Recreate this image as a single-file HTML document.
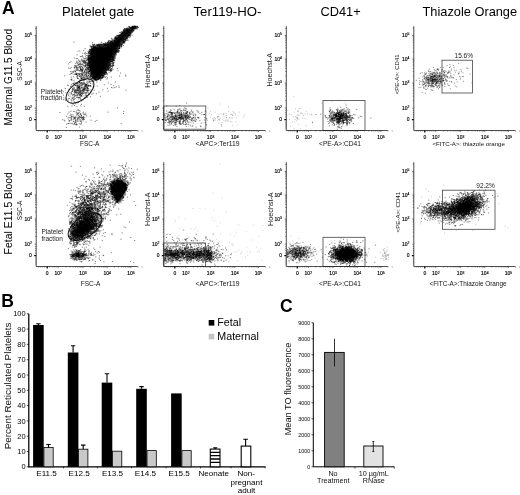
<!DOCTYPE html>
<html><head><meta charset="utf-8"><title>Figure</title>
<style>html,body{margin:0;padding:0;background:#fff}svg{display:block}text{font-family:"Liberation Sans", Arial, sans-serif}</style>
</head><body>
<svg width="520" height="495" viewBox="0 0 520 495">
<rect width="520" height="495" fill="#fff"/>
<defs><filter id="b1" x="-20%" y="-20%" width="140%" height="140%"><feGaussianBlur stdDeviation="0.9"/></filter><pattern id="hz" width="4" height="2.1" patternUnits="userSpaceOnUse"><rect width="4" height="1" fill="#111"/></pattern></defs>
<text x="2" y="14.3" font-size="17.5" text-anchor="start" font-weight="bold">A</text>
<text x="1.2" y="307" font-size="17.5" text-anchor="start" font-weight="bold">B</text>
<text x="280" y="312" font-size="17.5" text-anchor="start" font-weight="bold">C</text>
<text x="62" y="16.2" font-size="13" text-anchor="start">Platelet gate</text>
<text x="193.5" y="16" font-size="13.2" text-anchor="start">Ter119-HO-</text>
<text x="320.5" y="16" font-size="12.8" text-anchor="start">CD41+</text>
<text x="422.5" y="16" font-size="12.8" text-anchor="start">Thiazole Orange</text>
<text x="12.3" y="77.3" font-size="10" text-anchor="middle" transform="rotate(-90 12.3 77.3)">Maternal G11.5 Blood</text>
<text x="12.5" y="213.3" font-size="10.45" text-anchor="middle" transform="rotate(-90 12.5 213.3)">Fetal E11.5 Blood</text>
<path d="M94 78.6C92.7 76.9 91.3 71.9 90.6 68.5C89.9 65.1 89.7 61.3 89.9 58.1C90.1 54.9 91 51.4 92 49.5C93 47.5 93.4 47 95.8 46.3C98.2 45.7 103.7 46.1 106.4 45.4C109 44.7 109.7 43.5 111.6 42.2C113.5 40.9 115.8 39.3 117.9 37.6C119.9 35.9 121.9 33.6 123.9 32.1C125.8 30.6 127.3 29.5 129.6 28.5C131.9 27.4 136.3 26.3 137.5 25.9C138.7 25.5 137.6 25.7 136.8 26.3C136 26.9 134.5 27.8 132.8 29.5C131.1 31.2 128.7 34.1 126.6 36.6C124.6 39 122.2 41.7 120.4 44.2C118.6 46.7 117.2 49.3 115.8 51.8C114.3 54.3 113.1 56.9 111.8 59.4C110.5 61.9 109.4 64.4 108 66.8C106.6 69.3 105.1 72.2 103.5 74.1C102 76.1 100.3 77.8 98.7 78.5C97.1 79.2 95.4 80.2 94 78.6Z" fill="#000" filter="url(#b1)"/>
<path d="M128.7 35.8h.1M104.6 68.8h.1M113.3 54h.1M94.5 44.6h.1M107.4 45.5h.1M107.8 66.6h.1M92.9 78h.1M110.7 59.5h.1M113.2 56.9h.1M126.8 29.9h.1M107 44.5h.1M103.3 44.4h.1M99.8 44.3h.1M124.5 32.8h.1M132.3 27.5h.1M135.4 27h.1M94.9 78.3h.1M115.2 56.4h.1M130.3 36.5h.1M95.7 80h.1M94.5 47.3h.1M91 54.7h.1M129.2 32.6h.1M91.9 72.3h.1M92.5 73h.1M134.1 27h.1M127.2 30.7h.1M104.3 73.7h.1M128.4 35.4h.1M133.9 27.3h.1M132.5 28.4h.1M98.7 43.9h.1M92.9 77.2h.1M90 49.2h.1M122.4 43.4h.1M91.2 47.4h.1M115.6 38.7h.1M93.4 78.3h.1M113.2 63.1h.1M91.2 56h.1M101.8 44.3h.1M109.2 68.9h.1M133.1 27.4h.1M109.8 64h.1M128 37.4h.1M116.4 49.9h.1M89.4 66h.1M137.7 26.7h.1M133.4 28.1h.1M108.1 66.8h.1M114.7 39.9h.1M131.6 32.5h.1M89.9 70h.1M119 38.2h.1M108.4 40.7h.1M88.7 56h.1M113.2 59.8h.1M117.8 38.3h.1M98.6 79.1h.1M132.4 31.4h.1M129.5 33.1h.1M125.6 36.2h.1M123.3 42.5h.1M86.8 55.5h.1M123.8 33.6h.1M97.4 45h.1M119.2 35h.1M90.5 64.6h.1M100.4 80.1h.1M95.5 48.3h.1M123.2 40.2h.1M106.4 43.6h.1M107.9 67h.1M124.2 39.3h.1M89.4 58.7h.1M110.5 63.2h.1M102.6 76.9h.1M104.5 71h.1M133.2 27.7h.1M91.3 57h.1M90.5 50.2h.1M103.7 75.3h.1M137.2 29.1h.1M91.6 51.5h.1M105.6 67.6h.1M126.2 36.9h.1M132.4 27.6h.1M117.5 39.5h.1M121.2 35.7h.1M97.7 44.6h.1M91.7 73.4h.1M109.2 68h.1M126.7 29.6h.1M137 27.8h.1M109.6 43.4h.1M118.5 51.8h.1M91.2 75.3h.1M115.9 38.3h.1M92.4 74.7h.1M89.7 61.1h.1M98.6 77.9h.1M126.6 40.1h.1M122.5 33.1h.1M136.3 27.8h.1M107.9 66.8h.1M111.3 40.5h.1M132 32h.1M122.4 42.7h.1M114.5 41.1h.1M134.7 26.6h.1M114.3 52h.1M103.7 71.3h.1M90.3 55.7h.1M102.5 74.3h.1M92.5 78.5h.1M117.9 51.7h.1M113.9 60h.1M89.2 58.6h.1M119.9 32.5h.1M113 59.6h.1M94.1 76.7h.1M128.7 36.6h.1M114.5 56.7h.1M134.1 28.5h.1M119.1 47.3h.1M95.3 46.2h.1M93.2 50.7h.1M114.9 38.8h.1M91.5 52.1h.1M113 41.1h.1M100.6 74.8h.1M132.9 28.8h.1M111.9 42h.1M103 45.4h.1M99.6 75.7h.1M123.5 30.8h.1M96.3 77.5h.1M134.4 26.9h.1M105 69.6h.1M117.5 49.7h.1M133.5 31.3h.1M122.3 34.2h.1M107.6 67.5h.1M120.6 34.3h.1M104.8 73.7h.1M92.8 67.9h.1M123.1 33.4h.1M135.6 27.4h.1M99.9 76.4h.1M100.1 46.8h.1M111.3 57.4h.1M123.7 41.5h.1M119.3 45.1h.1M128.2 35.6h.1M98.9 79.2h.1M111.8 42.6h.1M118.3 35.7h.1M91.3 46.7h.1M91.4 72h.1M94.5 47.7h.1M104.6 72.4h.1M110.1 62.3h.1M89.7 61.8h.1M130.3 33.1h.1M128.8 29.6h.1M131.2 31.2h.1M125.7 40.6h.1M107.4 44.4h.1M99.9 77.7h.1M127.5 30.9h.1M127.9 34.2h.1M126.8 36h.1M89 50.4h.1M90.9 69.9h.1M120.6 35.2h.1M115.3 52.1h.1M111.9 59.6h.1M119.1 48.3h.1M89.6 61.4h.1M106.5 73.2h.1M113.4 57.3h.1M108.7 68.7h.1M105.9 73.1h.1M92.9 71.8h.1M92.4 74h.1M93.7 75.3h.1M99.7 46.3h.1M98.8 48.1h.1M90.7 51.3h.1M133.8 28.6h.1M92.5 72.9h.1M131 31.2h.1M90.9 54h.1M123.8 42.1h.1M94.2 75.3h.1M108.1 44.8h.1M102.7 75.6h.1M112.6 59.5h.1M124.3 38.8h.1M128.9 33.4h.1M91.8 50h.1M132.1 28h.1M92.5 72.8h.1M114.3 58.4h.1M100.7 78.9h.1M109 64.8h.1M90 71.8h.1M112.6 43.1h.1M110 45.4h.1M90.4 61.9h.1M127.2 35.6h.1M112.3 56.3h.1M108.1 44.9h.1M108.4 65.9h.1M111.2 55h.1M89 59.7h.1M114.2 52.4h.1M106.6 68.1h.1M92.2 49.5h.1M134.6 30h.1M125.8 35.5h.1M128.7 33.2h.1M89.6 64h.1M125.1 39.7h.1M128.8 35.5h.1M110.7 60.2h.1M111.8 57h.1M110.9 44.2h.1M119.2 46.5h.1M106.9 66h.1M107.5 69.6h.1M91.6 54.5h.1M93.7 74.5h.1M125.8 38.3h.1M94 47h.1M133.2 27.3h.1M103.2 76.9h.1M116.1 37.9h.1M99.5 44.3h.1M124.9 29.2h.1M124.8 39h.1M88.1 63.7h.1M116.7 38.3h.1M89.7 58.6h.1M124 39.1h.1M111.2 61.4h.1M116.6 38.1h.1M116.6 39.7h.1M93.9 46.4h.1M98.1 45.6h.1M112.2 44.8h.1M125.5 30.9h.1M89.2 66.9h.1M116.1 50.1h.1M132.7 29.1h.1M107.6 46.3h.1M89.6 67.3h.1M115.6 52h.1M88.4 59.3h.1M91.5 58.9h.1M89 58.8h.1M90.4 66.7h.1M106.1 72.4h.1M103 46.3h.1M107.7 44h.1M113.1 62.6h.1M127.2 34.1h.1M92.4 50.5h.1M123.1 32.3h.1M106.6 67.4h.1M115.4 38.1h.1M121.6 46.5h.1M90.7 63.8h.1M117.1 46.7h.1M115.7 54.8h.1M113 61.7h.1M123.5 41.2h.1M114.3 38.2h.1M91.7 69.3h.1M134.2 26.3h.1M115 50.7h.1M92.7 50.5h.1M101.9 44.5h.1M119.1 51.6h.1M106.2 70.1h.1M90.1 60.1h.1M90.5 50.9h.1M114.6 57.8h.1M126.8 37.4h.1M117.6 45.9h.1M95 79.3h.1M104 76.6h.1M109.6 62.3h.1M113.9 54.3h.1M117.9 36h.1M127 37.2h.1M92.4 51.4h.1M116.1 51.7h.1M115.8 51.2h.1M119.1 46.8h.1M123.9 31.8h.1M115 37h.1M121.8 33.3h.1M93.3 73.3h.1M111 63.4h.1M117.2 38.2h.1M118.4 46.6h.1M117.8 39h.1M112 61.3h.1M103.6 72.5h.1M119.2 38.5h.1M88.3 57.4h.1M115.4 50.9h.1M95.1 78.6h.1M91 56.6h.1M118.3 45.2h.1M109.3 59.9h.1M103.3 73h.1M89.7 60h.1M92.6 64.6h.1M96.7 80h.1M91.5 60.7h.1M91.8 52.9h.1M132.4 28.3h.1M124.7 30.9h.1M115.7 49.7h.1M89.8 49.4h.1M104.2 71.8h.1M94.6 47.3h.1M116 53.4h.1M89.2 68.3h.1M128.6 29.4h.1M91.1 74.2h.1M108.3 44.2h.1M107.9 43.3h.1M118.3 45.7h.1M126.4 30.6h.1M89.8 71.1h.1M94.4 79.6h.1M107.6 68.7h.1M107.4 74h.1M99.3 45.2h.1M118.4 37.5h.1M95.5 46.3h.1M91.7 60.2h.1M90.8 74.1h.1M90.3 59.2h.1M91.8 52.4h.1M110.2 65.9h.1M129.3 28.4h.1M91.9 51.1h.1M123.6 41.4h.1M102.1 47.3h.1M135.8 27h.1M104.5 45.8h.1M133.9 26.7h.1M128.2 36.2h.1M137.2 26.6h.1M118.7 35.6h.1M114.2 56h.1M107.8 67.6h.1M92.9 52.4h.1M90.5 57.9h.1M89.7 62.5h.1M97.7 78.7h.1M102.2 76h.1M96.6 44.8h.1M98.6 79.5h.1M92.6 46.3h.1M133 26.9h.1M132.2 28.3h.1M106 72.6h.1M91.2 73.4h.1M107.7 42.6h.1M130.6 31.4h.1M89.3 69.6h.1M96.7 45.2h.1M126.2 28.7h.1M107.9 68.2h.1M117.3 51.6h.1M111.7 61.7h.1M115.5 51.4h.1M121.4 45.3h.1M109.4 64.2h.1M124 42.6h.1M116.8 48.7h.1M105.9 43.9h.1M90.9 53h.1M116.9 51.7h.1M88.8 52.8h.1M103.9 72.9h.1M129.9 30.5h.1M111.1 43.2h.1M102.6 74.9h.1M88.5 54.9h.1M132.7 26.3h.1M89 65.6h.1M98.5 77.4h.1M132.4 29h.1M113.4 57.8h.1M103.6 43.5h.1M112.2 56.4h.1M121.4 44.5h.1M126.8 37.7h.1M100.8 76.3h.1M122.7 32.5h.1M120.5 35.4h.1M119.9 42h.1M111.2 61.5h.1M111.6 41.5h.1M123.5 40.1h.1M94.7 49.2h.1M115.5 53h.1M90.1 69.9h.1M119.9 47.7h.1M93.6 76.4h.1M100.7 77.7h.1M127.2 29.2h.1M120.3 35.5h.1M119.6 46.3h.1M135.3 26.6h.1M119.3 48.6h.1M90.8 66.3h.1M134.8 27.8h.1M135.1 27h.1M103.4 75.6h.1M93.5 73.1h.1M125.9 31.3h.1M127.4 35.8h.1M136.4 26.9h.1M90.7 67.4h.1M130.2 30.7h.1M92.9 44.4h.1M91.4 48h.1M108.2 68.7h.1M92.7 48.8h.1M124.8 28.8h.1M117.2 50.9h.1M119.6 44.5h.1M135.2 26.9h.1M112.9 58.3h.1M126.6 29h.1M129 35.2h.1M113.8 60.7h.1M122.4 40.7h.1M127 38.3h.1M120.5 35.8h.1M133.8 26.6h.1M119 37.2h.1M117.1 49.5h.1M116 37.1h.1M127.1 28h.1M116.1 50.2h.1M132.4 28h.1M112.8 43.1h.1M110.8 61.1h.1M116.6 39h.1M109.7 63.2h.1M113.2 54.7h.1M124.4 32h.1M119 45.4h.1M91.2 73.7h.1M117.4 35.5h.1M106.4 64.6h.1M132.3 29.7h.1M135.6 27.4h.1M125.1 39.9h.1M122.9 41.2h.1M132.1 30.2h.1M121.9 34.8h.1M91 50.4h.1M106.1 44.5h.1M105.5 44.6h.1M123.2 32.6h.1M94.3 78.3h.1M114.8 41h.1M124.3 31.6h.1M115.4 38.5h.1M132.8 29.7h.1M102.1 77.7h.1M108 70.1h.1M117 39.3h.1M101.9 46.9h.1M108.9 69.5h.1M129.4 26.5h.1M122 41.4h.1M90.7 67.4h.1M108.3 65.6h.1M108.5 44.3h.1M132 29.4h.1M92.1 48.7h.1M123 35.4h.1M110 59.9h.1M111.9 61.7h.1M128.2 30.1h.1M115.6 53h.1M125.9 30h.1M115.1 37.7h.1M92.3 49h.1M109.2 43.9h.1M121.5 46h.1M116.4 54.1h.1M92.1 70.5h.1M117.9 48.3h.1M112.4 60h.1M124.4 31.4h.1M88.3 70.8h.1M123.5 42.5h.1M98.6 45.8h.1M126.3 37.4h.1M117.2 39.6h.1M127.1 36.8h.1M99.9 45.5h.1M135.3 26.3h.1M125.3 33.7h.1M93.1 49.2h.1M100 78.4h.1M105.9 46.7h.1M107.9 44.7h.1M99.9 45.8h.1M90.1 69.1h.1M121.9 33.7h.1M114.7 53h.1M121 45.8h.1M92 49.3h.1M90.3 58.3h.1M110.2 44.2h.1M115.7 52.2h.1M129.7 27.4h.1M102.1 72.9h.1M125.8 39.2h.1M129.5 35.5h.1M115.2 53h.1M117.1 50.5h.1M113.1 42.6h.1M100.3 44.5h.1M121.8 31.7h.1M131.1 28.2h.1M91.5 57.5h.1M124.6 32.3h.1M127.9 37.4h.1M88.1 59h.1M88.5 58h.1M89.3 51.7h.1M104.1 45.8h.1M100.1 77.1h.1M92.9 75.7h.1M91.1 51.2h.1M92.3 53.8h.1M127.8 28.3h.1M91.9 78h.1M127 31.6h.1M92.6 54h.1M101.7 44.9h.1M112.9 56.1h.1M93.7 52.4h.1M130.3 35.2h.1M119.6 35.5h.1M121.8 34.2h.1M114.2 60.8h.1M90.4 55.1h.1M103.8 73.1h.1M106.6 69.6h.1M123.3 39.2h.1M92.4 71.4h.1M125.2 39.9h.1M129.7 32.6h.1M114.7 53.8h.1M93 46.3h.1M102.1 77.9h.1M108.4 68.8h.1M89.6 61.6h.1M108.3 43.1h.1M90.8 75.1h.1M110.3 61.4h.1M106.2 74.2h.1M95.4 78h.1M129.2 33.8h.1M123.4 38.9h.1M122.7 40.7h.1M133.3 28.5h.1M101.7 78.6h.1M128.6 32h.1M110.8 41.8h.1M133.8 27.2h.1M93.6 76h.1M117.6 45.9h.1M121 44.2h.1M121.9 35.2h.1M110.3 64.5h.1M116.2 51.3h.1M112.2 43h.1M90.9 67.5h.1M91.3 59.2h.1M89.9 50.4h.1M107.4 45.9h.1M124.5 30.1h.1M104.2 75.9h.1M103.2 46.1h.1M104.7 69.9h.1M123.7 43h.1M110.8 65.2h.1M119.6 36.6h.1M93.7 78.2h.1M114.8 55.9h.1M98.9 45.3h.1M87.9 56.9h.1M112.6 56.2h.1M123.1 42.8h.1M95.1 47.8h.1M101.1 42.3h.1M101.5 75.4h.1M102.5 47.9h.1M120.6 44.5h.1M89.7 59.5h.1M114.1 59.4h.1M90 61.7h.1M134 26.6h.1M91.1 73.6h.1M109.5 62.3h.1M88.8 65.5h.1M102.2 45.1h.1M115.8 51.5h.1M130.4 33.5h.1M108 44.1h.1M126.4 34.5h.1M124.3 29.1h.1M107.9 64.5h.1M105.2 43.4h.1M117.3 51.9h.1M127.4 36.1h.1M116.4 48.6h.1M116.8 38h.1M119.4 48.2h.1M121.4 44.4h.1M118 36.8h.1M91.1 74.7h.1M99.4 77.8h.1M119.9 45.9h.1M94.5 50h.1M118.6 48.4h.1M103.6 45.4h.1M127.6 29.6h.1M110 65.2h.1M124.3 30.3h.1M105.5 47.8h.1M107.2 43.9h.1M91.4 67.5h.1M93.8 46.1h.1M101.8 42.7h.1M90.8 52.7h.1M90.3 69.8h.1M127.2 29.9h.1M94.2 47.1h.1M118.6 49.7h.1M105.3 74.3h.1M103 46.3h.1M132.3 27.8h.1M133.4 27.9h.1M89.4 67.6h.1M88.4 60.5h.1M107.7 69h.1M128.9 29.7h.1M112.1 58.1h.1M91.5 69.1h.1M131.3 31.3h.1M110 66.7h.1M107.3 65.5h.1M93 77.9h.1M134.9 26.3h.1M115.2 37.8h.1M116.2 51.4h.1M88.2 68.2h.1M101.6 44.7h.1M113.2 59.1h.1M126.6 28.3h.1M124 29.7h.1M97.1 77.5h.1M109 41.9h.1M91.9 72.2h.1M118.4 37.3h.1M91.2 56.3h.1M92.7 66.6h.1M134.1 28.6h.1M100.3 76h.1M133.4 30.3h.1M124.4 37.6h.1M108.5 41.2h.1M133.3 27.6h.1M116.2 50h.1M130.9 30.5h.1M112.4 57.6h.1M136.9 28.1h.1M92.8 49.2h.1M132.9 30.1h.1M130.3 28.6h.1M92.5 54.2h.1M128.9 34.7h.1M110.6 59h.1M88.9 58.5h.1M119 48.4h.1M119.7 35.5h.1M102.5 47.4h.1M116.9 39.1h.1M137.7 27.7h.1M122.9 43.4h.1M134.8 28.3h.1M89.5 62.8h.1M111.5 59.6h.1M103.9 73.9h.1M87.9 63.1h.1M99.4 46.4h.1M90.6 52.3h.1M109 64.1h.1M106.3 72.9h.1M91.9 71.8h.1M111.7 43.4h.1M93.3 50.1h.1M129 31.3h.1M104.6 73.4h.1M88.2 68.3h.1M92.4 54h.1M129.2 27.2h.1M135.1 26.2h.1M116.3 50.1h.1M123.8 32.3h.1M90.4 57.4h.1M113.8 41.8h.1M96.5 80.7h.1M115.1 49.1h.1M88.5 61.8h.1M112.6 58.3h.1M108.3 44.1h.1M114.3 54.8h.1M93.1 77.4h.1M108.7 66.4h.1M90 53.7h.1M125.6 29.8h.1M122.9 38h.1M88.4 52.7h.1M88.1 57.4h.1M104.1 44.2h.1M93 70.6h.1M94.5 47.2h.1M90.9 58.4h.1M127.4 30h.1M112.8 39.2h.1M131.3 30.4h.1M104.4 44.5h.1M94 73.8h.1M111.2 43h.1M116.6 50.6h.1M99.7 46.7h.1M120.5 35.8h.1M118.2 52.3h.1M120.1 36.2h.1M106.6 69.3h.1M103.7 73.3h.1M107.1 42.5h.1M119.1 50.2h.1M99.5 46.2h.1M90.6 57.9h.1M123 33h.1M131.2 33.3h.1M101.2 74.8h.1M88.7 56.1h.1M121.2 46.5h.1M128.6 28.9h.1M89.6 58.9h.1M98 79.4h.1M121.6 44.3h.1M91.2 59.4h.1M106.2 72.3h.1M89.5 63.2h.1M91.1 65.2h.1M110.4 42.5h.1M103.1 75.1h.1M93.4 72.9h.1M102.2 72.4h.1M128.8 33h.1M88.6 69.3h.1M132.6 27.4h.1M125.6 29h.1M133.9 27.2h.1M117.7 48.6h.1M123.8 41.4h.1M94.7 78.4h.1M91.2 55.1h.1M111.3 58.6h.1M120 35.5h.1M113.7 54.6h.1M105.7 68.5h.1M95.5 79.5h.1M101.6 46.5h.1M124.8 29.9h.1M101.5 75.3h.1M101.1 75.9h.1M115.7 38.8h.1M101.1 75.1h.1M119.5 36.5h.1M116.2 38.6h.1M116.6 52.1h.1M127.2 28.8h.1M123.2 30.4h.1M118.8 39.1h.1M123.6 32.9h.1M90.1 58h.1M90.7 69.8h.1M116.2 50.6h.1M134.8 28.8h.1M124.3 42h.1M112.6 57.5h.1M97 47.1h.1M96 45h.1M103.6 43.7h.1M107.8 44.6h.1M116.3 52.3h.1M116.4 38.7h.1M108.9 41.5h.1M126.9 36.3h.1M92.6 50.7h.1M89.8 62.3h.1M120.4 43.7h.1M116.9 51.2h.1M106.7 44.4h.1M127.6 36.3h.1M92.9 73.7h.1M122.2 38.7h.1M132.6 29.8h.1M100.4 49.4h.1M113 40.6h.1M130.3 34.6h.1M131.3 31h.1M90.8 55.1h.1M120.8 45.1h.1M90.1 66.6h.1M98.1 77.6h.1M93.2 49.3h.1M100 46.8h.1M91.3 47.9h.1M94.7 78.8h.1M105.3 44.7h.1M129.8 32.6h.1M96 79.6h.1M100.4 76.4h.1M91.2 73.2h.1M130.7 33.6h.1M120.2 43.8h.1M111.7 43.1h.1M109.6 40.6h.1M93.9 77.4h.1M92 72.9h.1M88.6 67.8h.1M92.6 48h.1M110.8 42.8h.1M86.8 67.7h.1M92.1 74.6h.1M104.7 74.5h.1M122.7 32.3h.1M94.2 49.2h.1M118.6 43.7h.1M92.4 77.8h.1M98.6 44.9h.1M99.3 77.4h.1M105.2 69.3h.1M125.9 34.5h.1M89.9 65h.1M110.2 44.3h.1M91.1 75.2h.1M93.7 45.7h.1M89.7 76h.1M89.2 60.2h.1M126.7 35.6h.1M90.9 63.1h.1M93.6 56.6h.1M104.5 71.1h.1M111.5 42.1h.1M110.6 41.4h.1M89.9 65.8h.1M114 56.9h.1M124.1 41.7h.1M129.9 35.4h.1M91.2 64.6h.1M100.1 46.5h.1M131.4 29.1h.1M102 78h.1M113.3 60.6h.1M126.7 38h.1M134.8 28.4h.1M93 77h.1M106.7 69.8h.1M90.3 68.6h.1M90.1 59.6h.1M122.8 42.7h.1M111.9 59.1h.1M114.5 55.7h.1M126 31.2h.1M91 52.8h.1M92.6 73.8h.1M109.3 64.1h.1M97.1 79.5h.1M98.7 46.1h.1M109.6 66.2h.1M118.7 35.9h.1M109.1 45.4h.1M95 76.8h.1M123.9 30.9h.1M91.6 49h.1M117.3 44.3h.1M132.7 28.2h.1M108.2 66.3h.1M105.2 70.7h.1M109.4 44.5h.1M103.4 44.2h.1M102.4 75.6h.1M132.2 26.6h.1M90.7 63.6h.1M91 72h.1M95.2 78.1h.1M132.6 29.5h.1M91.1 71.3h.1M133.9 26.9h.1M132.9 28h.1M124.4 34.2h.1M101 77.1h.1M101.5 75.4h.1M89.4 60h.1M91.2 55.9h.1M120 35.3h.1M113.1 63.6h.1M128.8 35h.1M118.4 48.6h.1M132.5 28.7h.1M95.4 49.8h.1M112.5 60h.1M94.3 76.6h.1M121.9 44.7h.1M92.3 49.4h.1M129.4 29.9h.1M97.6 79h.1M91.4 70.4h.1M122.8 33.4h.1M123.5 38.5h.1M91.5 70.7h.1M98.3 44.5h.1M90.5 76.6h.1M117.1 37.6h.1M131.9 26.7h.1M105.9 44.1h.1M127.1 40.2h.1M88.9 52.6h.1M105.1 71.5h.1M100.6 78.1h.1M130.6 27.9h.1M127 29.5h.1M109.4 65.5h.1M105.3 45.8h.1M111 56.2h.1M104.5 46.4h.1M117.3 45.4h.1M111 42h.1M130.5 32.6h.1M102 73.5h.1M90 71.4h.1M112.8 58.2h.1M115.4 36.7h.1M111.5 39h.1M90.7 68.2h.1M100.2 44.7h.1M129.2 35h.1M90.2 64h.1M123.8 40.1h.1M99.8 77.3h.1M96.7 77.9h.1M105.6 69.4h.1M112 58.4h.1M91.1 51.1h.1M98.9 77.1h.1M93.3 50h.1M108.9 67.4h.1M107.6 67.5h.1M129.1 34.9h.1M136 28.8h.1M93 49.6h.1M135 27h.1M105.8 45h.1M90.6 59.5h.1M88.7 59.8h.1M112.8 57.2h.1M104 74h.1M89.5 57.5h.1M93 77.1h.1M100.7 46.1h.1M88.8 58.5h.1M91.5 50.5h.1M132.8 30.4h.1M121.4 33.6h.1M122.1 32.8h.1M92.5 47.3h.1M125.2 40.7h.1M104.6 44.4h.1M118.1 35.3h.1M126.6 29.7h.1M106.4 72.3h.1M98.8 45.1h.1M117.4 44.8h.1M107.8 42.6h.1M106.3 70.1h.1M119.3 37.6h.1M133.2 27.5h.1M107.3 67.7h.1M124.9 42.9h.1M89.8 65.1h.1M91 58.4h.1M95.6 79.2h.1M93.6 74.5h.1M105.6 43h.1M99.7 77.2h.1M95.6 76.2h.1M91 53.9h.1M94 47.4h.1M90.6 66.5h.1M129.4 30.8h.1M131.8 32.2h.1M107.9 41.7h.1M92.1 61.7h.1M113.9 59.5h.1M112.6 57.1h.1M89.3 57.9h.1M137.1 26.8h.1M129.2 36.2h.1M121.7 33.4h.1M108.1 66.2h.1M118.1 36.3h.1M133.5 27.5h.1M91.5 61.2h.1M132.7 26.5h.1M115.1 52.4h.1M117.6 47.2h.1M100.9 44.3h.1M95 77.4h.1M117.5 46h.1M122.7 33.6h.1M121.3 34.5h.1M115 54.5h.1M89.9 52.6h.1M126.6 37.1h.1M120.1 46.2h.1M134.1 26.2h.1M106.5 67.1h.1M127.3 29.4h.1M127.1 30.7h.1M104.6 43.9h.1M104.9 72.7h.1M109.3 43.1h.1M119.4 42.1h.1M119.8 35.2h.1M101.9 74.7h.1M101.5 77.9h.1M92.6 75h.1M94.5 78.2h.1M130.7 33.8h.1M89.7 67.3h.1M131.1 27.7h.1M89.5 71.6h.1M91.8 51.2h.1M114.7 38.7h.1M107.7 45.1h.1M129.9 32.6h.1M111.8 60.4h.1M103.7 77.4h.1M110.3 40.9h.1M133.7 29.2h.1M91.5 78.5h.1M115.9 38.5h.1M100.1 77.5h.1M88.6 60.2h.1M109.6 67.5h.1M128.1 40.2h.1M106.3 45.3h.1M114.1 54h.1M104.7 43.9h.1M105.8 69.3h.1M90 66.6h.1M93.5 60.2h.1M118.6 51.7h.1M124.3 30.2h.1M89.1 56.7h.1M105.4 42.6h.1M136.1 27.1h.1M118.4 50.5h.1M108.7 64.9h.1M91.2 69.6h.1M132.3 32.2h.1M97.1 79.9h.1M127.2 31.2h.1M115.5 53.2h.1M90.7 64.4h.1M107.3 66.5h.1M133.3 30.7h.1M106.5 69h.1M113.3 54.6h.1M108 66.6h.1M89.1 71.3h.1M118.2 44.8h.1M91.8 48.5h.1M101.8 44.8h.1M109.8 42.6h.1M129.4 30.5h.1M127 35.4h.1M103 74.9h.1M92.8 76.4h.1M92.4 49.8h.1M114.6 40.9h.1M112.9 59.9h.1M134.9 26.9h.1M115.2 51.4h.1M125.5 39h.1M104.9 45.2h.1M89 65.3h.1M127 31h.1M108 68.4h.1M130.7 32h.1M92.3 71.3h.1M123.3 31.8h.1M117.7 37.2h.1M132.3 30h.1M132.2 31.3h.1M100.3 76.1h.1M111.6 41.9h.1M120.7 34.4h.1M129.7 34.4h.1M108.1 69.8h.1M119.3 44.4h.1M129.1 30.6h.1M112.5 59.3h.1M129.3 27.7h.1M100.7 80.1h.1M104.8 45.3h.1M91.2 59.2h.1M112.5 61.5h.1M106.8 46.6h.1M108 63.3h.1M132.1 35.2h.1M132.6 26.8h.1M89.1 66.3h.1M115.3 55.1h.1M88.4 69.6h.1M99.1 78h.1M109 68.3h.1M107 45.3h.1M91.4 59h.1M108.1 70.3h.1M128.5 26.6h.1M88.6 60.2h.1M131 27.2h.1M98.6 45.8h.1M119.5 34.9h.1M127.5 38.4h.1M105.3 72.4h.1M113.9 57.9h.1M90 54.3h.1M128.1 28.3h.1M130.5 27.5h.1M95.6 79.5h.1M91 65.9h.1M133.1 26.3h.1M107.2 74h.1M119.7 35.9h.1M101.3 45.5h.1M109.2 42.6h.1M104.1 74.2h.1M91.9 65.9h.1M93.5 47.1h.1M90.7 66.1h.1M119.1 45.1h.1M106.1 45.3h.1M105.5 70.4h.1M106.5 70.4h.1M105.3 77.7h.1M100.6 44.8h.1M93.6 79h.1M118 37.8h.1M98.6 76.8h.1M114.9 52.1h.1M92.1 69.8h.1M119.6 43.1h.1M104.4 72.7h.1M98.7 78.6h.1M118.9 44.7h.1M107.7 65.2h.1M108.8 62.1h.1M114.5 40.1h.1M90.6 63.5h.1M119.4 48.5h.1M88 58h.1M116.8 38.7h.1M95.1 79.8h.1M135.8 28.6h.1M102 77.9h.1M104.3 45.1h.1M94.6 77.5h.1M105.6 72.3h.1M115.1 41.3h.1M110.1 43.8h.1M88.3 59.1h.1M104.9 73h.1M92 50.5h.1M92.7 77.1h.1M105.6 68.5h.1M131 32.6h.1M123 40.6h.1M117.7 47.1h.1M90.7 72.5h.1M90.9 65.1h.1M92.1 71.1h.1M116.7 48.3h.1M125.5 39.7h.1M127.9 33.9h.1M91.9 71h.1M97.4 45.1h.1M107.1 70.3h.1M91.2 59.8h.1M92 71h.1M103.3 75.7h.1M90.1 53.2h.1M120.2 35h.1M138.2 27.5h.1M121.3 47.8h.1M103 76h.1M116.4 48.2h.1M114.2 41.1h.1M91.9 67.6h.1M119.2 44.8h.1M97.6 79.4h.1M93.6 75.5h.1M113.9 54h.1M92.1 52.6h.1M124.3 28.7h.1M135.4 26.6h.1M128.8 34.8h.1M95.6 79.9h.1M122.6 42.7h.1M118.1 36.7h.1M119.4 45.7h.1M127.6 31h.1M121.7 35.4h.1M115.8 40h.1M130.5 28.1h.1M104.8 45.5h.1M98 45.6h.1M89.5 55.7h.1M123.8 31.7h.1M106.2 46.2h.1M108.6 61h.1M109.5 63.8h.1M112.9 42.4h.1M127.6 33.7h.1M106.1 71.6h.1M115.1 40.9h.1M135.6 28.2h.1M124.5 31.1h.1M126.1 38.4h.1M99.7 76.7h.1M89.3 57.1h.1M99.8 78.2h.1M122.9 39.8h.1M114 56.4h.1M129.7 37.3h.1M107.8 66.9h.1M108.5 42h.1M121.5 45.8h.1M100.8 44h.1M132.9 27.5h.1M124.2 42.7h.1M93.1 48h.1M90.7 69.6h.1M113.7 56.2h.1M113.5 58.6h.1M124.1 40h.1M109.9 43.5h.1M125.9 39.1h.1M91.8 66.6h.1M123.8 39h.1M132 28.1h.1M129.5 34.7h.1M123.7 29.7h.1M96 47.5h.1M119.6 48h.1M125.7 29.3h.1M118.9 50.4h.1M115 40.7h.1M89.5 65.9h.1M136.8 26.4h.1M127 33.2h.1M103.5 73h.1M108.2 69.6h.1M91.2 70.5h.1M115 53.3h.1M101.3 44.8h.1M122.3 44.7h.1M116.3 37.2h.1M110.1 44.7h.1M130.1 28h.1M121 42.5h.1M125.5 36.3h.1M123.1 42.1h.1M116.4 36.7h.1M122.8 40.7h.1M114 42.9h.1M128.5 32.1h.1M126 31.2h.1M134.5 28.2h.1M92.1 76.4h.1M131.4 27.5h.1M94.5 47.5h.1M118.1 37.4h.1M91.4 67.4h.1M125.6 38.6h.1M106.2 69.5h.1M111.6 38.3h.1M89 63.2h.1M128.2 34h.1M90.6 59.8h.1M106 69.4h.1M91.3 59.7h.1M114.8 40.1h.1M131.3 28.9h.1M88.1 61.2h.1M108.5 43.3h.1M103 45.3h.1M117.8 45h.1M96.2 77.5h.1M114.4 40.5h.1M113.6 55.5h.1M89.2 57.5h.1M132.1 30h.1M122.1 32h.1M105.1 44.5h.1M112.1 60.2h.1M114.9 48.6h.1M91.4 58.4h.1M105.7 44.6h.1M113.3 59.9h.1M95.5 79.4h.1M130.6 34.8h.1M108 67.1h.1M97.1 78.3h.1M117.7 49.6h.1M127.4 38.9h.1M95 46.1h.1M116.2 39.2h.1M128.3 34.8h.1M104.9 74.7h.1M106.4 44.6h.1M119.5 36.9h.1M90.7 75.9h.1M121.2 43.9h.1M124.6 32.3h.1M115.3 58.1h.1M97.1 45.4h.1M124.6 39.5h.1M124.1 41.2h.1M127.3 30.6h.1M92.1 50.1h.1M121.4 37.6h.1M118.5 50.7h.1M93.8 50.6h.1M89.3 64.8h.1M126.3 30h.1M97.6 46.3h.1M113.2 57.8h.1M112.1 60.3h.1M102.9 77.1h.1M113.1 63.8h.1M126 38.3h.1M90.3 49.9h.1M110.5 61h.1M119.1 48h.1M117 50.2h.1M120.7 43.2h.1M110.5 60.7h.1M106.1 45.2h.1M124.6 41.3h.1M134.9 26.4h.1M111.9 41.7h.1M110.6 42.5h.1M89.4 55.8h.1M131.3 30.1h.1M115.7 39h.1M120.2 32.4h.1M107.4 63.7h.1M121.8 41.2h.1M123.4 42h.1M96 77.1h.1M92.8 45h.1M133.4 29.7h.1M87.8 65.5h.1M116.8 35.4h.1M101.6 77.3h.1M89.9 65.3h.1M117.3 51.8h.1M107.9 66.5h.1M132.8 26.4h.1M112.3 56.8h.1M124.2 32.2h.1M112.8 39.6h.1M133.5 27.5h.1M92.1 49.4h.1M107.4 43.3h.1M108.4 45.3h.1M95.8 79.9h.1M110.4 41.5h.1M95.4 47.3h.1M102.1 75.6h.1M90.5 58h.1M99.7 78h.1M109.1 64.3h.1M125.2 37.2h.1M121.3 32h.1M93.2 49.7h.1M88.7 62.9h.1M89.9 63.8h.1M112.6 40.5h.1M119.1 35.9h.1M104 74.3h.1M137.5 26.3h.1M95.7 79.2h.1M119.4 47h.1M88.1 56.6h.1M91.2 54.2h.1M92 72.3h.1M102.7 76.6h.1M112 41.9h.1M90 50h.1M88.2 64h.1M125.2 37.6h.1M126.9 30.9h.1M92.4 77.6h.1M120 45.9h.1M99.7 45.7h.1M115.8 55.1h.1M130.3 28.7h.1M126.5 31h.1M121.6 40h.1M94.9 80.3h.1M111.7 56.7h.1M90.9 68.9h.1M131.3 28.1h.1M97.2 45.2h.1M90.1 63.5h.1M92.1 49.8h.1M99.2 47h.1M99.8 77.7h.1M116.7 49.2h.1M109.8 65.1h.1M121.3 44.1h.1M108.8 43h.1M117 35.5h.1M123.4 30.9h.1M105.9 45h.1M121.2 33.3h.1M115.3 52.6h.1M88.3 67.5h.1M102.9 44h.1M129.3 30h.1M124 41.7h.1M88.4 71.8h.1M93.3 77.3h.1M96.8 68.4h.1M92.4 49.8h.1M96.6 69.8h.1M91.3 75h.1M97.9 49.7h.1M91.9 55.2h.1M90.4 58.9h.1M93.9 71.9h.1M91.7 76.3h.1M97.6 69.6h.1M88.1 75.2h.1M95.6 57h.1M88.5 60.8h.1M93.7 46.6h.1M91.6 73.2h.1M94.2 64.4h.1M92.3 72.4h.1M92 58.6h.1M95.7 49.2h.1M97.4 59.9h.1M94.2 78.7h.1M92 69.1h.1M100.8 68.9h.1M95.5 76h.1M90.2 65.5h.1M87.7 64.2h.1M94.3 66.7h.1M92.5 42.7h.1M91.8 62.9h.1M95.1 76.8h.1M88.9 64.1h.1M94.9 57.6h.1M99.3 61.1h.1M92.3 56.3h.1M94.4 72.9h.1M93.4 45h.1M94.5 44.2h.1M87.9 51.7h.1M88.5 51.9h.1M84.7 53.4h.1M94.9 66.9h.1M89.9 49.5h.1M86.9 62.9h.1M91.1 49.8h.1M94.8 73.8h.1M95.6 54.6h.1M92.1 71.9h.1M92 51.2h.1M93.3 48.3h.1M95.3 77h.1M96.6 76.2h.1M92.5 72.5h.1M86.1 73.9h.1M100.8 48h.1M86 57.9h.1M89.9 65.6h.1M90.6 61.1h.1M88.8 76.9h.1M96.9 58h.1M87.8 53.8h.1M95.2 59.1h.1M98.4 67.3h.1M96.4 49.4h.1M88.8 55.4h.1M93.2 68.7h.1M95.3 55.6h.1M98.1 57h.1M95.3 64h.1M90.7 70.2h.1M90.1 76.8h.1M95.2 70.8h.1M100.3 52.5h.1M95.1 71.8h.1M97.6 58h.1M90.3 76h.1M93.6 54.3h.1M94.5 48.7h.1M97.6 59.2h.1M92.9 72.5h.1M94 72.2h.1M97.1 73.9h.1M94 77.5h.1M97.4 62.8h.1M89.5 58.2h.1M95.6 77.5h.1M99.2 53h.1M97.4 59.6h.1M92.2 56.2h.1M87.7 66h.1M95.8 69.2h.1M94.8 54.5h.1M85.8 64.4h.1M93.1 54.5h.1M86.1 71.1h.1M91.9 49.7h.1M98.9 78.6h.1M90.1 53.4h.1M92.5 52.7h.1M96.3 64.9h.1M89.7 74.4h.1M88.6 72.5h.1M98.1 61.9h.1M91.3 70.2h.1M97.5 52.7h.1M97.6 66.3h.1M96.6 49.9h.1M92.7 73.6h.1M91.1 65.2h.1M99.6 47h.1M97.1 74.9h.1M94.8 55.2h.1M95.1 58.3h.1M100.3 52.2h.1M91.9 58h.1M97.9 52.4h.1M94.3 78h.1M93.3 51.8h.1M96.5 66.2h.1M89 65.3h.1M99.8 55.2h.1M101.7 60.2h.1M89.8 68.4h.1M97.8 69.3h.1M85.9 63.1h.1M94.1 75.7h.1M91.2 55.9h.1M100 52.5h.1M94.8 76.2h.1M95.2 66.5h.1M93.5 47.6h.1M89.2 65.2h.1M96 52.3h.1M98.5 50.5h.1M88.3 75.6h.1M90.8 53.8h.1M92.4 73.3h.1M97.1 46.9h.1M92.4 67.1h.1M95.1 54.6h.1M89.9 46h.1M100.5 73.8h.1M92.7 46.2h.1M94.4 77.1h.1M86.6 69.3h.1M93.9 66.6h.1M94.1 76.2h.1M86.3 53.5h.1M87.3 55.6h.1M91.9 76.8h.1M92.5 66h.1M98.6 53.9h.1M95.2 74.8h.1M94.8 72.8h.1M87.6 68.8h.1M93.5 48h.1M93.1 62.1h.1M98.1 58.4h.1M90 62.5h.1M90.8 67.2h.1M91 60.8h.1M89.3 70.5h.1M95 60.3h.1M87.8 60h.1M91 52.4h.1M86.3 60.7h.1M90.4 54.2h.1M90.2 58.5h.1M93.1 56h.1M94.3 59.7h.1M87.1 67.6h.1M103.1 57.7h.1M91.9 56.4h.1M92.3 71.9h.1M89.9 71.8h.1M97 71.8h.1M93.1 76h.1M88.3 60.3h.1M92.4 69.6h.1M91.2 74.2h.1M87.3 64.8h.1M85.1 61.4h.1M95.9 67.9h.1M90.2 70.9h.1M97 75.1h.1M88 72.3h.1M98.7 49.1h.1M95 63h.1M98.1 49.6h.1M92.4 44.3h.1M91.9 49.9h.1M91.7 61.7h.1M96.2 78.4h.1M89.6 51.5h.1M98.3 55.5h.1M97.6 50.8h.1M93.7 75.8h.1M89.9 62.4h.1M92.1 68.5h.1M93.9 71.3h.1M94.8 46.3h.1M95.8 54.4h.1M99.1 53.8h.1M93.6 64.5h.1M95.8 67.3h.1M95.2 59.1h.1M89.3 79.8h.1M96.4 67.9h.1M92.7 75.7h.1M97.6 69.5h.1M93 79.3h.1M95.5 63.3h.1M100 55h.1M90.2 77.8h.1M99.4 62.2h.1M99.2 50.1h.1M88.7 71.6h.1M96 70.3h.1M94.3 51.6h.1M90.8 46.5h.1M95.3 74.8h.1M87.4 65.6h.1M88.9 67.4h.1M94.9 71.3h.1M91.3 68.1h.1M98.6 67.1h.1M86.3 65.6h.1M95.2 66.1h.1M89.2 51.4h.1M99.5 52.8h.1M95.3 52.3h.1M89.7 52.7h.1M96.9 46.9h.1M99.4 54.7h.1M89.5 70.1h.1M94.2 72.8h.1M93.4 66.3h.1M88.8 65.4h.1M86.8 64.9h.1M90 52h.1M95.2 63.4h.1M94 44.7h.1M90.6 58h.1M96.4 63.4h.1M87.9 66h.1M94.4 59.3h.1M94.9 63.1h.1M89.9 73.3h.1M96.3 49.6h.1M80.4 67.5h.1M80.7 70.7h.1M79.2 67.5h.1M80.1 71h.1M86.7 60.2h.1M83.5 62.4h.1M86.1 75.4h.1M84.7 65.8h.1M91.3 46.8h.1M92 72.8h.1M92.7 48.6h.1M79.3 86.9h.1M81.9 75.6h.1M82.5 75.3h.1M89.3 64h.1M83 57.2h.1M91.2 69.2h.1M92.9 72.1h.1M92.9 64.1h.1M80.9 69.6h.1M73.2 72.4h.1M79.9 73.7h.1M88.1 59.8h.1M83.1 68.8h.1M84.4 62.5h.1M91.3 75.9h.1M75.5 82.9h.1M85.2 86h.1M88.3 73.3h.1M73.4 76.8h.1M80.8 84.6h.1M80.9 68.5h.1M78 69.9h.1M71.2 73.5h.1M75.5 65.9h.1M87.9 65.3h.1M84.2 61.6h.1M85.6 69.7h.1M80 61.5h.1M79.9 75.8h.1M83.6 65.6h.1M71.1 79.7h.1M71.2 77.1h.1M90.2 58.7h.1M81.7 79.3h.1M80.1 63.8h.1M79.5 81.4h.1M86.3 75h.1M94.5 72.1h.1M77.1 73.7h.1M89.2 65.3h.1M94.9 76h.1M83.3 72.8h.1M92.7 70.5h.1M68.5 68h.1M82.4 74.3h.1M77.1 54.8h.1M86.6 76.3h.1M88.5 75.4h.1M88.7 77.9h.1M92.4 66.4h.1M74.9 96.7h.1M80.5 65.9h.1M81 69.8h.1M86.1 62.4h.1M82.1 83h.1M82.7 64.2h.1M81.4 78.4h.1M91.7 62.4h.1M84.9 72.7h.1M93.4 81.7h.1M78.5 64.7h.1M83.4 60.5h.1M75.4 71.1h.1M81 56.5h.1M89.9 61.7h.1M76.2 74.5h.1M83.6 50.6h.1M80.3 75.8h.1M89.7 67.3h.1M84.7 60.5h.1M81.3 71h.1M87.3 76.8h.1M88.3 65h.1M87.1 68.7h.1M87 78.4h.1M76.1 74.4h.1M85.3 69.4h.1M82.7 61.4h.1M92.5 62.9h.1M90.3 65.6h.1M76.1 73.7h.1M89.8 77.2h.1M76.5 70.1h.1M86.5 84.2h.1M86 67.2h.1M80.2 64.6h.1M78.8 64.1h.1M76.7 86.2h.1M89.8 51h.1M79.1 70.9h.1M85.8 74.6h.1M75.9 67.6h.1M77.1 90.6h.1M80.5 80.2h.1M71.2 73.1h.1M88.3 62.1h.1M75.4 71.8h.1M71 61.8h.1M80.3 68.9h.1M82 71.1h.1M90.4 67h.1M79.3 74.5h.1M87.4 87h.1M89 81.6h.1M89.4 73.6h.1M82.7 80.1h.1M77.6 78.4h.1M88.1 69.2h.1M90.7 67.2h.1M83.3 76.1h.1M84.9 62.1h.1M72.8 74h.1M90.8 61.3h.1M88.5 62.2h.1M76.5 67.6h.1M88.7 56.9h.1M87.9 71.1h.1M81.7 74.4h.1M92.1 59.5h.1M85.4 79.5h.1M77.2 62.1h.1M80.6 74.2h.1M86 72.6h.1M90.3 67.4h.1M93.3 67.7h.1M78 51.1h.1M85.5 63.5h.1M90.1 64.3h.1M86 86.8h.1M90.4 82h.1M82.6 55.9h.1M79.4 76.3h.1M77.3 69.9h.1M89.6 68h.1M75.1 71.6h.1M88.2 79.1h.1M90.8 66.5h.1M87.4 68.3h.1M71.1 67.4h.1M82.9 59.9h.1M87.5 72.9h.1M76.1 66.6h.1M84.5 63.4h.1M85.7 62.2h.1M88 74.2h.1M82.9 78.2h.1M84.4 73.3h.1M83.8 61.5h.1M81.7 76.6h.1M82.6 71.2h.1M86.2 76.5h.1M79.5 79.9h.1M92.3 63.8h.1M74.7 65.6h.1M92.3 66.8h.1M85.4 61.8h.1M84.4 89.8h.1M81.6 78.4h.1M93.8 55.8h.1M91 76.4h.1M82.3 64h.1M81 80.3h.1M82.6 70.4h.1M85.5 68.8h.1M74.3 68.2h.1M81.8 73h.1M82.3 69.7h.1M80 66.5h.1M83.1 68.3h.1M73.6 71.6h.1M95 62.5h.1M86.3 70.7h.1M94.8 72.3h.1M80.3 64h.1M75.1 74.3h.1M89.1 59h.1M75.5 63.6h.1M87.6 62.8h.1M78.3 73.5h.1M83.3 65.2h.1M85.1 70.8h.1M83 73.4h.1M86.1 75.1h.1M78.7 60.9h.1M90.1 69.5h.1M76.6 66.5h.1M82 77.3h.1M74.6 74.2h.1M74 84.1h.1M90.7 73.9h.1M82 64.7h.1M81.6 64.3h.1M78.7 74.7h.1M77.4 83.6h.1M90.9 75.6h.1M78.8 62.7h.1M76 70.1h.1M86.3 73.3h.1M74.7 67.3h.1M83.9 62.7h.1M85.3 65.2h.1M78 78.4h.1M79.2 70.5h.1M85 48.6h.1M80.4 68.9h.1M89.9 53.8h.1M85 89.9h.1M88.7 73.4h.1M84 58.2h.1M77.3 75.7h.1M89.9 64.2h.1M71.9 71.6h.1M81.2 69.3h.1M85.3 58.8h.1M75.6 73.8h.1M82 56.2h.1M81.8 82.5h.1M74.2 67.4h.1M81.5 59.1h.1M85.3 52.6h.1M79.5 84.4h.1M71.8 80.3h.1M93.4 60.7h.1M77.2 84h.1M81.7 70.9h.1M82.3 67.3h.1M80.1 67.9h.1M78.9 65.7h.1M86 84.7h.1M84.4 71.6h.1M88.4 53.3h.1M83.2 90.3h.1M77.1 76.4h.1M90.3 61.4h.1M84.8 66.8h.1M81.2 60.2h.1M87.8 71.7h.1M74.1 70.6h.1M86.6 73.2h.1M80.4 62.9h.1M88.2 63.5h.1M88.9 79.9h.1M87.1 70h.1M73.7 88.8h.1M85.8 62.6h.1M79.3 76.2h.1M76.9 68.2h.1M79.6 61.1h.1M79.9 82h.1M86.2 71.9h.1M76.2 58.7h.1M84.1 66.9h.1M83.5 79.8h.1M87.7 59.2h.1M73.9 80.3h.1M87.4 77.8h.1M77.5 65.2h.1M83.3 83.1h.1M87.5 88.3h.1M70.3 71.4h.1M84.5 71.8h.1M79.9 86.8h.1M80.5 83.5h.1M81.9 60.2h.1M82.4 67.4h.1M76.3 65.4h.1M85.4 66.4h.1M90.8 57.5h.1M77.2 76.7h.1M78.1 68.9h.1M80.6 69.9h.1M79.4 82.4h.1M85.5 64.9h.1M83.1 69.1h.1M83.1 72.4h.1M77.4 63.6h.1M68.5 63.9h.1M84.7 77.8h.1M91.5 72.3h.1M71.7 79.1h.1M81.9 61.9h.1M84.6 72.2h.1M92.9 58.8h.1M87.4 69.9h.1M92.7 65.9h.1M79.2 81.9h.1M83.6 77.2h.1M84.3 75.1h.1M75.7 85.5h.1M86 84.9h.1M84.9 77.4h.1M90.9 65.4h.1M85.5 56.2h.1M89.3 71.4h.1M78.6 64.7h.1M87.5 64.7h.1M69.7 62.5h.1M82.6 53.2h.1M83.2 84.5h.1M84.2 58.8h.1M86.4 64.1h.1M72.7 72h.1M84.1 79.2h.1M80.6 78.2h.1M86.7 67.8h.1M88.4 60.7h.1M92.7 68.1h.1M90 53.6h.1M71.2 79.6h.1M81.8 69.8h.1M92.7 65.5h.1M89.3 62.7h.1M79.4 74.2h.1M82.5 84.4h.1M87.8 58.6h.1M88.5 65.8h.1M79.7 51.1h.1M76.4 74.3h.1M86.7 72.4h.1M75.6 89.7h.1M85.8 69.4h.1M83.8 62.9h.1M82.3 77.9h.1M85.1 54.2h.1M77.7 75.4h.1M82.3 71.9h.1M76.8 62.6h.1M74.3 57.9h.1M88 81.8h.1M77.4 86.4h.1M91 67.8h.1M82.6 74.8h.1M79.2 85.8h.1M89 65.4h.1M88.2 68.8h.1M80.3 56.6h.1M90.6 70.7h.1M78.3 67.3h.1M85.8 66.4h.1M88.5 55.7h.1M84.4 60.4h.1M85 76.7h.1M85.2 65.3h.1M88.3 62.9h.1M76.7 74.2h.1M76.7 73.2h.1M87.5 63.6h.1M76.6 61.3h.1M76.8 74.3h.1M85.9 74.3h.1M82.5 61.1h.1M77.8 70.4h.1M77.3 67.5h.1M81 80.2h.1M84 61.3h.1M81.7 78.1h.1M81.1 73.4h.1M77.9 78.6h.1M69.9 74.5h.1M88 58.1h.1M77.6 87.8h.1M87.7 59.7h.1M77.2 58.6h.1M90.7 68.9h.1M81 76.7h.1M81.5 75h.1M74.9 66.1h.1M82 83.1h.1M81.9 73.4h.1M86.8 84.9h.1M72.8 94.7h.1M76 69.3h.1M91.8 46.6h.1M79.7 64h.1M88.9 60.8h.1M77.1 68.7h.1M82.4 70.5h.1M85.8 58.2h.1M86.7 59.2h.1M81.4 66.5h.1M79.5 66.6h.1M90.8 45.9h.1M77.3 77.7h.1M84.2 70.4h.1M82 69.2h.1M70.1 68.5h.1M86.1 60.3h.1M91.3 71.9h.1M82 79.9h.1M83.6 80.8h.1M84.6 74.9h.1M81.7 66.4h.1M78.5 59.9h.1M84 83.4h.1M87.7 76.5h.1M87.8 66.9h.1M92.3 50.6h.1M88.2 62.5h.1M112.1 62.1h.1M111 70.3h.1M110.6 69.4h.1M110.3 68.2h.1M111.6 66.2h.1M112.8 69h.1M113.1 65.8h.1M111 65.7h.1M112.6 64.5h.1M110.3 67.3h.1M110.8 65.2h.1M110.3 69.8h.1M112.2 69.9h.1M113.7 65.2h.1M109.1 72.3h.1M112.7 63.6h.1M111 68.4h.1M110.8 70.5h.1M108.7 70.2h.1M113.1 60h.1M111.5 70.5h.1M110.1 70.6h.1M110.7 71.7h.1M114.7 60.6h.1M113.5 65.5h.1M111.2 66.5h.1M112.5 65.9h.1M110.8 71.4h.1M113.1 65.4h.1M109.5 70.4h.1M111.4 68.9h.1M113 62.6h.1M111.8 63.7h.1M112.5 65.8h.1M112.4 67.7h.1M110.8 70.2h.1M110.8 66.1h.1M110.9 69.9h.1M114.1 62.7h.1M115.3 58h.1M110.2 65.2h.1M111.6 68.7h.1M112.6 66.2h.1M113.2 64.2h.1M109.7 67.6h.1M125.5 75.1h.1M111.3 77.1h.1M106.9 79.1h.1M106.1 76.5h.1M125.8 76.2h.1M111.7 61.4h.1M116.3 86.8h.1M120.5 73h.1M119.5 76h.1M105.5 71.4h.1M118.7 86h.1M117.9 70.8h.1M115.4 82h.1M119.1 87.4h.1M108.1 91.2h.1M111.5 87.5h.1M108.3 83h.1M117.3 68.4h.1M107.4 88.3h.1M114.8 87.5h.1M104.3 84.7h.1M111.1 84.4h.1M82.1 92.6h.1M80.4 98.4h.1M81.5 78.5h.1M89.3 85.9h.1M68.7 90.2h.1M87.9 88.8h.1M82.9 91.3h.1M87.1 88.2h.1M84.2 92.6h.1M88.3 86.7h.1M85.1 83.7h.1M86.8 87.7h.1M74.4 102h.1M85.1 86.5h.1M80.5 90.9h.1M69.8 92.7h.1M87.7 91.3h.1M70.1 96.2h.1M84 84.1h.1M89.9 81h.1M74.7 90.7h.1M85.4 85.6h.1M86.4 93h.1M86.4 90.4h.1M75.2 102.5h.1M88 92.9h.1M78.7 87.4h.1M86.2 88.9h.1M84.1 95.9h.1M93.2 93.1h.1M78.3 84.9h.1M80.9 82.9h.1M90.2 85.7h.1M80.5 88.9h.1M84 82.7h.1M82.7 91.1h.1M81.5 85.7h.1M71 86.1h.1M85.1 87h.1M88.4 85.2h.1M81.4 93.5h.1M87.8 90.1h.1M83.5 89.4h.1M72.6 95.7h.1M80.8 87h.1M84.4 78.9h.1M76 91.9h.1M71.5 103.1h.1M83.3 92.1h.1M81.5 100.9h.1M92 81h.1M75.4 85.2h.1M82.4 93.7h.1M79 97.5h.1M78.8 85.8h.1M72.5 88.4h.1M74.9 95.9h.1M81.7 93.6h.1M72.2 91.2h.1M87.8 83.2h.1M70.9 94.1h.1M76.8 87.3h.1M72.5 90h.1M71.9 98.2h.1M89.9 81.4h.1M65.2 99.1h.1M82.8 75h.1M75.8 103.7h.1M78.4 87.3h.1M94.3 79.2h.1M63.8 97.7h.1M72.6 98.9h.1M84.7 79.4h.1M81.6 90.3h.1M76.3 93h.1M82.4 94.1h.1M71.3 92h.1M79.4 88.1h.1M89.1 82.7h.1M83.3 99.7h.1M77.3 85.3h.1M88.6 85.9h.1M91.2 78.9h.1M77.3 94.8h.1M83.9 91.5h.1M77.1 94.1h.1M76.9 94.9h.1M78.5 93.8h.1M74.7 92h.1M68.7 98.7h.1M63.4 95.2h.1M74.7 93.3h.1M79.1 87.7h.1M87.3 84h.1M78.8 95.9h.1M80.2 92.9h.1M85.7 89.1h.1M87.8 90.8h.1M73.4 83.5h.1M81 92.5h.1M92 81.5h.1M77.9 92.2h.1M73.8 88.9h.1M71.4 100.7h.1M86 92.5h.1M81.2 95.6h.1M92.1 81.1h.1M79.8 94.6h.1M87.8 89.9h.1M90.9 92.3h.1M93.8 86.8h.1M72.3 97.8h.1M90.4 83.4h.1M80.8 91.3h.1M80.2 92.1h.1M77 90.7h.1M79.7 95.3h.1M76.3 90.3h.1M63.4 99.7h.1M84.4 89.5h.1M79.2 88.6h.1M73.6 94.7h.1M74.5 84.3h.1M96.8 82.1h.1M82.6 88.9h.1M77.5 92.3h.1M92.2 83.9h.1M75.8 95.5h.1M77.5 89.3h.1M81.9 100.2h.1M77.6 90.5h.1M87.4 90.5h.1M88.6 94h.1M74 92.4h.1M79.7 91.8h.1M78.7 87.7h.1M80.4 96.3h.1M79.1 89.9h.1M72.8 90.8h.1M79 98.8h.1M82.9 93.7h.1M71.4 93h.1M85.9 92.7h.1M79.5 92.4h.1M81.4 104.4h.1M80.8 99.5h.1M75.8 91.4h.1M78.5 90.7h.1M78.7 87.4h.1M79.2 92.3h.1M74.9 95.3h.1M91.1 86.2h.1M86.1 86.7h.1M77.1 85.4h.1M84.1 83.5h.1M85.9 93.9h.1M81.6 95.9h.1M80.3 89.9h.1M96.6 77.3h.1M86 85.4h.1M86.8 85.8h.1M73.4 87.2h.1M86.3 90.9h.1M92.7 77.6h.1M83.3 89.2h.1M80.4 77.2h.1M88.7 85.5h.1M87.7 92.1h.1M84.3 75.7h.1M85.6 94.8h.1M84.5 90h.1M74.4 91.5h.1M92.6 72.7h.1M85.1 93.2h.1M81.6 91.2h.1M90.4 86h.1M76.4 92.3h.1M78.1 88.2h.1M77.5 97.6h.1M77.9 87.6h.1M80.1 95.7h.1M79.3 82.7h.1M77 88.4h.1M72.7 89h.1M81.7 96.6h.1M74.9 85.6h.1M74 89.6h.1M87.8 88.5h.1M85 88.3h.1M86.8 97.4h.1M77.5 102.8h.1M85 90.4h.1M74 99.4h.1M76.6 83.9h.1M78.2 87.7h.1M75.6 92.7h.1M74.5 94.3h.1M72.3 89.7h.1M90.6 77.8h.1M76.3 89.4h.1M81.6 95.4h.1M87.3 87.6h.1M81.9 87.7h.1M86.1 84.8h.1M73.3 97.8h.1M71.6 93.9h.1M100.3 73.8h.1M75.5 85.4h.1M80.1 94.5h.1M83.7 93.3h.1M87.3 87.2h.1M74 98.2h.1M82.9 90.7h.1M85.3 97.8h.1M84.9 88.3h.1M77.8 85.6h.1M74.1 90h.1M76.6 97.4h.1M67.8 106.3h.1M88.3 88.7h.1M73.2 100.8h.1M78.1 93.4h.1M86.7 77.8h.1M75.7 90.5h.1M79.3 81.9h.1M77.8 90.6h.1M81 82.9h.1M80.6 91h.1M76.6 92.8h.1M83.5 77.8h.1M80.4 94.6h.1M73.8 99.9h.1M74.5 87.8h.1M83.9 88.7h.1M75.1 98.6h.1M84.3 86.1h.1M87.1 90h.1M93.8 81.2h.1M79 97.5h.1M84.7 88.3h.1M69.3 98.4h.1M78.9 94.6h.1M82.8 92.9h.1M83.3 89.7h.1M78.6 89.6h.1M77.5 88.7h.1M75.4 92.6h.1M75.9 91.1h.1M82.6 90h.1M84.1 88.7h.1M83.9 87.4h.1M86.3 86h.1M88 85.6h.1M73 104.8h.1M80 97.4h.1M77.6 89.7h.1M77.2 95.4h.1M85.8 84.7h.1M84.5 86.9h.1M78.8 90.5h.1M79.2 88.2h.1M84.4 80.2h.1M71.5 84.3h.1M78.7 93h.1M88.8 90.4h.1M80.7 85.5h.1M90.2 85.6h.1M81.4 87.7h.1M85.5 88.1h.1M74.6 90.8h.1M73.7 94.6h.1M79.8 90.5h.1M57.5 95.7h.1M83.2 89.6h.1M85.8 85.6h.1M74.1 82.1h.1M80.4 94h.1M86.8 85.4h.1M80.4 91.7h.1M87.1 87.3h.1M92.6 78.8h.1M81.8 83.7h.1M84.8 84.8h.1M82 87h.1M87.5 97h.1M86.6 95.6h.1M79.3 88.8h.1M85.7 84.2h.1M71 99.7h.1M79.9 94h.1M82.4 85.3h.1M72.3 91.5h.1M84.5 97.8h.1M78.6 97.7h.1M78.8 83.4h.1M80.8 80.7h.1M86.9 81h.1M83.8 89.1h.1M77.1 96.1h.1M80.8 88.4h.1M71.8 106h.1M84.1 87.1h.1M79.1 73.4h.1M83.7 90.8h.1M64.7 75.8h.1M88 85.4h.1M79.4 86.3h.1M65.4 88.5h.1M82.8 87.8h.1M68.4 95.7h.1M99 92.1h.1M84 82.3h.1M80.7 105.8h.1M89.4 94.1h.1M90.5 75.7h.1M58.4 99h.1M85.9 96.3h.1M96.1 75.5h.1M68 100.1h.1M79 87.9h.1M63.3 91.7h.1M79.4 86.5h.1M55.4 100.1h.1M60.1 91.4h.1M75.4 90.3h.1M90.5 96.8h.1M92 94.2h.1M85.2 84.7h.1M92.8 80.5h.1M90.2 85.8h.1M94.2 90.2h.1M73.9 96.9h.1M78.1 86.6h.1M109.3 62.9h.1M107.4 77.9h.1M100.4 96.3h.1M85.7 79.3h.1M81.9 69.7h.1M81.3 95.4h.1M99.4 73.5h.1M78.7 91.5h.1M86.1 95.4h.1M102 72.7h.1M56.6 95.8h.1M76.5 74.7h.1M65.4 100.3h.1M70.6 86.4h.1M82 90.3h.1M72.9 83.6h.1M81.7 84.9h.1M68.2 85.6h.1M79.1 86.8h.1M68.7 94.2h.1M80.5 94.1h.1M74.5 105.5h.1M86.9 82.3h.1M65.8 92.7h.1M96.4 93.8h.1M79.3 93.1h.1M81.4 93.6h.1M81.1 116.9h.1M85.7 113.2h.1M83.3 116.5h.1M81.5 115.5h.1M82 129.8h.1M73.2 121.3h.1M74.6 117.5h.1M77.3 118.1h.1M78.4 117.8h.1M78 119.1h.1M79.5 116.6h.1M78 118.3h.1M75.6 122.7h.1M69.1 121.8h.1M82.4 119.6h.1M81 123.9h.1M73.1 119.3h.1M80.5 114.2h.1M80 111h.1M78.3 115.4h.1M68 118.1h.1M71.4 120h.1M74.6 122.9h.1M86.6 115.9h.1M73.2 114.9h.1M76 121.6h.1M71.9 123.3h.1M75.2 116.3h.1M79.7 119.8h.1M66.7 124.1h.1M62.6 119.7h.1M81.4 118.1h.1M78 109.6h.1M74.6 123.9h.1M83.1 121h.1M83.1 118.9h.1M66.6 116.4h.1M77 113.1h.1M83.8 117.9h.1M74.3 117.9h.1M76.2 123h.1M83 113.2h.1M76.4 124.4h.1M71.4 118.5h.1M74.2 123.3h.1M70.7 114.2h.1M80.8 119.8h.1M68.6 123.5h.1M83.3 118.8h.1M69 112.1h.1M78.1 116.9h.1M69.9 120.6h.1M76.2 112.4h.1M83.4 112.2h.1M83.9 119.3h.1M84.9 114.3h.1M77.4 121.2h.1M78.4 113.4h.1M79.1 110.6h.1M81.2 115.1h.1M75.7 124.6h.1M83.8 114.7h.1M79.6 118.3h.1M84 119.4h.1M80.4 114.3h.1M81.5 122.9h.1M73.9 119.1h.1M75.6 120.2h.1M70.9 111.3h.1M76.3 111h.1M76.9 106.7h.1M82.4 117.5h.1M71.1 117.4h.1M95.3 121.4h.1M77.2 124.6h.1M84.7 117.3h.1M83.5 117.2h.1M64.2 120.2h.1M76.4 124.8h.1M85.8 114.9h.1M64.8 121h.1M82 117.3h.1M72.9 116.9h.1M75.3 121.8h.1M79.1 115h.1M67.8 113.8h.1M78.9 121.1h.1M74.4 118.2h.1M73.8 117.2h.1M81.6 117.8h.1M96.8 120.4h.1M79.7 116.8h.1M80.8 121.6h.1M77.6 120.1h.1M73.9 124.6h.1M79.2 123.7h.1M86 122h.1M78.9 117.5h.1M82.7 118.8h.1M76.6 115.9h.1M68.9 117.4h.1M81 120.7h.1M80.8 124.1h.1M79.3 112.6h.1M71.8 114.9h.1M71.7 116.7h.1M76.6 114.2h.1M78.4 113h.1M71.3 116.2h.1M72.1 123.8h.1M80.9 121.4h.1M83.4 118.5h.1M74.8 118.5h.1M74 111.4h.1M73.9 121.3h.1M91.2 120.2h.1M80.5 113.8h.1M77.5 119.2h.1M83.2 117.6h.1M90.2 116.2h.1M84.1 114.2h.1M70.1 115.5h.1M77.3 114.4h.1M75.6 120.3h.1M76 119.9h.1M71.2 119.7h.1M75.7 117.6h.1M71.9 116.7h.1M79.6 127h.1M78 110.5h.1M70.1 123.4h.1M68.6 119.9h.1M75.2 118.7h.1M81.3 116.2h.1M80.5 117.5h.1M77.4 113.4h.1M59.9 112.5h.1M75.1 117.9h.1M73.8 111.4h.1M121.2 123.7h.1M66.3 127.5h.1M68.9 89.2h.1M102.8 89.8h.1M102.6 45.2h.1M102.7 50.4h.1M117.4 107.8h.1M126.1 90.2h.1M90 89.9h.1M84.4 106.3h.1M123.7 111.6h.1M78.4 102.5h.1M125.6 41h.1M113 87.9h.1M123.5 113.5h.1M107.8 112.1h.1M68 123.5h.1M113.6 85.7h.1M97.2 86h.1M73.8 42.2h.1M67.7 85.1h.1M79.7 89.6h.1M69.4 120.8h.1M70.2 117.9h.1M123.3 45.5h.1" stroke="#000" stroke-width="0.85" stroke-opacity="0.6" stroke-linecap="square" fill="none"/>
<ellipse cx="80" cy="91" rx="16.3" ry="8.6" transform="rotate(-38 80 91)" fill="none" stroke="#111" stroke-width="1"/>
<path d="M36.2 26.2V130.5H137.7" stroke="#222" stroke-width=".8" fill="none"/>
<text x="47.2" y="139.2" font-size="5" text-anchor="middle" stroke="#000" stroke-width=".15">0</text>
<text x="31.9" y="121.2" font-size="5" text-anchor="end" stroke="#000" stroke-width=".15">0</text>
<text x="58.2" y="139.2" font-size="5" text-anchor="middle" stroke="#000" stroke-width=".15">10<tspan dy="-1.7" font-size="3.4">2</tspan></text>
<text x="31.9" y="109.7" font-size="5" text-anchor="end" stroke="#000" stroke-width=".15">10<tspan dy="-1.7" font-size="3.4">2</tspan></text>
<text x="83" y="139.2" font-size="5" text-anchor="middle" stroke="#000" stroke-width=".15">10<tspan dy="-1.7" font-size="3.4">3</tspan></text>
<text x="31.9" y="84.5" font-size="5" text-anchor="end" stroke="#000" stroke-width=".15">10<tspan dy="-1.7" font-size="3.4">3</tspan></text>
<text x="107.2" y="139.2" font-size="5" text-anchor="middle" stroke="#000" stroke-width=".15">10<tspan dy="-1.7" font-size="3.4">4</tspan></text>
<text x="31.9" y="60.5" font-size="5" text-anchor="end" stroke="#000" stroke-width=".15">10<tspan dy="-1.7" font-size="3.4">4</tspan></text>
<text x="130.9" y="139.2" font-size="5" text-anchor="middle" stroke="#000" stroke-width=".15">10<tspan dy="-1.7" font-size="3.4">5</tspan></text>
<text x="31.9" y="37" font-size="5" text-anchor="end" stroke="#000" stroke-width=".15">10<tspan dy="-1.7" font-size="3.4">5</tspan></text>
<path d="M58.2 130.5v1.6M36.2 108.2h-1.6M65.7 130.5v1M36.2 100.6h-1M70 130.5v1M36.2 96.2h-1M73.1 130.5v1M36.2 93h-1M75.5 130.5v1M36.2 90.6h-1M77.5 130.5v1M36.2 88.6h-1M79.2 130.5v1M36.2 86.9h-1M80.6 130.5v1M36.2 85.4h-1M81.9 130.5v1M36.2 84.2h-1M83 130.5v1.6M36.2 83h-1.6M90.3 130.5v1M36.2 75.8h-1M94.5 130.5v1M36.2 71.5h-1M97.6 130.5v1M36.2 68.6h-1M99.9 130.5v1M36.2 66.2h-1M101.8 130.5v1M36.2 64.3h-1M103.5 130.5v1M36.2 62.7h-1M104.9 130.5v1M36.2 61.3h-1M106.1 130.5v1M36.2 60.1h-1M107.2 130.5v1.6M36.2 59h-1.6M114.3 130.5v1M36.2 51.9h-1M118.5 130.5v1M36.2 47.8h-1M121.5 130.5v1M36.2 44.9h-1M123.8 130.5v1M36.2 42.6h-1M125.6 130.5v1M36.2 40.7h-1M127.2 130.5v1M36.2 39.1h-1M128.6 130.5v1M36.2 37.8h-1M129.8 130.5v1M36.2 36.6h-1M130.9 130.5v1.6M36.2 35.5h-1.6M38.7 130.5v1M36.2 128h-1M40.7 130.5v1M36.2 126h-1M42.7 130.5v1M36.2 124h-1M44.7 130.5v1M36.2 122h-1M49.7 130.5v1M36.2 117h-1M52.2 130.5v1M36.2 114.5h-1M54.2 130.5v1M36.2 112.5h-1M56.2 130.5v1M36.2 110.5h-1M138 130.5v1M36.2 28.4h-1M142.1 130.5v1" stroke="#333" stroke-width=".6" fill="none"/>
<path d="M47.2 130.5v2M36.2 119.7h-2" stroke="#000" stroke-width="1.3" fill="none"/>
<text x="89.7" y="146.3" font-size="6.5" text-anchor="middle" fill="#111">FSC-A</text>
<text x="22.4" y="71" font-size="6.4" text-anchor="middle" transform="rotate(-90 22.4 71)" fill="#111">SSC-A</text>
<text x="40.8" y="93.5" font-size="6.5" text-anchor="start" fill="#222">Platelet</text>
<text x="40.8" y="100.3" font-size="6.5" text-anchor="start" fill="#222">fraction</text>
<path d="M180.5 117.5h.1M178.6 118.9h.1M175.4 116.3h.1M176 116.9h.1M175.7 116.8h.1M193.4 117.5h.1M177.7 119.4h.1M172.4 119.1h.1M175.1 117h.1M183.8 118.2h.1M176 115.5h.1M176.4 120.2h.1M175.5 115.3h.1M179.3 123.4h.1M181.3 117.1h.1M181.8 118.2h.1M168.2 115.9h.1M185 117.3h.1M187.8 114.9h.1M189.5 112.8h.1M179.1 117.4h.1M188.1 117.8h.1M177.5 119.3h.1M176.7 121.9h.1M170.7 109.7h.1M172.5 116.7h.1M186 110.2h.1M192.7 112.4h.1M173.6 121.1h.1M181.1 119.3h.1M180.3 114.8h.1M170.8 114.8h.1M171 110.6h.1M164.9 119h.1M174.9 115.9h.1M176.5 124.2h.1M176.1 113.2h.1M176.3 121h.1M182.1 114.6h.1M169.4 121.1h.1M185.8 113.5h.1M178.3 115.5h.1M181.3 114.1h.1M170.6 116.6h.1M183.5 118.7h.1M171.7 123.2h.1M184.8 120.3h.1M184.7 107.2h.1M177.7 115.7h.1M177.7 109.7h.1M186.6 115.8h.1M181.1 119.6h.1M169.4 112.2h.1M179.3 112.7h.1M182.7 117.8h.1M179.6 116.1h.1M179.5 123.2h.1M176.4 118.4h.1M176.7 119.2h.1M169.4 123.8h.1M164.9 115.3h.1M187.9 117.2h.1M172 113.5h.1M179.7 118.2h.1M179.2 122.4h.1M170.3 117.1h.1M204.4 114.5h.1M168.6 114.3h.1M169.1 111.9h.1M186.2 117.7h.1M187.9 122.4h.1M180 109h.1M185.6 122.5h.1M166.8 111.1h.1M183.9 118.5h.1M173 112.5h.1M168.8 120.2h.1M174.6 120.2h.1M173.6 117.9h.1M165.3 120.4h.1M197.8 117.4h.1M173.7 119.4h.1M171.1 124.2h.1M185.4 121.4h.1M177.1 114.7h.1M189.7 114.2h.1M175.4 116.3h.1M180.9 116.4h.1M178.6 117.5h.1M179.2 115h.1M175.9 119.7h.1M176.8 117.4h.1M192.7 118.6h.1M171.7 117.3h.1M172.9 119.6h.1M174.7 112.7h.1M182.8 123.3h.1M181.3 118.6h.1M186.1 119h.1M165.8 119.6h.1M180.1 121.4h.1M176.2 120.1h.1M175.2 118.2h.1M179.2 116.6h.1M180.2 118.1h.1M179 116.1h.1M165 116.1h.1M176.9 126.4h.1M191.6 110.2h.1M174.3 117.5h.1M183 121.9h.1M175.7 120.9h.1M170.5 122h.1M169.5 112.5h.1M174.2 113.6h.1M189.3 119.6h.1M185 116.2h.1M171.4 123.8h.1M186.6 118.2h.1M176.6 118h.1M171.6 119h.1M181.6 116.3h.1M169.6 117.8h.1M189.3 117.2h.1M182.6 118.3h.1M177.5 111.6h.1M176 119.1h.1M173.8 118.2h.1M176.8 116.5h.1M177.4 113.3h.1M169.8 125.1h.1M177.1 111.4h.1M186.6 123.8h.1M171.4 114.2h.1M180 118.9h.1M167.5 116.3h.1M181.2 115.9h.1M183.4 120.9h.1M199.8 120.4h.1M185.8 116.2h.1M181.6 113.9h.1M190.3 125.2h.1M168.9 122.7h.1M187.3 117.9h.1M172.9 116.2h.1M172.3 118.4h.1M187.5 117.6h.1M179.9 121.9h.1M189.6 113.7h.1M164.9 117.4h.1M180.2 114.4h.1M173.1 122.3h.1M175.4 124.2h.1M186.1 119.4h.1M179.7 122.7h.1M169.1 116.2h.1M165.9 113.8h.1M170.1 121.3h.1M190.2 119.3h.1M176.9 116.6h.1M174.9 122.9h.1M182.2 118.2h.1M177.9 110.6h.1M179.9 118.7h.1M184.4 117.1h.1M180.8 124.5h.1M185.6 117.3h.1M167.3 116.6h.1M178.4 119h.1M174.7 118.3h.1M178.8 112h.1M177.5 117.8h.1M172.3 116.1h.1M174.8 122.7h.1M186.3 126.5h.1M173 113.1h.1M166.9 113.7h.1M183.2 114.1h.1M186.5 114.9h.1M175.5 114.7h.1M179 117.6h.1M170.5 121.5h.1M176.1 112.4h.1M187.7 111.5h.1M185 110.4h.1M179.3 121.6h.1M175.5 122.4h.1M180.7 111.2h.1M182 117.8h.1M187.3 121.5h.1M195.7 121.2h.1M181.3 118.1h.1M186.4 119.9h.1M168.1 118.6h.1M188.6 115.2h.1M185.6 124.6h.1M190 117.4h.1M183.9 113.1h.1M182 115.6h.1M191 111.5h.1M172.2 117.4h.1M183.7 121.5h.1M187.5 112.6h.1M171.1 121.6h.1M167.9 125.3h.1M181.8 118.8h.1M179.1 113h.1M183.4 114.1h.1M183.7 116.1h.1M171.3 112.5h.1M181 112.6h.1M188 116.4h.1M174.9 116.7h.1M175.6 119.7h.1M168.2 112.8h.1M185.3 124.5h.1M195.2 121.4h.1M166.1 120.7h.1M184.8 114.9h.1M186 124h.1M173.2 116.1h.1M174.8 124.3h.1M168.9 121.4h.1M171.2 114h.1M179.6 115.6h.1M183.8 124.5h.1M179.2 121.2h.1M185.6 116.8h.1M179.9 118.1h.1M167.9 118.1h.1M190.9 114.4h.1M188.5 116.6h.1M171.9 114.9h.1M193.7 115.7h.1M182.3 119.1h.1M179.3 113.7h.1M195 120.1h.1M184.4 120.7h.1M176 122.1h.1M169.9 119.8h.1M191.4 120.1h.1M182.5 116.7h.1M167 119.5h.1M172.4 113.9h.1M185.6 116.4h.1M193.9 120.2h.1M180.4 119.1h.1M174.9 113.3h.1M176.8 115.2h.1M173.5 117.3h.1M192.4 120.9h.1M182.8 115.9h.1M185.1 113.6h.1M183.5 110.1h.1M181.4 116.2h.1M186.8 112.8h.1M168 119.4h.1M175.1 122.9h.1M185.8 108.9h.1M171.9 112.4h.1M174.4 118.5h.1M188.9 122.1h.1M191.8 118.5h.1M173 118.6h.1M171.1 119.3h.1M183.4 119.6h.1M180.7 123.6h.1M172.4 119.7h.1M183.6 112.6h.1M183.2 115.6h.1M179 118.2h.1M204.1 114.3h.1M190.3 116.4h.1M185.5 115.4h.1M187.3 114.7h.1M204.4 120h.1M188 115.9h.1M172 113.2h.1M181.2 114.6h.1M179 117.5h.1M173.4 125.4h.1M180.6 118.3h.1M180.6 123h.1M177.9 119.2h.1M174.1 109.2h.1M185.7 118.8h.1M164.3 114.1h.1M185.6 112.2h.1M178.5 113.2h.1M180.8 124.2h.1M193.2 115h.1M170.8 119.9h.1M184 110.8h.1M173 116.9h.1M174.8 115.4h.1M174.5 120.2h.1M180.3 115.2h.1M184.4 116.1h.1M175.9 122.9h.1M180.3 110.3h.1M182.2 115.9h.1M172.5 119.1h.1M171.8 112.6h.1M195.7 114.9h.1M170.9 112.3h.1M189.3 117.9h.1M179 115h.1M191.4 120.4h.1M172.8 121.3h.1M183 117.5h.1M181.3 115.9h.1M176.4 118.3h.1M181.1 117.6h.1M171.6 112.7h.1M177.7 121.4h.1M174.9 118.2h.1M185.1 120.4h.1M177.6 112.1h.1M166.1 120.7h.1M175.1 125.4h.1M177.5 119.7h.1M170.4 111.8h.1M190.1 117.5h.1M182 117.1h.1M185.8 118.2h.1M171.7 116.4h.1M174.9 119.2h.1M187.3 115.6h.1M165.8 118.2h.1M181.6 114.7h.1M179.2 117.7h.1M174 121.2h.1M179.2 115.5h.1M168.9 119.9h.1M180.4 113.9h.1M167.7 115.9h.1M167.1 116.4h.1M190.8 122.1h.1M172.2 114.4h.1M187 111.7h.1M171.6 116.7h.1M177.9 120h.1M186.6 113.5h.1M181.5 112.6h.1M193.6 120.7h.1M177.3 112.5h.1M183.7 119.6h.1M169.5 115.3h.1M179.9 117.3h.1M192 126.2h.1M182.9 123.3h.1M179.9 120.5h.1M175.1 118.6h.1M167 117.5h.1M185.3 116.9h.1M171.9 122.5h.1M181.6 110.7h.1M169.6 118.5h.1M195.1 117.8h.1M168 114.4h.1M179.6 123.9h.1M201.7 112.4h.1M180.3 117.4h.1M170.7 117.6h.1M183.9 108.9h.1M187.2 111.8h.1M186.1 113.6h.1M180.3 120.9h.1M195.2 118.2h.1M179.1 108.9h.1M174.3 118.1h.1M184.4 115.3h.1M182.8 121.8h.1M167.9 122.5h.1M192.8 125.9h.1M176.3 120h.1M190.9 113.3h.1M192 117.6h.1M189.6 112.6h.1M183.3 120.8h.1M170.5 112.7h.1M186.8 116.5h.1M195 114.1h.1M185.7 115.5h.1M192.7 119.1h.1M171.5 115.1h.1M187.5 118.1h.1M186.8 113.4h.1M165.2 122.7h.1M172 121.2h.1M188.4 117h.1M205.2 122.5h.1M185 114.4h.1M195.5 115.9h.1M182 111h.1M197.8 111.9h.1M176.1 106.3h.1M201.1 123.2h.1M167.9 119.2h.1M213.1 119h.1M193 114h.1M180 117.6h.1M217.8 116.8h.1M203.7 114.8h.1M204.6 117.6h.1M185.7 117.6h.1M198.5 112.1h.1M197.1 110.6h.1M170.6 112.9h.1M198.1 117.9h.1M188.6 124.4h.1M206.6 124.9h.1M206.8 118.9h.1M183 122.2h.1M183.5 117.9h.1M193.2 123h.1M198.9 118h.1M185.8 119.3h.1M189.5 115.8h.1M198.3 117.3h.1M196 127.1h.1M205.1 111.1h.1M193.8 117.3h.1M180 114.2h.1M169.2 122.2h.1M200.8 126.7h.1M186.7 115.7h.1M186.6 103h.1M187.3 120.5h.1M171.6 120.5h.1M186 108.6h.1M185.9 116.9h.1M179.8 105.3h.1M213.4 120.8h.1M196.3 119.6h.1M188.2 118.5h.1M192.8 111.8h.1M199.8 113.6h.1M181.5 114h.1M188 119.8h.1M186.4 112.2h.1M221.3 124.9h.1M191.7 119.2h.1M166.6 106h.1M200.6 126h.1" stroke="#000" stroke-width="0.85" stroke-opacity="0.6" stroke-linecap="square" fill="none"/>
<path d="M226 113.4h.1M219.3 119.5h.1M225.4 121h.1M207.4 120.5h.1M226.2 117.6h.1M201.5 114.7h.1M214.9 119h.1M237.1 125.1h.1M236.2 117.8h.1M221.3 114h.1M215.4 118.7h.1M233.2 111.3h.1M224 118.2h.1M226.4 115.7h.1M230.3 121.6h.1M214.4 117.6h.1M231.9 122h.1M204.6 127.9h.1M238.1 116.1h.1M209.7 113.2h.1M218.5 119.3h.1M218.2 116.7h.1M231.2 117.8h.1M231.4 114.3h.1M227.8 119.7h.1M229.5 117.4h.1M228.8 107h.1M223.7 116h.1M206.5 118.7h.1M202.8 122.6h.1M202.8 114.4h.1M223.9 113.3h.1M222.2 122.5h.1M223.1 114.2h.1M226.5 117.6h.1M222.2 119.3h.1M215 120.6h.1M210.3 117.1h.1M206.6 111.9h.1M235.8 121.8h.1M232.9 115.1h.1M211.6 114.7h.1M221.8 126.5h.1M228.5 121.2h.1M239.3 112.1h.1M218.7 114.8h.1M226 115.9h.1M235.2 113.6h.1M208 108.1h.1M217.4 120.8h.1M223.9 120.7h.1M217.5 118.2h.1M244.2 115.2h.1M232.5 118.1h.1M226.2 120.1h.1M215.3 112.2h.1M232.4 115.5h.1M230.2 114.5h.1M219.5 120.3h.1M220.2 118.3h.1M210.5 111h.1M223.6 114.2h.1M232.4 125.3h.1M233.7 112.6h.1M229.7 117.8h.1M232 114.1h.1M218.7 122.9h.1M219.9 116.8h.1M235.6 115h.1M228.5 111.6h.1M227.4 120.9h.1M194.9 124.1h.1M219.8 104h.1M188.7 126.7h.1M174.6 110.8h.1M197.9 117.7h.1M243.4 117h.1M178.5 109.7h.1M169.4 122.8h.1M187.8 124.6h.1" stroke="#000" stroke-width="0.85" stroke-opacity="0.25" stroke-linecap="square" fill="none"/>
<rect x="163.8" y="106" width="42" height="23.2" fill="none" stroke="#444" stroke-width="0.8"/>
<path d="M163.8 26.2V130.5H265.3" stroke="#222" stroke-width=".8" fill="none"/>
<text x="174.8" y="139.2" font-size="5" text-anchor="middle" stroke="#000" stroke-width=".15">0</text>
<text x="159.5" y="121.2" font-size="5" text-anchor="end" stroke="#000" stroke-width=".15">0</text>
<text x="185.8" y="139.2" font-size="5" text-anchor="middle" stroke="#000" stroke-width=".15">10<tspan dy="-1.7" font-size="3.4">2</tspan></text>
<text x="159.5" y="109.7" font-size="5" text-anchor="end" stroke="#000" stroke-width=".15">10<tspan dy="-1.7" font-size="3.4">2</tspan></text>
<text x="210.6" y="139.2" font-size="5" text-anchor="middle" stroke="#000" stroke-width=".15">10<tspan dy="-1.7" font-size="3.4">3</tspan></text>
<text x="159.5" y="84.5" font-size="5" text-anchor="end" stroke="#000" stroke-width=".15">10<tspan dy="-1.7" font-size="3.4">3</tspan></text>
<text x="234.8" y="139.2" font-size="5" text-anchor="middle" stroke="#000" stroke-width=".15">10<tspan dy="-1.7" font-size="3.4">4</tspan></text>
<text x="159.5" y="60.5" font-size="5" text-anchor="end" stroke="#000" stroke-width=".15">10<tspan dy="-1.7" font-size="3.4">4</tspan></text>
<text x="258.5" y="139.2" font-size="5" text-anchor="middle" stroke="#000" stroke-width=".15">10<tspan dy="-1.7" font-size="3.4">5</tspan></text>
<text x="159.5" y="37" font-size="5" text-anchor="end" stroke="#000" stroke-width=".15">10<tspan dy="-1.7" font-size="3.4">5</tspan></text>
<path d="M185.8 130.5v1.6M163.8 108.2h-1.6M193.3 130.5v1M163.8 100.6h-1M197.6 130.5v1M163.8 96.2h-1M200.7 130.5v1M163.8 93h-1M203.1 130.5v1M163.8 90.6h-1M205.1 130.5v1M163.8 88.6h-1M206.8 130.5v1M163.8 86.9h-1M208.2 130.5v1M163.8 85.4h-1M209.5 130.5v1M163.8 84.2h-1M210.6 130.5v1.6M163.8 83h-1.6M217.9 130.5v1M163.8 75.8h-1M222.1 130.5v1M163.8 71.5h-1M225.2 130.5v1M163.8 68.6h-1M227.5 130.5v1M163.8 66.2h-1M229.4 130.5v1M163.8 64.3h-1M231.1 130.5v1M163.8 62.7h-1M232.5 130.5v1M163.8 61.3h-1M233.7 130.5v1M163.8 60.1h-1M234.8 130.5v1.6M163.8 59h-1.6M241.9 130.5v1M163.8 51.9h-1M246.1 130.5v1M163.8 47.8h-1M249.1 130.5v1M163.8 44.9h-1M251.4 130.5v1M163.8 42.6h-1M253.2 130.5v1M163.8 40.7h-1M254.8 130.5v1M163.8 39.1h-1M256.2 130.5v1M163.8 37.8h-1M257.4 130.5v1M163.8 36.6h-1M258.5 130.5v1.6M163.8 35.5h-1.6M166.3 130.5v1M163.8 128h-1M168.3 130.5v1M163.8 126h-1M170.3 130.5v1M163.8 124h-1M172.3 130.5v1M163.8 122h-1M177.3 130.5v1M163.8 117h-1M179.8 130.5v1M163.8 114.5h-1M181.8 130.5v1M163.8 112.5h-1M183.8 130.5v1M163.8 110.5h-1M265.6 130.5v1M163.8 28.4h-1M269.7 130.5v1" stroke="#333" stroke-width=".6" fill="none"/>
<path d="M174.8 130.5v2M163.8 119.7h-2" stroke="#000" stroke-width="1.3" fill="none"/>
<text x="217.5" y="146.3" font-size="6.8" text-anchor="middle" fill="#111">&lt;APC&gt;:Ter119</text>
<text x="149.5" y="71" font-size="7.2" text-anchor="middle" transform="rotate(-90 149.5 71)" fill="#111">Hoechst-A</text>
<path d="M347 125.3h.1M338.3 112.7h.1M334.7 118.1h.1M341.9 110.6h.1M325.4 116.2h.1M338.1 119.6h.1M341.2 121.6h.1M337.8 112.5h.1M346.8 120.5h.1M343.8 120.3h.1M340.7 116.9h.1M337.9 126.7h.1M345.9 117.4h.1M336.4 114h.1M337.8 119h.1M344.1 110.3h.1M343.3 123.3h.1M351 121.1h.1M338.9 115.8h.1M329.9 119.7h.1M343.6 119.4h.1M346.8 124.7h.1M339.2 115h.1M348.4 112.4h.1M349.6 109.6h.1M336.5 116.2h.1M337.5 111.4h.1M333.3 116.7h.1M343 118.9h.1M343.9 115.7h.1M343.3 113.8h.1M333.4 121.9h.1M335.9 116.6h.1M332.3 118.2h.1M331.4 121h.1M332.8 112.4h.1M331.5 113.8h.1M339 126.9h.1M342.3 116.8h.1M343.4 113.4h.1M339.9 116.4h.1M336.4 115.2h.1M340 112.7h.1M343.1 115.8h.1M338.4 117.3h.1M340.3 117.3h.1M338.4 119.4h.1M337.2 110.7h.1M340.2 111.7h.1M334 120.4h.1M345.6 115.7h.1M331.6 122h.1M342.5 118.5h.1M332.7 112h.1M348.1 119.4h.1M344.7 113.5h.1M335.7 118.3h.1M337.6 122h.1M334 125.4h.1M339.7 117.1h.1M342.2 120h.1M353.7 118.5h.1M332.7 120.4h.1M346.6 107.6h.1M336.9 115.9h.1M341.5 118.5h.1M344.7 119.1h.1M342.9 114.5h.1M342.3 120.5h.1M338.9 121.6h.1M340 117.6h.1M340.8 116.5h.1M346.4 116h.1M332.1 117.9h.1M337.4 121.8h.1M333.3 123.1h.1M334.8 115.6h.1M335.7 113.8h.1M345.9 114.3h.1M351.5 121.1h.1M347.2 118.2h.1M333.7 118.5h.1M340.4 119.2h.1M333.9 118.8h.1M342.4 116.9h.1M346.8 113.4h.1M343.1 115h.1M344.7 117.8h.1M339.2 118.8h.1M329.5 115.9h.1M329.4 115.8h.1M339.5 122.6h.1M343.1 115.6h.1M346.8 118.2h.1M338.1 116.1h.1M340.4 114.1h.1M341.4 111.6h.1M345.7 115.3h.1M339.6 114.2h.1M334.1 120.6h.1M345.8 113h.1M342.2 115.8h.1M342 119.8h.1M333.2 116.9h.1M340 119.2h.1M330.8 120.5h.1M329.3 111.1h.1M338.7 115.8h.1M337.7 113.7h.1M343 122.5h.1M347.7 116.9h.1M339.8 119.2h.1M349.5 123.8h.1M336.9 116h.1M344.1 117.6h.1M333.2 118.9h.1M340.7 116.3h.1M338.3 122.1h.1M338.9 120.4h.1M343.1 121.1h.1M329.9 117.5h.1M340.6 116.1h.1M335.7 116h.1M340.6 116h.1M342.1 111.2h.1M338 118.7h.1M338 120.4h.1M333.8 117.3h.1M342.9 115.5h.1M336.4 117.5h.1M342.4 118.2h.1M332.4 118.6h.1M347.3 124.1h.1M334.5 114.1h.1M346.2 118.7h.1M337.6 119.9h.1M342.9 117.6h.1M339.2 116.5h.1M343.6 113.5h.1M340 115.1h.1M346.8 120h.1M343.6 122.8h.1M343.6 114.9h.1M348.9 119.1h.1M336.3 119.3h.1M346.9 121.1h.1M340.4 118.3h.1M332.1 119h.1M342.5 120.7h.1M338.9 113h.1M349 117.5h.1M337.4 110.7h.1M340.3 109.9h.1M341.2 114.3h.1M329.8 111.6h.1M342.7 119.2h.1M334.7 121.1h.1M347.5 116.2h.1M348.9 116.8h.1M340 116.5h.1M331.5 116.4h.1M341 117.8h.1M340.9 118.7h.1M343.8 115.6h.1M338.4 114.4h.1M333.7 115.4h.1M339.2 120.3h.1M335.1 115.8h.1M349.4 122.8h.1M336.2 116.4h.1M336.5 122.4h.1M339.7 112.9h.1M333.4 114.7h.1M337.6 119.1h.1M339.3 119.2h.1M337.4 116.7h.1M338.7 124.9h.1M346.6 117.6h.1M342.3 118.4h.1M332.9 115.2h.1M337.7 123.5h.1M344 120.5h.1M336.5 118.9h.1M340.4 111.2h.1M339.8 118.7h.1M342.8 115.6h.1M339 118.8h.1M339.2 120.7h.1M335.4 114.5h.1M341.9 118.1h.1M335.1 120.6h.1M349.2 117.9h.1M339.9 116.1h.1M338.8 113.4h.1M344.2 114.8h.1M339.5 112.6h.1M340.5 121h.1M339.7 117.7h.1M336.1 112.8h.1M335.1 117.3h.1M336.3 112.5h.1M346 105.1h.1M336.7 121.8h.1M337.8 121.7h.1M337.6 111.8h.1M343.7 114.7h.1M350.6 118.1h.1M335.1 115.9h.1M342.9 114.1h.1M340.6 115.4h.1M338.4 116.4h.1M342.7 115.3h.1M333.2 118.1h.1M344.4 116.5h.1M341.2 114.5h.1M334.7 117.4h.1M348.5 111.1h.1M344.5 122.7h.1M346.2 110.9h.1M332.3 117h.1M338.6 118.6h.1M337.2 118.8h.1M343.3 118.3h.1M347.2 122h.1M329.9 113.1h.1M340.1 117.1h.1M339.3 117.9h.1M345.3 115.5h.1M339.8 115.1h.1M333.2 122.1h.1M339 114.7h.1M334.5 115.5h.1M335.9 116.3h.1M340.2 116.5h.1M337.4 117.9h.1M341.5 116.5h.1M331.9 118.7h.1M352.3 117.8h.1M346.7 119.1h.1M343.8 122.4h.1M333.1 114.2h.1M328.5 123.4h.1M335.4 115.6h.1M338.8 119.8h.1M351.9 117.9h.1M346.9 116.2h.1M337.2 110h.1M346.4 123.2h.1M346.5 114.5h.1M340.1 114.4h.1M346.5 121.2h.1M341.8 117.6h.1M336.5 124.3h.1M333.8 123.5h.1M339.3 119.9h.1M345.3 118.2h.1M332.8 120.1h.1M331.4 112.4h.1M342.9 117.9h.1M325.6 117.8h.1M349.7 115.5h.1M337.7 118.2h.1M343.9 111.9h.1M349.9 120.6h.1M332.3 122h.1M334.4 112.5h.1M351.9 117.8h.1M338.5 123h.1M339.3 118.8h.1M341.2 113.5h.1M345.6 113.6h.1M347 120.4h.1M340.6 124h.1M338.2 113.3h.1M339.8 117.4h.1M341.6 114.4h.1M347 116.2h.1M340.7 118.4h.1M349.7 117.1h.1M335.4 114.8h.1M342.8 125h.1M349.3 116.7h.1M346.8 116.6h.1M341.8 121.4h.1M335.3 117.3h.1M336.2 116.5h.1M339.2 120.8h.1M341.7 113.5h.1M338.7 120h.1M332.3 121.1h.1M336.1 119.7h.1M342.8 116.6h.1M344.4 117.2h.1M332.6 111h.1M338.1 116.8h.1M331.1 118.3h.1M337 120.5h.1M358.8 117.8h.1M340.3 115.8h.1M338.2 114.2h.1M336.9 117.1h.1M333.6 117.8h.1M330.1 121.7h.1M339.8 117.3h.1M338.5 115.4h.1M347.9 116.9h.1M331.3 115.5h.1M342.3 116.4h.1M347.1 109.2h.1M329.6 111.4h.1M343.5 112.9h.1M331.4 119h.1M342.8 117h.1M347.8 117.8h.1M340 121.5h.1M341.5 113.5h.1M336.3 121.5h.1M341.5 118.7h.1M346 114.7h.1M339 122.7h.1M339.3 112h.1M342.1 113.1h.1M344.4 116.5h.1M331.3 118.7h.1M340.3 116.6h.1M336.4 109.5h.1M342.6 116.2h.1M345.5 117h.1M341.7 126.6h.1M346.9 122.3h.1M334.7 117.7h.1M337.8 113.3h.1M334.7 118.5h.1M340.3 113h.1M340.5 118h.1M338.9 118.6h.1M333.6 115.8h.1M339.6 118.2h.1M337.7 116.1h.1M343.2 115.2h.1M338.6 122.9h.1M346.2 119.4h.1M341.2 116.1h.1M330.1 114.5h.1M339.1 117.9h.1M332.4 119.3h.1M345.2 120.4h.1M347.6 122.6h.1M339.9 118.9h.1M342.4 113.2h.1M332.3 124.7h.1M328 121.5h.1M337.1 120.3h.1M338.6 122.1h.1M332 111.8h.1M340.5 115.9h.1M341.7 115.4h.1M343.4 121.6h.1M348.3 112.9h.1M344.3 116.1h.1M338.1 122.8h.1M340.6 119.6h.1M343.2 115.8h.1M334.4 124.1h.1M347.1 112.4h.1M344.8 118.9h.1M338.8 116.4h.1M336.6 119.1h.1M360.3 116.2h.1M344.5 114.2h.1M345 118h.1M349.6 112.4h.1M345.2 119.2h.1M341.1 116.1h.1M343.8 120.6h.1M335.2 115.6h.1M343.8 114.8h.1M331.8 118.7h.1M342.3 121.8h.1M343 109.7h.1M331.7 117.7h.1M350.2 119.5h.1M333.9 112.1h.1M345.6 114h.1M337.2 119.6h.1M341.7 114.2h.1M336.5 114.9h.1M353.3 123.5h.1M345.5 113.8h.1M349.7 114.1h.1M344.2 108.8h.1M343.8 113.2h.1M340.9 112.8h.1M338.8 123.5h.1M343.3 121.7h.1M340.9 112.6h.1M339.3 124.4h.1M332.8 120h.1M338.5 116.6h.1M343.3 120.2h.1M337.6 118.6h.1M342 114.4h.1M339.3 110.8h.1M334.6 113.9h.1M335.3 117.2h.1M336.2 115.9h.1M338.6 114.5h.1M338.7 120.8h.1M346.1 113.4h.1M334.3 120.5h.1M329.2 115.5h.1M343.8 117.6h.1M337.7 113.1h.1M339.5 117.2h.1M353.7 114.4h.1M347.9 110.9h.1M343.3 117.2h.1M345.2 117h.1M340.8 120.3h.1M345.2 118.3h.1M336.9 113.5h.1M336.3 115h.1M337.7 108.2h.1M348.6 113.1h.1M348.4 122h.1M336.9 122.8h.1M346.3 120h.1M339.3 118.3h.1M345.9 119.4h.1M338.5 119h.1M345.3 110.9h.1M339.6 114h.1M338.6 121.5h.1M340 121.5h.1M341 118.1h.1M337.1 116.1h.1M332.9 115.8h.1M349.2 115.2h.1M338.1 113.8h.1M330.5 110.2h.1M328.1 117.8h.1M325.2 115.6h.1M336.9 116.4h.1M347.4 123.5h.1M331.5 119.4h.1M338.5 114.7h.1M330.4 119.3h.1M346.1 111.7h.1M342.1 121.1h.1M341.9 118.2h.1M347.4 116.5h.1M349 119.3h.1M345.7 122.5h.1M337.1 115.5h.1M333.1 113.6h.1M334.6 124.9h.1M330.8 117.3h.1M349.9 122.7h.1M339.2 114.7h.1M340.9 118.6h.1M341.3 114.9h.1M351 119.5h.1M337.2 116.2h.1M346.5 114.8h.1M341.8 122.9h.1M339.4 118.5h.1M329.9 109.8h.1M345.1 116.4h.1M336.2 113.9h.1M337.8 112.8h.1M341.4 115.1h.1M340.7 115.5h.1M346.2 117.3h.1M336.6 114.3h.1M341.1 110.4h.1M341.7 115.2h.1M340.4 120.4h.1M343.9 112.2h.1M338.9 119.5h.1M346.7 118.9h.1M336.4 115.6h.1M332.5 118.3h.1M340 114.5h.1M346.5 115.7h.1M337.5 113.5h.1M336.9 118.9h.1M338.4 122.2h.1M341.1 114.7h.1M339.3 121.6h.1M341.9 109.4h.1M331 114h.1M348.2 113.5h.1M343.3 123.5h.1M335.6 115h.1M347.6 120.1h.1M342.6 109.7h.1M348.1 117.6h.1M333.9 119.3h.1M349.1 117.1h.1M340.5 107.2h.1M329.2 117.9h.1M344.3 120.2h.1M338.6 122.1h.1M334.8 118.7h.1M339.1 111h.1M329.8 116.4h.1M343.3 120.5h.1M339.1 114.2h.1M338.8 119.3h.1M347.8 115.4h.1M340.4 117.5h.1M336.7 120h.1M335.1 114.6h.1M339.9 127.8h.1M345.9 117.8h.1M337.1 118.5h.1M334.7 114.5h.1M345.2 117.4h.1M340.5 116.2h.1M340.1 111.8h.1M326.7 117.4h.1M344.9 111.4h.1M341.1 118.5h.1M315.8 114.6h.1M320.6 114.2h.1M338.9 122.4h.1M341.3 117.9h.1M348.1 109h.1M329.6 120.4h.1M347.9 121.2h.1M338.9 112.5h.1M336.9 114.8h.1M340.6 117.1h.1M351.9 115.5h.1M347.6 117.4h.1M350.9 120.2h.1M335.1 114.2h.1M339.2 127.6h.1M330.4 113.1h.1M336.5 114h.1M338 127h.1M337.3 129.2h.1M349.1 117h.1M346.3 115.8h.1M349.6 111.2h.1M343.3 122.7h.1M352.7 117.7h.1M343.1 112.4h.1M351.7 118.9h.1M347 123.9h.1M349.4 120.4h.1M341.3 128.3h.1M329.6 122.8h.1M327.6 119.1h.1M361.6 116.6h.1M345.9 119.7h.1M346.4 123.1h.1M340.3 121.3h.1M337.4 122.3h.1M370.7 118h.1M330.8 120.8h.1M341.4 123.1h.1M341.5 115.9h.1M330.7 110.1h.1M329.3 125.8h.1M335 119.8h.1M338.6 114.5h.1M337.1 118h.1M350.1 115.5h.1M330.2 107.9h.1M346 115.8h.1M356.7 109.4h.1M350.9 117.9h.1M330.6 116.2h.1M312.5 122.7h.1M350.5 116.2h.1M347 118.7h.1M336.1 115.2h.1M354.8 114.8h.1M338 109.5h.1" stroke="#000" stroke-width="0.85" stroke-opacity="0.6" stroke-linecap="square" fill="none"/>
<path d="M304.9 113.9h.1M300 108.4h.1M295.5 108.8h.1M300.3 113.6h.1M296.5 115.9h.1M294.7 122h.1M300.5 128.6h.1M306.3 125.6h.1M297.4 119h.1M290.5 126.4h.1M295.3 116.4h.1M309.8 114.4h.1M294.1 128.6h.1M306.1 111.7h.1M297.6 114.9h.1M303.4 115.7h.1M298.4 124.3h.1M289.5 114h.1M296.5 120.9h.1M311.7 115h.1M298.2 110.9h.1M302.4 118.2h.1M297 117.9h.1M298.2 111.2h.1M300.9 112.7h.1M301.8 113.1h.1M312.3 121.8h.1M298.9 119.3h.1M297.9 118.2h.1M295 119.5h.1M291.1 114.6h.1M289.3 119.4h.1M303 114h.1M287.8 110.4h.1M307.4 113.5h.1M304.2 118.1h.1M297.2 117.5h.1M292.1 122.3h.1M299.2 108.6h.1M299.1 115.9h.1M305.8 119h.1M294.6 112.2h.1M296.7 118.3h.1M298.7 115h.1M297.4 111.4h.1M293.8 96.3h.1M331.4 119.6h.1M331.9 101.3h.1M338.8 100.3h.1M321.9 103.1h.1M311.2 114h.1M345.1 102.9h.1M293.5 116.9h.1" stroke="#000" stroke-width="0.85" stroke-opacity="0.25" stroke-linecap="square" fill="none"/>
<rect x="323" y="100.5" width="42" height="30" fill="none" stroke="#444" stroke-width="0.8"/>
<path d="M286.3 26.2V130.5H387.8" stroke="#222" stroke-width=".8" fill="none"/>
<text x="297.3" y="139.2" font-size="5" text-anchor="middle" stroke="#000" stroke-width=".15">0</text>
<text x="282" y="121.2" font-size="5" text-anchor="end" stroke="#000" stroke-width=".15">0</text>
<text x="308.3" y="139.2" font-size="5" text-anchor="middle" stroke="#000" stroke-width=".15">10<tspan dy="-1.7" font-size="3.4">2</tspan></text>
<text x="282" y="109.7" font-size="5" text-anchor="end" stroke="#000" stroke-width=".15">10<tspan dy="-1.7" font-size="3.4">2</tspan></text>
<text x="333.1" y="139.2" font-size="5" text-anchor="middle" stroke="#000" stroke-width=".15">10<tspan dy="-1.7" font-size="3.4">3</tspan></text>
<text x="282" y="84.5" font-size="5" text-anchor="end" stroke="#000" stroke-width=".15">10<tspan dy="-1.7" font-size="3.4">3</tspan></text>
<text x="357.3" y="139.2" font-size="5" text-anchor="middle" stroke="#000" stroke-width=".15">10<tspan dy="-1.7" font-size="3.4">4</tspan></text>
<text x="282" y="60.5" font-size="5" text-anchor="end" stroke="#000" stroke-width=".15">10<tspan dy="-1.7" font-size="3.4">4</tspan></text>
<text x="381" y="139.2" font-size="5" text-anchor="middle" stroke="#000" stroke-width=".15">10<tspan dy="-1.7" font-size="3.4">5</tspan></text>
<text x="282" y="37" font-size="5" text-anchor="end" stroke="#000" stroke-width=".15">10<tspan dy="-1.7" font-size="3.4">5</tspan></text>
<path d="M308.3 130.5v1.6M286.3 108.2h-1.6M315.8 130.5v1M286.3 100.6h-1M320.1 130.5v1M286.3 96.2h-1M323.2 130.5v1M286.3 93h-1M325.6 130.5v1M286.3 90.6h-1M327.6 130.5v1M286.3 88.6h-1M329.3 130.5v1M286.3 86.9h-1M330.7 130.5v1M286.3 85.4h-1M332 130.5v1M286.3 84.2h-1M333.1 130.5v1.6M286.3 83h-1.6M340.4 130.5v1M286.3 75.8h-1M344.6 130.5v1M286.3 71.5h-1M347.7 130.5v1M286.3 68.6h-1M350 130.5v1M286.3 66.2h-1M351.9 130.5v1M286.3 64.3h-1M353.6 130.5v1M286.3 62.7h-1M355 130.5v1M286.3 61.3h-1M356.2 130.5v1M286.3 60.1h-1M357.3 130.5v1.6M286.3 59h-1.6M364.4 130.5v1M286.3 51.9h-1M368.6 130.5v1M286.3 47.8h-1M371.6 130.5v1M286.3 44.9h-1M373.9 130.5v1M286.3 42.6h-1M375.7 130.5v1M286.3 40.7h-1M377.3 130.5v1M286.3 39.1h-1M378.7 130.5v1M286.3 37.8h-1M379.9 130.5v1M286.3 36.6h-1M381 130.5v1.6M286.3 35.5h-1.6M288.8 130.5v1M286.3 128h-1M290.8 130.5v1M286.3 126h-1M292.8 130.5v1M286.3 124h-1M294.8 130.5v1M286.3 122h-1M299.8 130.5v1M286.3 117h-1M302.3 130.5v1M286.3 114.5h-1M304.3 130.5v1M286.3 112.5h-1M306.3 130.5v1M286.3 110.5h-1M388.1 130.5v1M286.3 28.4h-1M392.2 130.5v1" stroke="#333" stroke-width=".6" fill="none"/>
<path d="M297.3 130.5v2M286.3 119.7h-2" stroke="#000" stroke-width="1.3" fill="none"/>
<text x="340" y="146.3" font-size="6.6" text-anchor="middle" fill="#111">&lt;PE-A&gt;:CD41</text>
<text x="272.2" y="69.8" font-size="7.2" text-anchor="middle" transform="rotate(-90 272.2 69.8)" fill="#111">Hoechst-A</text>
<path d="M432.2 75.8h.1M436.8 83.1h.1M430.5 78.3h.1M433.2 77.7h.1M433.9 74h.1M424.7 82h.1M445.8 79.8h.1M426.7 78.8h.1M435.5 78.1h.1M439.7 72.9h.1M430.4 85.7h.1M433.5 76.7h.1M444 76.4h.1M433.7 86.1h.1M440.3 76.9h.1M434.5 72.7h.1M434.7 75.2h.1M438.2 76.8h.1M434.1 86.4h.1M432.9 80.3h.1M439.8 77h.1M436.3 82.1h.1M438.2 83.6h.1M426 77.7h.1M435.3 84.8h.1M442.2 80.9h.1M440 79.7h.1M434.2 69.4h.1M431 80.6h.1M431.5 85.4h.1M436.5 77.5h.1M444.7 86.4h.1M434.4 79.4h.1M441.2 73.5h.1M432.7 81.9h.1M441.7 78.7h.1M428.6 83.8h.1M435 78h.1M428.6 85.7h.1M437.7 76.1h.1M437.7 78.9h.1M427.2 75.5h.1M428.8 77h.1M431.5 80.6h.1M424.4 78.5h.1M428 78.6h.1M428.6 79.5h.1M439.1 79.2h.1M443.2 80.4h.1M432 82.8h.1M433.2 83.6h.1M435.6 79.7h.1M430.4 77.7h.1M431 73.3h.1M438.9 76.7h.1M434.8 75.7h.1M432 72.1h.1M431.9 86.4h.1M441.6 70h.1M430.6 81.4h.1M435.3 81.2h.1M427.5 79.6h.1M432.6 90.2h.1M434.7 79.1h.1M431 76.7h.1M438.8 85.5h.1M433.8 75.9h.1M424.4 75.3h.1M419 78.2h.1M439.7 75.3h.1M430.5 80.1h.1M443.5 78.6h.1M432.9 73.1h.1M429.7 81.6h.1M439.4 87.3h.1M431.8 76.7h.1M434 78.7h.1M428.9 83.2h.1M439 83.1h.1M440.2 75.1h.1M430 76.1h.1M444.2 72.9h.1M431.5 84.3h.1M436.4 82.4h.1M422.2 72.7h.1M420.4 73.2h.1M446 71.5h.1M441.6 71.4h.1M441.5 79.3h.1M423.8 82.3h.1M437.1 86.7h.1M437.3 81.8h.1M434.7 79.6h.1M436.9 83.5h.1M427.7 76.9h.1M431.9 73.9h.1M427.1 80.8h.1M432.7 83.4h.1M435 72.3h.1M430 83.8h.1M433.1 83h.1M431 77.8h.1M434.3 79.9h.1M439.5 76.9h.1M435.6 79.2h.1M437.2 81.9h.1M424.5 77.9h.1M432.7 83.8h.1M439.8 81.6h.1M429.5 83.9h.1M429.7 71.9h.1M426.5 73.1h.1M442.8 80.2h.1M430.8 77.5h.1M429 77.4h.1M437.2 75.4h.1M439.7 72.4h.1M436.8 77.4h.1M439.5 75h.1M434.8 76.3h.1M433.7 81.3h.1M430.3 75.1h.1M431.9 84.3h.1M428.5 71.1h.1M438.4 88.7h.1M432.2 73.9h.1M435.1 81.4h.1M438.5 82h.1M433.7 79.3h.1M426.2 84h.1M429.1 79.8h.1M425.7 73.7h.1M422.6 83.1h.1M435.6 83.6h.1M426.2 78.6h.1M424.7 74.1h.1M426.9 78.2h.1M439.7 79.4h.1M432.4 80.8h.1M441.1 82.3h.1M433.9 81.5h.1M431.8 81.8h.1M435.8 70.5h.1M439.6 87.3h.1M434.8 79.2h.1M428.4 84h.1M430.9 78.4h.1M426.6 80.1h.1M432.5 79.8h.1M435.9 85.4h.1M444.4 83.3h.1M443.2 79.8h.1M439.9 86.2h.1M439.6 76.4h.1M435.9 81h.1M450.7 73.8h.1M444.5 82.4h.1M450.3 75.9h.1M437.2 82.6h.1M438 85.6h.1M438.7 69.6h.1M437 87.6h.1M436.2 80.1h.1M427.7 79.3h.1M438.2 70.4h.1M434.6 77.8h.1M437 69h.1M432.7 79.9h.1M422.9 80.9h.1M438.6 85.9h.1M440.9 76.4h.1M427 85.2h.1M429 85.2h.1M433.9 87.9h.1M432.3 78.6h.1M424.2 84.5h.1M443.5 70.9h.1M439.3 73.5h.1M430 79h.1M422.8 81.5h.1M435.2 73.9h.1M445.9 75h.1M439.7 81h.1M440.7 75.9h.1M428.1 79.9h.1M434.7 75.4h.1M425.9 86.8h.1M447.7 83.8h.1M437.7 79.3h.1M420.9 81.6h.1M424 88.4h.1M437.4 80.6h.1M434.3 76.4h.1M430.9 74.3h.1M437.3 76.1h.1M448.2 85.4h.1M435.7 76.4h.1M425.3 93.2h.1M433 79.5h.1M425.7 80.1h.1M430.2 85.6h.1M435.8 77.9h.1M433.3 81h.1M426.5 76.5h.1M432.7 74.3h.1M428.3 77.4h.1M437.4 79.5h.1M431.9 76.9h.1M434.7 70.9h.1M432.7 81.6h.1M438.4 77.7h.1M432.9 78.3h.1M433.4 76.8h.1M428.5 71h.1M436.2 85.5h.1M422.6 79.7h.1M450.8 77.9h.1M430.9 85.8h.1M435.5 83.7h.1M431.2 80.7h.1M430.9 80h.1M436.7 80h.1M431.6 83.6h.1M431.8 82.2h.1M425.1 79.3h.1M428.6 82.3h.1M427 82.4h.1M445.6 79.7h.1M425.9 81.9h.1M428.5 86.2h.1M435.3 79.9h.1M443.5 81h.1M423.5 81.7h.1M423.9 79h.1M433.9 75.3h.1M435.9 78.2h.1M425.6 83.3h.1M423.9 86.8h.1M427.9 80.2h.1M438.1 76.2h.1M433.2 77.3h.1M439.6 83.5h.1M433.3 79.9h.1M433.3 77.4h.1M438.3 81.5h.1M432 74.2h.1M435.4 79.5h.1M428.2 80.3h.1M430.1 79.6h.1M435.8 74.1h.1M433.2 83.6h.1M430.7 87.1h.1M436.8 73.1h.1M437.4 79.1h.1M434.4 81.9h.1M431.1 89.4h.1M439 76.5h.1M448.5 72.2h.1M428.8 80.4h.1M426.1 89.4h.1M429.1 80.6h.1M428.3 81.6h.1M427.6 88.1h.1M424.8 72.3h.1M437.2 69.5h.1M439.9 81.8h.1M443.6 80.5h.1M437.3 72.8h.1M431.4 82h.1M440.6 78.1h.1M430.3 81h.1M431 76.6h.1M426.2 79h.1M440.7 74.2h.1M440.1 78.2h.1M430.8 79h.1M433.4 86.5h.1M434.6 81.8h.1M433.7 72.8h.1M439.4 79.9h.1M435.5 85h.1M436.5 79.9h.1M425.5 85.7h.1M432 79.6h.1M423.4 84.5h.1M444 73.2h.1M443.1 80.7h.1M437.1 72.9h.1M441.8 83.1h.1M444.9 70.6h.1M437.8 69.6h.1M424.5 83.5h.1M432.4 78.9h.1M419.4 82.9h.1M429.2 82.1h.1M426.1 80.9h.1M433 75.8h.1M436.4 79.7h.1M428.4 81.9h.1M432.5 81.7h.1M437.2 86.9h.1M432.2 76.6h.1M432.8 79.8h.1M419.5 84.7h.1M430.7 78.1h.1M437.7 73.5h.1M434.9 76.7h.1M425.6 85.6h.1M431.9 78.6h.1M436 81.5h.1M427.2 77.7h.1M438.3 80.3h.1M428.3 77.7h.1M431 76.4h.1M433.2 79.9h.1M447.5 76.6h.1M433.1 85.7h.1M428.9 73.6h.1M438.6 80.5h.1M432.2 86.4h.1M436.1 84.6h.1M419.6 80.8h.1M435 76.2h.1M433.2 77.4h.1M426.1 82.2h.1M442.3 78.3h.1M432.6 81.1h.1M433.1 82h.1M424.8 76.8h.1M422.8 77h.1M429.2 75.2h.1M423.2 76h.1M436.7 78.3h.1M439.4 79.5h.1M432 90.3h.1M424.3 83.6h.1M431.4 79.9h.1M428.4 86.4h.1M434.2 76.2h.1M435.2 80.5h.1M432 83.8h.1M434.9 82.4h.1M440.5 79.6h.1M444 75.7h.1M429.5 75.1h.1M438.1 77.8h.1M431.8 77.3h.1M427.8 83.5h.1M441.5 77.1h.1M436.7 81.1h.1M433.2 72.7h.1M436.8 82.8h.1M432 76.1h.1M425.9 74.5h.1M443.5 71.5h.1M438.8 75.7h.1M436.3 83.5h.1M440.3 81h.1M440.7 73h.1M432.6 80h.1M437.3 78.2h.1M430.4 73.5h.1M436.9 74.5h.1M430.4 71.5h.1M448 72.7h.1M429.3 69.2h.1M436.2 75.5h.1M435.8 75h.1M431 76.6h.1M438.8 74.8h.1M434.2 84.1h.1M430.9 78.5h.1M434 80.3h.1M429.8 83.4h.1M441.9 81.4h.1M438.2 81.3h.1M439.3 75.8h.1M424.5 76.7h.1M434.7 75.9h.1M428.6 78.5h.1M434.3 79.3h.1M441.5 77.3h.1M436.3 83.4h.1M432.6 79.2h.1M442.2 85.1h.1M440.8 82.2h.1M444.7 75h.1M423 85.2h.1M433.3 67.4h.1M432.4 85.4h.1M428.7 82.1h.1M434.8 80.8h.1M425.1 74.1h.1M422.1 92.4h.1M428 79.5h.1M432 79.1h.1M446.2 81.4h.1M429.1 79.5h.1M425.8 77.5h.1M422.1 84.6h.1M430.7 75.8h.1M432.9 82.6h.1M434.8 79.7h.1M425.8 85.8h.1M428 75.5h.1M420.8 87.3h.1M435 80.3h.1M425.8 89.3h.1M416.3 80.3h.1M442.5 85.3h.1M437.5 81.5h.1M436.6 82.1h.1M435.3 76h.1M427.8 82.9h.1M440.9 80.6h.1M426.6 77.4h.1M444.5 72.2h.1M434.5 76h.1M423.6 87.6h.1M439.2 78.8h.1M446.7 80.5h.1M432.4 80.8h.1M440.4 78.4h.1M432.6 80.5h.1M429.5 78.5h.1M418.9 87.6h.1M441.5 78.4h.1M431.2 80.8h.1M434.9 73.3h.1M427 82.1h.1M443.7 75.5h.1M446.1 80h.1M460.3 79.2h.1M440.8 81.5h.1M447.8 73.5h.1M455.3 72.3h.1M458.6 63.3h.1M444.6 72.5h.1M453.3 77.6h.1M451.5 69h.1M441.1 84.8h.1M432 86.8h.1M432.2 76.5h.1M456.3 79.6h.1M449.5 67.5h.1M436.8 71.8h.1M443.8 74.5h.1M446.4 76.2h.1M446.6 75h.1M448.9 70.8h.1M471.9 82.8h.1M443.2 78.4h.1M451.6 76.9h.1M443.7 80.5h.1M444.5 77.5h.1M441.8 75.6h.1M447.4 72.8h.1M443.4 67.3h.1M454.6 83.2h.1M451 70.1h.1M440.3 67.7h.1M466.6 68h.1M437.8 68.5h.1M455.2 86h.1M470 74.1h.1M444.9 84.4h.1M463.4 81.4h.1M463.4 76.4h.1M453.6 78.1h.1M432.5 74.5h.1M462.8 72.8h.1M450.2 72h.1M445.1 76.6h.1M460.9 69.6h.1M444.7 83.7h.1M460.4 78h.1M444.9 75.8h.1M453.2 65.4h.1M440.9 81h.1M447.3 81h.1M441.6 76.6h.1M442.3 69.7h.1M452.1 77.6h.1M449.5 81.6h.1M449.8 64.6h.1M462.2 76.6h.1M447.2 65.6h.1M433.2 78.9h.1M449.1 85.6h.1M450.8 75.9h.1M459.7 76.5h.1M459 72.1h.1M458.6 73.9h.1M450.2 88.8h.1M457.1 81.8h.1M436.6 76.1h.1M461.3 71.3h.1M454 74.9h.1M456.7 86.8h.1M446.8 77.3h.1M451.6 81.6h.1M443.6 74.6h.1M453.9 67.6h.1M439.3 84.9h.1M458.7 73.5h.1M454.2 70.3h.1M467.7 68.4h.1M449 71.9h.1M448.6 72.3h.1M450.2 66.7h.1M451.5 82.1h.1M449.4 77.8h.1M441 82.6h.1M439.7 75.4h.1M445.2 78.3h.1M447.5 76.9h.1M440.4 83.9h.1M440.3 81.8h.1M447.8 77.9h.1M456.1 70.7h.1" stroke="#000" stroke-width="0.85" stroke-opacity="0.5" stroke-linecap="square" fill="none"/>
<rect x="442" y="60.2" width="30.5" height="32.8" fill="none" stroke="#444" stroke-width="0.8"/>
<path d="M413.8 26.2V130.5H515.3" stroke="#222" stroke-width=".8" fill="none"/>
<text x="424.8" y="139.2" font-size="5" text-anchor="middle" stroke="#000" stroke-width=".15">0</text>
<text x="409.5" y="121.2" font-size="5" text-anchor="end" stroke="#000" stroke-width=".15">0</text>
<text x="435.8" y="139.2" font-size="5" text-anchor="middle" stroke="#000" stroke-width=".15">10<tspan dy="-1.7" font-size="3.4">2</tspan></text>
<text x="409.5" y="109.7" font-size="5" text-anchor="end" stroke="#000" stroke-width=".15">10<tspan dy="-1.7" font-size="3.4">2</tspan></text>
<text x="460.6" y="139.2" font-size="5" text-anchor="middle" stroke="#000" stroke-width=".15">10<tspan dy="-1.7" font-size="3.4">3</tspan></text>
<text x="409.5" y="84.5" font-size="5" text-anchor="end" stroke="#000" stroke-width=".15">10<tspan dy="-1.7" font-size="3.4">3</tspan></text>
<text x="484.8" y="139.2" font-size="5" text-anchor="middle" stroke="#000" stroke-width=".15">10<tspan dy="-1.7" font-size="3.4">4</tspan></text>
<text x="409.5" y="60.5" font-size="5" text-anchor="end" stroke="#000" stroke-width=".15">10<tspan dy="-1.7" font-size="3.4">4</tspan></text>
<text x="508.5" y="139.2" font-size="5" text-anchor="middle" stroke="#000" stroke-width=".15">10<tspan dy="-1.7" font-size="3.4">5</tspan></text>
<text x="409.5" y="37" font-size="5" text-anchor="end" stroke="#000" stroke-width=".15">10<tspan dy="-1.7" font-size="3.4">5</tspan></text>
<path d="M435.8 130.5v1.6M413.8 108.2h-1.6M443.3 130.5v1M413.8 100.6h-1M447.6 130.5v1M413.8 96.2h-1M450.7 130.5v1M413.8 93h-1M453.1 130.5v1M413.8 90.6h-1M455.1 130.5v1M413.8 88.6h-1M456.8 130.5v1M413.8 86.9h-1M458.2 130.5v1M413.8 85.4h-1M459.5 130.5v1M413.8 84.2h-1M460.6 130.5v1.6M413.8 83h-1.6M467.9 130.5v1M413.8 75.8h-1M472.1 130.5v1M413.8 71.5h-1M475.2 130.5v1M413.8 68.6h-1M477.5 130.5v1M413.8 66.2h-1M479.4 130.5v1M413.8 64.3h-1M481.1 130.5v1M413.8 62.7h-1M482.5 130.5v1M413.8 61.3h-1M483.7 130.5v1M413.8 60.1h-1M484.8 130.5v1.6M413.8 59h-1.6M491.9 130.5v1M413.8 51.9h-1M496.1 130.5v1M413.8 47.8h-1M499.1 130.5v1M413.8 44.9h-1M501.4 130.5v1M413.8 42.6h-1M503.2 130.5v1M413.8 40.7h-1M504.8 130.5v1M413.8 39.1h-1M506.2 130.5v1M413.8 37.8h-1M507.4 130.5v1M413.8 36.6h-1M508.5 130.5v1.6M413.8 35.5h-1.6M416.3 130.5v1M413.8 128h-1M418.3 130.5v1M413.8 126h-1M420.3 130.5v1M413.8 124h-1M422.3 130.5v1M413.8 122h-1M427.3 130.5v1M413.8 117h-1M429.8 130.5v1M413.8 114.5h-1M431.8 130.5v1M413.8 112.5h-1M433.8 130.5v1M413.8 110.5h-1M515.6 130.5v1M413.8 28.4h-1M519.7 130.5v1" stroke="#333" stroke-width=".6" fill="none"/>
<path d="M424.8 130.5v2M413.8 119.7h-2" stroke="#000" stroke-width="1.3" fill="none"/>
<text x="468.7" y="146.3" font-size="6.15" text-anchor="middle" fill="#111">&lt;FITC-A&gt;: thiazole orange</text>
<text x="399.3" y="74.3" font-size="6.05" text-anchor="middle" transform="rotate(-90 399.3 74.3)" fill="#111">&lt;PE-A&gt;: CD41</text>
<text x="463.8" y="57.6" font-size="6.5" text-anchor="middle" fill="#222">15.6%</text>
<path d="M111.8 184.1C112.3 183.1 113 182.6 114.2 182.2C115.4 181.8 117.4 181.5 118.9 181.7C120.5 181.9 122.6 182.4 123.6 183.3C124.6 184.1 124.9 185.3 125 186.8C125.1 188.4 124.5 190.7 124 192.6C123.5 194.6 122.6 197 121.9 198.6C121.3 200.2 120.6 201.7 120.1 202.4C119.5 203 119.3 203 118.7 202.4C118.1 201.7 117.4 200.2 116.5 198.5C115.7 196.9 114.4 194.4 113.5 192.6C112.7 190.7 111.9 189.1 111.6 187.7C111.3 186.3 111.4 185 111.8 184.1Z" fill="#000" filter="url(#b1)"/>
<g filter="url(#b1)">
<ellipse cx="81" cy="230.5" rx="10" ry="4.6" transform="rotate(-35 81 230.5)" fill="#000" fill-opacity=".7"/>
</g>
<path d="M115.5 182.5h.1M117.8 178.3h.1M115.5 184.7h.1M114.7 187.9h.1M116.7 180.7h.1M111.7 187.3h.1M110.1 184.1h.1M117.5 201.1h.1M116.9 198.6h.1M119.9 192.5h.1M115.4 195.3h.1M115.4 192.5h.1M123.7 182h.1M122.8 198.5h.1M125.5 187.1h.1M117.6 181.3h.1M124.5 190.8h.1M120.5 197.1h.1M113.2 183.3h.1M116.8 199.7h.1M115 195.1h.1M122.9 194.5h.1M117.3 202.3h.1M122.4 183.4h.1M116.4 197.3h.1M122.2 194.7h.1M117.6 199.7h.1M121.4 181.9h.1M111 186.6h.1M114.9 192.4h.1M124.4 191.8h.1M111.4 193h.1M117 196.1h.1M124.6 185.1h.1M113.8 193.6h.1M126 188.1h.1M113.2 193.3h.1M116.9 180.7h.1M113.7 188h.1M112.6 187.8h.1M123.8 183.5h.1M125.3 190.7h.1M125.7 183.7h.1M125.3 183.6h.1M116 201.3h.1M117.4 200.1h.1M114.5 196.8h.1M122.8 193.1h.1M122.9 184.9h.1M125.6 184.9h.1M120.7 181.6h.1M126.5 188.8h.1M120.2 198.3h.1M115.1 195.2h.1M112.4 183h.1M115.8 181.2h.1M124.5 189.6h.1M114.8 197.5h.1M113.1 199h.1M112.6 194.4h.1M126 189.1h.1M124.3 190.5h.1M121.8 181.1h.1M117.6 201.1h.1M117.4 198.2h.1M113.9 182.3h.1M117.2 202.1h.1M113.9 191.7h.1M112.9 191.2h.1M112.4 182.6h.1M123.5 190.7h.1M115.2 193.5h.1M113 182.9h.1M111.7 189.9h.1M123.4 193.8h.1M112.6 185.5h.1M113.8 194.9h.1M124.6 191.6h.1M112.1 186.8h.1M116.8 181.4h.1M121.9 181.6h.1M122.1 198.8h.1M116.4 196.4h.1M124.6 186.9h.1M111.7 187.4h.1M124.7 183.5h.1M110.9 184.5h.1M115.6 197.6h.1M124.6 191.1h.1M125.3 189.3h.1M113.3 192h.1M114.2 196.3h.1M113.4 193.7h.1M123.5 192.2h.1M124.6 186h.1M110.4 186.3h.1M116.4 199.3h.1M122.7 183.3h.1M114.8 194h.1M112.5 189.8h.1M115.5 198h.1M114.9 198.3h.1M114.7 199.8h.1M120.8 181.3h.1M112.4 189.5h.1M112.2 188.3h.1M117.8 181.1h.1M115 194.5h.1M125 188.7h.1M124.2 188.2h.1M118.6 181.3h.1M122.1 194.1h.1M123 182.8h.1M117.9 200.2h.1M112.4 186.4h.1M124.2 186.3h.1M123.1 185h.1M119.9 197.8h.1M116.8 181.5h.1M118.8 181h.1M121.2 180.5h.1M113.9 192.3h.1M112.6 196.1h.1M111.8 193.8h.1M124.8 186.6h.1M121 180h.1M113.7 180h.1M115.4 198.4h.1M114.4 191.3h.1M117.5 201.9h.1M120.7 179.5h.1M118 180.2h.1M119.2 183.5h.1M116.6 199.3h.1M117 202.6h.1M117.8 181.3h.1M124.1 184.3h.1M116.3 197.5h.1M116.5 195.9h.1M122.7 190h.1M113.9 197.7h.1M123.4 192.1h.1M114.3 183.7h.1M116.8 182.1h.1M118.3 199.8h.1M116.9 183.2h.1M120.8 183.4h.1M110.1 189.2h.1M111.6 184.3h.1M114.9 196.5h.1M120.7 182.4h.1M122.8 192.7h.1M114.6 181.2h.1M123.6 186.6h.1M116.1 199.8h.1M112.5 187.1h.1M124.5 187.7h.1M116.9 196.7h.1M123.1 184.5h.1M124.3 183.1h.1M111.7 185.9h.1M124.3 189h.1M110.9 191.9h.1M123.9 192.1h.1M111 189h.1M113.1 191.9h.1M124.8 186.4h.1M114.4 183.6h.1M116.8 201.5h.1M123.9 189.3h.1M127 188.2h.1M118.2 198h.1M123.4 192.3h.1M124.5 185h.1M112 191.9h.1M115.1 193.8h.1M114.4 193.3h.1M123.7 188h.1M111.4 184.8h.1M119.6 196.6h.1M125.4 188.1h.1M119.2 180.5h.1M112.8 194.1h.1M115.7 199.7h.1M111 187.3h.1M116.9 180.6h.1M114 182.1h.1M112.5 189.9h.1M124 183.5h.1M121.4 187.7h.1M117.6 180.5h.1M123.5 196.8h.1M122 181.2h.1M114.1 181.7h.1M110.4 186.9h.1M118.4 181.3h.1M121 189.7h.1M121.9 185h.1M113.4 193h.1M115.5 194.5h.1M111.5 187.8h.1M113.6 196h.1M115.6 192.9h.1M114.2 191.9h.1M119.3 182.9h.1M121.8 195.4h.1M124.7 187.7h.1M115.7 195.5h.1M112.9 195.4h.1M114 197.4h.1M117 180.6h.1M124.2 183h.1M110.6 186.8h.1M123 180.5h.1M114.4 193.2h.1M121.6 184.9h.1M112.6 188.3h.1M123 183.5h.1M126.3 186.9h.1M117 197.1h.1M117.1 200.6h.1M122.4 182.7h.1M115.2 196.6h.1M111.3 193.3h.1M123.6 185.6h.1M116.5 193.7h.1M123.7 195h.1M116.1 196.1h.1M109.8 188.4h.1M115.4 179.2h.1M116.5 200h.1M114.7 180.8h.1M126.1 184.5h.1M117.6 199.2h.1M121 180.6h.1M116.7 201.7h.1M116.6 194.1h.1M117.6 200h.1M113.9 192.9h.1M123.3 197.2h.1M110.3 185.4h.1M124.8 189.3h.1M120.3 183.8h.1M125.3 190h.1M111.3 186.2h.1M125.3 189.5h.1M120.8 183.4h.1M122.7 184.3h.1M125.4 186.3h.1M124.5 190.3h.1M117.6 199.2h.1M118.9 199.3h.1M113.9 183.2h.1M123.9 190.2h.1M115.1 195.1h.1M115.3 195.4h.1M112.1 192.6h.1M120.8 197.5h.1M125 183.7h.1M115.2 197.6h.1M120.3 182.1h.1M112.1 182.8h.1M118.1 181.7h.1M113 181.1h.1M124 192.9h.1M123.8 192.2h.1M110.4 185.6h.1M112 191.8h.1M112.9 193.4h.1M116.2 198h.1M120.9 181.9h.1M119.3 182.1h.1M113.7 192.5h.1M116.9 195.7h.1M114.1 181.6h.1M124.3 184.7h.1M114.7 196.1h.1M111.2 190.4h.1M124.3 190.2h.1M111.4 191.9h.1M112.6 182.9h.1M115.9 195.6h.1M114.3 181.6h.1M126.7 185.9h.1M113 187.2h.1M127 187.6h.1M114.1 182.3h.1M117.7 179.4h.1M110.8 186.6h.1M110.9 189.4h.1M114.2 191.6h.1M124.8 183.3h.1M117.2 182.4h.1M111.4 189.8h.1M124 190.6h.1M118.6 184h.1M124.6 192.8h.1M113.6 188.9h.1M112.7 188.2h.1M121.6 181.8h.1M119 182.1h.1M115.4 194.8h.1M122.8 185.3h.1M121.4 181h.1M125.8 185.1h.1M122.8 182.4h.1M126.5 187.6h.1M114.7 196.1h.1M121.3 185.6h.1M113.2 182.3h.1M114.2 179.7h.1M122.2 184.8h.1M113.9 195.9h.1M120.2 182.7h.1M112.2 183.9h.1M123.9 183h.1M118.7 181.4h.1M125.1 184.6h.1M111.4 189.8h.1M112.2 181.6h.1M113.3 183h.1M110.6 184.1h.1M116.8 201.5h.1M123.6 184.4h.1M122.2 195.3h.1M116.5 191.4h.1M117.3 181.4h.1M121.6 183.4h.1M125.7 186.2h.1M112.2 194.6h.1M113.6 189h.1M115.4 196.9h.1M123.6 183.7h.1M125.8 187.5h.1M116.6 196.5h.1M124.9 188.8h.1M110.4 184.3h.1M127.4 183.2h.1M114.4 195.5h.1M120.6 182.3h.1M109.3 189h.1M124.7 186h.1M110.8 188.2h.1M116.5 199.4h.1M112 191.1h.1M118.3 203.2h.1M116.6 182h.1M124.8 191.9h.1M109.1 184.9h.1M117.8 179.6h.1M125.9 185.1h.1M124.9 187.3h.1M121.5 182.4h.1M123.6 184.7h.1M113.4 183.8h.1M115.6 196.9h.1M112.6 189.8h.1M122.5 183.3h.1M114.1 181.9h.1M125 191.1h.1M117 182.5h.1M123.5 193.5h.1M124.2 183.7h.1M114.9 198h.1M112.1 190.4h.1M116.6 198.3h.1M113.6 192.8h.1M108.9 184.8h.1M119.9 181.9h.1M120.7 181.9h.1M116.7 198.5h.1M115.9 192h.1M120.6 182.2h.1M115.6 183h.1M111.5 191.5h.1M124 189h.1M118.4 200.6h.1M120.2 200.1h.1M120.8 183.3h.1M114.8 182.8h.1M124.9 192.8h.1M113.9 181.8h.1M111.3 185.9h.1M125.4 183.5h.1M112.2 189.1h.1M113.5 191.5h.1M123.8 191.3h.1M116.1 196.4h.1M127.7 186h.1M120 180.9h.1M117.7 197.3h.1M114 184h.1M123.1 200.5h.1M111.8 189.7h.1M112.9 182.7h.1M110.8 181.7h.1M125.6 189.5h.1M113.6 192.7h.1M125.6 189.7h.1M124.9 188.8h.1M126.4 188.7h.1M125.5 185.2h.1M111.5 181.6h.1M118.4 200.1h.1M126.2 186.5h.1M111.8 188.1h.1M119.7 181.5h.1M124.6 186.7h.1M121 182h.1M114.2 197.4h.1M123.5 184.5h.1M122.6 192.7h.1M124.5 190.1h.1M112 191h.1M123 186.6h.1M120.3 181.7h.1M125 187.3h.1M122.3 180.4h.1M117.6 200.7h.1M112.7 198.9h.1M115.6 199.1h.1M115.7 196.7h.1M121 181.8h.1M112.6 182.3h.1M121.8 195.7h.1M119.8 182.4h.1M119.3 198.1h.1M116.9 201.1h.1M125.9 188.2h.1M115.7 198.8h.1M124.8 184.4h.1M116.2 179.9h.1M112.6 191.1h.1M116.2 180.6h.1M121.9 181.5h.1M114.7 195.6h.1M114 182.1h.1M119.5 181.5h.1M124.1 190.2h.1M120 179.2h.1M114 183.2h.1M112.8 196.4h.1M121.1 181.2h.1M114 188h.1M113.2 182.1h.1M126 184.3h.1M117 182.6h.1M121.5 196.3h.1M112 188.3h.1M110.7 189.7h.1M123.2 182.5h.1M116.2 201.4h.1M122.8 193.4h.1M116 194.8h.1M110.9 191.9h.1M119.4 183.2h.1M122.9 185.7h.1M117.1 202.3h.1M122.9 190.5h.1M114.9 194.7h.1M123.3 191.1h.1M109.6 187.5h.1M110.3 188.1h.1M113.3 182.5h.1M113.9 190.8h.1M113.6 182h.1M116.7 197.9h.1M124.7 185.2h.1M116.2 197.8h.1M123 182h.1M120.4 184h.1M125.6 189.4h.1M110.8 184.8h.1M119.4 181.3h.1M121.8 192.2h.1M116.1 195.7h.1M115.7 199.3h.1M114.6 192.8h.1M125.1 185.5h.1M125.1 189.4h.1M112.7 191.3h.1M122.4 190.7h.1M112.5 193.8h.1M111.8 188.2h.1M112.5 183.5h.1M123.7 191.9h.1M125.6 186.8h.1M111.5 194.7h.1M122.2 196.7h.1M122.8 181.6h.1M117.6 199.7h.1M112.5 194.2h.1M117.9 180.9h.1M116.3 196.6h.1M117.2 199h.1M117.2 198.9h.1M114.8 186.5h.1M117.4 181.1h.1M112.1 186.3h.1M124.6 184.6h.1M113.8 182.2h.1M123.6 187.8h.1M119.7 181.1h.1M117.7 202.3h.1M120.4 181.5h.1M113 187.1h.1M123.2 182.4h.1M113.7 189.8h.1M125.1 189.5h.1M125.5 185.9h.1M113.8 197.2h.1M118.7 181.3h.1M114.9 191.6h.1M123.3 190.6h.1M116.4 192h.1M114.6 182.1h.1M112.7 190.3h.1M123.2 185.7h.1M114.4 182.9h.1M113.2 181.4h.1M117.7 183.6h.1M123.7 184.4h.1M123.3 182.6h.1M116 193.8h.1M122.6 193.1h.1M124.8 183.8h.1M123.3 183.8h.1M124.1 188.2h.1M123.5 187.7h.1M116 198.2h.1M126.3 189.8h.1M112.1 188.8h.1M119.3 181h.1M126.6 189.8h.1M125 195.1h.1M117 182.8h.1M125.8 188.8h.1M121.6 181.7h.1M115.8 201.1h.1M115.2 194.9h.1M114.6 196.1h.1M111.2 189.7h.1M123.8 191.2h.1M112.2 186.1h.1M121.9 196.3h.1M118.2 201.2h.1M113.4 182.1h.1M113.8 191.6h.1M114.8 196.8h.1M118 181.3h.1M123.6 197.2h.1M115.8 195.2h.1M111.9 188.3h.1M126.2 184.7h.1M111.7 191.3h.1M121.2 194.7h.1M122.3 197.3h.1M111.2 185.2h.1M117.1 199.9h.1M115 194.7h.1M111.6 181.4h.1M124.8 191.8h.1M115 197.3h.1M120.2 181.3h.1M113.9 195.7h.1M110.9 188.8h.1M114.8 196.7h.1M116.1 198.6h.1M125 185.2h.1M117.9 184.1h.1M113 187.4h.1M112.2 189.2h.1M116.1 202.1h.1M109.8 189.4h.1M113.6 183.7h.1M114.2 194.4h.1M112.5 199.5h.1M119.6 181.3h.1M122.5 182.2h.1M111.7 188.1h.1M123.3 192h.1M115 196.7h.1M111.2 184.6h.1M123.3 183.6h.1M114.7 180.9h.1M114.2 182.8h.1M124.7 194.1h.1M113.2 193.3h.1M114.9 194.5h.1M111.9 184.4h.1M123.4 184.1h.1M120.3 179.4h.1M120 183.6h.1M117.8 180.1h.1M112.9 182.2h.1M126.3 188.9h.1M123.3 185.1h.1M114.4 195h.1M125.1 186.3h.1M119.7 181.6h.1M124.8 185.2h.1M124.5 183.5h.1M125.2 190.2h.1M122.3 190.8h.1M123.9 182.3h.1M118.9 183.7h.1M112.5 188.5h.1M115.6 189.3h.1M114.6 199h.1M121.4 186h.1M125.4 185.4h.1M112.7 188.9h.1M123 196.1h.1M116.3 196.8h.1M113.2 194.5h.1M116.5 198.9h.1M122.1 194.9h.1M123.6 190.4h.1M115 182.3h.1M111.6 192.3h.1M117.9 198.7h.1M113.8 181.5h.1M113.2 193.3h.1M123 186.6h.1M112.2 192h.1M119.5 181.8h.1M110.9 181.7h.1M111.1 192.9h.1M112.8 189.8h.1M123.5 197.2h.1M112.8 188.3h.1M115.7 183.2h.1M119.6 180.7h.1M111.5 185.9h.1M111.7 186.7h.1M116.7 199.1h.1M125.3 188.5h.1M115.6 198.7h.1M110.9 183.7h.1M118.5 178.4h.1M121.2 180.8h.1M118.5 182.1h.1M121 193.8h.1M124.3 186.5h.1M118.7 185.8h.1M123.6 185.2h.1M116.4 180.4h.1M120.3 184.6h.1M115.2 183.2h.1M119.6 188h.1M116.9 187.2h.1M121.9 175.7h.1M115.4 185.2h.1M118.1 197.1h.1M119.5 187h.1M116.7 188.9h.1M116.6 184.9h.1M115.2 184.9h.1M117.3 189h.1M121.4 181.9h.1M118.4 188.6h.1M120.9 179.9h.1M122.7 192.3h.1M119.2 180.1h.1M119 193.6h.1M120.5 196.1h.1M122.1 180.3h.1M119.3 193.8h.1M119.4 187.2h.1M119 186.3h.1M117.6 187.6h.1M121 188.1h.1M123 197.9h.1M125.6 178.9h.1M118 194h.1M121.5 190.5h.1M120.9 186.9h.1M119.2 188.1h.1M120 195.4h.1M120 194.7h.1M117.4 199.5h.1M125.3 186.7h.1M119.4 178h.1M124.1 187h.1M126.2 189.6h.1M126.5 188.1h.1M118.4 196.8h.1M115.7 202.8h.1M112.8 190.7h.1M120.4 178.8h.1M113.9 184.6h.1M113.3 188.7h.1M120.7 194.9h.1M120.5 192h.1M112.5 187.9h.1M118.2 191.1h.1M119.1 194.1h.1M112.8 192.2h.1M117.2 170.9h.1M123.4 185.5h.1M120 186.1h.1M115.4 193.8h.1M112.9 189.7h.1M116.6 194.2h.1M119.9 180.9h.1M118.5 188h.1M116 192.8h.1M118 188.9h.1M122.1 187.6h.1M115.3 190.4h.1M116.3 199h.1M122.5 177.2h.1M117 198.8h.1M121.4 191.6h.1M125 185.3h.1M116.8 193.1h.1M119.4 189.7h.1M107.3 194.7h.1M118.3 184.4h.1M120 195.5h.1M115.8 183.3h.1M123 192.1h.1M111.5 192.3h.1M123.4 189.7h.1M116.2 192.8h.1M115.8 185.2h.1M115.9 195.4h.1M118.3 186.2h.1M115.9 184.6h.1M114 187.8h.1M116.9 188.8h.1M122.8 185h.1M119.3 194.3h.1M123.5 189.5h.1M115.9 192.6h.1M119 180.3h.1M118.9 181.4h.1M119.4 187.9h.1M121.3 183.8h.1M124.9 189.7h.1M120.5 193.1h.1M118.1 196.1h.1M115.1 193.5h.1M114.9 184.4h.1M120.4 193h.1M119.8 186.4h.1M118.5 192.7h.1M123 183.7h.1M116.1 197.1h.1M117.8 191.8h.1M120.3 187.9h.1M122.3 181.7h.1M121.8 191.7h.1M119.6 186.4h.1M119.3 191h.1M111 183.7h.1M123.5 186.9h.1M112.6 192.1h.1M117 198.1h.1M128.7 183.5h.1M117.7 188h.1M112.8 190.7h.1M124.4 189.5h.1M117.2 186.5h.1M115.8 202.1h.1M119 184.3h.1M120.8 192h.1M121.8 187h.1M118.3 188.8h.1M124.9 176.6h.1M114.6 194.1h.1M121.2 188.6h.1M117.5 183.3h.1M119.3 199.7h.1M116.6 187.4h.1M117.8 185.5h.1M124.6 185.3h.1M113.6 195h.1M114.6 188.9h.1M120.9 187.9h.1M119.1 181.4h.1M118.1 183.8h.1M117.8 191.4h.1M126 190.6h.1M117.2 176.9h.1M118.6 184.1h.1M119 190.8h.1M112.6 204.7h.1M119.3 184.9h.1M122.6 176.6h.1M114.7 193.4h.1M123 187.3h.1M116.1 180.9h.1M117.5 192.6h.1M120 188.2h.1M114 180.6h.1M119.7 188.8h.1M127.2 191.5h.1M118.4 178.5h.1M121.4 195.9h.1M120.7 182h.1M112.2 196.8h.1M119.6 191.6h.1M115.7 187.8h.1M118.6 191.4h.1M114.1 185h.1M121.2 189.5h.1M108.6 197.7h.1M118.6 185.9h.1M122.2 195h.1M121.3 184.4h.1M117.4 189.1h.1M116.8 195h.1M118.4 182h.1M120.7 176.7h.1M119.8 182.6h.1M116.5 186.5h.1M116.1 194.3h.1M120 194h.1M117.5 183.6h.1M116 188.1h.1M116.5 190.2h.1M119 179.9h.1M118.8 192h.1M115.5 197.1h.1M116.7 196.6h.1M116.6 185.5h.1M123.3 187.7h.1M119.9 183.9h.1M118 186.3h.1M119.9 188.1h.1M117.7 193.4h.1M113.1 188.9h.1M119 183.8h.1M119.4 194.9h.1M123.3 186.5h.1M116.6 187.5h.1M113.6 187.9h.1M117.9 179.3h.1M123.1 191h.1M114.5 192.8h.1M113.8 200.4h.1M122.2 191.2h.1M118 187.6h.1M118.1 188.4h.1M119.3 193.3h.1M118.1 194.2h.1M118.5 184.2h.1M119.3 190.7h.1M115.5 192.8h.1M120.5 177.5h.1M119.4 197.9h.1M115.2 187.5h.1M117 194.4h.1M114.7 188.5h.1M121.4 188.4h.1M120.8 189.4h.1M121.5 191.7h.1M121.3 195.2h.1M122.4 188.5h.1M122.2 183.3h.1M116.6 184.8h.1M122.8 184.2h.1M114.7 193.4h.1M127.6 185.2h.1M118 198.6h.1M120.5 190.6h.1M114.4 188.2h.1M123 188h.1M113.5 186.8h.1M115.9 193.7h.1M116.2 193.5h.1M117.4 183.2h.1M125.5 194.1h.1M116.2 181.4h.1M122.4 189.1h.1M116.7 194.8h.1M123.1 191.6h.1M109.3 193.1h.1M114.6 203.2h.1M121.8 195.7h.1M113.9 200.9h.1M122 194.2h.1M117.5 185.3h.1M121.3 185.7h.1M116.1 194.9h.1M115.3 192.9h.1M118.9 184.4h.1M123.3 186.1h.1M118.7 188.5h.1M115.9 191.5h.1M113 189.1h.1M115.8 200.7h.1M119.5 195.1h.1M115.6 185.2h.1M119.2 186h.1M117 189.9h.1M114 185.7h.1M120.2 189.4h.1M113.8 193.6h.1M115.7 190.8h.1M121.8 196.2h.1M115.4 185h.1M121.5 185h.1M124.1 182.2h.1M123.8 179.8h.1M120.6 187.4h.1M117.6 190h.1M113.9 187.7h.1M119 189.9h.1M117.9 183h.1M115.4 187.6h.1M122 187.4h.1M115.8 183.8h.1M118.6 198h.1M116.9 189.3h.1M111.4 196.2h.1M125.2 184.1h.1M114.5 183.8h.1M118.1 189.7h.1M119.6 189.2h.1M115.3 192.7h.1M125.5 183.1h.1M111 191.4h.1M122.1 193.1h.1M119.4 177h.1M100.9 189.2h.1M113 189.6h.1M115.6 188.7h.1M126.6 184.1h.1M116.4 183.2h.1M116 175.2h.1M123.5 188.6h.1M125.5 180.2h.1M120.1 197.8h.1M120.5 185.5h.1M122.2 189.5h.1M107.7 182.6h.1M127.6 172.8h.1M119.9 198.8h.1M120.2 186h.1M121.5 175h.1M127.7 181h.1M115.1 175.9h.1M120.3 185.1h.1M120.5 175.7h.1M113.6 183h.1M111.5 182.5h.1M124.7 179.5h.1M113.8 206.1h.1M116.9 182.1h.1M111.1 184.3h.1M114.4 183.4h.1M125.9 185.8h.1M110 187.5h.1M110.1 179.4h.1M125.8 178.1h.1M122.4 191.8h.1M137.2 169.2h.1M117.1 185.1h.1M116.4 181h.1M110.1 183.6h.1M132.6 174h.1M121.5 180.6h.1M121.9 174.3h.1M120.1 178.8h.1M119.6 190.9h.1M121.5 183.2h.1M130.5 182.9h.1M101.9 189h.1M125.8 187.4h.1M125.6 165h.1M124.4 175.2h.1M116.9 187.5h.1M118.2 188.4h.1M124.5 188.9h.1M120.9 187.7h.1M115.2 172.3h.1M120.6 183.6h.1M125 173.7h.1M126.5 178.2h.1M124.7 176.5h.1M123.7 176.8h.1M128.6 184.5h.1M114.7 179.3h.1M112.6 192.5h.1M116.1 177.3h.1M133.8 177.2h.1M129.6 173.3h.1M115.2 197.5h.1M121.8 188.4h.1M124.9 175.4h.1M126.5 163.1h.1M116.4 194h.1M124.6 172.4h.1M118.7 180.7h.1M108.2 183.5h.1M116.6 182.2h.1M116.6 184.9h.1M121.8 181.8h.1M111.6 187.6h.1M112.8 170.1h.1M122.7 191.1h.1M106.7 179.3h.1M124.9 173.5h.1M127.3 184.8h.1M111.1 185.8h.1M106.7 190.8h.1M128.7 168h.1M122.7 176.5h.1M121 173.4h.1M122.3 192.2h.1M122.8 179.2h.1M125 170.1h.1M126.2 187.6h.1M124.3 173.1h.1M111.7 194.1h.1M130.2 177.2h.1M121.3 194.6h.1M122.6 165.2h.1M110.2 203h.1M112 198h.1M126.3 175.1h.1M120 187h.1M124.6 170.9h.1M127.2 185.3h.1M129.1 189.7h.1M115.1 187.9h.1M115.3 172.3h.1M123.8 184.9h.1M125.2 175.7h.1M122.4 188.7h.1M114.2 187.9h.1M122.9 185.5h.1M110.8 191.6h.1M110.6 191.7h.1M110.1 165.2h.1M118.4 182.3h.1M125.5 166.6h.1M122.7 184.5h.1M123.5 179.9h.1M121.1 192.9h.1M120.6 176.7h.1M119.5 182.1h.1M124.8 184.2h.1M107.6 183.2h.1M130.1 178.6h.1M123.8 168.8h.1M119 165.6h.1M111.3 191.9h.1M130 174.3h.1M128.8 182.4h.1M134 177.9h.1M120.6 193.3h.1M119.3 176.9h.1M119.9 196.8h.1M124 177.6h.1M105.3 184.8h.1M131.4 175.7h.1M125.7 182.1h.1M121.3 183.2h.1M125.7 166.1h.1M112.5 187.7h.1M110.1 183.1h.1M133.4 174.5h.1M125.1 187.8h.1M122.1 189.2h.1M105.1 187.8h.1M122 178.7h.1M119.6 190.6h.1M117.1 177.4h.1M125.1 181.3h.1M121.5 180.6h.1M128.1 170.9h.1M118.2 178.7h.1M117.2 199.9h.1M126.1 176.2h.1M110.6 177h.1M115.2 183.7h.1M116 180.3h.1M118.3 182.8h.1M122.6 185.6h.1M127.4 197.2h.1M131.4 168.5h.1M122.9 179.1h.1M123.4 192.1h.1M118.7 181.6h.1M116.8 188.9h.1M119.1 174.3h.1M124.8 187.8h.1M120 196.9h.1M112.7 192.3h.1M129.1 183.9h.1M117.5 183.9h.1M127.5 185.7h.1M112.2 193.1h.1M113.1 186.7h.1M104.1 192.1h.1M120 169.7h.1M124.6 180.9h.1M133.4 172.2h.1M118.2 171h.1M120.2 178.2h.1M116 199.9h.1M126.2 187.4h.1M114.5 179h.1M124.2 185.2h.1M119.7 175.3h.1M126.3 188.4h.1M120.8 183h.1M126.8 169h.1M126.8 181h.1M117.7 189.4h.1M112.8 187.5h.1M127.7 176.6h.1M114.4 182h.1M119.6 192.9h.1M122.8 167.5h.1M125.1 178h.1M127.5 182.7h.1M116.9 179.1h.1M112.9 174.7h.1M119.6 186.4h.1M120.9 195.1h.1M121.9 188.2h.1M111.8 190.9h.1M122.5 178.3h.1M125.6 189.1h.1M117.8 178.5h.1M121.9 191.6h.1M118.4 180.9h.1M112.9 198.7h.1M126.5 184.7h.1M131.6 172.2h.1M123.6 186.6h.1M119.8 186.7h.1M114 175.4h.1M121.5 185.1h.1M109.4 189.7h.1M124.5 180.1h.1M107.8 175.9h.1M125.1 184.7h.1M120.2 173.8h.1M120.5 182.2h.1M73.9 244.9h.1M70 233.8h.1M87.3 229.2h.1M76.9 243.7h.1M99.1 218.5h.1M74.6 242.2h.1M71 233.9h.1M78.1 230.6h.1M94.3 226.6h.1M89.2 223.9h.1M88.1 226.4h.1M85.9 227.8h.1M90.7 217.7h.1M72.9 245.3h.1M85 227h.1M93.7 219.7h.1M73.4 233.3h.1M86 227.5h.1M90.4 218.5h.1M95.7 225.6h.1M81.2 228.5h.1M100.3 221.8h.1M84.8 222.7h.1M88.9 219h.1M72.1 231.4h.1M77.8 234.2h.1M73.4 228h.1M99.7 222.6h.1M71.1 243h.1M88.5 223.1h.1M86.7 231.5h.1M76.9 226.8h.1M82.4 233.2h.1M91.3 220.1h.1M70.9 244h.1M77 229.2h.1M93.2 225.2h.1M87 221.5h.1M71 227.2h.1M85 236.4h.1M70.8 236.4h.1M96.8 225.3h.1M80.3 232.1h.1M88.5 215h.1M90.7 226.2h.1M79.2 238.3h.1M85.7 235h.1M93 232h.1M87.9 228.1h.1M95.1 220.1h.1M92.3 223.1h.1M82.5 222.5h.1M90.8 228.1h.1M79.6 235.9h.1M79.5 233.7h.1M85.9 222.5h.1M87.8 229.7h.1M72.9 232.9h.1M86.2 234.5h.1M75.2 231h.1M77.4 229.9h.1M92.6 220.5h.1M72.8 230.1h.1M75.5 229h.1M87 224.7h.1M76.9 218.6h.1M90.3 236.1h.1M72.9 238.5h.1M83.9 230.3h.1M77.8 227.4h.1M77.4 234.2h.1M78.8 232h.1M81.2 230.9h.1M85.8 218.3h.1M97.9 218h.1M78.8 220.6h.1M94.5 219.9h.1M81.7 224.7h.1M82.9 227.2h.1M95.9 225.2h.1M97.9 226h.1M76.4 233.9h.1M98 212.1h.1M81.7 239h.1M73.5 227.2h.1M77.6 229.5h.1M94.2 219.9h.1M84.4 223.6h.1M94.3 229.2h.1M86 233.5h.1M81.6 228.3h.1M91.3 228.5h.1M79.2 230.8h.1M92.4 221.6h.1M78.7 233.9h.1M73.4 238.1h.1M72 240.2h.1M92.8 220.9h.1M85.1 218.5h.1M76.3 231.9h.1M84.5 211.8h.1M81.2 228.6h.1M80.1 226.2h.1M74.1 240.2h.1M71.3 220.8h.1M89.9 236.3h.1M84 226.2h.1M74.4 225.4h.1M92.4 225h.1M96.2 222.8h.1M78.2 235h.1M92.7 235.4h.1M87.5 227.7h.1M76.2 234.7h.1M80.2 226.8h.1M85.6 229h.1M85 235.2h.1M89.2 219.5h.1M78.5 234.9h.1M82.6 235.4h.1M87.8 229.6h.1M78.6 222.4h.1M86.2 228.5h.1M80.6 228.3h.1M80.5 238.2h.1M88.3 224.5h.1M89.6 236.3h.1M87 218.7h.1M95.4 223.4h.1M78.1 227.1h.1M82.6 240h.1M84.3 237.6h.1M75.7 228.6h.1M69.8 242.8h.1M96.3 219.4h.1M82.1 219.8h.1M98.9 211.6h.1M79.3 232.2h.1M89.6 227.5h.1M84.5 225.7h.1M83.7 230.3h.1M92.1 224.5h.1M84.3 229.8h.1M79.5 224.3h.1M85.1 228.4h.1M73.5 226.6h.1M82 239h.1M100.6 225.5h.1M88.6 226.1h.1M95.6 232.8h.1M86.1 222h.1M79.3 225.9h.1M94.7 217h.1M79.8 226.9h.1M77.6 244h.1M88.6 225.4h.1M92.6 221.9h.1M85.3 229.6h.1M90.9 233.1h.1M91.5 224.1h.1M94.5 218.7h.1M88.9 226.6h.1M100.3 224.5h.1M85.2 226.2h.1M73.5 237.5h.1M90.5 222.7h.1M87.2 229.1h.1M90.1 236h.1M72.7 234.7h.1M95.9 228.3h.1M83.6 232h.1M76.1 234.8h.1M78.7 232.4h.1M84 233.3h.1M86.1 230.6h.1M77.4 235.2h.1M78.1 236.4h.1M84.3 222.9h.1M81.1 226.4h.1M96.2 213.8h.1M79.2 229.6h.1M88.8 223.7h.1M96.2 217.6h.1M83.5 231.9h.1M88.6 219.4h.1M85.2 226h.1M86.4 231.9h.1M100.9 226.6h.1M75.9 234.4h.1M82.2 236.9h.1M73.5 244h.1M79.7 225.2h.1M92 224.2h.1M78.5 225.8h.1M88.9 222.6h.1M78.7 234.5h.1M88.9 217.2h.1M84.1 231.4h.1M79.4 230.7h.1M95.7 218.7h.1M84.9 230.9h.1M85.7 222.2h.1M79.7 221.2h.1M89.1 224.9h.1M82.4 225.1h.1M73.5 234.5h.1M82.6 222.7h.1M84.6 222.2h.1M83.6 222.4h.1M78.1 224.8h.1M95.5 215.4h.1M75.5 229.5h.1M84.5 228.1h.1M94.1 240.2h.1M73.2 232.1h.1M90.3 227.3h.1M85.3 220h.1M82.1 224.3h.1M69.9 236.1h.1M81.3 230.4h.1M85.6 227.6h.1M89 226.2h.1M92.5 221.6h.1M90.2 230.6h.1M93.4 226.7h.1M95 217.3h.1M87.4 217.7h.1M81.9 233.7h.1M86.7 225.1h.1M90.5 235.1h.1M73.5 231.5h.1M80.6 239.7h.1M84.3 222.5h.1M77.3 222.9h.1M86.8 221.2h.1M81.4 232.1h.1M103.2 220.9h.1M79 226.5h.1M102.4 221.1h.1M76 230.7h.1M86.4 223.5h.1M91.4 221.2h.1M77.8 242.5h.1M76.3 234.7h.1M87.5 227.6h.1M88.2 216.2h.1M94.6 221.8h.1M88.5 226.7h.1M96.2 229.4h.1M71.8 231.5h.1M78.1 228.1h.1M92.2 217h.1M77.2 229.1h.1M83.4 232.6h.1M85.5 234.8h.1M71 237.5h.1M83.6 223h.1M93.1 217.9h.1M82 221.4h.1M80.6 221.9h.1M83.5 235.4h.1M90.1 229.1h.1M71.9 230.8h.1M78.5 229.3h.1M71.1 232.9h.1M79.5 232.6h.1M73.8 238.3h.1M92.4 221.1h.1M80.9 229.2h.1M72.4 234.3h.1M73.8 236h.1M87.6 216.3h.1M88.7 225.1h.1M90.1 225h.1M79.1 223.7h.1M91.6 225.5h.1M91 217.7h.1M81.1 214.5h.1M73.3 238.9h.1M84.1 225.5h.1M74.2 233.9h.1M86 232.1h.1M76.1 233.3h.1M92 225.3h.1M86.4 225.2h.1M88.8 223.7h.1M90.5 223.9h.1M96 223h.1M82.5 228.5h.1M78.9 225.9h.1M81.5 230.6h.1M81.6 236.8h.1M87.8 218.1h.1M87.9 224.5h.1M92.1 217.1h.1M92.3 223.8h.1M90.8 220h.1M78.5 213.5h.1M86.8 231.8h.1M78.1 228.2h.1M79.8 224.5h.1M71.2 228h.1M83 222.3h.1M78.7 224h.1M77 232.5h.1M80.2 232.8h.1M78.2 227.1h.1M94.8 224.1h.1M77.7 231.9h.1M74.1 237.6h.1M87.6 229.2h.1M89.7 221.8h.1M99.3 224.7h.1M77.1 237.6h.1M79.7 228.6h.1M84.5 238.2h.1M99.4 227.2h.1M84 218.9h.1M76.7 219.7h.1M86.8 222.4h.1M81.4 232.7h.1M83.9 233.7h.1M84.4 231.7h.1M78.9 231.6h.1M83.6 234.1h.1M87.6 229.8h.1M83.5 225.8h.1M95 221.5h.1M92.6 228.4h.1M80.5 226.8h.1M83 237.5h.1M81.7 233.7h.1M74.9 239.5h.1M78.8 229.5h.1M83.6 228.2h.1M81.2 237.3h.1M80.9 228.6h.1M85.4 234.2h.1M77.2 232.8h.1M75.9 233.6h.1M83.3 231.9h.1M87.3 231h.1M79.5 241.7h.1M80 241h.1M84.6 223.2h.1M83.7 215h.1M80.5 235.6h.1M87.8 234.3h.1M73.3 228.5h.1M86.4 224.6h.1M82.4 227.8h.1M81.3 220.8h.1M89.2 226.3h.1M77.2 226.8h.1M87.1 226.8h.1M82.8 232.5h.1M82.6 220.7h.1M83.7 227.8h.1M85 230.8h.1M91.4 224.9h.1M96.2 229.8h.1M74.9 226.9h.1M79.4 239.2h.1M83.4 226.8h.1M78.5 235.7h.1M83.3 227.7h.1M85.8 220.1h.1M83 218.7h.1M100.9 230.6h.1M82.5 221.3h.1M73.8 233.7h.1M80 239.5h.1M87.7 227.4h.1M98 219.4h.1M74.3 223h.1M73.8 231.6h.1M89.8 216.2h.1M76.7 222.6h.1M89.1 226.8h.1M93.4 226.6h.1M72.9 231.4h.1M78.1 228.5h.1M79.6 233.9h.1M89.2 229.8h.1M84.8 221.4h.1M82.1 236.5h.1M89.6 229.9h.1M82.3 222.8h.1M86.9 229.6h.1M84.6 231.9h.1M76.4 244.1h.1M80.2 227.3h.1M78.8 241.3h.1M92.9 219.9h.1M81.9 232.8h.1M80.7 229.8h.1M82 230.1h.1M90.9 232.1h.1M81.3 226h.1M89.1 229.6h.1M74.7 233.1h.1M91.1 223.1h.1M76.8 228.9h.1M89.1 225.9h.1M78.9 219.9h.1M90.2 222.3h.1M84.9 233.6h.1M73.7 240.5h.1M77.8 225.9h.1M92.2 220h.1M84.7 239h.1M81.9 227.2h.1M92.3 222.4h.1M77.6 231.2h.1M85.9 228.7h.1M82.3 224h.1M78.8 233.4h.1M85.8 229.8h.1M93.7 227.7h.1M88.2 220h.1M82.6 234.6h.1M87.6 230.5h.1M82.5 233.4h.1M70.2 223.2h.1M78.9 239.9h.1M94.4 232.5h.1M82.9 232.1h.1M74.4 239.9h.1M89.8 242.2h.1M80.4 226.5h.1M71.5 234.6h.1M78.2 239h.1M93.2 223.4h.1M72.3 223.4h.1M83.3 230.1h.1M81.2 232.3h.1M86.4 221h.1M93.1 224.2h.1M90.4 225.2h.1M81.8 218.9h.1M88.5 228.3h.1M79.6 244.3h.1M97.7 229.2h.1M75.2 227.6h.1M72.1 228.6h.1M79.9 231.5h.1M77.4 234.6h.1M82 221.6h.1M86.1 222.3h.1M96.4 227.8h.1M82.6 230.7h.1M81 236.6h.1M80.4 230.6h.1M76.6 239.7h.1M75.5 231h.1M96.6 216.3h.1M74 229.5h.1M73.7 223.9h.1M86.4 224.2h.1M80.8 222.3h.1M87.2 223.2h.1M76.4 234.4h.1M74.9 235.6h.1M93.9 223.7h.1M76.3 231.2h.1M81.7 229.5h.1M87.6 232.7h.1M81.3 230.3h.1M70.7 222.7h.1M83.5 221.9h.1M83.4 235.3h.1M85.6 220.6h.1M76 226.4h.1M80.1 236.9h.1M77.7 232.1h.1M80.8 226.7h.1M84.1 215.7h.1M79.7 239.3h.1M72.7 225.1h.1M84.8 220.1h.1M88.8 229.6h.1M84.6 220.2h.1M86.6 229.4h.1M80.6 230.3h.1M78.1 230.7h.1M76 227.4h.1M87.7 221.6h.1M94.9 222.2h.1M95.1 214.5h.1M76.4 237.3h.1M81.5 231.4h.1M84.2 231.3h.1M82 231h.1M75.6 237.5h.1M100.5 218.9h.1M96.6 224.4h.1M82.4 231.6h.1M80.1 232.9h.1M80 225.4h.1M80.2 231.2h.1M91.3 228.9h.1M92.7 216.4h.1M85 217.8h.1M91.1 219.9h.1M75.5 236.3h.1M92.4 220.4h.1M80.7 223.3h.1M81.8 229.3h.1M97.5 222.9h.1M75 234.1h.1M78.1 238.4h.1M75.5 231.1h.1M97.6 223.9h.1M94.6 230.7h.1M93 216.6h.1M84.6 231.7h.1M94.8 239.5h.1M78.1 235.4h.1M97.1 218.8h.1M89.8 232.1h.1M92.5 221.5h.1M85.3 221.4h.1M87.2 234.1h.1M76.1 223.5h.1M72.3 227.7h.1M79.5 236.3h.1M74 236.1h.1M80.9 237.7h.1M79.4 224.9h.1M85.1 223h.1M69.5 236.2h.1M71.1 229.7h.1M77.2 231.5h.1M69.4 237.3h.1M82.9 234.2h.1M80.3 230.2h.1M80 228.5h.1M87.2 228.9h.1M93.1 228.5h.1M91.8 229h.1M85.6 228.7h.1M86.1 224.4h.1M75.1 231.5h.1M71.6 228.9h.1M87.9 225.9h.1M87 226h.1M81.5 231.2h.1M77.1 237.6h.1M88.6 232.9h.1M73.8 224h.1M73.8 231.4h.1M92.6 220.7h.1M98 219.1h.1M82.3 222.5h.1M80 236.2h.1M87.2 231.4h.1M83.7 231.5h.1M73.8 239.5h.1M86 220.1h.1M88.6 231.9h.1M90.7 219.8h.1M72.9 224.4h.1M82.9 229.7h.1M83 231.5h.1M97.5 208.6h.1M73.3 234.7h.1M72.6 220.7h.1M73.4 241.8h.1M88.8 230.9h.1M78.5 230.9h.1M86.3 233h.1M84 227.1h.1M80 224h.1M85.3 231.1h.1M83.1 232.2h.1M83.4 222.9h.1M85 218.9h.1M77.9 226.5h.1M82.6 236.3h.1M78.7 230h.1M93.2 238.8h.1M78 228.4h.1M81.5 233.6h.1M71.9 238.6h.1M97.2 217.6h.1M75.5 239.2h.1M93.5 216.3h.1M88.9 224.4h.1M87.5 218.6h.1M78.6 218.7h.1M86.9 226.6h.1M81.8 222.7h.1M83.7 220.4h.1M91.1 226.8h.1M94.3 220h.1M76.2 236h.1M91.6 233.4h.1M96.1 220.8h.1M95.1 223.1h.1M71.4 229.7h.1M87.7 230.7h.1M87.5 230.9h.1M81.8 223.3h.1M90.6 225.5h.1M100.4 217.2h.1M95 235.2h.1M80.3 226.8h.1M87 224h.1M84.4 228.5h.1M78.3 231.1h.1M77 221.9h.1M87.6 229.6h.1M79.3 237.1h.1M93.6 232h.1M90.2 220.4h.1M87.9 217.8h.1M94.2 225h.1M90.3 217.5h.1M88.6 224.9h.1M92.2 220h.1M84.1 229.3h.1M85 224.8h.1M96.3 223.8h.1M95.8 214.3h.1M87.1 240.5h.1M73.8 240.1h.1M98.3 214.4h.1M89.5 218.5h.1M97 217.9h.1M88.9 221.9h.1M82.6 224.1h.1M82.1 238.1h.1M78.3 238.1h.1M91.5 216.3h.1M92.5 225.6h.1M85.7 227.1h.1M76.5 238.2h.1M77.1 229h.1M84.3 241h.1M80.9 230.8h.1M83.6 225.6h.1M99.4 225.7h.1M78.5 231.4h.1M88.1 235.5h.1M84.8 226.6h.1M72.1 230h.1M83.5 222h.1M74.8 230.8h.1M81.4 233.8h.1M86.2 229h.1M83 229.6h.1M86.9 232.6h.1M80.5 240.7h.1M86.1 220.7h.1M77.4 239h.1M96.5 233.6h.1M77.5 229h.1M72.1 233.1h.1M83.6 231h.1M75.4 235.7h.1M77.4 229.6h.1M81.7 229.4h.1M94 231.1h.1M92.1 228.1h.1M84.7 222.9h.1M76 223.4h.1M81.9 230.8h.1M78.3 227.4h.1M79.7 226.1h.1M81 234.8h.1M78.2 230.6h.1M88.5 222.8h.1M73.1 237.2h.1M87.4 234.7h.1M94.1 223.1h.1M79 236h.1M75.5 234.7h.1M85.8 236.5h.1M76.9 225.8h.1M82 222.8h.1M92.5 219.2h.1M88 237.9h.1M92 232.1h.1M75.4 227.6h.1M77.9 229.7h.1M87.1 229.5h.1M78 232.9h.1M95.3 225.8h.1M78.5 229.1h.1M77.1 223h.1M76.6 237.2h.1M83.3 236.4h.1M73.9 223.9h.1M77.7 221.3h.1M98.4 220.9h.1M99.2 222.2h.1M81.2 228.2h.1M90.6 224.5h.1M77 237.3h.1M98.8 216.7h.1M71.6 230.8h.1M85.1 233.1h.1M91.4 214.1h.1M76.9 241.8h.1M81 227.2h.1M78.1 234.8h.1M76.5 236.1h.1M77.2 236.1h.1M91.9 217.4h.1M93.9 223.4h.1M73.2 238.1h.1M82 229.1h.1M83.1 236.8h.1M91.5 222h.1M79.1 237.5h.1M99.3 224.2h.1M84.1 230.3h.1M76.2 232.6h.1M84.5 232.5h.1M79.7 234.1h.1M103.1 218.7h.1M81.8 224.6h.1M80.6 233.6h.1M88.4 234.9h.1M94.2 219.4h.1M75.7 235h.1M96.3 225.1h.1M82.2 217h.1M84 238h.1M83.9 231.5h.1M91.4 221.8h.1M96.7 226.3h.1M82.7 231.5h.1M90.5 227.9h.1M86.1 234.2h.1M108.7 212.1h.1M80.2 235.5h.1M96.3 228.8h.1M81.6 226.2h.1M91.7 227.7h.1M76.3 246.1h.1M85.2 230.3h.1M92.6 225h.1M95.3 225.9h.1M76.3 231.3h.1M85.9 227h.1M77.2 245.1h.1M99.3 221.9h.1M76.7 229.8h.1M95.7 225h.1M81.1 230.8h.1M84.8 237.2h.1M91.7 213.2h.1M76.3 234.4h.1M96.4 225.6h.1M76.6 225.9h.1M73.8 231h.1M77.6 235.8h.1M92.4 222.7h.1M81.6 228.3h.1M81.1 232.3h.1M90.3 218.9h.1M96.6 230.1h.1M83.9 224.6h.1M90.7 226.4h.1M81.2 235.6h.1M85.3 229.5h.1M85.1 230.1h.1M81.7 237.1h.1M85.9 229h.1M72.3 226.3h.1M75.8 230.1h.1M76.9 242h.1M87.2 232.6h.1M76.5 232.3h.1M74.4 225.5h.1M92.4 218.2h.1M88.6 237.8h.1M86.2 234.1h.1M73.9 242.8h.1M74.2 225.5h.1M87.2 217.9h.1M85.9 223.5h.1M79.6 223.3h.1M81.9 230.5h.1M80.5 224.3h.1M87.7 228.7h.1M79.8 230h.1M101 220.4h.1M93.6 224.4h.1M82.2 230.5h.1M93.6 219.5h.1M72.2 236.4h.1M88.1 213.9h.1M79.1 220h.1M88.4 221.2h.1M80.6 231.6h.1M89.3 235.3h.1M89 227.3h.1M88.8 219.1h.1M85.9 224.1h.1M83.1 221.4h.1M78.1 232.3h.1M96.8 218.8h.1M84.6 227.7h.1M82 231.4h.1M83.3 235.1h.1M75.1 238.7h.1M73.7 228.6h.1M72.9 241.2h.1M81.8 223.8h.1M83.4 231.1h.1M85.1 228.2h.1M77.6 243h.1M79.3 231.1h.1M77.5 232.4h.1M90.4 222.3h.1M73.3 241.1h.1M71.5 239h.1M92.8 220.6h.1M88.4 230.4h.1M76.1 246.6h.1M98.7 227.9h.1M99.5 226.6h.1M90.9 220.4h.1M84.5 229.1h.1M71.1 227.2h.1M85.7 237.6h.1M98.4 220.8h.1M73.9 228.1h.1M85.7 228h.1M92 227.8h.1M89.5 227.7h.1M84 223.3h.1M78 228.7h.1M87.5 231.6h.1M81.1 230.1h.1M93.9 227.1h.1M70.8 222.6h.1M79.5 233.1h.1M83.2 236.6h.1M76.7 244.3h.1M75.1 238.8h.1M89.6 230.3h.1M98 229.9h.1M81.9 226.1h.1M71.6 232.8h.1M93.3 221h.1M79.3 229.3h.1M80.8 222.8h.1M93.1 218.3h.1M81.1 233.1h.1M76.3 230.6h.1M81.3 231.4h.1M79.9 239.5h.1M87 244.3h.1M87.6 231.2h.1M74.4 229.3h.1M93.5 227.8h.1M75 234.7h.1M89.8 226.4h.1M88.6 231h.1M82 234.5h.1M76.9 225.6h.1M77.1 226.4h.1M97.5 220.6h.1M78.4 236.6h.1M98.7 230.8h.1M93 225.8h.1M79.2 229.6h.1M94.9 217.9h.1M81.4 222.5h.1M80.4 223.1h.1M81.6 226.8h.1M90.1 224.7h.1M77.6 228.3h.1M81.5 230.2h.1M91.6 221.4h.1M81.4 228.9h.1M73.3 233.3h.1M88.5 227h.1M82.4 229.7h.1M70.9 221.7h.1M88.3 227h.1M77 234h.1M73.2 232.3h.1M81.3 231.3h.1M79.5 227.4h.1M83.8 229.3h.1M70.7 232.5h.1M99 222h.1M89.5 226.6h.1M80.1 222.5h.1M82.9 225h.1M91.7 225.4h.1M75 235.5h.1M83.9 221.7h.1M71.3 233.2h.1M91.5 224.1h.1M79.4 233.4h.1M81.2 230.3h.1M93.2 217h.1M90.4 222.5h.1M70.3 235h.1M74 228.4h.1M81.5 223.6h.1M78.8 227.2h.1M85.4 218.4h.1M78.7 234.9h.1M69.8 242.9h.1M78 237.9h.1M79.3 227h.1M85.3 222.9h.1M89.8 225.8h.1M91.9 220.1h.1M84 226.5h.1M80.4 229h.1M84.4 218.4h.1M85.7 234.7h.1M75.1 226h.1M74.7 225.4h.1M92.8 227h.1M92.1 216.2h.1M96.7 225.8h.1M70.8 239.6h.1M92.9 224.2h.1M72.7 234h.1M76.2 225.4h.1M84.4 220.9h.1M72.3 237.1h.1M72.6 235.7h.1M73.4 228.5h.1M93.6 214.8h.1M89.3 219.4h.1M75.4 234h.1M85.3 230h.1M86.6 231.9h.1M84.5 225.8h.1M81.1 238.8h.1M96.8 223.6h.1M84 237.1h.1M87.2 220.8h.1M70.8 241h.1M89.2 231.1h.1M79.2 221.1h.1M96.7 224.9h.1M90.1 229.5h.1M90.1 225.1h.1M84 235.1h.1M92.6 219.8h.1M98.7 214.9h.1M92.2 226.8h.1M91.6 227.3h.1M90.3 215.9h.1M89.9 231.3h.1M96.3 226.7h.1M90.7 229.7h.1M75.3 230.1h.1M77.9 240.1h.1M94 224.3h.1M90.5 229.3h.1M77.3 232.7h.1M82 227.2h.1M93 217.8h.1M78.1 237.8h.1M86.5 222h.1M88 221.9h.1M74.3 237.1h.1M74.1 233.7h.1M78.6 219.9h.1M92.7 218.4h.1M82.1 227.5h.1M68.4 248.7h.1M93.3 225.8h.1M80 225.2h.1M76.1 227.3h.1M72.2 233.9h.1M93.4 223.1h.1M83 224.4h.1M87.5 228.4h.1M81.9 221.4h.1M87.5 227.8h.1M93.1 228.9h.1M89.6 208.6h.1M74.2 235h.1M83.1 230.5h.1M80.5 233.4h.1M97 219.8h.1M80.4 230.4h.1M70.5 239.4h.1M83 229.6h.1M77.2 233.6h.1M81.3 239.5h.1M82.1 235.7h.1M74.8 240.2h.1M97.6 215.9h.1M84.9 233.9h.1M72.4 230.2h.1M90.9 229.5h.1M90.2 216h.1M74.5 247.5h.1M82.7 236.5h.1M83.7 225.2h.1M74.8 232h.1M81 218.4h.1M72.7 235.9h.1M80.8 237.6h.1M83.7 232.1h.1M85.8 225.5h.1M89 236.9h.1M78.9 235.1h.1M81.1 232.8h.1M102.1 219.1h.1M86.9 241.8h.1M81.8 232.5h.1M80.5 220.9h.1M88.2 226.6h.1M91.1 234.6h.1M80.7 237.6h.1M82.5 231.4h.1M72.3 227.8h.1M80.2 234.7h.1M80.5 225.6h.1M83.4 225.6h.1M92 219.4h.1M79.7 227.1h.1M73.5 245.7h.1M91.8 231.5h.1M89.7 222.6h.1M69.7 238.9h.1M92.6 232.2h.1M83.7 226.8h.1M77.2 230.4h.1M82 224.7h.1M90.4 233h.1M88.2 226.3h.1M92.4 222.5h.1M81.7 227.5h.1M80.3 225.5h.1M105.4 219h.1M72 232.1h.1M79.2 228.6h.1M75.4 224.4h.1M86.2 220.3h.1M90.6 220.6h.1M88.8 216h.1M71.5 233.4h.1M103.9 213.5h.1M70.1 222.5h.1M93.6 225h.1M79.9 229.5h.1M85 219.6h.1M76 232.2h.1M85.2 230h.1M83.1 228.9h.1M83.8 228.6h.1M89.5 224.5h.1M81.1 234.1h.1M76.5 225.5h.1M70.5 234.2h.1M82.8 231.3h.1M78.9 231.9h.1M87.2 219.7h.1M87.6 224h.1M75 230.4h.1M86.6 226.5h.1M89.1 214.9h.1M76.7 223.8h.1M69.3 230h.1M102.7 214.3h.1M94.3 235.6h.1M91.4 228.8h.1M76.4 233.6h.1M89.8 233.5h.1M87.1 226.4h.1M89.2 231h.1M73.1 228.6h.1M78.1 225.3h.1M84.9 235.9h.1M98.4 223.4h.1M81.4 231.1h.1M80.9 228.9h.1M81 229.3h.1M70.9 239.7h.1M76.5 228.3h.1M73.9 239.8h.1M81.2 224.4h.1M72.7 234.1h.1M82.4 223.8h.1M90.7 222.7h.1M81.4 227.1h.1M85.6 227.5h.1M75.2 236.6h.1M98.8 225h.1M73.6 225.4h.1M86.5 225.1h.1M75.3 231.4h.1M85.8 226.8h.1M71.4 235.4h.1M75.4 242.3h.1M74.3 234.9h.1M75.1 228.9h.1M84.6 242.5h.1M80.3 231h.1M86 225.8h.1M80.9 235.5h.1M88.9 221.2h.1M76.8 231.9h.1M90.7 228.6h.1M90.3 216.7h.1M95.9 217.1h.1M102 226.2h.1M94.2 220.4h.1M85.8 233.3h.1M81.6 221h.1M73.2 231.6h.1M88.3 220.4h.1M82.8 216.8h.1M76.7 230.9h.1M92.4 227.6h.1M93.2 225.7h.1M92.7 229.6h.1M72.1 220.2h.1M82.5 228.3h.1M94.3 228.9h.1M87.3 220.7h.1M88.5 217.3h.1M85 229.5h.1M77.1 233h.1M87 229.8h.1M86.6 226.3h.1M82 236.9h.1M88.5 229.1h.1M76.7 234.8h.1M83.9 226h.1M79.9 235.2h.1M98.4 214.1h.1M95.3 225.9h.1M88.2 232h.1M74.8 240.3h.1M69.2 230.9h.1M89.8 226.7h.1M82.7 231.3h.1M87.9 230.7h.1M83.6 228h.1M85.1 235.7h.1M70.3 234.2h.1M78.8 237.1h.1M89.7 225h.1M84.7 239.2h.1M88.5 227h.1M91.9 213h.1M84.9 225.9h.1M84.7 229.2h.1M81.6 237.4h.1M94.7 224.6h.1M70.3 236.1h.1M70.3 230.2h.1M82.8 229.2h.1M70.5 236.9h.1M94.7 228.7h.1M80.4 236.3h.1M83.3 220.3h.1M73.9 221.5h.1M79.7 228.8h.1M83.8 230h.1M72.5 233.1h.1M82.4 236.4h.1M103.2 219.2h.1M84.7 217.4h.1M89.8 226.2h.1M74.8 235.6h.1M89.6 223h.1M94.7 224.1h.1M90.7 227h.1M72.5 237.6h.1M72 232.2h.1M79.3 228.5h.1M76.9 237.5h.1M88.8 236.4h.1M88.9 228.4h.1M84.3 231.2h.1M84.5 229.5h.1M85 224.9h.1M89.5 224.9h.1M74.1 227.9h.1M79.5 235.8h.1M94 224.1h.1M80.6 231.7h.1M73.7 230.3h.1M84.5 226.3h.1M78.4 228.7h.1M84.7 229.6h.1M81.6 228.2h.1M89.1 226.8h.1M93 227.5h.1M79.7 238.9h.1M95 218.5h.1M74.2 228.6h.1M73.7 242.9h.1M86.4 234.7h.1M76.2 230.7h.1M70.8 243.7h.1M73.6 232.3h.1M73.6 234.2h.1M91.4 223.8h.1M85.1 228.1h.1M82.4 228.5h.1M74.3 239h.1M84.8 234.9h.1M90.7 228.7h.1M82.8 226.2h.1M86.3 215.6h.1M83.8 229.1h.1M80.6 213.7h.1M88.5 229.1h.1M80 234.8h.1M90.4 216.5h.1M87.5 229.3h.1M87.8 221.7h.1M77.7 240.3h.1M71.8 232.2h.1M79 226.8h.1M74.4 231.1h.1M88.6 226.5h.1M83.3 222.6h.1M99.2 231.1h.1M86.6 224.2h.1M78.5 242.6h.1M89.8 222.5h.1M76.7 231.5h.1M74.9 230.4h.1M81.2 225.7h.1M84 230.9h.1M94.7 227.9h.1M106.3 213.3h.1M83.8 223.1h.1M95.4 221.6h.1M78.9 227.1h.1M78.1 216.4h.1M79 232.5h.1M74.5 224.5h.1M92.1 218.8h.1M86.7 226.7h.1M85.4 224.9h.1M75.6 232.6h.1M101.2 225.5h.1M84.1 233.9h.1M81.8 238.9h.1M83.3 230h.1M89 226.1h.1M94 231.9h.1M93.1 218.1h.1M75.1 236.5h.1M79.7 232.1h.1M96.5 221.3h.1M103.1 218.4h.1M78.1 233.2h.1M84.4 232.9h.1M77.5 235.8h.1M72.7 230h.1M85.1 234h.1M75.9 239.8h.1M89.9 222.9h.1M81 227.3h.1M80.7 230.4h.1M92 226h.1M76.5 224.5h.1M69.9 232.1h.1M85.7 232.6h.1M100 215.8h.1M80.1 223.3h.1M80.9 217.1h.1M80 228.4h.1M76.2 223.3h.1M87.3 226.6h.1M77.8 243.4h.1M74.5 227.4h.1M82.4 233.1h.1M91.4 215.9h.1M100 210.8h.1M87.4 224.5h.1M83.7 223.3h.1M93.5 232.3h.1M95 220.1h.1M72.7 231.6h.1M85.3 241h.1M81.9 224.9h.1M84.2 225.8h.1M84.1 223.4h.1M71.5 240.4h.1M92.4 229.3h.1M86.1 219h.1M85.8 224.5h.1M80.5 222.2h.1M74.1 227.2h.1M89.5 222h.1M96.6 213.9h.1M87.7 227.3h.1M76.1 238.4h.1M71.5 237.9h.1M74 236.7h.1M71.9 231.1h.1M90.2 220.1h.1M86.2 228.8h.1M84.1 231.3h.1M89.6 223.5h.1M84.4 230.9h.1M82.3 227.7h.1M72.6 229.1h.1M78.5 233.7h.1M81.8 227h.1M68.5 228.8h.1M98.6 222.7h.1M84.8 229.7h.1M80.3 234.9h.1M89.4 221.4h.1M78.2 240.8h.1M92.7 224.7h.1M86.1 232.3h.1M96.3 215.5h.1M77.4 230.8h.1M83 236.2h.1M75.8 233.6h.1M72.6 236.1h.1M88.9 233.3h.1M77.3 239.5h.1M86 228h.1M82.8 240.1h.1M87.2 217h.1M84.6 224.3h.1M87.2 234.4h.1M87.1 235.1h.1M76.2 230.6h.1M97.4 219.5h.1M82 235h.1M87.6 228.5h.1M81.3 231.5h.1M82.5 234.9h.1M88.8 236.1h.1M88.6 225.5h.1M70.6 231h.1M78.6 231.2h.1M71.1 236.8h.1M84.9 225.2h.1M77.7 236.6h.1M78.7 236.1h.1M90.5 228.8h.1M83.9 230.9h.1M86.8 227.7h.1M78.8 225.7h.1M85.1 225.3h.1M81.1 225.1h.1M74.5 236.6h.1M84.1 227.3h.1M79.8 230.8h.1M82.2 232.4h.1M84.2 226.2h.1M81.2 236.3h.1M76.9 239.1h.1M89.8 218.5h.1M101.3 223.6h.1M79 229.6h.1M90.1 219.6h.1M85 225.5h.1M74 227.7h.1M76.8 235.1h.1M83.7 235.3h.1M75.1 225.5h.1M81.2 232.5h.1M83.3 232h.1M75.3 238h.1M91.5 226.5h.1M74.7 237.1h.1M72.7 233.3h.1M92.7 227.2h.1M89.8 225.9h.1M96.8 223.8h.1M84.7 229.4h.1M76.8 231.6h.1M92 222.2h.1M83.6 231.9h.1M84.6 233.7h.1M70.6 226.4h.1M82.5 221.7h.1M85.6 223.9h.1M90.4 224.7h.1M91.9 230.3h.1M101.3 212.4h.1M78.5 227.8h.1M97.8 216.7h.1M79.6 232.1h.1M72.3 233.4h.1M90.5 218.2h.1M71.1 238.2h.1M74.3 229.1h.1M90.3 225.5h.1M96.7 231.1h.1M86.7 235.6h.1M76.9 227.8h.1M68.7 236.1h.1M81.2 218.6h.1M71.6 225.3h.1M82.7 218.2h.1M93.5 226.6h.1M82.7 228.1h.1M73.2 231.7h.1M92.5 219.1h.1M83.1 224.8h.1M98.3 226.5h.1M80.5 227.8h.1M81.9 230.9h.1M70.7 240.1h.1M71.5 224.1h.1M91.2 224h.1M83.7 220.9h.1M76.7 229.7h.1M81 220.8h.1M94.6 225.1h.1M82.4 247.2h.1M87.9 231.2h.1M90.4 221.8h.1M72.3 226h.1M95.8 224.8h.1M85.2 234.1h.1M88.8 218.2h.1M92.9 227.3h.1M80 220.4h.1M76.8 225.6h.1M77.7 233.2h.1M80.3 222.5h.1M86.5 230.6h.1M98.1 226.4h.1M82.2 229.6h.1M87 228.8h.1M100.9 225.5h.1M86.8 229.1h.1M90.1 231.4h.1M99.9 225.3h.1M80.7 224.3h.1M92 235.2h.1M92.2 229.2h.1M82.3 230.2h.1M75.9 238.6h.1M71.7 238.6h.1M81.8 231.1h.1M89.3 218.7h.1M89.9 221.7h.1M95.3 218.4h.1M93.2 228.1h.1M78.8 234.6h.1M72 239h.1M78.3 231.5h.1M84.1 235.5h.1M70.1 223.8h.1M87.9 220.2h.1M79 237.3h.1M86.5 224.1h.1M91 227.1h.1M72.9 245.2h.1M81.6 234.6h.1M89.1 216.1h.1M89.1 223.3h.1M80.7 223.9h.1M75.1 237.2h.1M79.9 237.1h.1M82.9 227.6h.1M94.6 223.8h.1M86.3 225.4h.1M87.4 237h.1M85.1 228.2h.1M89.9 225.5h.1M77.6 238.9h.1M85 231.6h.1M92.7 222h.1M91.8 223.1h.1M77.9 235.5h.1M84.7 231.2h.1M75.8 231.9h.1M78.1 229.1h.1M83.4 227.3h.1M81.2 233h.1M77.1 230.6h.1M70.4 231.6h.1M79.9 228.3h.1M86.1 230.4h.1M86.5 223.6h.1M75 232.2h.1M82 240.5h.1M94.4 223.6h.1M83.7 223.1h.1M93.4 228.7h.1M77.2 230.9h.1M74.8 230.1h.1M75.2 238.2h.1M87.1 217.9h.1M73.4 235.4h.1M70.2 241.2h.1M78.8 236.3h.1M91.8 219.8h.1M81.7 227h.1M84.5 227.5h.1M87.1 233.2h.1M77.6 222.4h.1M83.7 233.3h.1M72.2 238.3h.1M100.2 224.9h.1M78.6 225.6h.1M95.9 226.7h.1M88.1 227.2h.1M72.1 234.4h.1M84.9 227.4h.1M92.3 224.8h.1M96.4 224.7h.1M92 219.1h.1M77.5 226.2h.1M91.2 227.4h.1M77 231.2h.1M81.3 236.3h.1M88.7 233.3h.1M81.3 228.9h.1M89.3 223.6h.1M86.6 214.8h.1M78.1 232.4h.1M96.9 223.5h.1M95.1 226.7h.1M73.4 235.7h.1M87.5 236.6h.1M87 223.2h.1M76.3 233.6h.1M75.3 231.3h.1M79.2 229.2h.1M88.2 223.8h.1M88.4 221.3h.1M78.3 229.9h.1M90.4 225.5h.1M95.2 221.2h.1M87.6 219.8h.1M78.3 235.3h.1M73.8 230.8h.1M86.5 229.3h.1M89.8 224.7h.1M81.2 219.2h.1M76.9 227.3h.1M77.9 238.1h.1M91.5 219.4h.1M79.9 227.4h.1M96.9 216.8h.1M73.9 236.1h.1M81.8 233.3h.1M76.9 231.6h.1M102.6 225.2h.1M91.5 219.9h.1M77.6 230.1h.1M92.8 223.2h.1M88 234.1h.1M80.2 244.7h.1M69.8 236.4h.1M85.8 226.2h.1M83 232.8h.1M83.8 227.8h.1M88.5 230.2h.1M77.1 227.1h.1M83.1 234h.1M82.4 216.8h.1M83.5 231.8h.1M82.6 233.3h.1M95 235.2h.1M95 224.7h.1M88.4 229.1h.1M74.2 229.8h.1M82.3 231.1h.1M90.7 218.8h.1M84.3 221.4h.1M74.1 234h.1M81.6 223.9h.1M91.8 210.8h.1M90 225.8h.1M76.7 223.5h.1M89.6 228.5h.1M83.8 229.9h.1M78.3 227.5h.1M81.7 220.7h.1M87.5 218h.1M86.3 224.5h.1M78.4 230.1h.1M82.9 243.6h.1M83.6 225.1h.1M85.7 230.4h.1M87.3 232.1h.1M100.6 224.6h.1M79.4 236.3h.1M90.1 222.7h.1M83.3 233.8h.1M77.3 237.2h.1M80.8 222.3h.1M84 223.4h.1M90.1 211.3h.1M83 224.6h.1M75.6 226h.1M79.7 232.9h.1M74.3 230.6h.1M88.6 228.6h.1M89.3 223.9h.1M80.2 228.9h.1M86.8 236.8h.1M97.4 225.8h.1M80.1 223.2h.1M90.9 231.6h.1M76.3 238.2h.1M81.8 237.7h.1M84.9 225.4h.1M86.4 212.2h.1M76.9 224.9h.1M71.4 233h.1M87.3 233.5h.1M92.4 222.6h.1M82.3 230.8h.1M92.5 226.7h.1M80 225.7h.1M76.1 240.4h.1M76.2 235h.1M78.2 226.6h.1M99.9 213.7h.1M87.1 224.7h.1M82.8 232.7h.1M89.3 233h.1M83.9 226.5h.1M78.8 230.6h.1M87.2 236.8h.1M89.9 243.2h.1M94.1 231.9h.1M96.2 220.9h.1M92.8 220h.1M82.3 233.5h.1M88.3 227h.1M74.9 229.9h.1M77.9 240.6h.1M90.7 238.7h.1M85.6 222.1h.1M80.3 226.2h.1M88.3 222.2h.1M86.2 219.2h.1M91.4 227.9h.1M77.7 224.1h.1M73.8 239.4h.1M98.7 220.3h.1M81.2 234.7h.1M84.8 218.9h.1M87.4 226.8h.1M81 232h.1M100.3 222.1h.1M89.5 226.6h.1M81.3 226.7h.1M82.8 235.9h.1M79 240h.1M76.5 241.6h.1M85.5 222.7h.1M80.9 233.6h.1M76.8 227.9h.1M86.6 225.4h.1M82.3 234h.1M84.3 219.5h.1M85.6 243.8h.1M82.2 236.8h.1M88.3 220.7h.1M75.9 230.5h.1M87.8 225.2h.1M86.7 225.5h.1M79.7 224.1h.1M72.4 232.7h.1M77.6 243.5h.1M89.8 223.8h.1M74.9 232.3h.1M77.4 242.3h.1M79.8 233.1h.1M84 232h.1M91 230h.1M87.9 223.5h.1M80.6 235.9h.1M91.3 227h.1M75.3 244.8h.1M81.3 236.1h.1M81.6 229.8h.1M80.6 224.3h.1M91.4 221.3h.1M78.4 228.1h.1M79.1 240.9h.1M83.5 226h.1M77.8 218.8h.1M87.7 228h.1M82.6 234.2h.1M81.8 224.3h.1M80.4 235.1h.1M83.8 220.5h.1M78.3 233.7h.1M77.5 231.8h.1M93.3 223.7h.1M78 235h.1M81.1 226.2h.1M89.8 229h.1M79 228.8h.1M90.6 224.4h.1M82.3 238h.1M88.6 219.5h.1M70.6 238.1h.1M76.6 243.1h.1M87.1 233.7h.1M92.6 218.2h.1M94.2 217.4h.1M77.6 236.1h.1M80.9 226.5h.1M79.2 232.1h.1M90.6 227.5h.1M75.4 224.6h.1M94.4 221.8h.1M87.2 230.3h.1M76.8 229.3h.1M72.9 226.5h.1M77.8 224.9h.1M81.2 218.6h.1M84.1 239h.1M100.1 205.3h.1M81 222.6h.1M74.7 236.7h.1M83.8 228.7h.1M95.1 226.7h.1M90.2 231.9h.1M81.6 232.7h.1M77.4 232.5h.1M75 231.1h.1M81.5 235.8h.1M86.8 230h.1M80.2 234.7h.1M91.3 213h.1M83.8 223.7h.1M77.4 228.7h.1M81.1 227h.1M91.8 216.4h.1M71.2 241.4h.1M87.9 232h.1M89.5 221.2h.1M75.4 233.7h.1M84.2 228.7h.1M81 230.3h.1M103 209.9h.1M79.8 236h.1M75 222.3h.1M78.9 228.9h.1M77.1 224.6h.1M83.8 221.4h.1M79.4 231.4h.1M84 221.9h.1M89.7 225.8h.1M87.5 223.5h.1M74.9 246.6h.1M91.6 215.5h.1M87.6 220.8h.1M91.1 226.8h.1M83.4 229.4h.1M84.2 230.8h.1M77.8 230.9h.1M89.1 230.5h.1M91.4 225.2h.1M82.2 237.6h.1M85.7 218.8h.1M79.9 232.7h.1M87.1 224.7h.1M82.9 231.5h.1M87.2 220.3h.1M100.8 221.4h.1M81 222.3h.1M81.6 235.4h.1M81.1 233.7h.1M82.8 218.1h.1M80.1 233.4h.1M85.3 215.5h.1M87 229.6h.1M85.7 217.3h.1M78.3 231.8h.1M74.5 233.3h.1M72.3 226.5h.1M80.9 219.1h.1M78.1 235.5h.1M87.2 223.1h.1M77.5 232.6h.1M89.6 241.2h.1M83.1 239.7h.1M71.9 238.9h.1M82.7 229.8h.1M82.6 232.6h.1M86.8 221.7h.1M74.4 231.1h.1M74.6 245h.1M78.1 231.3h.1M80.8 223.6h.1M85.3 230.6h.1M82 224.6h.1M93.1 222.5h.1M83.5 235.7h.1M85.1 235.5h.1M81.5 241.3h.1M81.7 237.2h.1M93.4 225.9h.1M87.6 229.3h.1M92.7 222.1h.1M73.6 249.7h.1M79.6 231.1h.1M95.8 230.5h.1M83.8 227.9h.1M91.1 230.9h.1M82 212.5h.1M86 228.1h.1M71.2 233.7h.1M90.7 233.5h.1M81.9 239.2h.1M80.6 230.5h.1M90.3 229.9h.1M85 229.7h.1M83.5 229.5h.1M100 223.4h.1M81.6 222.3h.1M95.2 230.7h.1M87.2 229.2h.1M88.2 208.1h.1M77.6 227.6h.1M92.6 222.2h.1M80.2 231.3h.1M87.4 217.2h.1M76.3 242.5h.1M87 229.1h.1M89.3 225.1h.1M79.6 238.3h.1M83.4 228.6h.1M83.6 235.3h.1M86.2 230.1h.1M88.6 231.7h.1M89.1 223.1h.1M100.9 227.4h.1M82.8 221.1h.1M90.3 227.6h.1M85.7 225.9h.1M85.2 229.4h.1M96.4 220.6h.1M85.2 227.2h.1M77.6 227h.1M88.1 228h.1M74.4 243.8h.1M88.8 220.5h.1M89.5 236.8h.1M101.7 226.3h.1M86.6 222h.1M88.9 230.6h.1M81.9 223.8h.1M73.7 235.5h.1M79.8 225.3h.1M84.4 225.5h.1M86.2 216.2h.1M86.6 226.3h.1M86.2 221.1h.1M86.6 221.8h.1M73.7 224.2h.1M86.2 227.8h.1M87.3 238.4h.1M72.5 234.9h.1M87 220h.1M93.8 219.3h.1M92.6 217.8h.1M72.3 227.7h.1M93.2 217.2h.1M79.2 222.7h.1M87.7 220.4h.1M84.8 212.9h.1M92.2 208.4h.1M102.4 206.3h.1M93.6 219.5h.1M77.6 228.5h.1M73.4 208.4h.1M85.1 215.2h.1M88.6 212.7h.1M98.2 209.6h.1M83.6 226.3h.1M89 202.3h.1M96 207.5h.1M74.3 225.4h.1M81.5 205.4h.1M84.1 215h.1M91.6 207.9h.1M90.6 221.4h.1M97.3 214.6h.1M102 211.3h.1M90.1 237.5h.1M83.6 242.1h.1M84.5 217.9h.1M88.2 224.1h.1M94.3 225.5h.1M78.5 213.3h.1M91.8 217.7h.1M91.5 214.8h.1M82.3 222.9h.1M104.7 211.2h.1M83.7 206.7h.1M75.9 219.5h.1M90.8 203.8h.1M75.4 228.7h.1M97.7 218.2h.1M72.4 212.7h.1M71 224h.1M88.7 216.9h.1M91.5 219.9h.1M78.9 207.3h.1M94.5 225.1h.1M68.5 216.4h.1M97.4 211.8h.1M76.7 219.3h.1M78.8 223.5h.1M98.5 226.2h.1M88.2 209.4h.1M77.6 222.5h.1M83 229.2h.1M102.6 218h.1M93.1 200.3h.1M82.4 207.6h.1M87.6 217.1h.1M71.5 223.9h.1M76.3 224.7h.1M79 220.6h.1M93.4 212.6h.1M79.4 221.5h.1M89.8 217.7h.1M98.7 210.8h.1M104.8 205.4h.1M91.3 201.6h.1M72.3 223.7h.1M82.8 238.4h.1M87.8 217.4h.1M88.9 208.7h.1M84 208.9h.1M80.7 207.1h.1M71.2 214.3h.1M89.9 228.3h.1M87 208.9h.1M87.3 213.4h.1M90.7 211.5h.1M88 229h.1M97.2 231h.1M87.5 208.1h.1M92.1 215.6h.1M72.4 212.5h.1M89.2 199h.1M82.2 209.2h.1M80.4 215.5h.1M100 207.4h.1M86 218.5h.1M86.2 216.9h.1M88.5 211.5h.1M80.4 224.8h.1M87.5 207.2h.1M79.3 218h.1M82.6 212.3h.1M78.6 224.6h.1M87.3 208.7h.1M69 215.6h.1M84.2 221.9h.1M81.5 226.2h.1M83.3 231.9h.1M82.6 199.2h.1M78.8 212.6h.1M96 209.1h.1M76.7 222.6h.1M84.7 229.9h.1M81.6 211.4h.1M75.6 214.6h.1M69.7 223.3h.1M80.3 216.1h.1M82.6 213.6h.1M82.2 197.7h.1M99.5 214.4h.1M82.4 225.2h.1M84.2 200.4h.1M96.5 223.5h.1M91.5 220.8h.1M80 213.7h.1M75 220.1h.1M87.1 209h.1M86.5 230.9h.1M76.5 207.9h.1M91.2 228.9h.1M85 209.8h.1M91.4 221.2h.1M86 212.8h.1M83.6 232.8h.1M94.6 209h.1M98.2 214.7h.1M75.1 227h.1M97.8 229.4h.1M76.1 211.9h.1M89.3 214.9h.1M95.8 206.9h.1M87.1 213.9h.1M91.5 222.2h.1M82.2 224.5h.1M88.5 232.4h.1M84.6 219.7h.1M79.9 206.4h.1M88.4 213.7h.1M81.9 230.6h.1M77.8 214.1h.1M91.2 233.1h.1M87.5 200.4h.1M79.7 208.7h.1M89.7 209.5h.1M79.9 216.5h.1M87.3 208.6h.1M92.6 205.1h.1M83 214.3h.1M98.9 197.6h.1M90.4 211.9h.1M93.9 223.9h.1M82.4 202.8h.1M86.7 216h.1M91.2 209.2h.1M89.5 214.1h.1M76 217.1h.1M87 221.2h.1M93.2 211.3h.1M80.7 230.1h.1M86.2 219.8h.1M97.9 214.3h.1M78.4 227.2h.1M81.5 210.3h.1M90.5 238.6h.1M87.7 225.9h.1M85.1 214.9h.1M82.2 209.8h.1M101.5 213.9h.1M86.7 208.4h.1M80.7 211.3h.1M90.9 232.5h.1M73.9 213.4h.1M85.1 215.2h.1M89.3 222.2h.1M84.9 212.7h.1M86.5 203.5h.1M94.8 204.4h.1M71.3 225.5h.1M85.3 213.2h.1M85.7 233.2h.1M70.5 230.2h.1M95.7 223.3h.1M81.5 222.8h.1M86.7 213h.1M82.7 213.8h.1M90.1 219h.1M82.3 214.9h.1M82.2 230.8h.1M96.1 219.6h.1M92.4 228.6h.1M73.7 212.8h.1M94.1 226.4h.1M75.4 231.6h.1M94 203.4h.1M82.5 227.4h.1M90.4 211.7h.1M80.5 216.4h.1M91.7 215.2h.1M95.5 215.3h.1M86.4 202.3h.1M95.6 192.1h.1M84.4 238.5h.1M91.1 227.8h.1M89.4 215.4h.1M94.9 200.4h.1M87.2 224.2h.1M77.5 229.9h.1M86.9 221.5h.1M90.1 200h.1M85.2 210.7h.1M72.3 210.2h.1M84.7 227.8h.1M95.2 209.9h.1M91.7 212h.1M95.9 194h.1M79.4 225.9h.1M87.9 224.1h.1M84.4 211.2h.1M92.5 199.9h.1M94.3 229.1h.1M80.4 199h.1M86 202.8h.1M91.2 197.8h.1M76.3 197.2h.1M80.2 203.9h.1M98.2 209.6h.1M85.8 228.1h.1M82.2 222.5h.1M95.7 221.1h.1M80.4 207.9h.1M100.9 221.8h.1M90.3 203.8h.1M79.7 218h.1M97.8 211h.1M91.9 213.1h.1M86.2 220h.1M88.2 207.7h.1M77 197.6h.1M92.3 200.2h.1M98.1 207.3h.1M84.1 202.8h.1M89.3 209.7h.1M74.2 210h.1M86.3 181.6h.1M87.3 211.3h.1M86 231.4h.1M87.1 229.5h.1M91.8 228.1h.1M80 212.9h.1M83.7 217.6h.1M94 213.4h.1M84.2 197.3h.1M82.1 218.5h.1M81.7 226.2h.1M84.5 218.8h.1M92.7 218.6h.1M85.8 225.5h.1M81.2 217.7h.1M93.5 214.6h.1M100.3 202.5h.1M87.9 222.3h.1M85.2 225.5h.1M92.1 210.2h.1M94.3 222.1h.1M79.1 221.3h.1M95.5 190.4h.1M68.8 235.9h.1M81.1 222.7h.1M80.1 211.6h.1M83.8 202.7h.1M76.3 195.1h.1M72.3 247.1h.1M94.8 216.2h.1M98.1 213.9h.1M86.6 212.9h.1M77.9 220.1h.1M91.6 208.2h.1M84 214.5h.1M85.8 213.9h.1M94.8 225h.1M83.7 224.6h.1M89.1 215.5h.1M78.2 228.3h.1M86.1 211h.1M80 209.5h.1M84.3 216.4h.1M80.5 211.2h.1M91.5 226.9h.1M94.6 188.5h.1M98 201.7h.1M103.9 199.6h.1M88.1 232.5h.1M77.2 221.6h.1M101.2 214.7h.1M69.4 213.7h.1M103.4 203.9h.1M67.2 205.2h.1M72.9 227.1h.1M82.5 221.9h.1M71.9 233.9h.1M69.6 222.2h.1M87.1 217.8h.1M71 213.7h.1M89.5 220.5h.1M91.5 226.9h.1M90.9 232.8h.1M87.2 217.4h.1M83.7 219.5h.1M82.8 213.9h.1M97.9 212.2h.1M86.6 227.5h.1M85.4 223.8h.1M92.7 222.6h.1M70.7 210h.1M94.7 212.6h.1M84.6 205.4h.1M71.8 198.4h.1M97.1 212.1h.1M76 222.4h.1M87.2 221.6h.1M85.2 200.4h.1M86.1 205.8h.1M92.9 233.8h.1M81.7 233h.1M85.3 225.4h.1M95.1 212.6h.1M78.8 218.4h.1M91.5 211.7h.1M86.6 221.6h.1M88 222.1h.1M72.6 215.3h.1M90.5 210.9h.1M78.7 213.1h.1M103.8 198.8h.1M89.9 213.4h.1M89.6 207.2h.1M86.7 231.8h.1M81.4 217.9h.1M96 209.6h.1M91.7 207.1h.1M93 227.8h.1M78.6 210.9h.1M101.6 220.3h.1M85.5 204.9h.1M81.5 217.8h.1M78.9 216.3h.1M79.9 223.3h.1M103.8 213.9h.1M86.9 217h.1M82.4 200h.1M83.3 218.3h.1M87.2 217.5h.1M94.2 216.2h.1M79.4 224.2h.1M91.7 205.3h.1M102.3 240.6h.1M82.7 220.2h.1M84 222.6h.1M75 215.6h.1M95.4 213.1h.1M83.8 210h.1M96 231.6h.1M94.8 220.4h.1M90.4 222.3h.1M82.7 211.9h.1M79.5 223.7h.1M79.8 221.8h.1M90.9 204.9h.1M75.1 234.2h.1M77.1 225h.1M82.9 225h.1M83.9 219.8h.1M82.6 215.1h.1M89.1 227.8h.1M83.6 244.5h.1M81.3 214.2h.1M106.2 213.3h.1M88.4 217.8h.1M94.6 221.4h.1M96.3 231.8h.1M78.9 200.8h.1M90.9 214.3h.1M93.7 216.7h.1M91 229.8h.1M87.3 229.8h.1M92.4 221.9h.1M69.5 222.1h.1M77.5 214.8h.1M89.4 219.6h.1M78.1 188.9h.1M84.5 206.6h.1M88.2 205.6h.1M86.6 222.1h.1M92.1 220.2h.1M91.4 207.3h.1M78.8 214.4h.1M78.4 212.4h.1M87.1 221.5h.1M92.1 213.2h.1M91.1 211h.1M81.9 228.4h.1M87.3 214.4h.1M70.7 221.7h.1M88.6 208.1h.1M92.3 216.8h.1M77.9 209.9h.1M92.5 208.7h.1M88.2 225.4h.1M108.8 211.2h.1M84.1 218.5h.1M91.6 195.7h.1M73.5 219.1h.1M76.8 213.4h.1M93.6 212.2h.1M85.4 216.5h.1M92.8 205.3h.1M74.8 207.1h.1M69.5 210.6h.1M71.5 211.1h.1M95.2 228.8h.1M92.4 224.6h.1M71.4 221.3h.1M88.9 210.3h.1M86.3 218.2h.1M81.8 203.6h.1M81.2 212.7h.1M103.3 193.8h.1M91.5 217.6h.1M92.4 219.6h.1M89.9 213h.1M88 212.9h.1M95.9 202h.1M86.9 209.7h.1M101.1 216.1h.1M86.6 219.1h.1M88.1 222.2h.1M86.7 211.9h.1M81 212.9h.1M84 219.4h.1M86.5 206.9h.1M75.6 223.2h.1M84.4 237.8h.1M99.8 226.1h.1M89.8 212.7h.1M84.1 218h.1M75.7 224.9h.1M95.5 205.7h.1M89 221.1h.1M82.3 207h.1M88 212.4h.1M78.1 216.1h.1M94.8 225.7h.1M87.7 214.1h.1M92.4 209.8h.1M99.8 219.8h.1M72.3 199.7h.1M82.5 233.7h.1M93.7 202.7h.1M81.3 220.9h.1M85.6 217.4h.1M95.5 220.3h.1M84.6 204.5h.1M82.6 209.7h.1M100.6 218.6h.1M95.8 214.5h.1M90.6 215.6h.1M91.8 219.8h.1M88.3 212.4h.1M82 219.4h.1M82.1 222.6h.1M90.4 212.3h.1M79.6 221.6h.1M73.4 211.8h.1M86.8 210.6h.1M86.4 221.5h.1M80.8 226.1h.1M92.4 215.4h.1M95.1 200.3h.1M90.6 226.5h.1M83.3 225.9h.1M88.9 205.4h.1M91 216.8h.1M91.2 223.3h.1M91.5 192.9h.1M76.5 220.7h.1M93.7 227.1h.1M79 222.1h.1M83.4 231.2h.1M86.4 205h.1M84.3 225.6h.1M88.4 241.6h.1M107.6 200.6h.1M77.4 208.6h.1M72.3 218.1h.1M97.5 201h.1M97 223.9h.1M87.5 218.5h.1M86.6 208.4h.1M91.6 220.9h.1M75.4 221.6h.1M87.5 227.4h.1M95 224.2h.1M100.3 208.4h.1M92.8 215.4h.1M90.7 193.3h.1M87.6 205.1h.1M78.4 214.7h.1M98.5 226.9h.1M95.9 219.6h.1M85.7 215.6h.1M92.9 197.6h.1M92.8 204.8h.1M85.4 203.2h.1M92.4 212h.1M92.2 211.9h.1M81.3 237.5h.1M82.8 225.4h.1M70.6 198.5h.1M87.1 209.1h.1M77.3 206.4h.1M75.3 205.1h.1M105.4 218h.1M90 195.3h.1M80.3 226.1h.1M81.2 221.1h.1M77.1 219.1h.1M98.2 221.8h.1M91.1 213.9h.1M88.9 195.6h.1M95.4 220.9h.1M92.5 218.6h.1M91.6 203.7h.1M82.9 190.2h.1M87.9 228.7h.1M97.4 209.3h.1M91.9 215.8h.1M86.4 208.3h.1M84.6 233.3h.1M85.6 199.4h.1M84 226.2h.1M98.4 193.3h.1M80.8 223.5h.1M80.2 207.9h.1M92.8 194h.1M79 213.4h.1M77 211.2h.1M100.2 203.9h.1M83.5 218.4h.1M82.1 213.7h.1M80.2 218.5h.1M94.6 203.9h.1M86.3 207.6h.1M84.2 204.4h.1M87.6 217.6h.1M89.1 211.1h.1M82.8 203.4h.1M72.5 225.1h.1M98.1 214.7h.1M79.7 224.9h.1M92.2 227.1h.1M93.3 210.8h.1M92.4 198.2h.1M83.4 216.7h.1M96.1 227h.1M76.6 224.5h.1M81.5 218h.1M77.9 217.1h.1M87.1 209.2h.1M81.4 205.9h.1M74.8 245.9h.1M71.9 222.3h.1M95 204.8h.1M87.4 219.5h.1M85.9 220.5h.1M88 197h.1M97 217h.1M99.4 227.2h.1M78.7 230.7h.1M73.8 228.3h.1M92.3 214.4h.1M85.5 212h.1M88.8 211.8h.1M90.1 219.8h.1M72.1 219.4h.1M95.5 208.2h.1M78.5 210.7h.1M78.4 206.3h.1M85.8 207.2h.1M99.2 215.5h.1M74.1 230.8h.1M82.9 233.4h.1M73.1 226.5h.1M97 202.1h.1M87.2 219.6h.1M85.8 241.7h.1M85.7 220.1h.1M88.6 209.1h.1M89.3 214.3h.1M93.5 214.4h.1M86.4 218.7h.1M85.5 220.7h.1M90.9 215.9h.1M92.7 218.2h.1M82.8 203.3h.1M85.5 215h.1M86.5 223.7h.1M87.5 217.4h.1M79.1 211.1h.1M75.9 196h.1M84.1 227.3h.1M95.8 207.1h.1M96.3 227.3h.1M90.5 213.6h.1M76 220.5h.1M85.3 226.9h.1M86.1 212.4h.1M92 185.2h.1M82.4 192h.1M75.4 200.8h.1M83.9 204.9h.1M81.5 217.1h.1M78.8 234.5h.1M83.4 222h.1M88.1 215.2h.1M95.5 234.4h.1M86 213.7h.1M93.2 228.1h.1M78.3 216.8h.1M87.5 195.4h.1M78 223.2h.1M100 217.7h.1M84.8 223.7h.1M89.4 222.9h.1M100.2 218.7h.1M90.7 213.7h.1M94.7 230.2h.1M69.8 202.3h.1M97.7 214.7h.1M84.9 224.7h.1M77.9 222.7h.1M88.3 233.8h.1M88.2 210.4h.1M85.3 201.1h.1M105.4 207h.1M87.1 214h.1M91.7 236.9h.1M90.7 218.1h.1M85.4 202.5h.1M83.7 214.7h.1M75.9 226.3h.1M94.5 199.7h.1M90.1 203.3h.1M71.8 221.3h.1M73.8 212.3h.1M98.5 209.9h.1M76.5 209.9h.1M76.6 212.9h.1M108.2 212.4h.1M81.3 207.8h.1M76.8 215.7h.1M87.4 228.7h.1M79.9 213.1h.1M86.6 210.1h.1M84.2 205.3h.1M84.5 219.3h.1M87.1 213.1h.1M98.2 217.7h.1M90.5 214.8h.1M84.2 198.8h.1M82.3 216.9h.1M90.7 204.1h.1M87 226.2h.1M73.1 208.3h.1M89.9 222.6h.1M76.2 215.9h.1M76.5 216.1h.1M80.6 217.5h.1M77.6 207.6h.1M77.3 209.2h.1M94.2 216.7h.1M79.4 205.5h.1M89.8 211.6h.1M82.1 228.7h.1M88 201.2h.1M97.6 238.9h.1M76.7 206.5h.1M103.3 229.7h.1M77.8 212.7h.1M83.9 213.2h.1M85.6 221.9h.1M87.7 235.1h.1M91.3 216.8h.1M82.7 214.3h.1M84.6 209.6h.1M87 238.3h.1M93.1 231.5h.1M77 224.5h.1M94.9 219.9h.1M97 199.9h.1M85.6 221h.1M83.4 195.7h.1M77.8 205.9h.1M85.2 226.1h.1M84.1 207.8h.1M96.8 197.3h.1M96.7 224.8h.1M100.4 216.5h.1M75.7 215.7h.1M90.6 200.4h.1M88 206.7h.1M80.5 215.8h.1M78.3 222.4h.1M89.4 217h.1M103.2 209.6h.1M88 211.5h.1M82.2 226.4h.1M88.8 210.6h.1M79.1 215.9h.1M88.8 221.8h.1M83.7 209.1h.1M77.7 212.8h.1M97.4 201.2h.1M73 204.4h.1M81.4 214.5h.1M80.1 220.4h.1M79.6 227.4h.1M75.2 206.4h.1M76.3 217.1h.1M84.9 214.1h.1M93.2 210.4h.1M87.6 208.1h.1M84.1 214.5h.1M78.9 213.1h.1M88.5 208.8h.1M90.7 217.5h.1M90.7 224.9h.1M86.4 213.2h.1M104.4 199.3h.1M81.6 210.3h.1M95.4 221.7h.1M79 225.9h.1M79.8 212.8h.1M87.6 205.8h.1M74.3 228.1h.1M81.8 221.3h.1M90.5 214.9h.1M84.5 212.5h.1M82.9 211.9h.1M84.9 217.1h.1M95.1 201.1h.1M85.1 216.9h.1M92.1 211.8h.1M88.4 222h.1M86.6 219.6h.1M95.2 208.2h.1M80.7 228.2h.1M91.7 226.3h.1M92.2 208.6h.1M96.1 208.6h.1M86.7 208.7h.1M73.3 214.4h.1M77.4 225.9h.1M89.3 207.4h.1M91.4 209.6h.1M83.4 220.3h.1M97.3 219.8h.1M75.7 211.1h.1M72.3 209h.1M85.4 212.1h.1M73.8 229.6h.1M82.2 224.8h.1M92 214.7h.1M102.1 235.7h.1M75.6 216.6h.1M84.1 218.3h.1M76 206.5h.1M79.3 214.4h.1M94.8 221.7h.1M80.3 227.5h.1M89 206.8h.1M100.3 204.1h.1M74.3 205.6h.1M85.2 219.4h.1M92.8 197h.1M88.5 214.6h.1M81 205h.1M86.5 203.9h.1M84.4 216.5h.1M87 228.6h.1M85.1 200.8h.1M89.6 219.6h.1M86.5 222.9h.1M91.6 218.1h.1M81 206.9h.1M80.1 222.8h.1M84.1 219.5h.1M91.7 207h.1M102.4 200.9h.1M89.8 209.6h.1M83.2 216.7h.1M81.3 222.1h.1M89.9 211.1h.1M93.1 214.4h.1M94.4 199.6h.1M83.2 209.6h.1M82.7 215.5h.1M81.8 207.6h.1M79.4 211.8h.1M85.6 204.9h.1M84.7 205.4h.1M90.6 220.4h.1M82.3 197.5h.1M86.2 215.8h.1M72.3 222.8h.1M93.9 212.7h.1M89.9 211.8h.1M98.5 211.7h.1M94.8 205.1h.1M80 206.9h.1M90.8 203.8h.1M81.8 211.4h.1M83.8 208.7h.1M82.1 201.8h.1M83.3 214.7h.1M82.8 224.8h.1M84.5 223.2h.1M84.7 214.5h.1M90.4 205.9h.1M86 212.7h.1M81.4 220.5h.1M80.7 221.2h.1M81.3 227.7h.1M89.9 200.7h.1M85.6 231.8h.1M87.7 220h.1M73.4 226.7h.1M85.9 215.2h.1M83.6 227.4h.1M83.9 214.1h.1M88 204.7h.1M84 217.8h.1M92.4 212.4h.1M87.4 215.3h.1M79.8 218.3h.1M82.6 222.1h.1M92.8 224.9h.1M75 221.1h.1M96.6 202.9h.1M79.7 225h.1M90.3 217.9h.1M87.8 211.5h.1M89.4 204.2h.1M71.1 218.6h.1M85.8 204.2h.1M103.1 216.2h.1M83.2 229.6h.1M92.1 193.5h.1M92.1 199.6h.1M82.7 224h.1M80.2 208.4h.1M83.8 222.7h.1M89.8 216.6h.1M76.5 206.2h.1M81.5 220.8h.1M75.2 204.9h.1M91.3 219.8h.1M99.2 208.8h.1M105.3 207.6h.1M82.3 196h.1M81.8 223.5h.1M76.2 231.8h.1M89.5 229.2h.1M90.7 210.3h.1M88.4 210.6h.1M94.1 207.9h.1M82.5 213.7h.1M89.4 227.7h.1M83.6 213.4h.1M94.3 218.3h.1M99.3 186h.1M86.5 218.7h.1M81.8 200.7h.1M75.2 208.2h.1M72.7 213.7h.1M89.1 217.8h.1M90.4 233.5h.1M91.9 193.2h.1M81.6 196.8h.1M82.3 231.5h.1M74.7 216h.1M88.8 208.8h.1M84.8 212h.1M94.8 219h.1M88.7 227.8h.1M94.1 215.2h.1M82.4 213.9h.1M100.2 206.8h.1M79.8 228.7h.1M85 219.9h.1M90.9 212.4h.1M92.8 203.8h.1M75.8 211.1h.1M87.3 225.5h.1M82.1 234.6h.1M86.6 211.8h.1M87.9 211.8h.1M81.2 203.1h.1M91.5 222.8h.1M87.5 208h.1M89.9 223.4h.1M79 216.3h.1M78.8 217.2h.1M89.9 206.7h.1M89.1 229.3h.1M76.6 209.7h.1M85.9 202.6h.1M82.1 213.7h.1M83 216.4h.1M82 214.8h.1M90.2 227.6h.1M86.5 228.9h.1M77.3 236.8h.1M92.4 217.3h.1M88.8 230h.1M90.8 189.8h.1M73.2 230.9h.1M90.9 217.6h.1M96.8 233.9h.1M79 218.8h.1M89.2 223.9h.1M81.9 207.6h.1M94.3 213h.1M98.2 189.5h.1M74.2 217.1h.1M82.8 212.9h.1M89.3 214.8h.1M74.3 224.4h.1M88.7 220.8h.1M87.1 218.9h.1M90.5 197.2h.1M88 218.4h.1M84 211.9h.1M83.6 225.5h.1M80 208.1h.1M100.8 208.6h.1M84.5 212.8h.1M87.4 236.4h.1M105 214.1h.1M92.7 232.5h.1M86.1 214.1h.1M94.4 197.4h.1M83 221.4h.1M79.1 238.6h.1M77.7 217.5h.1M76.1 200.3h.1M88.9 214.7h.1M89.3 207.7h.1M86.4 247.1h.1M97.1 226.4h.1M84.3 189.5h.1M75.6 220.6h.1M89.8 222.3h.1M98.4 209.8h.1M88.9 210.5h.1M86.4 215.3h.1M104.8 217.8h.1M83.2 206.6h.1M86.3 226.4h.1M90.6 210.9h.1M82.8 203.3h.1M92.6 217.1h.1M93.5 227.9h.1M84.7 217h.1M88.1 212.7h.1M85.2 231.2h.1M87.8 231.7h.1M98.2 203.5h.1M83.3 202.3h.1M82.1 204.3h.1M82.3 212.1h.1M76 211h.1M83.9 215.9h.1M78.9 217.9h.1M84.1 201.2h.1M100.5 198.1h.1M87.1 219.5h.1M87.1 229.9h.1M83.6 217.1h.1M84.1 210.7h.1M77 218.4h.1M88.7 213.5h.1M76.9 198.2h.1M80.5 209.6h.1M87.2 224.7h.1M90.8 221.4h.1M82.6 222h.1M78.8 207.7h.1M87.8 222.7h.1M74.7 226.9h.1M85.9 212.4h.1M80.2 208.3h.1M94.7 232.8h.1M96.4 221.3h.1M83.6 202.4h.1M78.4 208.4h.1M80.3 227.9h.1M88.9 221.2h.1M88 237h.1M82.7 221.6h.1M75.3 214.5h.1M83.8 226.6h.1M89.9 211h.1M69.6 221h.1M83.9 214.3h.1M84.3 212.7h.1M76.7 216.6h.1M89 212.3h.1M97.7 208.7h.1M96.5 210.7h.1M76.9 218.1h.1M80 216.9h.1M90.4 218.8h.1M80.3 221.6h.1M86.2 206.6h.1M103.6 218.9h.1M84.2 205.2h.1M74.4 225.3h.1M86.1 213.3h.1M96.4 226.1h.1M83.5 217.8h.1M84.3 212.8h.1M86.3 217.5h.1M79.6 224h.1M91 210.7h.1M108.2 214.9h.1M77.1 221.9h.1M85.4 211.7h.1M85.6 214.2h.1M70.4 207.9h.1M91.6 213.9h.1M91.8 199.2h.1M71.1 209.2h.1M85.2 210.9h.1M91.8 204h.1M80.9 208.1h.1M92.8 221.5h.1M74.6 230.2h.1M76.3 206.5h.1M86.5 230.8h.1M86.2 211.4h.1M84.8 220.7h.1M74.3 208.8h.1M72.3 218.7h.1M77.4 214.2h.1M85.8 212h.1M90.2 201.4h.1M92.2 229.4h.1M102.7 206.8h.1M88.7 210.8h.1M78.2 232.1h.1M98.9 224h.1M85.6 217h.1M92.6 220.3h.1M80.9 216.8h.1M86 212.6h.1M82.1 218.4h.1M80.9 212.5h.1M89.5 214.1h.1M77.5 217.9h.1M82.3 221.6h.1M87.3 220.6h.1M97.8 231.2h.1M79.6 232.2h.1M90 219h.1M86.9 205h.1M87.7 229.3h.1M89 218.8h.1M86.2 224.7h.1M83.6 211.6h.1M80.6 223.4h.1M87.9 205.2h.1M77.4 214.7h.1M91.8 204.4h.1M70 231.6h.1M79.4 211h.1M82.7 192.8h.1M88.9 231.3h.1M77.5 223.5h.1M73.6 226.2h.1M95.5 208.3h.1M80.8 218.5h.1M83 229.4h.1M84.7 214.1h.1M86.6 221h.1M87.6 214.9h.1M91.3 233.4h.1M95.8 212.3h.1M74.3 212.3h.1M89.9 224.4h.1M83.5 216.1h.1M83.1 224.4h.1M102.3 202.1h.1M88.6 229.9h.1M97.1 208.5h.1M101.2 220.5h.1M94.8 216.6h.1M79.1 218.9h.1M76.4 210.8h.1M93.2 215h.1M75.1 234.2h.1M84.9 209.7h.1M82.5 208.2h.1M97.7 215.2h.1M92.3 206.2h.1M88.2 204.6h.1M93.8 214.8h.1M79.6 221.6h.1M96.2 215.4h.1M103.7 215h.1M84.8 215h.1M87.1 208.6h.1M84 244.5h.1M75.8 212.8h.1M83.9 197.8h.1M75.3 206.3h.1M88.7 208h.1M90.8 209.1h.1M93.2 196.3h.1M87.1 211.4h.1M94.4 213.6h.1M95.9 213.4h.1M99.5 208.3h.1M83 219.1h.1M88.7 208.4h.1M104.8 200.1h.1M92.3 208h.1M92.4 227.5h.1M77.4 225.6h.1M89.3 205.7h.1M81.2 212.7h.1M83.2 221.1h.1M85.3 225.8h.1M83.8 210.5h.1M99.1 224.7h.1M75.9 207.6h.1M98.6 202.3h.1M73.9 221.1h.1M87.9 216.4h.1M78.1 217.5h.1M86.8 214.4h.1M89.2 208.3h.1M81.3 209.2h.1M75.1 215.4h.1M84.8 202.3h.1M79.9 230.1h.1M83.2 239.2h.1M105.9 200.2h.1M69.2 219.2h.1M90.5 213.5h.1M79.7 220.2h.1M84.8 217.8h.1M88.5 215.3h.1M88.1 226.6h.1M88.1 218.1h.1M79.8 229.5h.1M95.9 223.8h.1M92.8 203.8h.1M86 214.6h.1M93.9 219.6h.1M79 207.5h.1M82.9 202.1h.1M89.1 238.3h.1M84.2 214.9h.1M72.1 210.4h.1M97.3 203.8h.1M92.4 224.8h.1M80 212.7h.1M71.6 222.1h.1M78.8 231.4h.1M90.4 211.4h.1M83.5 207.8h.1M74.2 223.9h.1M85.3 227.5h.1M88.2 220.6h.1M70.8 218h.1M78.1 210h.1M83 215h.1M80.6 214.3h.1M94.7 197.5h.1M86.4 224.4h.1M96.3 228.9h.1M91.4 208.9h.1M94.2 214h.1M72.6 214.2h.1M77.5 220.6h.1M93.1 219.5h.1M76.1 207.6h.1M93.7 224h.1M88.9 218.9h.1M89.9 207.6h.1M85.6 212.9h.1M77.9 209.3h.1M74.8 218.9h.1M86.1 202.7h.1M85 207.6h.1M95.9 216.3h.1M77.6 213.3h.1M71.9 235.7h.1M72.9 209.3h.1M82.6 226.2h.1M82.4 223.2h.1M88.7 231.1h.1M93.2 237.6h.1M87.2 223h.1M82.4 204.8h.1M88.2 213.6h.1M81.9 230.6h.1M76.9 235.5h.1M72.5 224.5h.1M79 238.9h.1M73.7 218.8h.1M87.7 208.4h.1M82.6 216.2h.1M86.4 226.4h.1M98 230.4h.1M85.7 207.1h.1M76.3 225h.1M94.2 213.9h.1M74.4 214.7h.1M83 222.1h.1M84.5 223.2h.1M79.1 219.2h.1M86.7 211h.1M79.4 212.4h.1M77.5 222.9h.1M91.9 214h.1M83 202.9h.1M90.3 191.3h.1M80 214.2h.1M92.3 209.5h.1M82.5 215h.1M82.8 203.9h.1M89.3 213.1h.1M71.6 206.7h.1M90.6 209h.1M103.5 210.9h.1M81.2 215.6h.1M84.8 224.6h.1M78.3 203.6h.1M84.3 221.1h.1M86.7 216.8h.1M87.7 222.3h.1M86.6 196.9h.1M99.4 222.7h.1M79.1 210.8h.1M95.8 222.5h.1M79.8 206.6h.1M91.6 217.3h.1M103.3 200.2h.1M101.6 222.4h.1M79.4 228.1h.1M72.3 212.8h.1M91.4 219.2h.1M78.8 217h.1M72.1 225.6h.1M83.4 208.1h.1M84 199.9h.1M95.1 208.2h.1M89.2 210.4h.1M90.1 218.9h.1M88.7 226.1h.1M85.2 208.1h.1M94.4 208.9h.1M91.1 227.8h.1M95.3 231.4h.1M89.5 209.5h.1M80.6 222.1h.1M79.1 211.5h.1M84.3 210.3h.1M85.9 214.8h.1M90.5 208.9h.1M81.7 196.3h.1M87.6 201.8h.1M86.7 208.4h.1M79.9 216.9h.1M79.4 217.7h.1M84.9 224.8h.1M81.1 205.7h.1M89.1 217.1h.1M82.7 199.4h.1M90.7 207.5h.1M73.4 221.9h.1M94.8 218.2h.1M84 235.4h.1M92.9 226.2h.1M80.9 209h.1M78.2 205.5h.1M83.3 192.9h.1M78.9 227.2h.1M89.7 228.2h.1M77.4 251h.1M82.8 236.9h.1M75 215.2h.1M97.4 209.6h.1M97.5 201.9h.1M82.8 210.7h.1M85 200h.1M81.9 221.9h.1M93.6 229.6h.1M90.7 207.5h.1M85.9 213.4h.1M102.6 207.7h.1M93.3 229.9h.1M91.6 208.8h.1M94.3 207.3h.1M102.2 201.5h.1M83.9 204.2h.1M95 201.1h.1M78.3 224.4h.1M75.9 218.8h.1M93.8 206h.1M97.1 211h.1M99.8 220.8h.1M90.9 219.2h.1M98 209.5h.1M79.1 227.8h.1M71.9 217.2h.1M73.2 232.6h.1M98.9 191.4h.1M87 199.4h.1M97.2 228.3h.1M93.8 221.6h.1M85.1 212.6h.1M102.9 210.4h.1M88.5 222.5h.1M99.8 216.1h.1M79.1 227.9h.1M87.3 228.5h.1M80.4 223.7h.1M92.6 198.8h.1M93 222.4h.1M93.3 238h.1M79.6 233.4h.1M83.1 228.4h.1M74.7 223.8h.1M86.9 208.2h.1M83.8 231.1h.1M80.7 218.6h.1M75.2 217.3h.1M87.6 215.2h.1M90.1 186.3h.1M89.9 197.3h.1M106 200.1h.1M95.1 201h.1M78.8 210.8h.1M90.1 204.7h.1M92.2 184h.1M98 195.9h.1M111.5 184.7h.1M103.1 185.2h.1M114.7 192.4h.1M91.7 193.8h.1M104.2 184.2h.1M92 209.1h.1M92 208.4h.1M106.2 190.8h.1M99.9 197.6h.1M89.3 207.7h.1M108.4 192.2h.1M106.6 178.4h.1M109.1 197.3h.1M108.4 192.7h.1M104.7 188.1h.1M93.5 213.4h.1M78.7 218.7h.1M88 195.7h.1M86.5 198.8h.1M89.2 215.1h.1M89.9 187.7h.1M94.9 213.2h.1M92.1 193.3h.1M87.6 208h.1M90.6 197.2h.1M114.6 187.9h.1M90.9 215.3h.1M80 217.7h.1M104.7 177.2h.1M103 189.6h.1M96.2 199.4h.1M101.8 215h.1M96.4 191.8h.1M89.5 198.4h.1M102.3 184.2h.1M92.2 200.4h.1M92.5 208.3h.1M96.4 186.3h.1M94.7 215.1h.1M109 202.3h.1M87.2 214.1h.1M93.3 207.3h.1M82.1 196.7h.1M103.7 185.7h.1M106.8 214.3h.1M91.3 187.6h.1M75.8 217.4h.1M101.1 192h.1M91.6 190.7h.1M97.4 194.5h.1M101 197.2h.1M90.6 207.8h.1M87 211.8h.1M80.5 210.9h.1M96.3 198.2h.1M99.6 202.2h.1M89.9 195.5h.1M110.8 171.2h.1M100.2 204.3h.1M85.9 182h.1M81.3 215.9h.1M106.3 204.6h.1M99.1 181.2h.1M73.5 190h.1M114.2 173.9h.1M91.2 205.2h.1M92 190h.1M97.4 208.8h.1M95 206.1h.1M109.5 196.2h.1M107 184.2h.1M84.7 209.4h.1M97.3 212.2h.1M128 182.1h.1M93.3 217.3h.1M85.2 189.7h.1M99.8 232h.1M88.7 193.5h.1M101.8 196.6h.1M121.8 195.8h.1M69.6 224.5h.1M101.6 207.5h.1M95.5 184.2h.1M99.3 182.4h.1M84.7 201.7h.1M93.5 193.4h.1M117.1 182.8h.1M98 192.6h.1M112.7 171.5h.1M83.6 210.2h.1M80 194.3h.1M92.2 192.9h.1M86.1 209.3h.1M97.9 186.1h.1M83.2 207.7h.1M103.2 199.9h.1M87.4 221.8h.1M93 214.1h.1M103.5 202.3h.1M105.1 196.5h.1M78 197.5h.1M74.2 205.1h.1M97 187.1h.1M81.6 202.9h.1M99.4 193.7h.1M104.8 180h.1M100.5 189.4h.1M85.1 219.3h.1M107 184.2h.1M97.3 174.5h.1M87.6 201.2h.1M90.2 200.7h.1M109.6 183.1h.1M111.3 210.6h.1M105.7 201h.1M117.4 200.7h.1M98.3 188.9h.1M131.3 179h.1M112.6 187.7h.1M97.1 196h.1M92.6 190.9h.1M93.8 202h.1M98.5 173.5h.1M88.1 215.1h.1M97.7 213.7h.1M107.9 190.7h.1M96.5 188.7h.1M95.7 190.9h.1M91 198.6h.1M102.3 206.4h.1M93 208.5h.1M106.1 180.2h.1M114.3 189.9h.1M96.3 199.3h.1M107.5 212.2h.1M91 184.7h.1M105.4 189h.1M93.3 189h.1M90.8 201.4h.1M82.2 185.2h.1M94 188.6h.1M93.8 198.1h.1M88.4 196.7h.1M104.8 180.6h.1M100 193.1h.1M103.1 185.6h.1M81.1 198.6h.1M104 188.6h.1M96.5 197.5h.1M95.1 202.1h.1M78.9 191.1h.1M86.8 200.2h.1M97.5 210h.1M89.4 186.2h.1M95.9 199.2h.1M115.7 176.6h.1M107.5 201.1h.1M105.7 204.1h.1M96.6 200.2h.1M84.5 200.8h.1M78.4 193.2h.1M97.2 190.6h.1M74.6 204.7h.1M114.4 183.7h.1M122.2 194.9h.1M90.3 223.9h.1M111.3 189.2h.1M109.1 188.8h.1M108 186.8h.1M105.4 193.7h.1M113.3 181.8h.1M97 216.9h.1M87 196.1h.1M103.6 193h.1M93.4 192.7h.1M85.6 216.6h.1M115.4 203.2h.1M111.3 193.3h.1M95 200.8h.1M100.8 194.6h.1M110.1 193.3h.1M70.4 212.5h.1M99.3 214.1h.1M96.4 217.6h.1M100.3 206h.1M87.1 214.1h.1M80 205.8h.1M108.9 208.6h.1M109 172h.1M78.7 203.2h.1M104.8 186.4h.1M103.1 183.2h.1M101.9 174.6h.1M97.5 208.6h.1M115.5 196.3h.1M80.9 212.2h.1M78.7 193.1h.1M99.7 194.2h.1M100.7 185.5h.1M86.2 216h.1M83.5 224.5h.1M103.5 197.3h.1M102.1 198.2h.1M112.8 202.6h.1M105.1 210.4h.1M75.5 200.7h.1M111.6 191.2h.1M98.7 182.8h.1M94.3 190.9h.1M127 187h.1M93.1 187.9h.1M112.5 183.5h.1M102 207.7h.1M74.8 196.3h.1M92.8 198.3h.1M104.7 181.3h.1M89 227h.1M105 192h.1M93.9 200.6h.1M112.4 197.3h.1M101.8 195.8h.1M78.4 197.3h.1M103.2 192.9h.1M98.7 201.2h.1M107.6 191.3h.1M124.1 188.5h.1M99.4 205.8h.1M117.8 187.4h.1M94.9 197.6h.1M103.9 193h.1M109.6 209.9h.1M80.4 192.2h.1M104.5 204.8h.1M94.4 205h.1M99.4 188.2h.1M85.2 207.1h.1M89.6 210.6h.1M98.9 180.6h.1M103.8 194.5h.1M106.4 197.1h.1M98.4 186.8h.1M109.3 189.9h.1M109.9 203.7h.1M108.3 191.4h.1M83.7 198.7h.1M94 182.4h.1M79.2 192h.1M88.7 215.6h.1M93.5 198.6h.1M103.7 191.7h.1M96.1 196.3h.1M112.8 177.4h.1M114.2 204.4h.1M105.6 199.2h.1M106.5 207.4h.1M75.6 201.2h.1M101 201.7h.1M101 202.4h.1M110.3 174.9h.1M83.6 198.7h.1M91.2 193.3h.1M94.7 211.4h.1M100 198.3h.1M74.1 208h.1M104.2 200.3h.1M93.7 193.3h.1M99.8 197.3h.1M125.9 174.7h.1M91.5 192.7h.1M107.7 200.4h.1M97.2 198.5h.1M96.7 172.6h.1M120.9 177.3h.1M88.6 179.4h.1M88 215.3h.1M103.2 195.8h.1M72.1 203.8h.1M87.2 205.5h.1M84.3 195.2h.1M76.4 196.9h.1M99.2 200.7h.1M94.6 203.1h.1M79 191.8h.1M98.3 191h.1M89.1 204.6h.1M102.7 175.8h.1M110 200h.1M88.2 196.6h.1M104.1 197h.1M93 208.4h.1M84.9 196.9h.1M110.3 191.5h.1M79.9 212.7h.1M104.3 196.8h.1M116 178.3h.1M77.6 224.1h.1M127.6 182.2h.1M83.9 225.6h.1M77.8 225.1h.1M80.9 204.3h.1M92.6 206.3h.1M81.1 221.7h.1M90.8 195h.1M106 191.1h.1M89.9 207.1h.1M97.6 196.4h.1M109.2 199.8h.1M110.8 176.1h.1M98.6 202.5h.1M100.6 186.4h.1M104.9 196.7h.1M92.4 191.3h.1M91.5 199.2h.1M105.9 201.5h.1M99.4 185.4h.1M82.4 210.2h.1M96.1 205.9h.1M100 194.4h.1M98.7 193.7h.1M100.6 195.3h.1M110.3 177.7h.1M112.7 194.2h.1M86.7 214.2h.1M90.4 206.3h.1M93.4 213.1h.1M106.2 185.2h.1M95.7 204.4h.1M72.8 206.7h.1M105.1 194.5h.1M100.1 192.1h.1M108 200.1h.1M104.9 190h.1M88.2 201.6h.1M110.5 194.9h.1M78.9 204.2h.1M83.6 203.8h.1M81.4 224.3h.1M84.6 200.8h.1M106.6 186.2h.1M105.5 204.1h.1M78.9 188.7h.1M114.3 189h.1M100.9 198.8h.1M106.8 193.3h.1M90.9 183h.1M87.9 189.3h.1M93.8 191.3h.1M97 188.5h.1M113.1 192.9h.1M101.1 189.9h.1M114.3 200.3h.1M84 207.9h.1M78.8 219.1h.1M96.6 190.9h.1M95.2 192.8h.1M103.9 197.4h.1M90.1 213.2h.1M94.7 192.5h.1M91.6 216.6h.1M96.3 195.9h.1M104.2 209.8h.1M88 191.4h.1M98.2 193.2h.1M94.5 207.2h.1M96 198.1h.1M101.4 188.2h.1M117.1 189.5h.1M106.3 201.3h.1M103.7 188.4h.1M107.3 198.5h.1M113.1 180.7h.1M116 174.4h.1M96.4 212.9h.1M101.4 188.4h.1M97.4 192.3h.1M118.6 189.7h.1M84.3 197.5h.1M75.7 211.8h.1M112.6 186.8h.1M104.8 202.3h.1M103.1 191.2h.1M97.8 190.2h.1M92.9 187h.1M99.5 192.5h.1M89.4 198.8h.1M79.6 223.9h.1M91.6 184.3h.1M86.3 186.6h.1M80.2 190.4h.1M88.5 202h.1M113.7 189.8h.1M97 216h.1M75.9 196.4h.1M104.9 193.5h.1M109.7 181.1h.1M90.7 220.9h.1M87.3 209.4h.1M92.9 218.1h.1M100.7 194.7h.1M108.6 200.8h.1M114.4 188.3h.1M92.5 194.4h.1M98.8 207h.1M88.1 201.4h.1M97 172.8h.1M89.2 202.8h.1M80.5 197.1h.1M96.8 204h.1M104.5 209.2h.1M102.6 196.9h.1M92.4 207.7h.1M109.5 174.4h.1M113.8 175.9h.1M80.6 204.1h.1M108.7 210.6h.1M82.8 204.3h.1M94.8 202.7h.1M72.6 196.4h.1M90.5 197.3h.1M100.1 196.8h.1M97.6 195.8h.1M79.7 208.1h.1M76.2 218.9h.1M78.2 218h.1M103.6 179.2h.1M87.1 190.6h.1M100.2 201.5h.1M117.1 191.1h.1M77.7 197.6h.1M104.7 199.3h.1M81.2 194.5h.1M97.6 195.4h.1M82.1 223.7h.1M83 190.5h.1M95.5 198.9h.1M96.4 195.8h.1M74 203h.1M97.7 205.7h.1M101.2 183.9h.1M91.7 194.4h.1M100 183h.1M106.1 195.5h.1M102.1 200h.1M99.6 211h.1M95.8 195.9h.1M81.3 200.7h.1M111.9 202.8h.1M96.6 191h.1M113.4 192.5h.1M110.2 196.3h.1M92.7 180.5h.1M92.7 189.2h.1M101.6 185.2h.1M116.4 191.9h.1M88.8 195.2h.1M86.2 214.7h.1M82.1 211.7h.1M108.4 190.5h.1M101.4 193.9h.1M98.2 188.1h.1M84.8 222.5h.1M90.6 203.9h.1M86.9 222.4h.1M78.3 201.8h.1M80.5 191.3h.1M96.1 213.9h.1M107.7 175.9h.1M82.5 210.1h.1M87.1 200.9h.1M86.8 203.6h.1M95.2 195.1h.1M98.4 183.9h.1M80.5 196.7h.1M78.4 214.2h.1M87.4 196.8h.1M110 206.6h.1M84.2 208.1h.1M114.7 199.2h.1M82 203.6h.1M93.2 209.3h.1M87.7 197.8h.1M112.5 174.5h.1M103.6 189.4h.1M99 193.4h.1M98.9 225.1h.1M76.1 198.4h.1M84.5 199.5h.1M118 188.8h.1M109.8 185.3h.1M98.4 197.6h.1M92.3 209.6h.1M75.3 212.5h.1M86.9 196.9h.1M94.4 183.8h.1M101.9 192.5h.1M103.4 198.3h.1M89.2 205.6h.1M108.2 201.6h.1M91.9 196.4h.1M107.4 192.1h.1M94.3 189.8h.1M94.1 177.6h.1M102.9 199h.1M88.1 198.7h.1M112.8 192h.1M80.9 202.7h.1M95 181.1h.1M86 195.4h.1M90.2 199h.1M95.3 190.6h.1M88.5 200.4h.1M87.5 210.7h.1M85.4 205.9h.1M85.8 211h.1M95.4 196.5h.1M95.7 190.2h.1M89.6 191.6h.1M100.7 200.7h.1M112.6 197.2h.1M77.7 200.8h.1M80.6 199h.1M101.5 183.7h.1M95.9 201.6h.1M108.6 188.9h.1M90.8 199.1h.1M79.5 210h.1M86.3 186.4h.1M94.6 197.3h.1M98.2 193.8h.1M89 208.6h.1M86.8 196.8h.1M115.9 176.1h.1M90.8 204.1h.1M80 203.4h.1M109.7 210h.1M95 188h.1M106 190.5h.1M90.8 191.2h.1M96.1 213h.1M97.9 197.8h.1M80.4 212.2h.1M73.6 226.9h.1M85.8 220.5h.1M110 179.4h.1M106.7 192.2h.1M114 178.1h.1M107.9 201.6h.1M96.8 221.9h.1M98.2 193.5h.1M75.3 190.6h.1M86.9 208.1h.1M79.2 201.4h.1M87.6 204.7h.1M75.3 215.4h.1M106.6 201.6h.1M77.9 191.3h.1M112.3 189.6h.1M120.9 191.5h.1M88.1 189.3h.1M111.8 193.9h.1M112.8 193.9h.1M95.4 192.2h.1M83.5 185.9h.1M111.2 187.7h.1M100.8 188.7h.1M102.5 210.4h.1M89.1 200.6h.1M99.9 202.8h.1M108.4 192.1h.1M104.8 193.2h.1M82.6 194.3h.1M90.3 194.1h.1M98.4 197.1h.1M91 200.9h.1M94.4 197.9h.1M89.3 211.8h.1M87.3 205.2h.1M103.2 200.4h.1M99.2 196.4h.1M94.7 203.2h.1M117.3 175.3h.1M85.9 188.8h.1M108.5 197.7h.1M103.9 201.5h.1M94.3 206.5h.1M99.2 186.2h.1M114.3 196h.1M96.7 198.4h.1M102.5 194.7h.1M123.9 168.4h.1M83.5 202.1h.1M90.3 195.2h.1M104.4 195.4h.1M92.3 193h.1M86.9 204.7h.1M87.7 198.2h.1M86.5 190.8h.1M93.4 200.5h.1M97.4 198.2h.1M114.1 184.6h.1M82.4 175.1h.1M97.6 208.3h.1M103.7 191.7h.1M98 185.5h.1M94.8 220.4h.1M89.5 203.2h.1M88.1 212.4h.1M100.5 195.8h.1M93 174.1h.1M100.2 208.1h.1M103.6 179.1h.1M95.7 210.3h.1M91.9 199.6h.1M90.7 192.3h.1M84.7 179h.1M111.9 180.1h.1M78.3 200.3h.1M102.5 193.1h.1M91 189.3h.1M113.1 192.6h.1M78.5 205.5h.1M80.9 204.6h.1M114.4 192.4h.1M104.5 183.9h.1M96.8 201.3h.1M99 177.2h.1M92.2 192.4h.1M83.2 205.8h.1M90.6 193.7h.1M87.7 193h.1M88.2 211.2h.1M86.5 198.4h.1M84 198h.1M98.6 189h.1M103.3 184.7h.1M112.8 193.6h.1M109.8 190.3h.1M76.1 196.4h.1M109.8 202.1h.1M111 198.2h.1M99.1 192.1h.1M80.3 198.9h.1M94.7 192.3h.1M89.8 208.5h.1M105.8 189.7h.1M86.7 219.3h.1M93.3 181.6h.1M87.9 197.1h.1M83 211.1h.1M88.4 198.1h.1M92.1 196.1h.1M99 182.5h.1M115.3 204.1h.1M108.7 185.8h.1M108.2 196h.1M86.8 196.2h.1M88.7 198.2h.1M97.4 195.8h.1M101.2 212.1h.1M85.3 221.5h.1M84.6 229.9h.1M112.7 201.7h.1M105.4 207.1h.1M116.6 179.2h.1M86.6 197.3h.1M114.6 197.9h.1M93.8 191.5h.1M104.3 197.2h.1M93.5 192.9h.1M102.5 180.9h.1M102 193.7h.1M85.9 195.6h.1M93.2 196.5h.1M98.2 205.8h.1M95.9 195.7h.1M103.9 202.7h.1M88.8 198.3h.1M91.5 205.1h.1M90.4 190.8h.1M83.6 222.2h.1M89.4 180.1h.1M101.7 196.5h.1M86.9 186.5h.1M100.3 193.4h.1M105.4 187.4h.1M99.3 191.3h.1M109.7 193.8h.1M107.1 214.4h.1M99.9 183.3h.1M105.6 194.2h.1M94.8 199.1h.1M102.8 204.5h.1M72.2 198.2h.1M101.2 181.6h.1M101.5 181.3h.1M88.2 206.5h.1M76.4 207.6h.1M104.6 182.6h.1M90.9 183.6h.1M112.9 175.9h.1M108.9 185.4h.1M114.1 174.7h.1M111.7 199h.1M101.9 218.2h.1M94.8 204.1h.1M99.8 177.4h.1M87.8 220h.1M113.5 207.3h.1M90.3 200h.1M112.1 189.2h.1M95.6 210.2h.1M88.8 205.5h.1M113.2 198.2h.1M104.3 184.3h.1M96.4 191.8h.1M87.8 201.2h.1M99.5 187.3h.1M97.6 211h.1M104.5 194.6h.1M95.8 195.6h.1M108.6 196.8h.1M85.7 206.5h.1M94 210.8h.1M100.2 196.3h.1M90.6 195.3h.1M79.4 197.4h.1M99.6 214.5h.1M100.5 198.4h.1M79.1 204.1h.1M94.8 197.5h.1M86.8 192.2h.1M81.3 224h.1M97.5 199.8h.1M107.3 184.7h.1M82.9 191.3h.1M104.8 214.3h.1M99.3 196.4h.1M77 187.6h.1M73.3 208.9h.1M95.9 197.3h.1M91.6 202.7h.1M82.7 195.8h.1M117.3 193.8h.1M100.1 200.9h.1M87.7 204.5h.1M84.6 199.1h.1M103.7 171.7h.1M102.2 187.6h.1M74.9 211.7h.1M96 184.3h.1M91.8 204.1h.1M93.6 208.3h.1M105.6 184.8h.1M101.4 188.8h.1M86.2 205h.1M104.5 209.4h.1M110.5 202.1h.1M85.4 187.3h.1M97.6 190.7h.1M101.8 221.5h.1M108.2 184.3h.1M91.2 207h.1M84.2 257.4h.1M76.6 255.7h.1M78.7 256.7h.1M80.9 257.7h.1M78.3 252.7h.1M78.1 256.8h.1M85 255.1h.1M77.6 254.6h.1M84.5 255.2h.1M75.5 254h.1M76.9 255.3h.1M81.8 255.8h.1M80.7 253.7h.1M82.9 257.9h.1M78.5 255.5h.1M78.2 252.5h.1M76.1 256.4h.1M71 256.5h.1M76.4 251.7h.1M83.2 255.9h.1M78 254.3h.1M79.3 255.9h.1M84.2 254.8h.1M74 256.2h.1M80 255.7h.1M75.7 249.6h.1M83.7 255.4h.1M71.5 256.6h.1M76.7 257h.1M76 258.3h.1M76.8 256.1h.1M75.8 258.5h.1M87.1 257.3h.1M77.3 254.1h.1M77.7 253.5h.1M71.6 258.4h.1M72.2 257h.1M74.8 250.9h.1M72.7 252.6h.1M80.7 258.1h.1M75.6 255.6h.1M76.2 251h.1M77.7 256.3h.1M74.1 257.7h.1M72.5 256.8h.1M75.2 255.1h.1M79.3 254.7h.1M77.9 253.9h.1M74.4 254h.1M85.8 255.9h.1M80.1 261.4h.1M81.5 261.6h.1M85.5 254.8h.1M74.1 251.6h.1M82.8 255h.1M79.5 254.5h.1M79.7 254.6h.1M71.3 251.1h.1M74.6 255h.1M78.4 253.6h.1M78.2 255.3h.1M85.6 251.4h.1M76.6 255.3h.1M79.5 252.2h.1M76.9 253.2h.1M72.3 253.6h.1M76.8 253.9h.1M78.8 253.9h.1M86.5 253.8h.1M84.2 253.7h.1M75.9 253.5h.1M74.2 253.8h.1M78.3 254.4h.1M75.8 259.9h.1M89.8 257.5h.1M82.3 253.7h.1M78.2 251.8h.1M75.9 258h.1M73.4 255.2h.1M78 256.1h.1M76.6 250.5h.1M76.3 253.7h.1M85.5 255.7h.1M70.3 258.7h.1M82.6 255h.1M76.9 255.4h.1M82 255.1h.1M75 255.1h.1M80.3 255.6h.1M82.3 253.8h.1M90.3 253.5h.1M74.7 254.3h.1M77.8 256.8h.1M78 258.1h.1M75.7 255.5h.1M78 254.5h.1M78.6 258.3h.1M76.9 256.6h.1M79.7 254.9h.1M71.7 254.2h.1M78 256.4h.1M83.1 254.8h.1M72.5 258.1h.1M77.8 253h.1M79.4 256h.1M78.2 255.3h.1M76.3 252.7h.1M78.5 254.4h.1M81.6 252.6h.1M73.8 254.4h.1M77.7 254.6h.1M81.8 261.8h.1M75.7 252.7h.1M72.9 256.8h.1M82 254.1h.1M81.7 256.1h.1M82.9 254.4h.1M78.4 253.2h.1M75.5 258.7h.1M85.5 258h.1M84.2 250.9h.1M82.2 254.9h.1M76.2 254.3h.1M79 251.3h.1M74.4 255.6h.1M73.6 256.5h.1M78.9 255.3h.1M80 256.4h.1M81.1 259.6h.1M79 254.1h.1M87.9 258.3h.1M74 260.6h.1M84.6 248.1h.1M76.6 254.7h.1M82.8 258.6h.1M74.2 256.1h.1M88.7 253.7h.1M85.2 258.8h.1M71.1 257.4h.1M84.6 251.3h.1M79.4 257.3h.1M82.7 254.8h.1M78.5 255.7h.1M77.9 252.3h.1M72.2 256.6h.1M76.4 255.7h.1M78.5 252.9h.1M70.8 254.4h.1M74 258.8h.1M78.6 259h.1M80.6 251.6h.1M76.5 256.5h.1M85.1 254.5h.1M76.2 254h.1M81.5 255.9h.1M84.7 259h.1M75 256.6h.1M84 252.9h.1M78 255.4h.1M74.7 256.4h.1M86.1 258h.1M86.2 255.1h.1M77.2 255.6h.1M83.6 255.8h.1M83.2 256.9h.1M78.6 250.6h.1M88.8 258.7h.1M78.1 256.1h.1M75.6 255.3h.1M78.8 252.6h.1M78.2 255.9h.1M76.7 260.2h.1M77.4 253.8h.1M72.5 251.3h.1M81.5 256.4h.1M72.4 255.3h.1M83.8 255.2h.1M82 251.5h.1M76.9 256.3h.1M76.9 256.9h.1M75.7 244.6h.1M78.8 255.7h.1M86.9 257.2h.1M80.3 253.1h.1M76.8 250h.1M86.9 255.5h.1M76.9 260.6h.1M77.1 256.2h.1M88.7 260.9h.1M81.9 256.1h.1M84.3 254.7h.1M81.7 253.4h.1M81.3 258.8h.1M81.9 252h.1M82.3 253.8h.1M89 254.2h.1M73.4 256h.1M77.5 251.6h.1M71.9 252.4h.1M79.5 259.5h.1M73.2 255.5h.1M78.9 255.3h.1M83.9 254.4h.1M76.4 256h.1M75.3 253.4h.1M82.4 258h.1M75.3 257.4h.1M78.4 255.3h.1M78.1 257.6h.1M72.8 254.9h.1M83.2 254.2h.1M73.7 257.7h.1M83 255.1h.1M80.5 253.3h.1M73.8 259.2h.1M77.1 254.8h.1M82.8 256.4h.1M77.4 259h.1M89 252.1h.1M74.1 254.5h.1M84.3 257.7h.1M71.1 254.6h.1M77.6 254.2h.1M83.4 254.9h.1M69.8 254.5h.1M80 254.5h.1M73.6 256.3h.1M72.5 255.5h.1M75.3 259.6h.1M76.2 256.1h.1M76.4 259.4h.1M75.9 255.6h.1M74.7 259.6h.1M85 258.3h.1M88.5 255.7h.1M80.8 259.3h.1M77.4 253.4h.1M74.1 254.2h.1M80 256.3h.1M80 252.9h.1M74.5 258.9h.1M77.8 254.9h.1M82.2 256.6h.1M80.1 257.9h.1M78.4 256.8h.1M79.3 253.5h.1M75.3 252h.1M78.4 251.2h.1M79 253.1h.1M75.2 253.5h.1M78.1 253.4h.1M82.9 256.4h.1M83.5 252h.1M71.9 255.8h.1M83.3 259.7h.1M80.7 253h.1M80.7 255h.1M72.1 255.2h.1M79 258h.1M81.4 257.4h.1M80.7 254.2h.1M75.3 257.6h.1M76 255.5h.1M80.1 257.3h.1M79.5 259.8h.1M84.7 249.9h.1M75.9 252h.1M84.5 252.2h.1M73.3 255.6h.1M79.2 255.6h.1M85.4 259.6h.1M73.9 258.8h.1M80.2 256h.1M87.7 255h.1M72.7 256.9h.1M83.6 254.1h.1M76.4 257h.1M78.4 254h.1M79 255h.1M84.4 254.9h.1M77.3 253.8h.1M83.3 253.7h.1M82.2 255.4h.1M78.6 255h.1M83.6 252.2h.1M80.1 259.4h.1M78.2 259.5h.1M92.8 259.3h.1M73.2 255h.1M73.8 252.9h.1M76.6 252.8h.1M79.4 251h.1M77.6 254.4h.1M89.3 251h.1M76.2 255.5h.1M73.5 255.9h.1M78.7 253.9h.1M76.6 253.9h.1M76.3 255.1h.1M83 256.6h.1M80.1 254.4h.1M83.9 259.4h.1M73.6 253h.1M81.5 253.7h.1M78.7 254h.1M75.7 254.7h.1M71.2 255.8h.1M78.2 256.6h.1M73.1 254.4h.1M82 259.1h.1M80.7 250.7h.1M80.8 255.9h.1M91.7 255.3h.1M84.6 251.9h.1M81.4 255.5h.1M79.6 258h.1M79.6 256.2h.1M76.2 255h.1M82.9 254.4h.1M72.3 254.2h.1M81.5 256.7h.1M79.5 257.8h.1M82.9 256.5h.1M76.8 253.5h.1M76 256.6h.1M82.2 257.7h.1M79.3 250.7h.1M70.4 255.9h.1M83 253.8h.1M73.4 255.4h.1M83.2 255.6h.1M84.6 256.4h.1M91.1 255.2h.1M88.1 249.2h.1M88.5 258.1h.1M85.8 254h.1M94.8 249.4h.1M99.1 258h.1M85.3 254h.1M93.6 248.1h.1M88.8 245.3h.1M93.6 253.8h.1M99.4 252.2h.1M93.5 255.3h.1M91 254.9h.1M84.7 251.7h.1M99.4 255.8h.1M103 255.1h.1M78.8 250.8h.1M95.7 257h.1M90.6 255h.1M83.1 253.7h.1M103.5 255.6h.1M95.4 251.6h.1M86.4 254h.1M88.6 251.2h.1M81.6 259.5h.1M92.3 255.2h.1M80.3 256.8h.1M89.6 260.5h.1M99.6 259.3h.1M95.4 261.5h.1M98.3 251.5h.1M92.7 260h.1M97 253h.1M91 253.7h.1M83.2 255.1h.1M95 254.7h.1M91.3 254.4h.1M86.4 255.5h.1M84.3 259.6h.1M100 247h.1M80.6 249.5h.1M86.1 250.1h.1M104.8 236.4h.1M82.7 240.1h.1M94.3 186.5h.1M99.8 210.2h.1M72.7 259.2h.1M122.1 232.9h.1M105.2 232.5h.1M122.3 166h.1M97.4 185.7h.1M135.6 205.4h.1M100.5 260.5h.1M101.4 168.9h.1M74 216.2h.1M105.6 203.7h.1M97.7 204.3h.1M99.3 206.6h.1M86.8 195.7h.1M81.7 223.7h.1M93.7 227.1h.1M85.9 176.3h.1M97.9 172.2h.1M80.2 186.4h.1M129.5 222.1h.1M81.1 239.3h.1M108.8 214.2h.1M114.5 181.1h.1M81.1 204.6h.1M80.3 166.3h.1M131 180.4h.1M103.6 233.3h.1M73.3 228.5h.1M81.3 237.9h.1M130.7 237.5h.1M84.7 193.7h.1M102.7 186.6h.1M130.5 194.8h.1M81.2 185.5h.1M74.9 240.6h.1M114 176.3h.1M103.7 199.7h.1M121.1 166h.1M71.1 190.1h.1M94.5 167.9h.1M123.9 226.9h.1M111.9 234.8h.1M134.6 240.5h.1M133.7 262.6h.1M130.6 261.6h.1M112.4 261.6h.1M75.8 210.4h.1M84.2 194.7h.1M126.3 181.8h.1M105.6 216.3h.1M120.7 214.2h.1M103.8 261.9h.1M99.2 234.1h.1M104.4 194.8h.1M91.5 252.4h.1M116.7 214.9h.1M76 172.2h.1M120.9 239.3h.1M111.3 252.7h.1M115 205.6h.1M134.1 201.5h.1M118.6 209h.1M71.3 166.2h.1M111.9 233.6h.1M95.1 263.6h.1M125.7 227.7h.1M110.3 220.2h.1" stroke="#000" stroke-width="0.85" stroke-opacity="0.6" stroke-linecap="square" fill="none"/>
<ellipse cx="85" cy="226.7" rx="19.3" ry="10" transform="rotate(-35 85 226.7)" fill="none" stroke="#111" stroke-width="1"/>
<path d="M36.2 162.2V266.5H137.7" stroke="#222" stroke-width=".8" fill="none"/>
<text x="47.2" y="275.2" font-size="5" text-anchor="middle" stroke="#000" stroke-width=".15">0</text>
<text x="31.9" y="257.2" font-size="5" text-anchor="end" stroke="#000" stroke-width=".15">0</text>
<text x="58.2" y="275.2" font-size="5" text-anchor="middle" stroke="#000" stroke-width=".15">10<tspan dy="-1.7" font-size="3.4">2</tspan></text>
<text x="31.9" y="245.7" font-size="5" text-anchor="end" stroke="#000" stroke-width=".15">10<tspan dy="-1.7" font-size="3.4">2</tspan></text>
<text x="83" y="275.2" font-size="5" text-anchor="middle" stroke="#000" stroke-width=".15">10<tspan dy="-1.7" font-size="3.4">3</tspan></text>
<text x="31.9" y="220.5" font-size="5" text-anchor="end" stroke="#000" stroke-width=".15">10<tspan dy="-1.7" font-size="3.4">3</tspan></text>
<text x="107.2" y="275.2" font-size="5" text-anchor="middle" stroke="#000" stroke-width=".15">10<tspan dy="-1.7" font-size="3.4">4</tspan></text>
<text x="31.9" y="196.5" font-size="5" text-anchor="end" stroke="#000" stroke-width=".15">10<tspan dy="-1.7" font-size="3.4">4</tspan></text>
<text x="130.9" y="275.2" font-size="5" text-anchor="middle" stroke="#000" stroke-width=".15">10<tspan dy="-1.7" font-size="3.4">5</tspan></text>
<text x="31.9" y="173" font-size="5" text-anchor="end" stroke="#000" stroke-width=".15">10<tspan dy="-1.7" font-size="3.4">5</tspan></text>
<path d="M58.2 266.5v1.6M36.2 244.2h-1.6M65.7 266.5v1M36.2 236.6h-1M70 266.5v1M36.2 232.2h-1M73.1 266.5v1M36.2 229h-1M75.5 266.5v1M36.2 226.6h-1M77.5 266.5v1M36.2 224.6h-1M79.2 266.5v1M36.2 222.9h-1M80.6 266.5v1M36.2 221.4h-1M81.9 266.5v1M36.2 220.2h-1M83 266.5v1.6M36.2 219h-1.6M90.3 266.5v1M36.2 211.8h-1M94.5 266.5v1M36.2 207.5h-1M97.6 266.5v1M36.2 204.6h-1M99.9 266.5v1M36.2 202.2h-1M101.8 266.5v1M36.2 200.3h-1M103.5 266.5v1M36.2 198.7h-1M104.9 266.5v1M36.2 197.3h-1M106.1 266.5v1M36.2 196.1h-1M107.2 266.5v1.6M36.2 195h-1.6M114.3 266.5v1M36.2 187.9h-1M118.5 266.5v1M36.2 183.8h-1M121.5 266.5v1M36.2 180.9h-1M123.8 266.5v1M36.2 178.6h-1M125.6 266.5v1M36.2 176.7h-1M127.2 266.5v1M36.2 175.1h-1M128.6 266.5v1M36.2 173.8h-1M129.8 266.5v1M36.2 172.6h-1M130.9 266.5v1.6M36.2 171.5h-1.6M38.7 266.5v1M36.2 264h-1M40.7 266.5v1M36.2 262h-1M42.7 266.5v1M36.2 260h-1M44.7 266.5v1M36.2 258h-1M49.7 266.5v1M36.2 253h-1M52.2 266.5v1M36.2 250.5h-1M54.2 266.5v1M36.2 248.5h-1M56.2 266.5v1M36.2 246.5h-1M138 266.5v1M36.2 164.4h-1M142.1 266.5v1" stroke="#333" stroke-width=".6" fill="none"/>
<path d="M47.2 266.5v2M36.2 255.7h-2" stroke="#000" stroke-width="1.3" fill="none"/>
<text x="90.5" y="286.1" font-size="6.5" text-anchor="middle" fill="#111">FSC-A</text>
<text x="22.4" y="210.4" font-size="6.4" text-anchor="middle" transform="rotate(-90 22.4 210.4)" fill="#111">SSC-A</text>
<text x="41.5" y="233.7" font-size="6.5" text-anchor="start" fill="#222">Platelet</text>
<text x="41.5" y="240.5" font-size="6.5" text-anchor="start" fill="#222">fraction</text>
<path d="M196.2 251.2h.1M179 248.5h.1M170.5 253.5h.1M204.2 252h.1M177.4 256.5h.1M190.1 253.7h.1M204.4 251.2h.1M177.5 251.1h.1M206.3 250.8h.1M189.4 249.3h.1M177 254.6h.1M179.9 260.5h.1M175 251.7h.1M165.4 251.7h.1M199.7 253.8h.1M183.2 254h.1M182.6 254.5h.1M187.7 259.4h.1M179.6 254.4h.1M196.6 254.7h.1M190.3 254.7h.1M208.5 250.8h.1M177.5 251.2h.1M179 246.9h.1M182.8 252.4h.1M179.2 252h.1M167.4 254.4h.1M200.2 258.3h.1M180.2 247.3h.1M202.9 257.3h.1M175.2 260.7h.1M167.1 254.5h.1M189.5 255.1h.1M187.4 260.6h.1M189.5 257.3h.1M197.4 256.3h.1M193.7 251.8h.1M185.6 252.9h.1M209.8 257.5h.1M186.6 258.2h.1M170.4 255.3h.1M206.4 259.6h.1M197 260.4h.1M184.4 248.4h.1M191.9 253.9h.1M174.8 253.1h.1M165.8 256.2h.1M171 263.8h.1M192.9 252h.1M180.5 252.2h.1M165 257.5h.1M168.7 251.6h.1M179.8 253.6h.1M165.5 258.8h.1M187 260h.1M196.4 260.7h.1M172.5 258.9h.1M207.6 254.1h.1M187.8 254.8h.1M190.3 259.4h.1M202 253.5h.1M199.1 257.5h.1M182.4 253h.1M183.9 258.5h.1M196 257.6h.1M171.1 250.5h.1M207.3 253.4h.1M184.9 253.3h.1M180.1 257.9h.1M187.6 253.9h.1M192.4 247.3h.1M206.1 254.7h.1M177.1 255.7h.1M207.8 250.6h.1M190.9 259.5h.1M206.9 259h.1M193.9 250h.1M202.8 255.2h.1M165.7 246.3h.1M184.5 251.7h.1M171.8 250.3h.1M171.9 254.2h.1M190.9 255.4h.1M164.4 255.6h.1M194.2 253h.1M171.5 256.5h.1M195.8 252.9h.1M184.5 260.1h.1M206.8 254.4h.1M197.7 254.3h.1M189.1 257.1h.1M173.2 253.7h.1M207.1 258.4h.1M183.5 257.9h.1M211.4 255.9h.1M177.2 250.8h.1M182.2 254.5h.1M196.8 254h.1M172.5 255.9h.1M165.2 255.7h.1M189.3 254.1h.1M173.5 254.6h.1M203.7 254.5h.1M193.4 251.9h.1M174.6 254.1h.1M188.6 252.5h.1M207.5 254.8h.1M190.2 250.3h.1M188.7 261.3h.1M164.8 258.7h.1M195.1 256h.1M188.1 253h.1M195.5 256.7h.1M177.6 253.7h.1M209.7 258.5h.1M208.4 255.2h.1M177.5 254.7h.1M184.2 247.8h.1M190.7 252h.1M195.6 255.8h.1M171.3 250.6h.1M203.7 254.1h.1M210.3 257.9h.1M177.1 259.9h.1M171.3 253h.1M186.8 244.1h.1M196.2 254.9h.1M211.2 256.9h.1M185.4 249.3h.1M209.9 259.2h.1M170.6 254.4h.1M173 260.4h.1M209.1 254.6h.1M209.8 255.4h.1M189.2 257.4h.1M198.7 255.8h.1M199.8 252.4h.1M192.7 257h.1M182.4 253.2h.1M182 260.5h.1M173.5 256.8h.1M184.5 254.8h.1M183.4 254.2h.1M170.5 261.2h.1M211.9 255.2h.1M182.9 256.5h.1M169.1 251.2h.1M196.6 257.5h.1M197.7 255.2h.1M206.3 252.2h.1M181.8 251.4h.1M208.7 258.5h.1M207.4 254.9h.1M205.5 257h.1M186 257.4h.1M209.4 260.2h.1M205.2 259.6h.1M201 253.3h.1M172.1 254h.1M187.8 247.7h.1M178.5 254.9h.1M208.9 255.8h.1M164.5 249.2h.1M199.2 254.8h.1M182.6 254.9h.1M206.5 254.5h.1M199 255.3h.1M168.6 254.8h.1M167.4 262.1h.1M188.3 254.5h.1M180.9 252.9h.1M204.4 253.8h.1M202 260h.1M180.4 249.9h.1M202.7 261.4h.1M202.6 252.8h.1M201 256.6h.1M170 257.4h.1M200.6 251.8h.1M198 253.6h.1M194.1 257.5h.1M182.6 254.3h.1M204.9 249.2h.1M192.1 256.4h.1M178.8 250.6h.1M199.6 256.5h.1M168.9 254.6h.1M188.5 249.4h.1M179.6 257.8h.1M190.7 255.3h.1M204.6 258.7h.1M172.7 255.1h.1M208.4 252.3h.1M203.6 247.9h.1M165.9 254.5h.1M168.9 250.7h.1M169.2 252.9h.1M201.4 246.8h.1M197.8 248h.1M207.4 254.8h.1M198.4 255.6h.1M206.4 261.8h.1M186.5 259.2h.1M186.1 250.9h.1M190.6 257.8h.1M175.5 253.8h.1M173 248.3h.1M188.5 256.6h.1M211.8 251.8h.1M181 250.7h.1M201.2 251h.1M192 254.4h.1M209.6 253.3h.1M192.8 253.3h.1M170.6 254.6h.1M205.8 256.9h.1M177.9 252.3h.1M196.4 252.7h.1M168.6 255h.1M182.7 255.9h.1M196 256.9h.1M185.5 259.7h.1M182.5 245.8h.1M188.2 258.6h.1M181.4 256h.1M210 258.5h.1M197.9 251.4h.1M207.4 255.3h.1M204.1 259.8h.1M210.3 260.1h.1M208.9 259h.1M200.3 255.7h.1M170.1 251.5h.1M204 254.3h.1M198.2 247.6h.1M205.5 253.4h.1M208.7 250.2h.1M164.6 253.5h.1M193.8 253.5h.1M169.7 256.5h.1M168.4 257h.1M188.6 256.1h.1M165.6 256.2h.1M173.5 255.7h.1M189.7 260.4h.1M200.3 254h.1M173.1 253h.1M193.4 251.3h.1M193.6 255.1h.1M165 257.5h.1M182.2 261h.1M167.8 253.8h.1M172.7 257.7h.1M171.6 254h.1M168.4 257.7h.1M175.5 250.5h.1M177.8 256.3h.1M196.7 257h.1M185.7 248.3h.1M192.1 253.9h.1M200.7 251.2h.1M170 255.2h.1M174 256.1h.1M170.9 255.1h.1M166.5 257.1h.1M187.9 255.7h.1M209.6 256.9h.1M201.6 253.9h.1M208 257.2h.1M167.6 250.4h.1M201.3 257.3h.1M167 252.5h.1M202.2 253.8h.1M170.4 255.5h.1M176.5 255.8h.1M196 258.4h.1M175.6 253.2h.1M178.1 255.9h.1M165.9 250.8h.1M205.9 249.9h.1M169.5 260.4h.1M193.8 254.2h.1M193.2 257.3h.1M196.2 255h.1M170 250h.1M196.9 257.9h.1M194.8 257.6h.1M187 257.9h.1M179.6 260.4h.1M211.4 254.1h.1M177.1 255.2h.1M180 252.5h.1M168.9 253.4h.1M172.6 252.2h.1M180.4 251.9h.1M177.1 252.9h.1M181.6 255.2h.1M169.8 252h.1M194.7 252.6h.1M198.3 252h.1M165.4 249.7h.1M188.2 251.9h.1M205.8 254h.1M167 256.1h.1M173.9 258.3h.1M190.5 257.6h.1M170.4 254.1h.1M176.4 253.3h.1M180.8 253.8h.1M196.2 254.4h.1M195.9 250.6h.1M173.8 256.7h.1M201.3 254.7h.1M189.3 253.9h.1M182.5 251.4h.1M206.9 259.2h.1M171.3 260.3h.1M171.1 251h.1M198 260.9h.1M171.5 253.7h.1M172.1 257.3h.1M184.8 248.8h.1M169.1 255.1h.1M193.4 258.3h.1M193.7 254.5h.1M169.1 258.5h.1M168.2 255.5h.1M175.7 258.5h.1M168.4 261.9h.1M211.6 251.6h.1M196.8 255.3h.1M195.8 251.4h.1M205.6 247.9h.1M198.5 251.2h.1M194 256.2h.1M171.5 257.8h.1M196.6 257h.1M200.4 255.6h.1M171.9 254.2h.1M168.1 251.9h.1M171.7 254.7h.1M196.5 253.7h.1M185.5 247h.1M190.2 258.4h.1M200.8 252.9h.1M208.4 249.6h.1M197.5 256.6h.1M186.4 256h.1M191 261.1h.1M174.9 252.8h.1M191.6 251.5h.1M199.7 258.4h.1M203.5 253.3h.1M193.5 258.7h.1M209.9 256.5h.1M192 249h.1M206.3 250.6h.1M169.5 250.2h.1M197.3 259.3h.1M189.1 257.3h.1M174.8 256.7h.1M174.5 250.1h.1M201 255.8h.1M186.8 241.9h.1M171.1 254.9h.1M209.8 254.4h.1M178.8 258.6h.1M183.4 256.4h.1M176 251h.1M187.2 254.4h.1M177.9 250.4h.1M207.4 253.1h.1M208.7 252.2h.1M202 265h.1M186.6 252h.1M190.5 252.7h.1M196.7 254.9h.1M198.5 261.5h.1M185.6 250.9h.1M190.1 259.1h.1M191.6 257.9h.1M193.9 251.5h.1M172.6 253.2h.1M206.9 261.5h.1M182.2 247.3h.1M192.9 249.4h.1M198.9 247h.1M184.8 251.4h.1M176.7 254.6h.1M190.9 250.6h.1M167.8 255.9h.1M178.4 255.3h.1M187.4 256.9h.1M206.3 253.8h.1M183.7 254h.1M201.7 252.2h.1M178.4 258.7h.1M192.8 255h.1M204.5 258.5h.1M206.5 251.5h.1M206.5 254.9h.1M204.9 254.4h.1M174.4 250.7h.1M191 252.8h.1M170.7 248.4h.1M207 251.3h.1M187 262.3h.1M172.1 254.9h.1M204.9 249.6h.1M185.9 257.1h.1M202.1 258.7h.1M172.3 261.7h.1M194.7 256.8h.1M188 258h.1M193.8 255.3h.1M188.9 251.6h.1M185.9 255.5h.1M177.1 253.7h.1M175.3 250h.1M203.5 261.1h.1M198.7 253.8h.1M175.1 251.2h.1M184.6 253.2h.1M193.7 258.2h.1M174.2 253.9h.1M197.5 252.1h.1M197.5 259.4h.1M197.3 251.8h.1M176.6 257.5h.1M196.8 254.9h.1M171.1 252.6h.1M169.1 258.5h.1M191.4 257.3h.1M175.9 257.6h.1M179.7 254.8h.1M165.5 254.1h.1M176.3 242.9h.1M198.1 253.5h.1M189.5 253.6h.1M209.2 258.1h.1M187.2 263.4h.1M205.6 254.9h.1M180 263.7h.1M177.5 254.4h.1M165.2 258.8h.1M187.1 259.1h.1M196 248.3h.1M171.6 261.1h.1M169 250.7h.1M169.9 254.2h.1M199.2 251.5h.1M201 252.2h.1M192.5 250.4h.1M177.9 253.3h.1M172.2 260.1h.1M185.1 250.4h.1M193.8 258.5h.1M203.1 256.4h.1M178.4 257.5h.1M194.9 256.5h.1M198.9 257.9h.1M193.5 257.5h.1M192.1 250.9h.1M210.7 249.3h.1M165.3 258.4h.1M191.6 256.6h.1M166.4 260.7h.1M169.2 255h.1M183.5 254h.1M173.7 251.4h.1M203.6 247.7h.1M208.2 255.8h.1M209.3 260.2h.1M175.8 254.2h.1M185 257.7h.1M210.9 257.7h.1M204.6 248.9h.1M174.4 255.8h.1M167.1 250.7h.1M198.2 255.4h.1M190.6 256.9h.1M203.5 253.7h.1M186.3 254.5h.1M182 258.7h.1M171.1 262.2h.1M204.7 251.1h.1M201.4 253.3h.1M208.5 252h.1M197.8 250.8h.1M186.8 256.5h.1M210 252.5h.1M175.5 258.9h.1M211.5 259h.1M164.9 254.3h.1M178.9 250.9h.1M191.7 255h.1M175.9 254.6h.1M183.5 252.3h.1M210.3 259.3h.1M175.7 254.1h.1M170.3 250.8h.1M198.5 256.9h.1M197 249.3h.1M173.9 258.7h.1M181.7 253.9h.1M177.3 259.9h.1M205.1 255h.1M201.2 249.2h.1M167 252.3h.1M173.7 255.7h.1M210.9 252.8h.1M174.9 253.9h.1M207 256.5h.1M182.1 249.2h.1M177.3 252.8h.1M209.3 250.6h.1M172.9 254.7h.1M200.3 257h.1M189.3 254.1h.1M189.3 250.9h.1M170.5 252.6h.1M176.1 252.7h.1M170.7 255.9h.1M187.5 256.4h.1M199.9 255.7h.1M193.9 257h.1M202.7 251.2h.1M180.2 250.5h.1M209 249.1h.1M176.1 257.4h.1M177.9 255.2h.1M197.6 251h.1M196.2 256.9h.1M178.3 252.9h.1M171.7 252.5h.1M208.1 251.1h.1M207.5 255.1h.1M200.8 255.7h.1M197.9 255.3h.1M202.6 253.6h.1M208.8 253.7h.1M208.6 254.1h.1M187.2 253.2h.1M187.4 245h.1M204.9 252.7h.1M210 252.7h.1M165.3 255.4h.1M165.4 253h.1M210.5 253.5h.1M184.3 252.9h.1M208.3 251.2h.1M201.2 248.5h.1M209 252.1h.1M172.8 254.7h.1M196 255.2h.1M170.2 258.5h.1M203.1 259.9h.1M174 254.5h.1M167.7 255.1h.1M200.1 252.8h.1M197.9 254.6h.1M201.4 251h.1M177.2 252.8h.1M192.5 254.7h.1M174.2 256.8h.1M175.6 252.2h.1M188.6 252.7h.1M189.9 257.7h.1M181.7 253.6h.1M182.9 255.5h.1M207.9 257.8h.1M171.9 254.9h.1M193.6 253.2h.1M212 259.1h.1M190.8 253.2h.1M172.8 255.6h.1M173.7 251.3h.1M179.1 260.6h.1M187.1 252.8h.1M186.9 260.3h.1M196.2 253.3h.1M164.8 253.6h.1M189.6 249.7h.1M211.7 254.8h.1M184 257.6h.1M195.4 252.1h.1M185 254.3h.1M211.2 257.6h.1M200.5 254.2h.1M180.4 252.3h.1M174.8 254.9h.1M170.9 254.1h.1M184.5 253.2h.1M204.2 257.2h.1M167.1 247.8h.1M180.8 260.1h.1M198.7 255.3h.1M182.4 250.5h.1M193.6 256.1h.1M199.7 254.8h.1M187 258.5h.1M191.6 257.6h.1M167.7 254.1h.1M172.5 256.7h.1M170.8 259.8h.1M165.9 259.9h.1M211.3 256.3h.1M186.7 254.9h.1M188.2 252.1h.1M192.2 256.1h.1M203.2 257.1h.1M207.9 255.3h.1M184.8 247.7h.1M169.4 253.3h.1M185.8 252.6h.1M199.5 255h.1M209.1 253.9h.1M169.6 254.3h.1M183.1 253.9h.1M196.5 257.4h.1M177.9 251.6h.1M197.2 255.3h.1M198.2 251.8h.1M198.9 257h.1M178.3 255.8h.1M192.1 255.3h.1M190.1 256.7h.1M177.7 258.8h.1M194.1 249.9h.1M170.1 254.8h.1M193.6 252.2h.1M211.9 259.5h.1M172 256.4h.1M188.7 253.7h.1M172.5 257.9h.1M193.4 254.3h.1M202.9 255.2h.1M177.3 253.8h.1M176.5 258.6h.1M205.3 254.9h.1M191.1 259.3h.1M181.3 252h.1M192.7 255.1h.1M183.4 251.6h.1M193 257.8h.1M184.8 254.3h.1M208.9 251.2h.1M170 257.5h.1M177.9 257.8h.1M177 254.7h.1M197.2 252.4h.1M179.5 255.8h.1M178.5 260.3h.1M200.3 251.6h.1M184.6 248.9h.1M186.3 254.6h.1M164.6 250.1h.1M194.5 249h.1M211.1 255.7h.1M188.9 256.2h.1M210.5 257.6h.1M206.5 256h.1M208 257h.1M175.6 255.1h.1M187.7 260h.1M210.8 253.6h.1M184.2 252.5h.1M181 257.1h.1M184.4 254.5h.1M169.3 255.3h.1M185.9 252.9h.1M178.4 252h.1M197.5 248.7h.1M176.2 248.8h.1M207.5 256.4h.1M181.4 253.2h.1M204.2 252.2h.1M182 252.9h.1M187.8 256.9h.1M168.1 259.7h.1M189.8 254.6h.1M170 251.5h.1M209 252.8h.1M176.3 253.9h.1M192.6 257.1h.1M202.2 255.2h.1M184.6 257.3h.1M197.9 250.2h.1M210.4 255.9h.1M172.8 260.8h.1M187.5 256.2h.1M188.2 253.7h.1M178.8 255.9h.1M198.6 258.2h.1M188.4 255.9h.1M192 258.4h.1M181.3 249.4h.1M197.9 255.8h.1M185.7 255.7h.1M174.7 256.2h.1M187 254.7h.1M187.5 254.4h.1M197.8 256.1h.1M203.2 250.6h.1M181.7 252.9h.1M176.3 253.9h.1M210.1 256h.1M202.3 254.6h.1M196.3 252.4h.1M199.9 257.9h.1M170.5 255.7h.1M173.8 255.2h.1M191.6 256.4h.1M168.7 255.4h.1M209.4 259.1h.1M182.4 254.3h.1M166 251.4h.1M190.3 256.2h.1M179.2 256.6h.1M185.7 257.6h.1M189.1 256.9h.1M196.4 254.5h.1M211.2 260.1h.1M170.3 252.8h.1M186.1 252.5h.1M168.1 257.2h.1M189.3 252.5h.1M166.3 258.9h.1M166.5 251.8h.1M199.5 255.5h.1M198.3 255.5h.1M183.9 253.2h.1M170 248.7h.1M175.1 255.8h.1M206.5 255.8h.1M190.2 254.8h.1M185.1 253.2h.1M206 250.4h.1M192.1 252.6h.1M210.4 248.7h.1M164.7 260.7h.1M201.6 253.7h.1M188.6 259h.1M195.1 254.4h.1M168.5 260h.1M166 252.8h.1M183 252.4h.1M197.4 252.1h.1M171 255.1h.1M177.6 251.8h.1M208.1 250h.1M165 259.9h.1M204.1 259.4h.1M180.6 252.6h.1M208.7 257.9h.1M170.6 246.9h.1M183.4 255.6h.1M179.7 261.6h.1M209.9 261.6h.1M184.7 257.5h.1M170.1 258.7h.1M174.1 255.7h.1M202.5 260.1h.1M190.6 253.6h.1M173 246.9h.1M189.6 258.7h.1M200.9 255.4h.1M196.4 255h.1M175 257.1h.1M210.8 257.2h.1M172.9 250.4h.1M178 255.4h.1M201.1 252.6h.1M177.5 254h.1M195.4 258.8h.1M172.6 254.7h.1M166.2 252.9h.1M190.7 255.3h.1M164.9 254.5h.1M173.9 255.1h.1M208.7 257.9h.1M194.5 255h.1M189.6 253.5h.1M196.7 254.2h.1M191.4 251.4h.1M196.9 259.8h.1M182.4 257.1h.1M205.4 248.6h.1M171.1 254.5h.1M195.2 259.2h.1M165.2 249.4h.1M182.2 253.6h.1M166.9 261h.1M180.7 256.3h.1M184 257.6h.1M176.8 251.6h.1M200 260.3h.1M195.6 256.9h.1M191.8 259.7h.1M164.3 251.7h.1M172.8 253.1h.1M181.9 251.8h.1M173.9 256.2h.1M198.6 251.7h.1M174 255.2h.1M191.5 260.1h.1M180.1 257.8h.1M195.8 252.8h.1M205.2 256.7h.1M187.1 251.7h.1M183.8 257.7h.1M187.6 251h.1M180.6 257.4h.1M203 258.4h.1M171.4 250.5h.1M178.5 258.3h.1M176.3 259.6h.1M199.2 260.4h.1M173 259.9h.1M201.3 257.4h.1M205.9 257.5h.1M180 253h.1M210.4 261.6h.1M175.5 255.5h.1M194 258.6h.1M179 257.4h.1M173.9 255.3h.1M196.3 251.4h.1M195.6 257.4h.1M202.9 255.8h.1M207.5 252h.1M173.1 260.6h.1M167.2 256.5h.1M166.1 253.7h.1M173.6 253.5h.1M177.2 259.8h.1M193.6 253.9h.1M175.3 254h.1M194.2 248.7h.1M194.5 254.5h.1M173.5 253.2h.1M191.7 258.5h.1M188.2 259.9h.1M199.6 259h.1M166.9 250.1h.1M179.2 256.4h.1M206.6 260.3h.1M167.9 254.5h.1M175 254.7h.1M195.8 255.1h.1M164.3 250.3h.1M166 254h.1M178.6 254.7h.1M199.3 256.1h.1M199.4 255.6h.1M204.3 255.4h.1M174.2 254h.1M193.7 262h.1M164.9 259.7h.1M167.4 258h.1M167.2 256.2h.1M175.1 260.4h.1M204.7 252.6h.1M177.3 258.1h.1M173.3 258h.1M173.4 255h.1M167.2 249.4h.1M207.9 250.1h.1M169 259.8h.1M182.3 251.5h.1M200.4 257.8h.1M186.1 254.8h.1M192.9 253.9h.1M194.9 256.5h.1M164.4 259.9h.1M190.2 258h.1M168.2 259.8h.1M186.3 251.8h.1M179.6 253.3h.1M207.6 259.5h.1M204 255.4h.1M197.3 254.3h.1M211.7 250.3h.1M209.7 253.8h.1M197.1 253.5h.1M209 257.1h.1M208.3 254.9h.1M192.5 249.3h.1M185.6 248.6h.1M168.9 259h.1M204 250.5h.1M201.2 250.1h.1M193.4 250.7h.1M211.6 253.2h.1M181.1 256.3h.1M204.7 255h.1M197.2 252.9h.1M188.9 253.6h.1M201.5 252.3h.1M167.7 254.2h.1M210.7 252.8h.1M205.5 255.5h.1M176 251.5h.1M199.9 253.7h.1M175.1 255.9h.1M200.3 251.9h.1M170.6 253.4h.1M190 256.8h.1M170.4 254.2h.1M203.6 254h.1M165.7 254.3h.1M209 255.4h.1M196.3 246h.1M178.9 256h.1M199.4 254.2h.1M177 261.2h.1M185.8 249.7h.1M183.3 259.2h.1M182.4 254.4h.1M201.5 253.7h.1M191.4 255.3h.1M184.4 254.8h.1M204.3 250.5h.1M207.3 256.1h.1M171.4 256.7h.1M203.1 251.2h.1M192.7 257.3h.1M178.1 255.3h.1M207 256.9h.1M209.8 256.6h.1M193.7 255.2h.1M180.4 260.9h.1M172.3 254.8h.1M191.1 249.8h.1M205.1 257.6h.1M187 249.2h.1M170.2 255h.1M175.6 253.8h.1M206.7 247.1h.1M179.7 249h.1M166.3 262.1h.1M190.1 252.1h.1M187.9 246.8h.1M182.6 251.1h.1M168.7 253.1h.1M176.2 257.6h.1M184.2 249h.1M196.4 254.4h.1M199.5 254.3h.1M181.5 258.1h.1M174.8 253.7h.1M191.3 247.3h.1M199.1 254h.1M198.7 251.9h.1M192.3 253.5h.1M181.8 256h.1M171 246.4h.1M178.2 254.3h.1M180.2 255.1h.1M177.4 250.5h.1M200.1 247.7h.1M188.1 258.9h.1M199.3 257.5h.1M167.9 249.1h.1M206.8 252h.1M165.9 251.6h.1M194.7 253.5h.1M210 250.3h.1M179.1 256.6h.1M177.7 255h.1M176.9 257.7h.1M205 254.4h.1M193.9 260.1h.1M208.3 250.9h.1M174.8 257.1h.1M196.2 256.8h.1M195.4 254.4h.1M207.6 256.1h.1M201.8 253.6h.1M203.2 249.9h.1M175.4 253.9h.1M201.2 257.7h.1M167.1 246.9h.1M189.9 260.3h.1M201.7 257h.1M168.2 250.5h.1M203.8 257h.1M176.2 252h.1M193.5 255.4h.1M170 255h.1M187.5 254.9h.1M207.4 256.1h.1M189.3 254.3h.1M205.4 253.5h.1M201.9 259h.1M167.2 253.3h.1M192.3 254.5h.1M188 256.6h.1M169.6 251.9h.1M191.4 253.3h.1M202.4 255h.1M189.4 254.8h.1M184.2 254.2h.1M197.6 253.1h.1M205.4 255.6h.1M187.3 256.8h.1M204.1 249.8h.1M192 251.9h.1M171.6 254.4h.1M170.8 255.3h.1M206.4 257.3h.1M182.8 256.2h.1M171.4 253h.1M165.3 251.2h.1M195.7 255.9h.1M195.8 252.2h.1M179.6 251.2h.1M181.4 257.5h.1M193.4 252.4h.1M205.3 253.2h.1M167 255.3h.1M173.7 246.7h.1M165.9 263.5h.1M198.6 259.5h.1M207.6 261.3h.1M184.2 254.3h.1M166.6 255h.1M196.7 258h.1M165.1 255h.1M204.6 255.7h.1M192.8 253.1h.1M187 251.6h.1M210.3 259h.1M189 256.6h.1M199.5 255.1h.1M190.1 252.7h.1M211.3 262.4h.1M198.9 253.4h.1M186.1 247.8h.1M168.2 256.3h.1M174.9 246.7h.1M208.8 259.1h.1M203.1 252.6h.1M202.8 254.6h.1M203.1 254.8h.1M193.1 253.7h.1M198.3 250h.1M199.1 256.4h.1M173.9 255.6h.1M199.7 251.8h.1M172.3 257.2h.1M208.8 256.9h.1M167.3 251.4h.1M166.6 254.7h.1M187.2 249h.1M183.9 245.4h.1M177.5 257.6h.1M177.2 254.6h.1M206.7 258.9h.1M181.6 255.4h.1M201.5 255.8h.1M173.2 256.1h.1M205.1 256.7h.1M179.7 256.9h.1M207.5 250.9h.1M177.6 256.2h.1M208.4 247.4h.1M165.1 255.7h.1M190.5 262.2h.1M186.3 261.9h.1M189.3 260h.1M207.5 252.5h.1M192.8 257h.1M199.3 251.7h.1M174.2 258.2h.1M208.1 254.1h.1M191.2 252.7h.1M202.2 256.1h.1M211.2 258.5h.1M199.9 249.6h.1M174 253.9h.1M171.3 255.6h.1M175.5 255.7h.1M187.2 252h.1M210.1 254.5h.1M189.2 252.4h.1M170.6 257.9h.1M177 256h.1M201.7 260.3h.1M172.9 252.4h.1M168.4 252.2h.1M204.3 255.6h.1M176.2 258.9h.1M209.1 255.7h.1M202.9 253.8h.1M206 248.9h.1M187 253.5h.1M177.2 255.7h.1M184.8 258.7h.1M193.8 249.9h.1M173.9 256.7h.1M176.6 256h.1M172.7 262.3h.1M175 258.9h.1M200 249.5h.1M175.4 252.9h.1M172.5 254.1h.1M177.2 252.5h.1M200 253h.1M175.8 250h.1M200.7 253.2h.1M171.4 251.8h.1M180.9 253.8h.1M172.7 253h.1M198.6 255.4h.1M166.3 255h.1M209 254.8h.1M186.6 254.1h.1M171.9 250.1h.1M195.4 254h.1M171.7 259.1h.1M172.6 254.7h.1M179.5 254.9h.1M189.7 256.4h.1M183.7 254.9h.1M169.3 252.7h.1M168.7 253.7h.1M172 251.4h.1M178.1 251.2h.1M183.9 254.7h.1M183.3 253h.1M192 251h.1M171.7 255.3h.1M173.9 256.8h.1M174.2 254.2h.1M174.9 252.8h.1M165.3 261.1h.1M197.7 255.2h.1M170.5 252.9h.1M193.3 258h.1M208 260h.1M169.4 250.3h.1M181.5 250.9h.1M203 253.7h.1M180.5 257h.1M207.6 250.7h.1M171.1 259.2h.1M170.5 255.6h.1M173.1 260.7h.1M211.5 255.2h.1M190.1 256.5h.1M176.9 257.7h.1M199 253.3h.1M199.5 250.8h.1M205.7 253.7h.1M180.2 249.3h.1M208.1 250.2h.1M177.4 254.4h.1M187.9 256.1h.1M208.8 257.8h.1M177.7 259.5h.1M170 252.3h.1M176.8 249.9h.1M180.9 259.7h.1M208.1 255.2h.1M196.1 255.1h.1M197.9 249.8h.1M206.3 250.9h.1M174.9 257.2h.1M174.6 252.3h.1M167.7 259h.1M196.5 251.2h.1M210.8 259.4h.1M188.7 250.2h.1M195.5 249.4h.1M170.9 253.7h.1M207.7 252.4h.1M178.3 252.1h.1M186.4 256.6h.1M191.3 257.4h.1M168.8 250.5h.1M184.3 257.7h.1M176.8 259.6h.1M205.4 259.1h.1M200.7 254.3h.1M193.1 253.2h.1M170.9 254.7h.1M200.3 255.9h.1M206.3 251.8h.1M185 249.5h.1M166.4 255.4h.1M195.9 255.8h.1M186.9 255h.1M165.6 250.3h.1M180.1 248.9h.1M199.5 253.4h.1M187.5 256.1h.1M208.3 258h.1M199.4 252.9h.1M197 249.5h.1M201.6 250.8h.1M194.3 252.8h.1M188.3 256.9h.1M187.3 248.6h.1M179 252.6h.1M193.6 252.1h.1M210.4 254.4h.1M166 253.6h.1M205.4 251.3h.1M175.5 257.7h.1M183 258.9h.1M208.5 257.9h.1M185.5 256.5h.1M165.1 257.5h.1M185.5 256.4h.1M186.8 255.2h.1M179.4 249h.1M190.3 255.4h.1M189.6 256.5h.1M183.9 252.9h.1M175.9 257.9h.1M194 254.9h.1M201.2 250.9h.1M193 258.4h.1M200.2 251.8h.1M170.4 256.2h.1M170.9 251h.1M183.7 250.4h.1M180.1 256.5h.1M178.2 252.5h.1M177.1 253.3h.1M175.2 253.5h.1M211.7 255.7h.1M201.1 260.3h.1M180.9 253.7h.1M174 253.7h.1M165.3 260.6h.1M200.4 255.5h.1M182.6 252h.1M181.5 252.9h.1M196.6 260.5h.1M211 251.1h.1M225.6 255.8h.1M203 249.6h.1M216.1 255.6h.1M208.4 252.4h.1M210.5 261.8h.1M211.8 257.7h.1M217.1 254.1h.1M208.9 254h.1M213.6 259.2h.1M205.3 251.8h.1M206.4 261.4h.1M214.8 261.1h.1M216.9 258.2h.1M211 253.9h.1M224.1 258.2h.1M204.2 254.5h.1M200.1 248.4h.1M219 251.8h.1M213.8 260.1h.1M205.3 254.9h.1M222.6 253.5h.1M209.3 260.9h.1M230.2 257.7h.1M197.4 258.5h.1M205.1 257h.1M216.3 250.4h.1M220.9 255.2h.1M223.2 249.4h.1M206.8 259.8h.1M210.9 252.1h.1M214.6 264.1h.1M217.8 250.2h.1M207.3 250.9h.1M209.9 259.3h.1M197.9 247.8h.1M219.4 254.6h.1M203.4 256h.1M215.2 265.8h.1M212.9 256.5h.1M213.5 256.8h.1M208.4 254.8h.1M216.2 254.4h.1M215.9 252.2h.1M203.1 256.9h.1M210.2 253.6h.1M212.4 254h.1M203.2 248.1h.1M213.3 257.6h.1M219.7 255.3h.1M220.7 254h.1M208.5 255.6h.1M186.5 260.6h.1M216.8 244.6h.1M216.9 258.7h.1M210.2 253.4h.1M211.7 253.5h.1M206.4 257.2h.1M203.9 258.2h.1M216.7 249.7h.1M221.1 260.1h.1M212.3 252.3h.1M203 260.9h.1M198.2 254.5h.1M216 250.2h.1M221.1 256h.1M208.5 261.2h.1M206.4 252.3h.1M206 256.7h.1M219.1 246h.1M225.6 248h.1M204.1 249.3h.1M207.4 253.6h.1M208.4 248.7h.1M216.5 256.2h.1M204.9 253.4h.1M218.2 243.2h.1M215.1 257.2h.1M212.7 259.4h.1M218.5 257.8h.1M203.7 257.9h.1M204.8 252.9h.1M222.6 253.2h.1M210.2 255.1h.1M205.5 255.5h.1M208.6 258.1h.1M202.9 262.5h.1M217.7 259.7h.1M204.8 253.7h.1M217.8 244.7h.1M217.3 247.9h.1M210.2 255.8h.1M226.4 249.9h.1M211.6 262.4h.1M214.4 252.9h.1M218.1 253.5h.1M205.4 256.2h.1M201.4 252.1h.1M213.9 253.9h.1M204.7 260h.1M201.4 259.5h.1M203.1 262.2h.1M217.9 260.9h.1M226.1 260.2h.1M211.3 247.8h.1M210.5 254.3h.1M213.9 251.7h.1M217.3 254.3h.1M211.4 256.2h.1M206.9 257.2h.1M217.2 257.2h.1M207.3 259.4h.1M205.1 257.9h.1M204.9 260.4h.1M206 249.6h.1M209.1 250.8h.1M210.2 255.6h.1M215.4 257.5h.1M207 248.5h.1M210.5 246.8h.1M207.6 258.4h.1M211.2 253.6h.1M220.2 257.4h.1M207.6 258.3h.1M197.9 256.6h.1M218.1 251.5h.1M214.5 258.3h.1M214.7 253.3h.1M192.6 258.1h.1M202.2 248.9h.1M213.6 256.7h.1M209.5 254.6h.1M208.6 253.4h.1M219.2 257.4h.1M202.1 256.2h.1M206.7 255.2h.1M212.7 256.2h.1M203.9 251.3h.1M204.9 256.1h.1M209 250.5h.1M205.3 250.2h.1M208.7 255.1h.1M219.2 255.9h.1M200.6 251.5h.1M205.6 250.5h.1M205.5 250.1h.1M208.1 252.7h.1M214.2 252h.1M223.6 261.3h.1M221.4 249.6h.1M231.4 253.8h.1M198.2 258.9h.1M205.1 255.7h.1M230.6 254.7h.1M212.4 260.6h.1M213.2 259.5h.1M209.7 259.6h.1M207.7 253h.1M222.5 257.7h.1M212.1 257.5h.1M206.5 252.2h.1M211.9 258.4h.1M211.1 255.9h.1M216 252.7h.1M215.6 255.5h.1M213.9 256h.1M210.1 255.2h.1M213.7 254.3h.1M210.6 247.5h.1M204.6 250.9h.1M190 251h.1M208 245.9h.1M210.2 253h.1M209.1 247.8h.1M166.4 237.4h.1M209.9 240.1h.1M184.3 245.4h.1M169.8 247.9h.1M166.3 250.2h.1M170.2 251.3h.1M170 234.6h.1M203.8 248.4h.1M169.6 248.9h.1M197.4 240.3h.1M185.7 240.2h.1M183.6 230.1h.1M202 248.3h.1M186.5 239.2h.1M184.7 249.6h.1M188.5 247.1h.1M185.7 252h.1M182.1 243.2h.1M205.8 238.4h.1M177.7 246.2h.1M186.3 245.8h.1M191.8 240.7h.1M205.1 249.7h.1M187.1 244.3h.1M194.2 237.7h.1M209.1 252.2h.1M166.7 241.2h.1M208.3 245.5h.1M196.6 248.7h.1M198 253.9h.1M209.4 253.5h.1M186 250.9h.1M168.6 245.8h.1M174.4 242.4h.1M166.8 248.8h.1M167.1 244.2h.1M210.8 247h.1M182.4 250.3h.1M178.5 253h.1M211.3 252.2h.1M190.5 249.5h.1M175.2 250.9h.1M204.3 246.8h.1M185.1 239.3h.1M208.6 252.5h.1M190.6 244.5h.1M198.7 245.3h.1M212.5 252.3h.1M192.8 253.5h.1M183 250.9h.1M166.3 247.6h.1M188.5 251.8h.1M206.8 253.9h.1M182.3 250.6h.1M213.6 243.2h.1M176.3 249h.1M179.9 251.3h.1M168.7 247.2h.1M186 250.7h.1M187 238.5h.1M180.4 246.9h.1M167.4 246.4h.1M183.8 243.7h.1M190 244.1h.1M173.6 240.4h.1M183.3 243.4h.1M182.3 254h.1M203.9 240.5h.1M206.1 237h.1M202.1 251.5h.1M175.5 253h.1M188.5 247.8h.1M210.7 248.8h.1M193.9 252.1h.1M206.6 251.4h.1M188 250.5h.1M185.3 250.8h.1M205.9 237.2h.1M204.1 251.1h.1M185 239.2h.1M175 247.3h.1M199 252.5h.1M210.7 240.9h.1M176.4 246.9h.1M190.5 248.2h.1M205.8 252.5h.1M195 243.9h.1M166.8 250.1h.1M177 238.1h.1M185.9 240h.1M167.4 251.7h.1M186.1 248.2h.1M190.4 252.2h.1M200.4 251.3h.1M167.2 252.5h.1M175.9 245.8h.1M178.4 245.2h.1M177.2 246h.1M189.3 254h.1M176.3 253.5h.1M191.4 240.5h.1M166.7 253.5h.1M191.3 249.8h.1M209.3 246.7h.1M198.8 252.1h.1M198.7 244h.1M206.5 252.8h.1M200 243.1h.1M199.9 253.4h.1M179.5 240.2h.1M178.7 238.8h.1M191.5 247.1h.1M171.1 253.4h.1M186.8 246.8h.1M186.4 245.9h.1M167 234.3h.1M204.3 247.9h.1M186.2 251.4h.1M194.5 249.2h.1M181.2 253.3h.1M176.3 244.3h.1M171.3 249.2h.1M193.6 253.9h.1M203.9 251.4h.1M208.9 243.4h.1M191.1 246.5h.1M166.1 248.5h.1M177.6 241.3h.1M193.3 240.9h.1M205.6 249.1h.1M182 248.1h.1M176.5 249.6h.1M164.9 249.6h.1M194.2 252h.1M208.2 244h.1M214.2 248.2h.1M171.6 251.7h.1M197.9 253.3h.1M177.3 250.6h.1M205.5 249.8h.1M182.6 252.4h.1M210.5 249.9h.1M172.4 247.1h.1M205.9 248.5h.1M195.3 238.4h.1M166 248.4h.1M194 253.2h.1M167.7 244.9h.1M212.4 241.3h.1M204.5 243.7h.1M201.1 244.7h.1M197.4 243.6h.1M213.2 234.1h.1M207.8 246h.1M196.2 234.2h.1M178.6 249.6h.1M202 253.8h.1M172.8 251.1h.1M200.8 254h.1M204.3 252.5h.1M190.4 245.1h.1M211.1 251.7h.1M201.2 243.7h.1M170.2 250.8h.1M196 240.1h.1M173.3 252.3h.1M190.9 250h.1M190.4 244.7h.1M190.6 247.2h.1M183.3 250.3h.1M212.7 246.5h.1M186.4 248h.1M187.9 248h.1M172.3 237.2h.1M213.1 253.4h.1M206.6 247.2h.1M172.1 253.2h.1M180.9 244.2h.1M197.7 249.6h.1M207.3 239.6h.1M209 248.2h.1M194.4 246.2h.1M212.1 247.9h.1M182.7 245h.1M172.5 239.3h.1M178.1 253.9h.1M167.6 251.1h.1M214.5 253.3h.1M202.9 242.5h.1M175.7 244.2h.1M187.6 252h.1M182.3 251h.1M187.5 250.8h.1M214.6 245.9h.1" stroke="#000" stroke-width="0.85" stroke-opacity="0.6" stroke-linecap="square" fill="none"/>
<path d="M192.7 261.1h.1M188 261.9h.1M240.6 253.8h.1M172 254.1h.1M263.1 225.7h.1M228.5 255.8h.1M199.8 240.7h.1M227.3 255.6h.1M179.4 228.6h.1M168.7 261.4h.1M222.4 245.5h.1M185 219h.1M230.4 234.4h.1M199.7 261.1h.1M174.8 219.3h.1M199.6 260.6h.1M259.1 252.3h.1M257.2 251.9h.1M251.7 240h.1M221.1 249.4h.1M189.6 251.4h.1M202 246.7h.1M246.6 247h.1M173.1 258.5h.1M210.3 257.9h.1M212.3 217.7h.1M237.7 260.8h.1M242 251.6h.1M199.8 208.7h.1M258.8 236.4h.1M262.5 230.8h.1M211.4 256.1h.1M199.8 258.8h.1M208.5 251.7h.1M216.3 239.1h.1M164.8 252.5h.1M217 226.3h.1M232.2 245h.1M193.1 208.5h.1M220.3 246.5h.1M171.1 261.1h.1M250.8 251.5h.1M188.1 238.2h.1M221.4 260.4h.1M225.8 211.8h.1M247.1 252h.1M220 164h.1M194.6 239.3h.1M256.4 247.1h.1M174.2 259.7h.1M193.2 243.5h.1M170.8 252.3h.1M261.8 260.6h.1M258.9 250.4h.1M164.8 262h.1M234.7 236.2h.1M228.4 261.6h.1M206 255.3h.1M245.1 258.8h.1M206.1 251.4h.1M164.4 261.1h.1M229.4 242.2h.1M212.9 193.1h.1M224.2 261.4h.1M214 220.7h.1M183 257.5h.1M190.9 228.9h.1M196 227.8h.1M236.2 233.1h.1M179.2 217.4h.1M220.5 233.7h.1M173.4 246h.1M197.6 241.3h.1M186.8 257.8h.1M182.5 240.1h.1M226.8 249.9h.1M188.7 237.2h.1M169.8 261.2h.1M178.6 235.8h.1M221.5 198.3h.1M260.6 248.7h.1M169.1 247.9h.1M253.4 225h.1M167.2 256.5h.1M249.9 252.9h.1M233.1 245h.1M234 251.8h.1M241.1 253.1h.1M169.2 252.1h.1M165.6 256.5h.1M264.9 218.3h.1M170.5 259.2h.1M236.7 251.9h.1M195.2 255.6h.1M247.6 255h.1M166.1 245.3h.1M220.7 254.2h.1M172 254.9h.1M245.5 256.5h.1M175.3 221.4h.1M238.5 224.6h.1M264.8 203h.1M204.5 261.9h.1M232 243.4h.1M194.3 229.3h.1M246.4 231.8h.1M227.5 259.9h.1M200.2 251.6h.1M197.6 230.7h.1M194.8 238.6h.1M238.6 249.9h.1M213.9 210.3h.1M205.3 209.1h.1M220.5 222.4h.1M174.2 256.7h.1M196.3 249.1h.1M193.6 257.9h.1" stroke="#000" stroke-width="0.85" stroke-opacity="0.2" stroke-linecap="square" fill="none"/>
<rect x="163.8" y="243" width="41.8" height="23.5" fill="none" stroke="#444" stroke-width="0.8"/>
<path d="M163.8 162.2V266.5H265.3" stroke="#222" stroke-width=".8" fill="none"/>
<text x="174.8" y="275.2" font-size="5" text-anchor="middle" stroke="#000" stroke-width=".15">0</text>
<text x="159.5" y="257.2" font-size="5" text-anchor="end" stroke="#000" stroke-width=".15">0</text>
<text x="185.8" y="275.2" font-size="5" text-anchor="middle" stroke="#000" stroke-width=".15">10<tspan dy="-1.7" font-size="3.4">2</tspan></text>
<text x="159.5" y="245.7" font-size="5" text-anchor="end" stroke="#000" stroke-width=".15">10<tspan dy="-1.7" font-size="3.4">2</tspan></text>
<text x="210.6" y="275.2" font-size="5" text-anchor="middle" stroke="#000" stroke-width=".15">10<tspan dy="-1.7" font-size="3.4">3</tspan></text>
<text x="159.5" y="220.5" font-size="5" text-anchor="end" stroke="#000" stroke-width=".15">10<tspan dy="-1.7" font-size="3.4">3</tspan></text>
<text x="234.8" y="275.2" font-size="5" text-anchor="middle" stroke="#000" stroke-width=".15">10<tspan dy="-1.7" font-size="3.4">4</tspan></text>
<text x="159.5" y="196.5" font-size="5" text-anchor="end" stroke="#000" stroke-width=".15">10<tspan dy="-1.7" font-size="3.4">4</tspan></text>
<text x="258.5" y="275.2" font-size="5" text-anchor="middle" stroke="#000" stroke-width=".15">10<tspan dy="-1.7" font-size="3.4">5</tspan></text>
<text x="159.5" y="173" font-size="5" text-anchor="end" stroke="#000" stroke-width=".15">10<tspan dy="-1.7" font-size="3.4">5</tspan></text>
<path d="M185.8 266.5v1.6M163.8 244.2h-1.6M193.3 266.5v1M163.8 236.6h-1M197.6 266.5v1M163.8 232.2h-1M200.7 266.5v1M163.8 229h-1M203.1 266.5v1M163.8 226.6h-1M205.1 266.5v1M163.8 224.6h-1M206.8 266.5v1M163.8 222.9h-1M208.2 266.5v1M163.8 221.4h-1M209.5 266.5v1M163.8 220.2h-1M210.6 266.5v1.6M163.8 219h-1.6M217.9 266.5v1M163.8 211.8h-1M222.1 266.5v1M163.8 207.5h-1M225.2 266.5v1M163.8 204.6h-1M227.5 266.5v1M163.8 202.2h-1M229.4 266.5v1M163.8 200.3h-1M231.1 266.5v1M163.8 198.7h-1M232.5 266.5v1M163.8 197.3h-1M233.7 266.5v1M163.8 196.1h-1M234.8 266.5v1.6M163.8 195h-1.6M241.9 266.5v1M163.8 187.9h-1M246.1 266.5v1M163.8 183.8h-1M249.1 266.5v1M163.8 180.9h-1M251.4 266.5v1M163.8 178.6h-1M253.2 266.5v1M163.8 176.7h-1M254.8 266.5v1M163.8 175.1h-1M256.2 266.5v1M163.8 173.8h-1M257.4 266.5v1M163.8 172.6h-1M258.5 266.5v1.6M163.8 171.5h-1.6M166.3 266.5v1M163.8 264h-1M168.3 266.5v1M163.8 262h-1M170.3 266.5v1M163.8 260h-1M172.3 266.5v1M163.8 258h-1M177.3 266.5v1M163.8 253h-1M179.8 266.5v1M163.8 250.5h-1M181.8 266.5v1M163.8 248.5h-1M183.8 266.5v1M163.8 246.5h-1M265.6 266.5v1M163.8 164.4h-1M269.7 266.5v1" stroke="#333" stroke-width=".6" fill="none"/>
<path d="M174.8 266.5v2M163.8 255.7h-2" stroke="#000" stroke-width="1.3" fill="none"/>
<text x="217.5" y="286.1" font-size="6.8" text-anchor="middle" fill="#111">&lt;APC&gt;:Ter119</text>
<text x="150.2" y="209.1" font-size="7.2" text-anchor="middle" transform="rotate(-90 150.2 209.1)" fill="#111">Hoechst-A</text>
<g filter="url(#b1)"><ellipse cx="346.3" cy="254.2" rx="6.5" ry="3.6" fill="#000" fill-opacity=".8"/></g>
<path d="M346.3 248.2h.1M338 250.4h.1M337.9 253.9h.1M342.2 255.6h.1M348.3 251.8h.1M336.7 257.8h.1M351.2 258.3h.1M345.7 252.1h.1M347.5 253.1h.1M342.8 244.8h.1M344.4 253.5h.1M350.1 254.5h.1M350.1 262.3h.1M340.2 251.8h.1M340.7 259.3h.1M343.1 257.3h.1M356.8 256.3h.1M343.1 257.4h.1M354.3 257.9h.1M346 254.5h.1M357.3 258.1h.1M351.9 246.3h.1M348.7 254.7h.1M346.3 255h.1M352 260.4h.1M354.6 256.8h.1M343.4 253.1h.1M349.1 252.1h.1M338.2 251.6h.1M339.3 258.2h.1M343.2 251.8h.1M355.5 254.2h.1M348.9 247.1h.1M344.3 250.8h.1M358 251.4h.1M340.6 260.5h.1M343 254.5h.1M344.4 251.3h.1M345 253.5h.1M346.8 263.9h.1M344 253.6h.1M350.2 258.3h.1M345.7 250.8h.1M346.1 252.9h.1M342.3 251.8h.1M342.4 251.9h.1M350 261.1h.1M345.2 252.2h.1M346.6 256.8h.1M343.3 250.5h.1M335.9 252h.1M343.6 253h.1M329.6 256.3h.1M347 254h.1M352.5 249.4h.1M339.9 251.4h.1M337.7 254.4h.1M340.3 250.5h.1M347.6 257.1h.1M345.3 249.3h.1M345.4 248.9h.1M334.8 255.2h.1M346.9 261.4h.1M344.4 262.3h.1M346.6 259.6h.1M349.7 251.6h.1M350.8 256.7h.1M346.5 246.2h.1M339.2 251.4h.1M350.1 264.1h.1M349 257h.1M346.8 255.3h.1M353 254.4h.1M338.8 255.7h.1M346.3 254.8h.1M351.2 247.8h.1M342.5 263.5h.1M346.8 254.4h.1M345.5 253h.1M348.7 251.5h.1M341.1 250.8h.1M357.7 254.5h.1M337.5 255.6h.1M346.7 249.5h.1M342.1 253.9h.1M352.3 249.6h.1M337 261.8h.1M339.2 259.2h.1M348.6 252h.1M338.3 254.7h.1M341.4 255.5h.1M342.7 250h.1M348.1 259.5h.1M349.6 256.1h.1M334.6 249.8h.1M346.8 252.3h.1M356.4 253.6h.1M354.4 251.2h.1M349.5 250.1h.1M337.9 250.6h.1M352 248.4h.1M341.7 258.8h.1M347.4 254.6h.1M349.1 247h.1M345.4 250.8h.1M351.5 254.1h.1M347 255.4h.1M344.6 258.1h.1M342.4 255.1h.1M344.2 259.5h.1M341.7 257.4h.1M339.1 255.6h.1M352.5 253.1h.1M355.2 262.9h.1M346.8 256.4h.1M338.6 254.3h.1M342.7 255.1h.1M345.8 256.1h.1M339.6 257.3h.1M345.5 255h.1M348.1 247.4h.1M338.2 256h.1M336 249h.1M350.9 256.8h.1M348.2 258.1h.1M350.9 255.7h.1M343 254.8h.1M343.4 252h.1M357.6 250.7h.1M351.1 247.7h.1M353.1 256.7h.1M352.1 257.8h.1M342 252.1h.1M347.5 257.1h.1M332.7 256.6h.1M354.1 254.4h.1M332.9 247.8h.1M349.1 256.2h.1M343.7 254.1h.1M352.6 261.5h.1M350.3 255.6h.1M346.8 252.2h.1M345.9 260.5h.1M347.6 254.3h.1M348.6 252.8h.1M347.8 252.7h.1M351.5 254.1h.1M354.2 255.6h.1M341.3 252.6h.1M355.3 253.4h.1M339.2 250.9h.1M351.1 250.8h.1M341.1 254.4h.1M358.5 252.5h.1M348.5 255.3h.1M351.7 252.8h.1M359.3 249.9h.1M353.8 252.2h.1M356.8 254.7h.1M338.5 259.4h.1M342.7 254.4h.1M348 249.9h.1M344.5 254.5h.1M343.8 247.2h.1M343.8 256.1h.1M340.3 246.4h.1M356.1 260h.1M354 256h.1M347.2 256.4h.1M354.5 256.2h.1M340.4 251.8h.1M367 255.9h.1M344.3 258.6h.1M354.9 255.4h.1M343.3 251.8h.1M349.7 258.9h.1M353.3 257.7h.1M354.9 253.2h.1M342.9 260.3h.1M345.9 258.1h.1M345.3 255h.1M357.5 248.9h.1M345.5 258.3h.1M341.6 249.8h.1M335.9 255.1h.1M331.6 248.4h.1M336.2 249.2h.1M350.1 255.8h.1M339.2 244.4h.1M343.4 256.5h.1M341.9 261.8h.1M339.2 255.8h.1M341.1 252.9h.1M349.4 250.4h.1M343.9 251.4h.1M350.9 257.9h.1M347.2 254.9h.1M337.1 253.4h.1M344 259.5h.1M352.1 254.1h.1M356.8 253h.1M338 249.4h.1M349.5 257.4h.1M353.8 249.4h.1M361.2 254.7h.1M345 253.4h.1M352.7 258h.1M340.4 260.3h.1M353.6 261.2h.1M351.4 254.3h.1M337 250.6h.1M342.6 246.8h.1M344.9 262.6h.1M348.6 257.6h.1M347.3 253.2h.1M348.7 258.6h.1M349.4 251.4h.1M339.7 256.8h.1M338.4 251.6h.1M348.8 249.6h.1M339.4 253.3h.1M343.2 254.2h.1M345.7 258.3h.1M357 253.2h.1M347.5 261.5h.1M355.8 254.4h.1M351.6 254.3h.1M340.7 249.3h.1M357.4 254.3h.1M344 257.6h.1M354.2 251.6h.1M348.9 253.2h.1M343.4 252.8h.1M335.9 257.6h.1M349.9 260.6h.1M345.9 252.2h.1M361.5 255.5h.1M343.2 255h.1M346.8 248.2h.1M343.3 257.8h.1M342.3 253h.1M354.8 255.2h.1M354.5 250.4h.1M339.3 257h.1M343.2 248.1h.1M344.3 257.8h.1M341.2 259.8h.1M352.4 254h.1M346.8 249.6h.1M344 259.5h.1M347.8 252.8h.1M349 251.9h.1M345 263h.1M345.6 250.6h.1M350.2 252.2h.1M350.5 253.8h.1M342.3 254.4h.1M350.6 249.7h.1M335.3 261.4h.1M345.2 247.9h.1M353.3 251.6h.1M360.2 255h.1M351 255.3h.1M349.4 251.1h.1M362.2 250.2h.1M356.5 253.3h.1M348.1 250.6h.1M346.3 254.7h.1M333.4 249.5h.1M351.9 252.4h.1M341.9 258.2h.1M348.9 255.3h.1M338.2 258.5h.1M341.9 258.7h.1M352.8 257.3h.1M350.8 254.2h.1M365.2 254.2h.1M352.5 250.5h.1M358.4 262.6h.1M349.6 260.9h.1M346 246.4h.1M345.3 259.8h.1M347.2 251.1h.1M351.2 249.9h.1M361.3 252.7h.1M347.5 251.6h.1M340.6 251.6h.1M347.5 249.3h.1M336 261.9h.1M349.6 257.1h.1M330.7 260.2h.1M332.7 254.8h.1M349.5 252.6h.1M350.5 254.8h.1M341.9 242.5h.1M346.2 248.1h.1M349.4 247.4h.1M350 252h.1M339.9 262h.1M346.1 255.6h.1M334.7 257.3h.1M339.3 258.3h.1M342 254.5h.1M346.3 252.7h.1M351.5 246.1h.1M345.2 251.7h.1M344.3 251.5h.1M347.2 252.8h.1M345.1 256.8h.1M343.7 251.1h.1M353.8 256.8h.1M348 255.9h.1M351.8 257.1h.1M337 251.7h.1M340.7 262.9h.1M343.6 254.6h.1M341.7 252.6h.1M346.4 260.6h.1M345.4 259.3h.1M350 256.3h.1M356.7 254.5h.1M343 253.5h.1M347.6 254.8h.1M349.9 257.7h.1M355.2 252.7h.1M339.6 259.1h.1M347.6 252.3h.1M345.3 256.3h.1M350.5 257.3h.1M355 253.7h.1M342 257.1h.1M344.4 256.4h.1M349.2 251.4h.1M350.2 251.4h.1M335.2 254.6h.1M365 260h.1M344.3 261.4h.1M343.9 250.9h.1M347 255.3h.1M350.3 259.1h.1M346.6 255h.1M353.8 259.4h.1M347 253h.1M346.2 251.6h.1M343.6 252.9h.1M348.8 253.2h.1M356.4 254.7h.1M347.6 243.6h.1M353.7 249.8h.1M346.8 253.7h.1M356.3 252.6h.1M345.2 260.8h.1M332.7 254.3h.1M342.4 252.5h.1M345.2 256.2h.1M345.9 260.7h.1M350.1 247.8h.1M344.2 253.2h.1M339.7 252.9h.1M349.8 253.9h.1M344.7 258.5h.1M355.8 255.4h.1M347.9 256.8h.1M349.7 257.6h.1M345.5 252.3h.1M343.1 249.3h.1M352.4 253.3h.1M345.7 253.7h.1M339.6 252.4h.1M349.9 252.4h.1M345.7 253.3h.1M344.7 254.9h.1M351.3 255.8h.1M338.1 258.3h.1M349.8 255.2h.1M347.5 253.2h.1M346.8 253.5h.1M346.6 254.2h.1M342.4 254.2h.1M342.2 255.4h.1M347.7 257.9h.1M346.9 251.8h.1M352.8 257.2h.1M342 248.4h.1M352.3 256.5h.1M357.8 258h.1M337.7 250.7h.1M355.2 258.2h.1M349.2 255.1h.1M345.9 254.7h.1M346.5 254.8h.1M352.7 256.4h.1M336.3 250h.1M352.7 254.7h.1M349.1 249.6h.1M352.8 251.9h.1M333.2 256.1h.1M330.5 247.9h.1M349.8 257.2h.1M337.8 256.3h.1M349.1 250.8h.1M345.1 251.6h.1M338.6 251.8h.1M336 253.7h.1M352.5 259.6h.1M346.3 261.7h.1M338.2 252.9h.1M349.6 251.5h.1M338.5 251.7h.1M349.4 254.4h.1M338.8 253.9h.1M346.3 256.4h.1M351.3 260.7h.1M340.5 250h.1M349 254.8h.1M339.4 245.6h.1M351.6 252h.1M341.4 251.9h.1M346.4 248.7h.1M339.8 257.3h.1M352.4 251h.1M366.7 254.2h.1M343.4 254.1h.1M344.4 255.8h.1M344 251.6h.1M340.2 247.4h.1M337.9 259.4h.1M352.1 253.8h.1M336.2 252.1h.1M355.7 259.8h.1M341.1 247.4h.1M341.5 255.2h.1M342.6 247h.1M340.1 255.7h.1M345.7 255.8h.1M343.7 250h.1M337.1 250.2h.1M346.5 254h.1M343.3 254.8h.1M354.3 255.2h.1M353.7 253.4h.1M337 253.5h.1M346.9 254.8h.1M348.5 256.8h.1M342.9 262.4h.1M342.4 253.7h.1M347.1 256.9h.1M346 252.9h.1M338.2 252.5h.1M346 261.5h.1M345.4 253.4h.1M349.7 260.9h.1M343.9 257.3h.1M336.9 259.1h.1M345.1 250h.1M348.5 248.7h.1M338.6 261.5h.1M346.3 253h.1M348.6 252.5h.1M342.2 253.9h.1M337.6 254.3h.1M349.6 247.9h.1M359.2 259.9h.1M357.9 253.8h.1M342.9 257.7h.1M341.7 261.3h.1M338.5 256.2h.1M347.2 250.6h.1M344.1 256.9h.1M343.5 252.9h.1M351.9 254.9h.1M345 254.8h.1M358.1 254.6h.1M345 250.1h.1M345.1 247.4h.1M342 256.3h.1M355.4 251.2h.1M347.6 256h.1M353.3 251.8h.1M341.8 252.8h.1M346.4 258.5h.1M350.8 248.3h.1M335.8 252.1h.1M348.8 255.1h.1M349.9 255.1h.1M338.9 251.5h.1M349.7 253.2h.1M341.2 247.9h.1M343.1 260.6h.1M343.2 250.7h.1M352.1 256.2h.1M341.8 249.4h.1M344 251.9h.1M348.1 251.2h.1M342.5 250.7h.1M351.5 250.6h.1M342 256.4h.1M344.6 252.4h.1M346.5 248.6h.1M347.6 258.1h.1M347.7 257.1h.1M356.6 254.8h.1M341 255.5h.1M352.2 254.8h.1M361.7 250.4h.1M349.5 257.2h.1M347.7 255.3h.1M345.5 254.4h.1M347.5 256.2h.1M350.8 254.7h.1M350.6 250.9h.1M342.1 257.1h.1M352.2 250.9h.1M346.6 248.5h.1M337.7 258.1h.1M335 251.3h.1M350.7 254h.1M345.8 258.8h.1M350 254.3h.1M337.9 255.6h.1M353.7 250.6h.1M343.7 250.3h.1M336.6 249.5h.1M340.7 255.4h.1M353 252.2h.1M356.8 251.6h.1M347.5 255.4h.1M343 249.1h.1M355.5 255.8h.1M354.3 257.9h.1M331 257.3h.1M346.9 259.2h.1M349.8 254h.1M345.5 250.9h.1M358.6 254h.1M342.8 252h.1M352 249.1h.1M344.8 257.1h.1M347.5 252.9h.1M349.2 256.5h.1M351.8 258h.1M341.3 243.5h.1M354.1 249.9h.1M349.7 251.5h.1M357.1 254.7h.1M337.9 250.6h.1M342.2 255.5h.1M349.4 254.5h.1M345.5 252.5h.1M333.7 254.2h.1M337.2 248.7h.1M333.6 249.7h.1M345.3 255.7h.1M348.5 249.1h.1M325.3 254.6h.1M346.6 255.2h.1M351.8 250.5h.1M342.3 248.6h.1M342.3 257.4h.1M353.3 258.9h.1M331.5 261.8h.1M348.4 255.8h.1M351.7 257.2h.1M346.5 249.3h.1M350.8 251.6h.1M355.4 255.9h.1M344.5 251.2h.1M350.5 254.6h.1M347.7 259.1h.1M347.3 252.7h.1M352.2 253.3h.1M358.8 252.6h.1M342.4 255.7h.1M353.9 256.5h.1M338.6 255.5h.1M351.3 250.7h.1M354 250h.1M342.4 258h.1M334.3 262.5h.1M347.4 258.2h.1M341.2 263.3h.1M354 251.7h.1M357.1 255.7h.1M352 247.1h.1M350.6 258.3h.1M340.6 255.6h.1M343.4 251h.1M349.2 249.9h.1M340.3 251.5h.1M353 255.4h.1M339.6 252.9h.1M348.1 252.5h.1M345 250.7h.1M348.7 254.7h.1M332.9 254.2h.1M347.8 253.6h.1M341.8 248.3h.1M338.1 258.6h.1M343.5 249.6h.1M339.2 254.4h.1M350.3 254.8h.1M332.2 252.9h.1M350.3 252.4h.1M355.9 257.9h.1M344.4 249.5h.1M345.4 258.5h.1M344.6 247.5h.1M348.8 251.2h.1M347.2 255.4h.1M340.6 259.8h.1M349.4 265.2h.1M346.3 247.2h.1M340.6 250.6h.1M348 256h.1M348.9 258.2h.1M343.3 254.8h.1M354.3 261.7h.1M340 255.9h.1M337.8 251.5h.1M359.3 248.7h.1M332.9 251h.1M331.5 256.1h.1M348.9 255.4h.1M344.2 242.7h.1M345.7 253.6h.1M335.7 253.8h.1M337.6 252.5h.1M336.4 253.6h.1M342.1 247.2h.1M341.6 255.5h.1M350.8 245.7h.1M345.5 250.7h.1M350.9 261.6h.1M345.8 250.4h.1M334.4 249.5h.1M348.5 255.6h.1M333.9 256.1h.1M349.9 262.6h.1M352 251.4h.1M340.9 255.8h.1M355.1 248.7h.1M350.5 255.8h.1M345.6 255.4h.1M346.6 251.9h.1M344.6 258.9h.1M354.3 255.6h.1M346.4 257.4h.1M353.6 254.7h.1M352.1 254.8h.1M342.5 253.8h.1M348.6 255.5h.1M345.8 258.2h.1M357.3 249.8h.1M343.1 254.8h.1M345.3 254.8h.1M346.3 250.8h.1M337.3 251.5h.1M343.5 263.4h.1M347 254.3h.1M334.6 253.1h.1M352.2 254.9h.1M339.3 258.5h.1M357.1 245.4h.1M351.3 249.2h.1M346.3 253.1h.1M347.7 256.9h.1M335.7 255h.1M335.4 252.9h.1M355.2 251.7h.1M349 251.1h.1M342.9 256.3h.1M344.2 248.5h.1M354.1 245.7h.1M351.4 248.9h.1M343.3 254.2h.1M340.9 259.3h.1M350.3 250.5h.1M346.4 252.5h.1M348 249.1h.1M345.9 254.2h.1M344.2 253.3h.1M357 256.9h.1M351 250.7h.1M343.4 251.5h.1M351.1 255.7h.1M349.6 251.2h.1M334 251.2h.1M344.9 258h.1M349 252.3h.1M351.6 257.5h.1M345.4 248.9h.1M350.6 255.5h.1M338.2 256.6h.1M353.3 249h.1M357.1 253.2h.1M342.4 246.5h.1M345.7 260.2h.1M360.9 252.9h.1M342.8 251h.1M344.1 250.3h.1M353.1 259.9h.1M332.9 255.3h.1M331 257.9h.1M338.1 255.5h.1M361.9 253.6h.1M335.5 255.3h.1M342.2 253.3h.1M348.5 255.3h.1M335.6 247.6h.1M340.5 254.3h.1M344.8 256.2h.1M355.3 253h.1M342.1 255.4h.1M353.9 255.7h.1M343 249.7h.1M348.4 252.4h.1M351.1 257.8h.1M339.2 242.6h.1M349.1 256.3h.1M351.3 258.7h.1M356.5 255.2h.1M347.4 260.7h.1M354.7 255.9h.1M352.4 257.3h.1M344.2 258.6h.1M350.9 253.8h.1M346 247.1h.1M356.2 253.5h.1M338.3 258.2h.1M354.5 251.5h.1M344.8 250.1h.1M350.5 250h.1M349.9 260.6h.1M335.4 252.5h.1M341.2 250.5h.1M342.3 251.6h.1M356.9 255.1h.1M341.4 252.5h.1M350.7 256.1h.1M354.3 252.6h.1M349.4 253.1h.1M336 255h.1M340.1 260.1h.1M347.7 250.9h.1M345.7 247.9h.1M341.5 260.2h.1M349.6 259.3h.1M346.2 252.8h.1M348.7 257h.1M355.6 254.6h.1M343 256.8h.1M347.3 248.5h.1M337 255h.1M343.3 261.3h.1M348.5 252.7h.1M361.8 250.5h.1M346.5 255.2h.1M349.2 251h.1M342.1 258.7h.1M343.6 249.8h.1M345.5 245h.1M346.6 257.3h.1M344.3 256.1h.1M353.2 259.1h.1M345.9 251.2h.1M341.7 251.6h.1M358.1 252.8h.1M337.2 260h.1M352.2 251.5h.1M349.2 254.4h.1M345.8 256h.1M343.8 252.6h.1M342 257.2h.1M337.5 258.1h.1M351.4 246.7h.1M357.7 260.9h.1M337.8 254.4h.1M340.5 255.3h.1M345.5 259.5h.1M346.6 253.3h.1M351.4 258.7h.1M341.9 259h.1M335.3 252.1h.1M346.5 259.2h.1M342.8 259.3h.1M346 252.9h.1M338.9 256.6h.1M346.4 256.5h.1M353.7 246.2h.1M346.1 250.6h.1M352.5 254.3h.1M337.5 251.1h.1M352.5 257.2h.1M342.7 250h.1M347.5 253.5h.1M336.4 251h.1M351.4 256.9h.1M344.4 256.9h.1M351.5 253.6h.1M347.5 255.8h.1M339.9 259.3h.1M353 253.8h.1M354.3 257.4h.1M347 258.7h.1M343.9 250.7h.1M350.1 250h.1M348.1 248.6h.1M341 255.7h.1M338.3 254.2h.1M351 260.9h.1M341.4 252.9h.1M340.4 257h.1M346.8 254.6h.1M346.4 250.5h.1M340.1 253.1h.1M342.1 259.9h.1M346.4 246.7h.1M327.3 259.2h.1M341.9 253h.1M337.8 254.2h.1M350.6 252h.1M344.3 255.9h.1M349.3 255.1h.1M349.4 254.3h.1M339.9 253.1h.1M352.7 242.4h.1M345.3 254.6h.1M347 254.2h.1M335.4 256.1h.1M344.2 258.7h.1M349.2 254h.1M343 256.4h.1M352.8 256.2h.1M340.2 257.6h.1M340.9 259.7h.1M338.8 259.1h.1M338.5 255.9h.1M329.9 251.6h.1M338.9 260.7h.1M356.3 257.8h.1M349.1 260.1h.1M343.3 250.8h.1M354.8 250.7h.1M342.3 248.8h.1M341.3 256.2h.1M340.9 253h.1M352 260.5h.1M349 252.2h.1M344.1 256.4h.1M344.2 257.6h.1M342.9 254.4h.1M349.1 256.7h.1M350.2 255.7h.1M350.3 254.3h.1M350.1 256.7h.1M348.9 251h.1M342.1 258.5h.1M339.4 256.4h.1M340.6 259.1h.1M341.7 248.1h.1M358.9 255.1h.1M348.4 253.1h.1M352.7 254h.1M342.8 248.5h.1M351.8 251.6h.1M346.5 253.5h.1M353.1 256.3h.1M337.1 252.3h.1M355.4 249.3h.1M348.6 253.6h.1M341.5 252.3h.1M348.8 252.7h.1M340.3 254.8h.1M351.5 256.7h.1M353 251h.1M343.5 256.3h.1M343.5 258.6h.1M346.9 253.8h.1M345.5 257.1h.1M353.5 252.3h.1M341.7 252.4h.1M343.2 253.7h.1M344.3 250.1h.1M353.5 252h.1M354.7 250.7h.1M355.1 253.3h.1M337.1 254.4h.1M359.4 258.1h.1M328.7 253.2h.1M347.1 253h.1M346.5 257.7h.1M346.8 257.2h.1M361 251.7h.1M353.9 251.3h.1M353.7 252.4h.1M341.9 254.9h.1M360.7 255.2h.1M340.1 247.4h.1M350.7 254.2h.1M356.1 252.8h.1M351.1 257.6h.1M348.9 252.2h.1M351.2 248.8h.1M340.4 257h.1M351.2 259.5h.1M346.6 261.1h.1M352.9 252.9h.1M345.2 254.7h.1M352.6 253.3h.1M340.2 249.5h.1M352.7 257.7h.1M354 263.6h.1M339.8 257.6h.1M341.6 251.4h.1M338.5 257h.1M345.3 254.8h.1M333.5 257.9h.1M345.3 251.5h.1M341.7 250.2h.1M348.1 250.9h.1M345.7 256.1h.1M359.8 246.6h.1M350.4 246.1h.1M347.9 252h.1M349.4 255h.1M352.7 256.1h.1M348.4 252.8h.1M343.1 250.8h.1M353.1 257.1h.1M350.8 254.1h.1M332.9 248.1h.1M341.5 254.2h.1M348.2 251h.1M356.2 249.2h.1M353.1 254.4h.1M347.5 257.2h.1M348.2 247.6h.1M351.2 252.8h.1M346.3 255.1h.1M352.8 260.4h.1M340.6 250.5h.1M350.6 255.1h.1M339.8 253h.1M342.9 260.2h.1M346.5 258.2h.1M353.8 257.6h.1M331.2 252.3h.1M353.3 260.9h.1M340.7 255.2h.1M346.7 250.8h.1M357.4 248.1h.1M342.4 254.7h.1M331.4 252.2h.1M356.5 256.8h.1M345.4 256.8h.1M345.2 257.4h.1M350.2 260.4h.1M339.7 251.5h.1M339.9 252.3h.1M337.2 249.1h.1M346.1 250.3h.1M341.6 251.6h.1M345.5 248.3h.1M349.3 260.4h.1M341.2 250.6h.1M343.5 255.7h.1M348 252.4h.1M335.5 250.3h.1M356.7 258.7h.1M357.5 253.1h.1M345.7 255.4h.1M350.8 256.4h.1M350 252.7h.1M337.1 257.7h.1M342.3 251.4h.1M347.2 255.7h.1M342.9 252.2h.1M356.2 256.4h.1M348.3 252.5h.1M348.1 254.9h.1M337.9 253.4h.1M337.4 257.7h.1M342.5 251.3h.1M354.1 256.2h.1M337.8 251.6h.1M344.8 253.2h.1M348.8 254.2h.1M341.9 250.9h.1M340.8 256.5h.1M342.9 248h.1M338.8 256.7h.1M330.1 256.7h.1M336.1 264.4h.1M352.9 252.2h.1M336.3 251.2h.1M351.9 255.7h.1M332.9 254.5h.1M343.8 254.9h.1M337.6 251.8h.1M339.5 256.8h.1M349.6 258.4h.1M341.5 257h.1M346.3 254.5h.1M328.9 254.3h.1M335.9 259h.1M353.5 262.5h.1M350 259.2h.1M342.6 254.7h.1M345.3 257.4h.1M347 253.6h.1M346 260.1h.1M345.7 250.9h.1M346.5 249h.1M347.7 261h.1M355.4 253.9h.1M343.3 261.7h.1M331.5 254.9h.1M349.4 249.2h.1M357.1 256.3h.1M358.2 254h.1M347.3 257h.1M349.2 253h.1M362.7 254.2h.1M336.2 253.6h.1M348.9 250.1h.1M348.4 258.1h.1M340.4 255.1h.1M349.1 259.1h.1M346.6 253.8h.1M340.1 257.9h.1M345.1 258.2h.1M360.3 252.1h.1M346.4 253.6h.1M344.1 259.5h.1M354.6 247.1h.1M348 255.5h.1M350.4 252.4h.1M350.2 252.2h.1M345.2 257.9h.1M350.9 258.2h.1M340.7 257.3h.1M349.3 257.9h.1M342.5 249h.1M358.2 255.7h.1M353.2 249.6h.1M356.4 257.6h.1M351 257.1h.1M354.3 255.6h.1M342.4 257.5h.1M335.3 246.7h.1M356.3 256.7h.1M347.9 258.6h.1M347.2 240h.1M330.6 255.5h.1M362.4 257.3h.1M347.2 256.9h.1M348 252h.1M343.3 251.7h.1M351.8 255.6h.1M347.6 253h.1M326 246.9h.1M340.5 253.8h.1M349.9 256.7h.1M349.1 257.5h.1M336.7 254.3h.1M348.8 255h.1M344.5 251.4h.1M328.3 256.6h.1M350.7 257.2h.1M340.2 253.5h.1M340 256.5h.1M347.6 253.4h.1M332.6 250.4h.1M350 257.6h.1M352.7 256.9h.1M342.8 250.4h.1M353.8 255.2h.1M354.2 251h.1M335.7 256h.1M340.8 254.3h.1M346.1 246.5h.1M347.7 254h.1M338.3 247.3h.1M340.4 250.9h.1M345.5 253.6h.1M349.8 251.3h.1M347.1 247.8h.1M353.3 250.2h.1M350.9 255.1h.1M349.5 257.3h.1M344.8 249.8h.1M339 255.2h.1M359.5 254.1h.1M340.1 249.6h.1M342.9 250.6h.1M348.4 249.1h.1M340.3 257.4h.1M348.9 243.4h.1M342.6 252.7h.1M346.9 252.5h.1M358.2 250.5h.1M347 252.2h.1M346.9 252.8h.1M353.7 257.3h.1M349.1 256.6h.1M350.6 253.3h.1M338.1 257.2h.1M342.1 249h.1M353 259.6h.1M343.8 255.8h.1M344.1 251.1h.1M358.8 247.6h.1M344.4 256.8h.1M353.8 252.2h.1M348 262.9h.1M346.3 258.5h.1M348.4 249.2h.1M345.3 254h.1M339.6 251.7h.1M352.7 256h.1M346.1 253h.1M355.7 253.2h.1M348 254.6h.1M344 261.1h.1M331.8 254.7h.1M345.5 259.2h.1M351.3 252.7h.1M344.4 255h.1M347.4 251.7h.1M333.6 253.8h.1M349.5 252.2h.1M344.9 254.6h.1M337.6 247.2h.1M355.2 254.7h.1M349.7 258.2h.1M346.3 249.9h.1M345.1 253.1h.1M344 255.9h.1M345 254h.1M349.5 256.8h.1M345.1 255.3h.1M348.5 253.1h.1M355.8 255.8h.1M348.3 262.5h.1M350.5 255.1h.1M353.3 257.1h.1M346.3 255.8h.1M349.9 253.8h.1M348.3 253h.1M343.3 246h.1M342.4 259.1h.1M365 252.4h.1M345.6 256.4h.1M351.1 250.1h.1M343.7 252.3h.1M341.4 255.2h.1M333.8 255.3h.1M346.1 258.7h.1M358.1 248.8h.1M347.8 251.1h.1M340.4 257.1h.1M351.1 247.4h.1M349.4 257.8h.1M347.4 256.1h.1M337.9 252.2h.1M345.5 251.4h.1M354 254.5h.1M346 251.3h.1M357.4 256.1h.1M348.9 250.9h.1M344.8 253.9h.1M346.9 255.7h.1M355.6 254.7h.1M335.8 257.1h.1M342.3 253.8h.1M338.9 258.6h.1M347.5 251.1h.1M350.6 257h.1M347 253.7h.1M341.1 245.8h.1M348.7 262.2h.1M335.2 249.8h.1M352.8 254.8h.1M343.1 252h.1M356.6 252.1h.1M342.8 250.7h.1M356.4 257.2h.1M353.8 247.7h.1M348.5 250.3h.1M332.1 253.3h.1M345.2 252.5h.1M350.3 243.9h.1M341.5 252.4h.1M353.4 253.2h.1M341.5 254.3h.1M342.7 248h.1M361.7 254.9h.1M346.2 249.3h.1M341.4 254h.1M345 254h.1M353 246.2h.1M338.9 249.6h.1M345.5 250.1h.1M348.6 246.1h.1M345.7 258h.1M349.6 250.1h.1M339 254.5h.1M355 251.5h.1M351.2 248.6h.1M355.9 256.4h.1M353.4 254.3h.1M353.6 249h.1M344.4 252.3h.1M350.5 255.8h.1M341.3 249.3h.1M349.7 256.2h.1M340 253.2h.1M353.2 258.1h.1M354.1 259.8h.1M341.5 249.4h.1M344.2 256.9h.1M343.1 254.9h.1M335.3 249.9h.1M345.6 258h.1M335.6 249.6h.1M339.7 254.5h.1M339.7 253.1h.1M347.8 245h.1M351.1 253.8h.1M350 254.5h.1M341.9 255.2h.1M350.5 250.1h.1M356.1 252.2h.1M337.1 256.3h.1M358.3 256.4h.1M351.2 256h.1M345.5 258.1h.1M346 250.4h.1M342.7 252.2h.1M347.9 253.2h.1M364.2 255.4h.1M334.9 255.9h.1M346.6 257.5h.1M345.1 255h.1M336.9 254.3h.1M346.4 250.1h.1M344.7 254.1h.1M357.1 250h.1M345.4 250.1h.1M352.4 251.9h.1M344.5 255.4h.1M342.6 259.2h.1M350.7 250h.1M341.2 250.1h.1M346.2 260.3h.1M347 263.6h.1M343.5 254.1h.1M346.8 257.4h.1M360.3 257.7h.1M341.8 256.7h.1M339.7 251.9h.1M355.3 256.1h.1M339.5 253.1h.1M337 252.1h.1M340.8 258.9h.1M348.9 253.1h.1M351.3 253.3h.1M343.3 252.2h.1M348.7 256.6h.1M338 252.5h.1M352 253.6h.1M348.9 254.2h.1M344.9 254.4h.1M345.3 254.2h.1M354.4 254.7h.1M346.5 254.1h.1M342.8 249.9h.1M353 257.6h.1M338.3 252.4h.1M340.2 253.2h.1M351.8 250.1h.1M341.3 252h.1M336.9 251.8h.1M336.7 253.9h.1M346.2 251.2h.1M345.2 253.5h.1M339.6 246.3h.1M347.9 257.5h.1M337.5 258.9h.1M334 250.4h.1M346.3 249.1h.1M332 258h.1M343.4 253.2h.1M349.5 244h.1M336.2 258.6h.1M331.9 248.4h.1M347.9 257h.1M349.1 261.2h.1M358.5 254.9h.1M343.9 252.6h.1M345.1 251.1h.1M338.9 248.2h.1M352.2 254.6h.1M354.4 252.2h.1M343.7 249.7h.1M347.8 255.8h.1M354.6 253.7h.1M346.2 251.5h.1M356.3 256h.1M354.7 247.9h.1M345.3 254.3h.1M343 251.2h.1M342.1 252.3h.1M339.7 251.2h.1M358 257h.1M343.9 258.7h.1M341.3 249.2h.1M338.6 256.2h.1M342.2 255.5h.1M350.8 253.7h.1M348.5 258.2h.1M330.7 260.6h.1M347.8 247.2h.1M349.6 254.3h.1M350.5 256h.1M354.3 253.1h.1M349.2 249.1h.1M361.7 253h.1M341.7 248.2h.1M353.6 253.9h.1M341.2 256.6h.1M342.9 260.2h.1M357.4 251.7h.1M352.3 255.3h.1M342 254.6h.1M349.5 253.4h.1M335.3 258.4h.1M341.4 251.4h.1M341.3 255.6h.1M335.6 259.3h.1M349.9 256.1h.1M337.8 248.4h.1M345.3 253.1h.1M354.8 256.6h.1M349.9 253.9h.1M341.5 251.8h.1M343.3 252.1h.1M348.6 250.9h.1M337.5 257.6h.1M349.4 251.8h.1M349.3 256.4h.1M355.1 256.1h.1M347 258.4h.1M347.1 261h.1M335.1 252.4h.1M347.9 249.4h.1M352.5 254h.1M347.1 260h.1M345.3 256.2h.1M343.2 253.4h.1M342 260.6h.1M346.8 254.7h.1M337.2 254h.1M350.5 262.2h.1M344.4 251.4h.1M349.3 253.7h.1M344.5 258.1h.1M345.9 253.7h.1M338.5 254.2h.1M359 254.7h.1M353 252.1h.1M347.4 252.1h.1M339.7 259.7h.1M358.6 254.9h.1M349.4 247.3h.1M345 254.7h.1M342 250.7h.1M345.6 250.9h.1M354.6 260.2h.1M340.8 257.2h.1M345.5 255.4h.1M345.9 254.1h.1M350 249.6h.1M353.3 252.8h.1M346.8 255.8h.1M348.6 256.2h.1M348.5 246.6h.1M341.5 252.1h.1M345.9 252.4h.1M338.5 255.8h.1M347.6 250.5h.1M346.3 253.5h.1M347.3 247.3h.1M342.1 249.7h.1M361.3 254.4h.1M353.2 255.2h.1M344.6 254.4h.1M340.7 252.9h.1M346.1 248.4h.1M344.7 251.5h.1M346.2 252.9h.1M348.5 252.6h.1M339.1 252.1h.1M341.4 256.5h.1M346.6 251.9h.1M333.9 253.2h.1M361 254.9h.1M351.8 256.7h.1M348.1 257.7h.1M352.3 248.8h.1M347.5 257.8h.1M346 255.3h.1M349 256h.1M347 256.5h.1M353.2 251h.1M346.3 254h.1M353.7 261.4h.1M357.4 262.2h.1M350.6 244.4h.1M347.2 244.3h.1M338.6 260.6h.1M342.7 251.3h.1M339.4 252.5h.1M345.6 256.7h.1M352.5 255.9h.1M335.7 249.6h.1M348.7 256.5h.1M335.2 255.2h.1M343.4 246.4h.1M350.7 251.5h.1M342.7 255.8h.1M354.6 257.6h.1M347.4 251h.1M344.8 255.2h.1M346.2 253.7h.1M345.5 249.7h.1M348.3 256h.1M338.1 253h.1M345.4 253.8h.1M341.5 248.6h.1M347 249.1h.1M341.4 255h.1M346.8 252.4h.1M358.2 259.3h.1M359.1 257.2h.1M344.1 256.3h.1M346.9 254.6h.1M351 255.9h.1M343.2 253.7h.1M346.7 254.9h.1M342.5 260h.1M351.1 261.4h.1M340.4 261.1h.1M359.7 251.7h.1M340.1 249.9h.1M346.3 253.2h.1M355.8 257.1h.1M349.2 255.6h.1M331.6 255.2h.1M351.2 260.1h.1M346.8 250.4h.1M349.9 257.3h.1M335.3 253.6h.1M361.4 252.9h.1M336.1 256.8h.1M354.8 250.9h.1M338.8 254.6h.1M338.7 251h.1M351.9 250.2h.1M342.2 258.5h.1M359.7 252.7h.1M355.8 260h.1M349.5 250.5h.1M343.3 252.5h.1M343.7 252.8h.1M349.3 255.6h.1M348.8 247.5h.1M343.6 251.9h.1M346.8 247.8h.1M347.8 249.2h.1M353 254.2h.1M342 254.2h.1M346.1 259.6h.1M352.1 260.6h.1M350 255.4h.1M329.1 253.8h.1M350.9 258.8h.1M343.1 254.4h.1M353.3 257.4h.1M343.9 252.4h.1M339.7 245.8h.1M365.7 255.4h.1M340.1 250.3h.1M337.3 255.5h.1M346.8 255.3h.1M351.8 256h.1M349.7 255.3h.1M347.6 255.8h.1M339.5 252.8h.1M359.8 257.8h.1M335.5 254.6h.1M348.2 249.9h.1M336.6 253.6h.1M348 259.3h.1M346.4 256h.1M349.5 257.2h.1M339.7 256h.1M340.9 251.5h.1M332.5 262.2h.1M340.9 256.6h.1M339.1 261.1h.1M343.8 248.7h.1M339.5 248h.1M348.1 253.1h.1M346.5 259.3h.1M351.4 259.6h.1M352.4 257.9h.1M343.4 257.8h.1M352.4 255.4h.1M350.5 252.3h.1M336.4 255.7h.1M355.4 254.1h.1M340.3 256.6h.1M345.8 257.2h.1M355.3 251.8h.1M343.3 252.2h.1M352.8 260.9h.1M342.4 250h.1M342.8 255.5h.1M353.9 250.6h.1M344.6 255h.1M353.3 256.6h.1M356.1 250.7h.1M350.8 255.1h.1M350.3 255.3h.1M342.5 250.7h.1M342.4 260.8h.1M347.5 254.1h.1M349.8 261.1h.1M337.4 248.7h.1M343.5 248.4h.1M346.7 252.6h.1M352.2 257.8h.1M345.6 255.5h.1M339.9 255.2h.1M347.1 251.1h.1M341.1 254h.1M342.2 256.7h.1M348.9 257.8h.1M361.6 253.6h.1M360.1 252.5h.1M337.9 254.6h.1M361.9 260.9h.1M336.5 258.2h.1M343.5 254.7h.1M342.4 250.4h.1M354.9 254.7h.1M343.4 253h.1M352.7 252.1h.1M343.4 239.3h.1M345.3 260.3h.1M342.2 250.1h.1M345.2 254.5h.1M342.2 253.7h.1M360.5 255.1h.1M356.6 249.6h.1M353.6 252.1h.1M362.3 251.2h.1M345.5 259.2h.1M341.5 251.2h.1M341.1 248.6h.1M336.5 248.9h.1M344.4 257.1h.1M348.2 255.9h.1M339.7 245.7h.1M347.8 250.8h.1M347.3 253.2h.1M342.1 249.4h.1M338.7 255.8h.1M347.5 255.1h.1M345.4 260.6h.1M340.9 251.2h.1M336.1 255.8h.1M356.9 263.9h.1M351.9 256.6h.1M343.6 255h.1M341.5 259.3h.1M351 260.5h.1M342.8 253.8h.1M348.1 257.8h.1M331.7 261.7h.1M347.9 253.6h.1M352 252.8h.1M353.7 257.7h.1M349.6 256.4h.1M351.6 257.1h.1M348.6 254.9h.1M347 253.3h.1M344.5 253.7h.1M334.3 254.8h.1M339.8 247.5h.1M348.5 256.6h.1M333.6 262.2h.1M354 252.3h.1M351.8 249.9h.1M338.3 260.1h.1M351.9 257.2h.1M344.2 256.4h.1M356.6 250.8h.1M342.1 249.8h.1M353.9 257.6h.1M337.9 258.5h.1M338.9 252.7h.1M332 257.6h.1M347.5 257.6h.1M338.5 255.2h.1M355.5 251.6h.1M336.1 252.8h.1M350.8 250.2h.1M350.6 246.3h.1M341.5 246.1h.1M345.8 255.4h.1M360.8 256.8h.1M343.3 252h.1M353 253.8h.1M352 261.1h.1M348.5 255.4h.1M333.9 258.5h.1M342.8 260.1h.1M348.2 250.2h.1M353 257.9h.1M341.3 248.8h.1M333.8 256.6h.1M335.3 250.6h.1M346.2 258.1h.1M340.5 250.2h.1M350.5 251.7h.1M349.3 258h.1M343.8 252.7h.1M336.4 253.2h.1M346.2 258.6h.1M348.5 257.2h.1M346.2 252.8h.1M350.6 256.8h.1M341.9 257.4h.1M350.7 254h.1M350.7 256.3h.1M345.6 256.1h.1M345.6 255.9h.1M341.8 257.7h.1M343.4 260.3h.1M340.8 254.4h.1M353.8 261.1h.1M347.1 257.2h.1M338.1 252.8h.1M344.9 254.1h.1M354.8 258.4h.1M356.4 258.3h.1M354.3 262h.1M337.9 253.8h.1M350.9 253.3h.1M337.6 249.5h.1M358.2 250.5h.1M359.2 251.6h.1M338 256.9h.1M347.9 251.9h.1M337.6 256.9h.1M347.5 252.3h.1M341.9 252.8h.1M339.3 259.3h.1M352.6 257.3h.1M347.2 253.6h.1M352.6 259.5h.1M349.5 250.6h.1M339.1 255.3h.1M341.7 249.9h.1M353 258.2h.1M353.5 256.7h.1M343.5 253.3h.1M360.2 253.1h.1M350.3 259.3h.1M357.3 254.9h.1M350.1 251.5h.1M355.2 248.6h.1M342.8 259.4h.1M346 260.2h.1M335.7 258.7h.1M347.7 257.2h.1M338 255.1h.1M348.4 253.7h.1M343.1 251.3h.1M339.6 257h.1M343.7 254.1h.1M342.6 256.8h.1M338.7 254.7h.1M356.5 254.9h.1M339.7 258h.1M353.9 255.1h.1M355.1 264.9h.1M352.2 259.7h.1M343.2 253.5h.1M341 255h.1M337.6 259.6h.1M337.9 263.2h.1M337.7 249.3h.1M342.4 254.3h.1M347.2 248h.1M351.9 255.8h.1M337.8 253.7h.1M351.9 255.4h.1M339.9 258.4h.1M362.3 250h.1M354.6 252.3h.1M359.4 255.5h.1M348.6 252.6h.1M340.4 252.6h.1M336.1 249.6h.1M347.1 247.2h.1M336 254.1h.1M350.5 260.8h.1M350.5 260.9h.1M340.6 264.3h.1M353.5 258.3h.1M346.9 253.8h.1M348.3 248.4h.1M350.3 255.9h.1M340.7 252.3h.1M345.7 252.9h.1M339.4 249.4h.1M349.5 250h.1M340.8 257.6h.1M354.8 252.4h.1M352.9 253.7h.1M341.7 256.2h.1M345.5 259.1h.1M345.5 250.3h.1M355 261.7h.1M349.4 254.2h.1M347.7 253.1h.1M361 256h.1M347.1 247.7h.1M347.7 252.6h.1M346.2 254.8h.1M348.9 253h.1M339 251.7h.1M355.6 256.2h.1M339.6 254.7h.1M336.4 252.5h.1M352.5 252.2h.1M354.5 253.7h.1M346.8 251.9h.1M341.6 259.1h.1M331.9 256.9h.1M351.7 250.3h.1M340.2 252.9h.1M348.6 250h.1M342.7 256.5h.1M351.9 256.4h.1M341.7 253.9h.1M348.6 254.6h.1M343.3 256.1h.1M344.2 255.1h.1M340.2 259.6h.1M354 254.3h.1M333.9 258.2h.1M350.8 261.7h.1M339.6 249.9h.1M343.5 251.4h.1M352.7 249.3h.1M337.2 252.4h.1M352.7 254.2h.1M343 255.9h.1M351.8 248.1h.1M351.7 254.2h.1M353 253.1h.1M343.8 258.6h.1M348.3 250.6h.1M341.9 255.7h.1M347 259.8h.1M343.7 256.4h.1M351.5 255.8h.1M364.8 249.7h.1M352.5 250.6h.1M339.5 248.1h.1M346 260.2h.1M345.2 254.9h.1M336.8 256h.1M339.1 256.1h.1M349.4 260.4h.1M337.1 253.3h.1M360.4 256.4h.1M334.9 250.7h.1M345.1 259.8h.1M357.2 253h.1M349.2 249.8h.1M352.1 252.4h.1M333.1 245.9h.1M343.4 250.4h.1M336.5 253.6h.1M341.4 252.5h.1M347.2 253.9h.1M340 252.9h.1M352 250.6h.1M339.3 258h.1M346.7 249h.1M342.7 251h.1M339.4 251.8h.1M338.1 256.3h.1M342.1 254.9h.1M355 252h.1M337.6 252.3h.1M348.7 258.3h.1M331.1 259.7h.1M350 254.1h.1M340.5 251.3h.1M343.1 255.5h.1M348.4 260.8h.1M345.2 252.1h.1M348.4 255.8h.1M344.8 250.4h.1M347 254.1h.1M336.5 257.4h.1M342.8 255.6h.1M343.4 251.2h.1M335.8 253.1h.1M348 252.9h.1M347.3 256.3h.1M338.4 250.1h.1M344.9 253.8h.1M348.2 258.5h.1M342.1 258.9h.1M348.9 255.7h.1M349.7 259.1h.1M338 256.3h.1M351.1 256.9h.1M354.8 261.4h.1M340.5 251.3h.1M349.8 257.4h.1M333.4 247.4h.1M330.2 251.6h.1M345.3 254.6h.1M338.4 254.6h.1M351 259.7h.1M356.9 255.1h.1M343.4 260.8h.1M341.2 251.7h.1M349.5 254.5h.1M349.8 252.3h.1M349.3 246.2h.1M339.5 252.8h.1M348.9 254.8h.1M346.5 252h.1M336 251.6h.1M341.9 251.7h.1M351.4 250.7h.1M341.8 252.3h.1M334.1 248.5h.1M349.3 254.9h.1M350.7 244.6h.1M341.9 247.1h.1M344.3 253.1h.1M347.1 255.8h.1M338.8 252.9h.1M346.6 248.6h.1M354.1 253.2h.1M350.2 248.7h.1M345.8 255.6h.1M342.4 260.3h.1M360.2 255.4h.1M333.6 250.4h.1M344.3 256.3h.1M340.4 259.1h.1M339.2 250.2h.1M343.7 257.1h.1M343.2 252.7h.1M354.5 255.7h.1M356.1 256.8h.1M353.3 250.7h.1M349.3 249.1h.1M342.4 263.3h.1M342 260.4h.1M355.8 259.8h.1M349.2 256h.1M333.1 255.4h.1M342 256.6h.1M335.9 253.1h.1M346.1 254.1h.1M351.9 256.3h.1M353.9 256.4h.1M344.7 253.6h.1M345.5 252.6h.1M343.9 260.2h.1M334.8 253.2h.1M341.7 251.6h.1M344.2 254.7h.1M347.1 252.5h.1M348.5 247.6h.1M344.3 249.3h.1M348.4 244.2h.1M334.8 247.8h.1M346.1 258.3h.1M344.8 253.2h.1M357.2 242.2h.1M341.2 251.5h.1M353 259h.1M344.5 248.3h.1M346.4 257.7h.1M347.4 249.7h.1M351 252h.1M335.3 252.3h.1M332.3 256.8h.1M353.6 251.1h.1M350.6 252.8h.1M353.3 250.3h.1M343.2 257.4h.1M354.1 254.7h.1M332.8 248.7h.1M330.9 250.5h.1M329.5 252.1h.1M353.1 252.8h.1M346.4 253.1h.1M348.6 255h.1M342 253.7h.1M338.9 258h.1M348.4 250.6h.1M338.3 255.2h.1M344 259h.1M345.2 256.6h.1M355.9 256.5h.1M352.7 253.1h.1M347.6 250.1h.1M347.3 247.7h.1M333.4 251.3h.1M350.9 251h.1M348.2 259.1h.1M349.3 249.7h.1M344.4 255.9h.1M344.4 254.7h.1M350 261.2h.1M343.9 250.3h.1M340.6 259.3h.1M346.2 248.8h.1M345.6 256.4h.1M341.4 259.6h.1M335.6 251.9h.1M352.6 255.4h.1M333.8 257.9h.1M354.4 251.1h.1M345.9 250.2h.1M345.3 248.4h.1M343.7 253.9h.1M343.2 250.1h.1M339.8 260.6h.1M343.5 254.1h.1M340.8 258.4h.1M350.3 254.3h.1M334.2 262.4h.1M340.5 259.3h.1M341 253.2h.1M356.6 254.3h.1M349 246.2h.1M347.4 255.3h.1M353.8 250.3h.1M341.4 257.3h.1M339.1 257.1h.1M350.3 251.1h.1M343.7 257.9h.1M351.8 249.7h.1M360.2 250.7h.1M347.4 246.7h.1M352.3 251.6h.1M345 251.3h.1M344.4 256.2h.1M347.5 257.3h.1M356.2 252.8h.1M347.5 258h.1M355.2 258.9h.1M345 245.6h.1M341.7 252.6h.1M342.4 253.2h.1M348 260.7h.1M344.2 256.9h.1M341.1 255.2h.1M347.3 251.7h.1M344.5 256h.1M353.3 259.1h.1M341.3 253.6h.1M356 250.2h.1M352.5 257.8h.1M353.6 248.2h.1M350.9 252.9h.1M357 257.7h.1M347.4 250.6h.1M342.4 253.4h.1M335.3 249h.1M352.2 260.4h.1M352.6 253.9h.1M348.9 256.2h.1M345.6 251.9h.1M350.2 261.5h.1M348.7 259.5h.1M339.7 254.5h.1M354.8 256.1h.1M345.7 247.7h.1M344.9 255.1h.1M348.6 259h.1M357.3 252.2h.1M342.6 253h.1M345.1 252.7h.1M343.3 255.9h.1M340.1 254.9h.1M334.4 247.7h.1M350.5 256.9h.1M342 252.5h.1M348.9 253.9h.1M356.9 252.5h.1M347.2 251.8h.1M346.4 254.8h.1M341.5 249.4h.1M346.9 248.8h.1M338.3 253.3h.1M335.8 258.5h.1M340.4 252.7h.1M346.2 253.1h.1M343.2 253.3h.1M344.5 254.3h.1M341.1 252.4h.1M340.1 259.8h.1M349.7 255.3h.1M351.8 254.4h.1M352.8 255.5h.1M350.9 256.9h.1M345.4 258.5h.1M328.5 253.6h.1M344.7 254.7h.1M351.9 255.3h.1M335.8 251.9h.1M333.9 251.8h.1M346.6 253.6h.1M342.1 255.6h.1M341.7 253.9h.1M352.1 245h.1M346.9 249.6h.1M343.1 254.7h.1M341.4 252.5h.1M341.4 254h.1M351.2 252.2h.1M345.8 258.1h.1M353.6 255.8h.1M333.6 257h.1M350.1 249.6h.1M345.7 258.3h.1M345.8 251.6h.1M350.6 261.3h.1M339 252.6h.1M344.4 253.5h.1M345.2 247.1h.1M349.9 255h.1M346.2 250.7h.1M345.8 251.6h.1M334.9 257.2h.1M344 262.5h.1M345 252h.1M348.7 249.4h.1M334.4 245.8h.1M348.6 251.7h.1M352.1 255.4h.1M349.7 248.9h.1M347.9 250.3h.1M347.6 259.4h.1M344 258.4h.1M335.4 258.6h.1M342.3 250.2h.1M346.7 251.1h.1M341.5 250h.1M349.9 252.8h.1M349.9 253h.1M335.6 255.8h.1M349.4 256.7h.1M357.1 256.3h.1M340.4 257.2h.1M349.2 257.8h.1M352 252.9h.1M338.1 253h.1M347.9 251.5h.1M351.5 262.1h.1M342.2 253.7h.1M348.9 250.9h.1M347.9 251h.1M351.7 252.7h.1M340.6 254.1h.1M349.6 253.7h.1M358.1 254.4h.1M335.9 260.5h.1M350.2 251.6h.1M358 254.6h.1M349.9 259.3h.1M350.6 249.1h.1M350.1 250.3h.1M341.2 258.4h.1M335.1 250.9h.1M350.3 263.6h.1M337.1 257.8h.1M353.6 253.4h.1M364.2 248.1h.1M339.2 251.6h.1M336.6 253.8h.1M346.4 265h.1M335.4 254.6h.1M333.7 251.9h.1M337.9 252.2h.1M343.3 246.8h.1M362 254.7h.1M354.2 247h.1M357 248.9h.1M355.5 250.7h.1M334.8 263.8h.1M353 252.1h.1M337.3 258.3h.1M359.5 254.5h.1M342.8 257.2h.1M338.6 253h.1M350.9 258h.1M349.4 263.7h.1M351.4 253.1h.1M341.1 261.2h.1M349.4 253.5h.1M332 258.7h.1M350.6 247h.1M331 257.1h.1M348.9 248.5h.1M349.7 249.1h.1M356.8 254.1h.1M336.5 255.6h.1M343.2 260.7h.1M354.3 257.2h.1M354.4 251.8h.1M340.7 246.3h.1M350.9 247.4h.1M360.7 242.6h.1M339 256h.1M351.3 253.1h.1M351.3 254.3h.1M345.1 256.4h.1M349.5 265.5h.1M361.1 251.5h.1M350.9 255.3h.1M348.4 256.7h.1M345.3 258.1h.1M342.9 252.2h.1M334.3 261.5h.1M335.9 249.9h.1M331.5 253.9h.1M343.7 242.7h.1M336.6 254.6h.1M329.6 252.5h.1M357.4 251.2h.1M344 249.1h.1M355.7 256.6h.1M359.7 258.4h.1M345.7 250h.1M322.4 257.3h.1M350.9 257.1h.1M345.6 261.7h.1M331.1 250.3h.1M321.1 249.7h.1M356.9 253.5h.1M357 250h.1M359.2 253.8h.1M360.8 249.2h.1M358.4 254.1h.1M351.5 260.2h.1M350.2 254.1h.1M356.5 256.3h.1M351.9 258.3h.1M348 258.5h.1M352.9 255.9h.1M341.6 243.9h.1M338.5 246.7h.1M366.4 262.3h.1M369 248.8h.1M359.2 252.6h.1M338.8 259.8h.1M342.8 248.1h.1M356.6 240.8h.1M351.7 248.1h.1M345.2 258.3h.1M364.4 259.3h.1M347.5 257.2h.1M346.9 260.9h.1M340.3 241.8h.1M356.4 242.2h.1M329.9 252.3h.1M347.2 242.1h.1M354 259h.1M362.8 240.9h.1M353.3 253.4h.1M335 246.9h.1M355 256.7h.1M354.6 265.5h.1M347.8 253.6h.1M341 237.9h.1M334.3 248.9h.1M343.4 248.2h.1M348.9 253.4h.1M374.6 262.2h.1M352 250.4h.1M348.4 248.8h.1M329.6 244.4h.1M334.8 243.3h.1M340.6 245.1h.1M345.3 252h.1M345.4 256.8h.1M357.4 254.2h.1M362.1 249.7h.1M359.4 255.2h.1M340 248.8h.1M342.2 259.3h.1M338.3 245.1h.1M331.8 242.9h.1M333.5 253.7h.1M350.7 249.1h.1M338.5 261.3h.1M353 249.3h.1M343.9 255.2h.1M341.6 255.1h.1M347.2 260.6h.1M347.6 261.1h.1M375.5 245.1h.1M339.8 241h.1M349.8 248.4h.1M332.9 256.8h.1M342.7 258.2h.1M361.3 249.4h.1M352.7 264.8h.1M365.6 252.4h.1M329.6 261.6h.1M338 252.8h.1M348.1 244.7h.1M336 250h.1M339.8 258.7h.1M332.9 259.7h.1M353.5 254.2h.1M345.7 255.2h.1M333.5 257.6h.1" stroke="#000" stroke-width="0.85" stroke-opacity="0.62" stroke-linecap="square" fill="none"/>
<path d="M302.6 253.6h.1M296.2 251.9h.1M289.6 248.6h.1M299.3 260.4h.1M297.6 253.1h.1M295.2 253.1h.1M300.9 253h.1M296.4 251.2h.1M306.7 250.2h.1M305.4 262h.1M295.1 249.2h.1M310 251.2h.1M298.5 247.6h.1M287.1 251.8h.1M289.1 254.2h.1M295.3 251.4h.1M303.2 259h.1M294.4 256.6h.1M307.5 250.7h.1M315.4 249.4h.1M291.9 260h.1M300 251.5h.1M292.4 252.2h.1M308.7 257.8h.1M305.4 253.1h.1M295.8 253.9h.1M299.8 253.2h.1M300.9 253.3h.1M294.1 251.1h.1M292.3 256.4h.1M312.8 253.7h.1M303.2 254.3h.1M301.8 251.9h.1M310.2 248.9h.1M293.6 256.9h.1M305.8 254.1h.1M297.5 250.6h.1M293.5 246.2h.1M300 252.6h.1M292.1 256.8h.1M291.3 254.6h.1M303.9 251.7h.1M299.7 252.3h.1M295 251.6h.1M303.3 252.4h.1M307.3 247.5h.1M299.7 249.4h.1M303.6 252.9h.1M297.5 253.1h.1M307.7 255.9h.1M306.8 254.3h.1M301.1 253.4h.1M306.2 248.3h.1M298.3 255.6h.1M310.4 246.9h.1M307.3 250.9h.1M297.9 253.4h.1M308.3 249.6h.1M301.1 256.8h.1M297.6 257.2h.1M300.7 248.9h.1M295.2 249.1h.1M303.4 253.9h.1M298.3 252.8h.1M299.4 260.9h.1M314.1 255.7h.1M295.9 247.7h.1M308.9 248.6h.1M292.9 249.6h.1M289.2 248h.1M308.9 248.3h.1M311.7 259.3h.1M295.9 254.4h.1M301 256.5h.1M296 255.4h.1M292 253h.1M303.2 250.6h.1M303.9 256.5h.1M299.2 259.3h.1M290.9 246.6h.1M300.1 257.9h.1M294.4 255.2h.1M294.6 249.8h.1M300.4 248.3h.1M299 252.9h.1M288.3 251.7h.1M304.5 255.1h.1M295.4 252.5h.1M296.1 248.2h.1M290.1 253.3h.1M293 251h.1M287.3 257h.1M297.4 257.1h.1M292.4 254.4h.1M295.1 256.9h.1M307 252.9h.1M293 252.3h.1M305 260.9h.1M291.8 246.3h.1M298 256.7h.1M298.9 258h.1M302.6 250.5h.1M291.2 253.5h.1M300.9 255h.1M299.4 251.2h.1M293.1 251.7h.1M296.4 257.5h.1M302 250.2h.1M300.3 248.7h.1M303.4 248h.1M292.2 254.9h.1M298.7 258.8h.1M298.9 259.8h.1M295.6 245.3h.1M306.9 250.4h.1M303 255.5h.1M301.3 255.1h.1M310.9 252.7h.1M294.7 257.5h.1M297.1 256.5h.1M305 251.9h.1M297.5 246h.1M291.2 252.2h.1M301.7 255.8h.1M303 255.2h.1M288.2 256.4h.1M302.6 255.1h.1M293.3 245.1h.1M297.9 248.4h.1M299.3 259.1h.1M308.6 256.6h.1M300.3 257.1h.1M306.3 257.3h.1M296.2 252.4h.1M300.4 257h.1M293.5 250.2h.1M308 255.5h.1M298.4 253h.1M293.9 248h.1M305.7 246.3h.1M304.1 248.6h.1M301.8 254.9h.1M300.8 253.7h.1M300.7 252.4h.1M300.6 252.6h.1M298.1 253.3h.1M295.5 259.5h.1M301.1 251.7h.1M295.3 249.3h.1M309.1 252.3h.1M298.7 249.4h.1M297.8 256.1h.1M295.4 254h.1M297.3 256.4h.1M293.3 249.9h.1M292.3 251.8h.1M297.2 248.9h.1M303.9 253.4h.1M301.3 248.7h.1M306.1 249.1h.1M306 257h.1M297.4 256.9h.1M302.6 255.2h.1M298.9 254.8h.1M302.9 251.8h.1M303.4 252.1h.1M296.7 253.3h.1M287.6 256.7h.1M292.7 245.6h.1M287.1 257h.1M300.4 256.8h.1M295.1 253h.1M301.4 253.9h.1M287 253.7h.1M305.2 249.7h.1M295.7 258.7h.1M292.1 245.6h.1M297.2 250.4h.1M307.8 253.2h.1M296.8 250.5h.1M307.2 246.3h.1M302.3 256.9h.1M296.8 243.1h.1M303.6 256.1h.1M289.4 252.3h.1M287.5 254.1h.1M292.5 255.1h.1M305.6 247.9h.1M292.2 250.4h.1M295.2 243.4h.1M290.6 244.9h.1M297.8 253.8h.1M293.2 260.9h.1M302.2 254h.1M291.6 250.5h.1M297.1 256.1h.1M303.9 254.9h.1M290.5 257.3h.1M289 258.3h.1M289.4 255.9h.1M304.7 246.9h.1M298 251.2h.1M303.8 251.4h.1M293.8 251.3h.1M297.8 254.7h.1M304.7 253.5h.1M299.9 250.5h.1M307.5 255.9h.1M296.2 253.5h.1M288.2 254.5h.1M290.2 251.6h.1M295.8 255.3h.1M291 258.3h.1M288.8 247.2h.1M293.1 253.7h.1M297.3 254.5h.1M296.4 258h.1M301.4 260.6h.1M307.7 253.1h.1M296.2 250.3h.1M310 260.5h.1M293.4 256.6h.1M293 254.5h.1M293.3 257.6h.1M290.2 249.2h.1M306.2 256.3h.1M300 253.7h.1M300 249.2h.1M298.6 255.1h.1M296.4 262.7h.1M302 247.5h.1M306.8 259h.1M294.9 254.6h.1M298.4 255.8h.1M305.8 251.7h.1M304.1 253.7h.1M290.7 251.2h.1M294.5 251.2h.1M304.6 257.2h.1M302.5 257.8h.1M297.8 246.2h.1M294.4 247.9h.1M292.6 251.1h.1M298 243.4h.1M302.7 250h.1M305.2 250.3h.1M299.5 256h.1M298.7 257.8h.1M305.4 252.3h.1M294.1 256.7h.1M296.8 242.6h.1M299.2 250.6h.1M295.5 250.2h.1M303.5 254.8h.1M295.7 252.4h.1M295.3 258.3h.1M315.7 251.7h.1M292 252.6h.1M303.6 247.4h.1M299.8 258.1h.1M291.9 248.3h.1M300.4 259.6h.1M288.8 253.4h.1M288.8 260.6h.1M299.9 256.7h.1M292 250.4h.1M292 250.1h.1M298.9 253.3h.1M299.7 250.6h.1M292.7 250.2h.1M295.8 255.7h.1M289.1 252.3h.1M289.5 252h.1M317.2 261h.1M299.3 253.7h.1M296.3 251.5h.1M310.7 254.6h.1M306.4 256.3h.1M296.6 253.6h.1M302.8 248h.1M292.1 253.8h.1M293.2 260.5h.1M302.2 253.1h.1M294.3 253.1h.1M294.7 248.9h.1M288.2 250.6h.1M295 251.9h.1M294.6 249.2h.1M297.3 255.3h.1M303.9 250.8h.1M294.4 247.8h.1M302.8 242.5h.1M290.8 259.3h.1M293.9 256.4h.1M303.3 253.7h.1M314.4 249.4h.1M308.1 251.1h.1M300.1 259.3h.1M296.1 254.8h.1M287.2 257.4h.1M304.7 248.8h.1M313 251.9h.1M299.6 248.1h.1M296.2 254.5h.1M296.8 253.4h.1M304.4 251.5h.1M300.3 249.2h.1M300.4 254.9h.1M299 249.4h.1M300.5 253.8h.1M303.7 247.3h.1M312.1 249.3h.1M291.4 250.5h.1M295.8 257h.1M303.9 259.4h.1M293.2 253.9h.1M297.9 253.9h.1M292.2 259.3h.1M306 247.2h.1M307.5 252.3h.1M306.1 255h.1M308.3 257.6h.1M306.4 250.8h.1M295.9 249.5h.1M288.9 252.5h.1M301.8 249.9h.1M313.6 248h.1M301.3 247.3h.1M308.5 250.2h.1M304.4 255.7h.1M300.8 254.6h.1M288.4 253.9h.1M298.5 254.7h.1M306.5 250.9h.1M296.5 257.7h.1M296.9 248.5h.1M289.7 250.3h.1M291.7 245.4h.1M305.1 259.4h.1M308.6 252.9h.1M303 250.2h.1M299.8 252.4h.1M293.3 249.4h.1M297.6 250.4h.1M310.5 244.4h.1M296.2 257.3h.1M301.5 257.2h.1M292.8 254h.1M296.4 254.3h.1M296.1 255h.1M301.2 256.3h.1M295.5 252.1h.1M302 256.9h.1M294.9 254h.1M300.1 255.9h.1M298.3 255.9h.1M298.5 250.9h.1M287.3 252h.1M303.8 252h.1M309.8 252.6h.1M294.4 257.5h.1M291.1 253.3h.1M300.8 255.6h.1M313.2 255.1h.1M294.8 256.3h.1M289.2 261.9h.1M297 252.8h.1M289.1 249.6h.1M296.2 250.1h.1M287.6 252.7h.1M288 256.9h.1M310.5 250.5h.1M300.4 253.9h.1M292.2 252.1h.1M292.8 248.2h.1M309.2 247.5h.1M293.2 248.3h.1M304.2 251.6h.1M300.4 254.6h.1M304.5 251.1h.1M301.2 259.4h.1M290.9 251.9h.1M289.3 251.5h.1M297.4 248.8h.1M295.1 253.1h.1M304.3 254.4h.1M294 256.3h.1M294.9 253h.1M311.6 252.7h.1M295.7 249.4h.1M303.2 248.1h.1M309.6 248.4h.1M299.4 250.5h.1M309.2 257.4h.1M294.3 254.6h.1M300 256.1h.1M294.9 255.7h.1M299.2 258.6h.1M310.9 253h.1M314 251.8h.1M306.4 249.5h.1M290.8 251.5h.1M294.9 254.1h.1M300.9 254.9h.1M306.3 258h.1M295.1 248.7h.1M294 251.1h.1M299 255.6h.1M307.9 252.9h.1M293.6 256.1h.1M309 246.8h.1M298.3 255h.1M293.2 252.5h.1M295.8 253.1h.1M292.7 255.8h.1M299.3 251.9h.1M295 247.7h.1M291 250.9h.1M299.2 248.6h.1M292.5 260.5h.1M296.7 245.8h.1M304.6 254.5h.1M304.2 247.9h.1M297.6 254.9h.1M298 250h.1M297 246.6h.1M293.2 255.9h.1M294.8 258.9h.1M303.3 259.7h.1M306.8 261.2h.1M294 253.8h.1M290.9 255.1h.1M287.1 254.1h.1M300.5 253h.1M301.9 250.5h.1M292.5 252.2h.1M305.4 253.6h.1M305 249.1h.1M296 250.5h.1M294.7 249.5h.1M294 254.1h.1M298 253.1h.1M295.5 255.4h.1M299.4 248h.1M305.1 251.1h.1M307.9 260.1h.1M300.6 252.5h.1M298.8 246.4h.1M299.4 251.3h.1M295.3 253.2h.1M295.5 253.5h.1M298.5 253.3h.1M287.7 255.6h.1M288.6 256.7h.1M301.4 247.7h.1M300.8 248.1h.1M289.6 253.2h.1M288.7 253.5h.1M297 255.4h.1M290.2 249h.1M299.8 252.4h.1M302.2 250.7h.1M287.6 254.5h.1M297.8 251.1h.1M293 260h.1M303.5 253.6h.1M305.6 253.8h.1M295.5 258.2h.1M297.7 251.2h.1M293.2 248.5h.1M298.9 254h.1M304.6 251.7h.1M303.5 255.2h.1M296.6 256.7h.1M287 253.5h.1M303 251.3h.1M296.2 252.1h.1M299 247.1h.1M293.8 259.1h.1M291.2 256.6h.1M300.2 256.2h.1M287.4 249.6h.1M304 260.8h.1M299.7 262h.1M302.8 252.9h.1M301.3 246.2h.1M306.8 254.8h.1M296.5 249.1h.1M302.6 251.9h.1M300.8 257.9h.1M300.4 251.5h.1M297.3 255.8h.1M287.3 254.8h.1M305 255.9h.1M310 255.8h.1M300.3 253.3h.1M305.4 252.2h.1M295 252.5h.1M311.9 256.4h.1M297.5 250.1h.1M290.4 250.8h.1M301 247.8h.1M290.2 252.2h.1M303.4 249.6h.1M302.7 254.5h.1M295.8 250.3h.1M301.4 254.8h.1M287.6 252.2h.1M303.5 253.8h.1M296.8 248.2h.1M290.8 253.5h.1M299 247.7h.1M295.6 253h.1M299.2 246.1h.1M303.6 252.7h.1M300.5 252.8h.1M296.6 255.7h.1M296.3 253.4h.1M297 255.3h.1M304.5 255.2h.1M301.8 251.2h.1M299.8 243.1h.1M293.3 258.5h.1M297.4 247.6h.1M307.9 252.4h.1M299 252.7h.1M293 249.5h.1M300.2 250.2h.1M301.2 256.4h.1M300.7 251.2h.1M316.6 254.1h.1M299.6 250.3h.1M287.5 249.9h.1M305.8 257.5h.1M291.3 248.8h.1M311.7 252.9h.1M302 253.9h.1M296.4 252.6h.1M297.8 262.7h.1M299.3 250h.1M306.7 253.4h.1M303.6 248.7h.1M299.2 253.4h.1M290 244h.1M299.1 248.8h.1M303.9 248h.1" stroke="#000" stroke-width="0.85" stroke-opacity="0.5" stroke-linecap="square" fill="none"/>
<path d="M388 255.7h.1M384.1 257.2h.1M375.7 257.1h.1M386.1 256.5h.1M382.4 255.9h.1M384.7 252.6h.1M388.5 257.3h.1M386.7 259.7h.1M387.3 250.1h.1M383.1 255.8h.1M383.7 250.7h.1M387.3 247.3h.1M382.6 254.4h.1M385.4 255.8h.1M387.5 255.3h.1M387 254.4h.1M383.1 256.3h.1M385.7 257.8h.1M384.1 250.3h.1M383.2 249.5h.1M388 254.8h.1M386 258.7h.1M388.5 259.6h.1M386 252.3h.1M386.5 258.7h.1M384.8 255.8h.1M386.2 255.3h.1M384.8 252h.1M384.5 253.1h.1M386.7 251.2h.1M388.7 254.4h.1M383.6 258.8h.1M385.4 254.1h.1M384.3 248.5h.1M380.7 258.7h.1M385 254h.1M381.8 258.5h.1M380.2 252.4h.1M385.9 256.1h.1M383.9 260.4h.1M385.6 257.8h.1M385.4 259.6h.1M388.5 255.7h.1M290.8 235.9h.1M342 247.9h.1M352.2 261.5h.1M322.4 253.5h.1M298.7 238.4h.1M346.3 244.3h.1M315.3 258.8h.1M368.3 252.1h.1M334.6 240.7h.1M342.3 247.3h.1M328.2 260.8h.1M292.7 240.9h.1M354.8 259.2h.1M384.2 253.2h.1M321.5 251.9h.1" stroke="#000" stroke-width="0.85" stroke-opacity="0.25" stroke-linecap="square" fill="none"/>
<rect x="323" y="237.3" width="42" height="29.2" fill="none" stroke="#444" stroke-width="0.8"/>
<path d="M286.3 162.2V266.5H387.8" stroke="#222" stroke-width=".8" fill="none"/>
<text x="297.3" y="275.2" font-size="5" text-anchor="middle" stroke="#000" stroke-width=".15">0</text>
<text x="282" y="257.2" font-size="5" text-anchor="end" stroke="#000" stroke-width=".15">0</text>
<text x="308.3" y="275.2" font-size="5" text-anchor="middle" stroke="#000" stroke-width=".15">10<tspan dy="-1.7" font-size="3.4">2</tspan></text>
<text x="282" y="245.7" font-size="5" text-anchor="end" stroke="#000" stroke-width=".15">10<tspan dy="-1.7" font-size="3.4">2</tspan></text>
<text x="333.1" y="275.2" font-size="5" text-anchor="middle" stroke="#000" stroke-width=".15">10<tspan dy="-1.7" font-size="3.4">3</tspan></text>
<text x="282" y="220.5" font-size="5" text-anchor="end" stroke="#000" stroke-width=".15">10<tspan dy="-1.7" font-size="3.4">3</tspan></text>
<text x="357.3" y="275.2" font-size="5" text-anchor="middle" stroke="#000" stroke-width=".15">10<tspan dy="-1.7" font-size="3.4">4</tspan></text>
<text x="282" y="196.5" font-size="5" text-anchor="end" stroke="#000" stroke-width=".15">10<tspan dy="-1.7" font-size="3.4">4</tspan></text>
<text x="381" y="275.2" font-size="5" text-anchor="middle" stroke="#000" stroke-width=".15">10<tspan dy="-1.7" font-size="3.4">5</tspan></text>
<text x="282" y="173" font-size="5" text-anchor="end" stroke="#000" stroke-width=".15">10<tspan dy="-1.7" font-size="3.4">5</tspan></text>
<path d="M308.3 266.5v1.6M286.3 244.2h-1.6M315.8 266.5v1M286.3 236.6h-1M320.1 266.5v1M286.3 232.2h-1M323.2 266.5v1M286.3 229h-1M325.6 266.5v1M286.3 226.6h-1M327.6 266.5v1M286.3 224.6h-1M329.3 266.5v1M286.3 222.9h-1M330.7 266.5v1M286.3 221.4h-1M332 266.5v1M286.3 220.2h-1M333.1 266.5v1.6M286.3 219h-1.6M340.4 266.5v1M286.3 211.8h-1M344.6 266.5v1M286.3 207.5h-1M347.7 266.5v1M286.3 204.6h-1M350 266.5v1M286.3 202.2h-1M351.9 266.5v1M286.3 200.3h-1M353.6 266.5v1M286.3 198.7h-1M355 266.5v1M286.3 197.3h-1M356.2 266.5v1M286.3 196.1h-1M357.3 266.5v1.6M286.3 195h-1.6M364.4 266.5v1M286.3 187.9h-1M368.6 266.5v1M286.3 183.8h-1M371.6 266.5v1M286.3 180.9h-1M373.9 266.5v1M286.3 178.6h-1M375.7 266.5v1M286.3 176.7h-1M377.3 266.5v1M286.3 175.1h-1M378.7 266.5v1M286.3 173.8h-1M379.9 266.5v1M286.3 172.6h-1M381 266.5v1.6M286.3 171.5h-1.6M288.8 266.5v1M286.3 264h-1M290.8 266.5v1M286.3 262h-1M292.8 266.5v1M286.3 260h-1M294.8 266.5v1M286.3 258h-1M299.8 266.5v1M286.3 253h-1M302.3 266.5v1M286.3 250.5h-1M304.3 266.5v1M286.3 248.5h-1M306.3 266.5v1M286.3 246.5h-1M388.1 266.5v1M286.3 164.4h-1M392.2 266.5v1" stroke="#333" stroke-width=".6" fill="none"/>
<path d="M297.3 266.5v2M286.3 255.7h-2" stroke="#000" stroke-width="1.3" fill="none"/>
<text x="340" y="286.1" font-size="6.6" text-anchor="middle" fill="#111">&lt;PE-A&gt;:CD41</text>
<text x="272.6" y="209.1" font-size="7.2" text-anchor="middle" transform="rotate(-90 272.6 209.1)" fill="#111">Hoechst-A</text>
<g filter="url(#b1)"><ellipse cx="465" cy="207" rx="9" ry="4" transform="rotate(-22 465 207)" fill="#000" fill-opacity=".6"/></g>
<path d="M452 210.1h.1M455.8 215.6h.1M473.6 203.4h.1M451.7 209.1h.1M467.9 202.9h.1M455.7 217.9h.1M449.6 217.2h.1M455 213.1h.1M468.3 202.8h.1M473.1 192.8h.1M458.6 212.1h.1M441.8 203.7h.1M483.4 205.9h.1M473.4 212h.1M477.5 206.7h.1M452.2 209.1h.1M471.7 206.8h.1M453.7 207.7h.1M474.2 198.4h.1M460.9 207.1h.1M458.4 211.8h.1M460 225.4h.1M472.8 205.4h.1M457.3 213.1h.1M452.6 205.7h.1M462 210h.1M463.3 212.6h.1M457.8 215.2h.1M478.5 203.7h.1M472.3 200h.1M476.5 212.5h.1M447.4 216.9h.1M452 222.5h.1M451.5 216.2h.1M465.6 214.2h.1M460.4 200h.1M471.6 199.7h.1M463.3 210.1h.1M484.8 203.8h.1M461.3 204.1h.1M474 193.7h.1M461.1 217.1h.1M451 207.7h.1M467.9 212.1h.1M472.1 215.9h.1M464.6 205h.1M467 200.3h.1M470.1 204.3h.1M468 212.3h.1M458.5 201.6h.1M475.4 204.7h.1M457.7 203.4h.1M460.4 200.9h.1M460.1 202.1h.1M449 211.6h.1M461.9 200.6h.1M456.5 210.9h.1M459.2 202.6h.1M459 203.1h.1M463.2 198.6h.1M477.5 204.7h.1M470.9 200h.1M466.6 206.4h.1M476.4 206.5h.1M452.3 212.7h.1M471 203.3h.1M477 199h.1M452.9 204.9h.1M471.8 207.5h.1M456.1 210.1h.1M456.8 199.2h.1M463.3 203.4h.1M467 212.9h.1M463.4 209.9h.1M451.7 214h.1M461.4 213.9h.1M466.9 196h.1M463 205.4h.1M465.6 204.1h.1M446.7 213.8h.1M458.9 213.9h.1M477.2 200h.1M474.7 195.2h.1M463.1 204.9h.1M450.9 209.4h.1M466.6 219.1h.1M476.6 208.5h.1M466.5 213.3h.1M474.5 212.7h.1M452.8 213.3h.1M468.8 211.4h.1M470.6 209.1h.1M460.5 211.5h.1M456.1 204.7h.1M479.4 212.2h.1M463 208.9h.1M461.6 208h.1M463 212.8h.1M465.4 209.6h.1M455.7 218.1h.1M459.1 206.3h.1M473.7 191.1h.1M458.3 201.5h.1M472.1 203.9h.1M467.9 208.6h.1M467.3 216.5h.1M469.6 201.9h.1M471.4 205.1h.1M469.3 200.2h.1M460.8 212h.1M467 213.2h.1M473.2 210.1h.1M459 205.9h.1M480.7 194.9h.1M448.4 208.3h.1M455.6 212.3h.1M451.7 202.9h.1M471.7 212.9h.1M462.2 213.8h.1M474.1 208.9h.1M460.3 206.4h.1M459.9 211.7h.1M462.5 218.1h.1M466.5 207.9h.1M478.9 207h.1M462.5 210.8h.1M470.7 215.2h.1M458.2 208.4h.1M456.2 196.1h.1M470.2 207.9h.1M470.2 202.7h.1M454.3 203.3h.1M457.7 206.9h.1M475.3 198.3h.1M452.9 214h.1M469.5 208.4h.1M455.1 205.4h.1M468 200.3h.1M481.4 206.7h.1M455.8 204.6h.1M470.5 209.5h.1M454.2 209.8h.1M466.3 200.9h.1M468.9 207.1h.1M464.6 205.7h.1M464.8 191.2h.1M466.3 206.4h.1M465.4 198.9h.1M461.8 202.4h.1M435.3 202.6h.1M454.1 218.9h.1M466.5 207.1h.1M466.4 201.7h.1M465.7 209.8h.1M476.2 202.9h.1M461.4 206.6h.1M457.8 205h.1M460 207.8h.1M475.2 204.7h.1M472.4 208.8h.1M482.6 197.8h.1M472.2 204.2h.1M478.4 204.9h.1M459.9 214.1h.1M477.2 204.8h.1M460.6 206.3h.1M467.7 207.3h.1M465.6 206.7h.1M469.3 212.2h.1M462.6 203.1h.1M464 210.7h.1M458.2 211.2h.1M464.4 206.4h.1M476.3 204.1h.1M470.6 201.8h.1M455.8 203.4h.1M483.2 209.5h.1M465.6 213.7h.1M450.4 212.3h.1M458.2 218.7h.1M448.5 219.3h.1M469.5 200.8h.1M466.2 209.9h.1M461 208.8h.1M465.1 204.2h.1M464.5 205.7h.1M480 202.6h.1M458.4 213.3h.1M465.2 208.7h.1M462.5 207.1h.1M475.1 195.9h.1M454.2 207.9h.1M467.7 209.3h.1M469.4 204.5h.1M457.9 208.4h.1M462.9 205.4h.1M459.8 209.4h.1M474.5 197.1h.1M457.5 207.5h.1M472.5 195.7h.1M465.4 216.7h.1M453.8 213.5h.1M464.3 203.7h.1M454.8 211.6h.1M456.8 214.6h.1M474.8 214.7h.1M471.7 209.6h.1M478.2 195.3h.1M464.8 209.7h.1M464.4 213.7h.1M458.9 210.8h.1M470.2 196h.1M457 202.8h.1M467.6 218.9h.1M466.8 208.6h.1M446.4 209h.1M460.5 202.1h.1M462.4 198h.1M467.5 202.7h.1M455.9 206.5h.1M466.4 201.6h.1M445.5 224.1h.1M464 217.8h.1M465.9 204.4h.1M467.6 193.2h.1M475.4 194.2h.1M471.1 206.9h.1M466.1 214.2h.1M468 199h.1M478 199.1h.1M466.8 205.4h.1M474.3 208.7h.1M475.1 204.6h.1M454.3 210.2h.1M458.9 203.2h.1M466.5 210.8h.1M455.2 212.6h.1M459.9 202.7h.1M472.8 194.1h.1M470.4 216.6h.1M459.8 198.3h.1M461.9 210.1h.1M466.4 202h.1M462 203.8h.1M455.2 210.1h.1M471.1 213.4h.1M453 214.1h.1M455.2 208.1h.1M477.7 210.3h.1M461.7 201.2h.1M471.9 209.3h.1M465 213h.1M452.1 211.9h.1M464.7 208.1h.1M450.3 216.7h.1M488.7 207.6h.1M453.8 217.7h.1M467.7 202.9h.1M461.8 206.2h.1M451.9 208.3h.1M469.4 198h.1M460.8 205h.1M454.1 205.8h.1M440.9 210.8h.1M462.5 210.9h.1M481 202.2h.1M477.1 203.8h.1M452.2 215.1h.1M475.9 206.1h.1M466.5 207h.1M469.5 208.4h.1M471.4 195.9h.1M453.6 211.6h.1M457.9 208.4h.1M482.1 205.5h.1M461.1 208.4h.1M459.5 202.8h.1M455.3 218h.1M462.7 205.6h.1M472.9 207.6h.1M481.7 204.1h.1M472.4 207.7h.1M466 211.5h.1M460.5 204.1h.1M470 197.6h.1M463.8 206.3h.1M458.2 199h.1M449.7 219.2h.1M458.2 211.3h.1M462.1 206.5h.1M460.5 203.3h.1M460.3 199.7h.1M477.1 210.2h.1M446.2 217.6h.1M465.9 201.4h.1M461.7 203.3h.1M451.6 219.7h.1M467.7 207.4h.1M463.3 206h.1M449.5 215.3h.1M465.1 207.2h.1M465.7 199.9h.1M464.7 215.9h.1M471.3 210h.1M458.9 210.3h.1M461.8 197.8h.1M465.7 210.5h.1M468.3 203h.1M455.7 213.6h.1M486.5 200.8h.1M448.9 205.6h.1M478.1 204h.1M465.1 205.1h.1M463.4 202.6h.1M475.6 206.4h.1M457.6 208.7h.1M454.7 218h.1M475.2 205.5h.1M479.9 194.2h.1M488 198.6h.1M468.7 200.2h.1M443.5 217.9h.1M469.3 205.1h.1M474.9 209.5h.1M467.6 204.5h.1M469 198.6h.1M472.7 201.2h.1M469.3 200.7h.1M459.2 196.6h.1M451.3 207.3h.1M461.6 215.2h.1M467.9 197.3h.1M476.6 204.7h.1M476.1 198.4h.1M470.2 207.9h.1M456.7 210.9h.1M469.8 203h.1M452.2 202.8h.1M468.1 198.8h.1M454.9 206.9h.1M475.5 213.1h.1M474.2 212.1h.1M457 201.7h.1M469.4 205.4h.1M467.1 197.4h.1M461.3 206.1h.1M469.6 213.5h.1M466.5 211.5h.1M450.8 214.5h.1M457.5 199.7h.1M484.8 193.9h.1M467.5 199.7h.1M453.6 223.7h.1M468.5 204.8h.1M472.7 210.7h.1M467.8 207.7h.1M471.2 203.5h.1M473.7 199.8h.1M486 206.7h.1M477.6 201.1h.1M468.1 208.1h.1M450.3 213.3h.1M448.8 209.1h.1M473.3 207.3h.1M466.1 201.4h.1M465.3 207.6h.1M475.7 197h.1M451.4 201.5h.1M456.6 216.2h.1M460.2 213.8h.1M466.9 206.8h.1M452.3 202.6h.1M463.1 200.9h.1M462.9 209.5h.1M460.8 200.3h.1M468.6 222h.1M449.4 207.3h.1M469.7 202.2h.1M475.5 209.7h.1M451.1 217.7h.1M461.3 211.8h.1M470.3 209.2h.1M468.7 211h.1M451.4 213.3h.1M464.1 205h.1M458.1 209h.1M476.9 203.8h.1M472 206.4h.1M480.1 207.1h.1M459.5 212.6h.1M472.4 209.5h.1M458.1 207.7h.1M469.6 201.5h.1M462.5 204.3h.1M455.6 209.8h.1M456.2 202.7h.1M461.9 204.4h.1M472.8 206.2h.1M451.8 209.4h.1M484.4 192.7h.1M466 199.2h.1M464.6 201.7h.1M466 201.2h.1M464.6 216h.1M467.1 214.2h.1M480.3 210.8h.1M451.8 210.3h.1M466.2 200.9h.1M472.2 200.1h.1M473.8 196.1h.1M451 213h.1M466.6 201.9h.1M450.9 217.4h.1M458.5 204.3h.1M466.3 207.3h.1M459.9 193.1h.1M461.7 206.3h.1M470.1 204.2h.1M472.8 203.9h.1M465.9 203.5h.1M458.1 209.7h.1M461.7 208.5h.1M468.4 205.9h.1M473.6 211.3h.1M465.6 204.8h.1M455.6 215.5h.1M463.2 215.5h.1M468.8 211.2h.1M454 214.6h.1M463.5 210.5h.1M463.4 214.9h.1M475 210.5h.1M473.4 200.7h.1M456 210.2h.1M480.5 209.4h.1M479.8 203.6h.1M458.5 203.2h.1M463.7 208.6h.1M461.4 213h.1M459.5 212.4h.1M451.9 212.9h.1M440.9 216.1h.1M465.6 205.3h.1M477 195.9h.1M455.4 213.9h.1M470.8 206.9h.1M457.6 206.1h.1M464.6 203.1h.1M461.5 204.6h.1M468.5 203.9h.1M472.9 213.9h.1M470.6 205.7h.1M473.1 206.9h.1M476.7 202.8h.1M455.8 211.6h.1M459.8 208.7h.1M471.5 195h.1M459 215.8h.1M475.2 206.7h.1M467.4 209.5h.1M476.4 205.6h.1M469.2 211.5h.1M463.6 205.5h.1M467.1 210.5h.1M455.6 225.5h.1M472.4 212.9h.1M466.7 208.5h.1M471.2 196.3h.1M464.9 193.3h.1M455.8 208.4h.1M466.4 210.1h.1M468.8 203.6h.1M466.5 209h.1M474.7 206.7h.1M467.8 211.6h.1M469.4 213.2h.1M453.3 214.5h.1M471.2 203h.1M475.3 202h.1M458.4 205.7h.1M462.6 224.6h.1M464.7 213.1h.1M483.3 204.6h.1M478.9 194.4h.1M464.4 200.9h.1M457.3 212h.1M460.6 213h.1M455.9 215.1h.1M460 218h.1M471.3 208.5h.1M467.3 205.5h.1M461.1 208.7h.1M470.5 209.9h.1M472 211.7h.1M483.6 207.9h.1M460.1 213.5h.1M484.5 212h.1M474.9 201h.1M460.6 211.6h.1M469.5 201.7h.1M461.1 207.9h.1M479.8 211.8h.1M467.2 200h.1M461.8 208.3h.1M475.8 202.3h.1M468.6 207.2h.1M459.8 213.3h.1M463.8 203.6h.1M473.8 200.9h.1M466.9 203h.1M459.1 203.9h.1M463.9 207.2h.1M471 201.6h.1M477.6 199.4h.1M459.2 203.9h.1M468.4 198.3h.1M470.4 198.4h.1M472.9 197.4h.1M477.1 196.9h.1M454.2 203.6h.1M463.6 201.4h.1M471.6 214.1h.1M469 198.6h.1M475.6 206.1h.1M478.7 217.8h.1M461.1 215.9h.1M457 213.9h.1M465.2 205.6h.1M474.9 215.4h.1M452.8 211.9h.1M463.1 208.8h.1M464.8 198.1h.1M466.9 208h.1M475.2 206.1h.1M453.6 202.2h.1M469.1 207.1h.1M464.9 209.9h.1M483.8 201.6h.1M448.4 206.9h.1M474.8 201h.1M454.3 218.9h.1M471 208.7h.1M464.3 200.2h.1M455.1 212.8h.1M454.7 201.1h.1M468.4 209.1h.1M475.6 210.1h.1M472.6 217h.1M453.6 209.1h.1M461.1 208.6h.1M479.1 200.8h.1M461.7 203.6h.1M444.6 210.3h.1M459.1 212.4h.1M451.5 209.3h.1M453.3 211.3h.1M474 200.5h.1M458.6 206.4h.1M458 204.2h.1M464.9 204.6h.1M463.7 213.1h.1M462.5 215.7h.1M454.5 222.5h.1M454.6 202.3h.1M467 199.3h.1M470.6 209.6h.1M461.1 212h.1M452.7 208.2h.1M458 213.7h.1M468.8 205.9h.1M457.3 201.8h.1M464.3 210.1h.1M472.8 205.3h.1M453.4 212h.1M457.6 211.8h.1M454.1 202.2h.1M478.9 206.4h.1M461.4 208.9h.1M464.3 214.9h.1M451.5 214.1h.1M471.9 206.1h.1M464.7 203.1h.1M463.3 201h.1M463.7 209.6h.1M446.9 209.1h.1M468.7 207.8h.1M474.1 202.7h.1M456.5 198.6h.1M466 208.8h.1M472 209.2h.1M456.7 205.7h.1M463.6 202.1h.1M477.2 203.4h.1M452.8 209.1h.1M480.9 200.2h.1M470.9 197.5h.1M450.6 209.6h.1M452 210h.1M467.7 203.4h.1M468.8 212.8h.1M456.8 205.9h.1M473.5 194.4h.1M471.6 197.6h.1M471.2 199.3h.1M451 215h.1M464.2 214.9h.1M483.7 199.6h.1M454 217.4h.1M465.7 202.2h.1M471.4 209.2h.1M471.7 203.8h.1M460.9 208.2h.1M449.2 210.4h.1M460.3 207.8h.1M476.2 208.1h.1M471.5 202h.1M461.2 210.9h.1M469.4 203.8h.1M471.6 201.8h.1M458.4 209.6h.1M454.1 199.8h.1M464.1 208.6h.1M467.1 207.8h.1M478.8 194.2h.1M467.9 204.6h.1M463.2 208.3h.1M474.5 196.8h.1M460.1 209h.1M457.6 214.1h.1M466.3 210.4h.1M455.3 211.3h.1M447.1 223.3h.1M469.6 210.4h.1M454 208h.1M456.4 211h.1M468.7 214.4h.1M476.5 205.6h.1M465.2 206.1h.1M463.5 212.5h.1M452.4 213h.1M459 205.9h.1M463.8 204.1h.1M472.5 201.9h.1M469.6 194.3h.1M471.7 202.1h.1M460.1 203.9h.1M456.2 208.4h.1M455.5 208.5h.1M468.3 207.6h.1M453.4 211h.1M461.9 206.6h.1M470.7 205h.1M468.1 207.1h.1M463.8 204.1h.1M454 208.2h.1M467.8 205.2h.1M468.8 206.9h.1M471.2 206.5h.1M459 200.1h.1M459.8 205h.1M453.6 209h.1M448.9 204.2h.1M465.3 206.2h.1M465.9 211h.1M460.5 203.3h.1M455.6 206.9h.1M479.5 206.8h.1M451.8 209h.1M468.6 203.4h.1M460.8 208.8h.1M465 206h.1M465.9 209.1h.1M458.4 211.2h.1M469 198.1h.1M466.3 209.9h.1M465.8 207.4h.1M467 213.8h.1M458.4 212.7h.1M485.8 195.3h.1M463.3 213.7h.1M459.2 207.5h.1M484.1 196.4h.1M454.9 210.7h.1M470.3 204.3h.1M483.9 196.7h.1M468.3 205.7h.1M466.8 202.1h.1M466.4 202.1h.1M454.3 221h.1M468.9 197.3h.1M476.9 208.1h.1M465.9 207.7h.1M454.6 203.8h.1M468.3 201.3h.1M473 193.1h.1M465.3 202.4h.1M460.1 215h.1M461.7 193.2h.1M458.9 212.2h.1M449.7 212.8h.1M467.2 198.9h.1M456.5 206.8h.1M451.3 219h.1M466.1 202.7h.1M464 207.4h.1M463.8 201.8h.1M470.4 202.2h.1M461.4 209.4h.1M467.7 209.2h.1M465.8 198.9h.1M472.7 207.5h.1M458.6 214.8h.1M457 207h.1M474.4 206.3h.1M479.1 196.6h.1M468 208.8h.1M466.8 207.1h.1M449.2 212.4h.1M477.2 206.6h.1M468.8 210.2h.1M459 210.3h.1M469.4 204.2h.1M462.1 212.8h.1M462.6 207.5h.1M469.3 218.2h.1M464.9 193.1h.1M483.4 205h.1M468.3 213h.1M457.2 210.1h.1M464 197.2h.1M460.1 212.4h.1M455.7 210.7h.1M456.5 213.8h.1M462.3 215.5h.1M445.4 214.5h.1M464.9 205.5h.1M459.5 212.9h.1M472.2 201.2h.1M452.1 209.1h.1M462.1 209.1h.1M453.6 212.6h.1M464.7 212.1h.1M463.1 214.6h.1M471.5 205.3h.1M465.3 202.8h.1M471.8 215.6h.1M461.8 220.8h.1M464.5 212.7h.1M454.3 203.1h.1M454.5 202.2h.1M456.2 211.6h.1M456.3 202.4h.1M463.3 211.7h.1M449.9 215h.1M467.7 209.9h.1M461.1 209.2h.1M462.2 206.7h.1M475 196.5h.1M488.5 187.4h.1M449.9 221.9h.1M459.9 213.7h.1M457.8 199.5h.1M456.2 211.9h.1M465.7 204.4h.1M464.3 210.7h.1M467.3 208.7h.1M471.6 214.5h.1M468.3 198.7h.1M466.5 203.1h.1M468.7 213.2h.1M459.2 206.8h.1M468.7 210.9h.1M473.8 209.8h.1M461.4 207h.1M464.4 206.2h.1M467.3 210.7h.1M464.3 200.8h.1M447.7 202.8h.1M464.9 208.8h.1M463.6 200.6h.1M450.9 210.8h.1M466.1 212.1h.1M467.7 211.6h.1M452.4 222.3h.1M482.1 202.9h.1M467.8 207.4h.1M473.3 198.9h.1M460.6 204.5h.1M460.2 192.4h.1M458.9 217.8h.1M460.7 205.5h.1M461.3 204.4h.1M466.4 198.6h.1M476.4 199.2h.1M448.3 211.5h.1M460.1 203.1h.1M474.9 204.1h.1M461.6 206.1h.1M451.8 210.1h.1M472.7 192.4h.1M476.7 196.3h.1M473.7 208.4h.1M465.5 203.1h.1M461.2 197.6h.1M459.2 201.5h.1M473.4 210.6h.1M474.4 207.1h.1M453.6 210.7h.1M476.9 206.1h.1M459.7 205h.1M467.9 208.4h.1M463.7 208.5h.1M466.5 202.6h.1M464.4 203.5h.1M478.1 202.2h.1M457.5 201.7h.1M469.8 210.4h.1M474.1 205h.1M472.4 194.2h.1M447.5 205.6h.1M473.8 191.5h.1M472.2 197.4h.1M471.8 204.3h.1M455.9 200.3h.1M446.1 208.1h.1M464.4 204.8h.1M466.9 203.8h.1M449 211.4h.1M460.7 204.4h.1M465 215.2h.1M462.1 203.6h.1M476.9 205.6h.1M446.6 207h.1M462.7 209.7h.1M461.2 217.5h.1M472 206.4h.1M473.3 190.8h.1M479.9 205h.1M463.4 210.1h.1M483.2 195.5h.1M468.6 209.8h.1M487.1 202.4h.1M453.3 208.5h.1M457.2 212.9h.1M463.2 208h.1M461.5 211.3h.1M447 214.6h.1M461.6 197.8h.1M445.1 216h.1M455.6 203.6h.1M464.9 199.8h.1M455.2 218h.1M463.3 206.9h.1M459.6 207.3h.1M453.2 195.5h.1M468.7 202.3h.1M455.5 212.1h.1M472 200.5h.1M450.2 208.1h.1M468.6 206.1h.1M458.9 205.6h.1M462.7 202h.1M452.3 203.8h.1M457.9 203.2h.1M460.9 208.2h.1M465.7 213.1h.1M461.9 205.5h.1M477.2 195.9h.1M465.2 205.6h.1M449.7 204.6h.1M472.3 199.7h.1M470.1 201.1h.1M450.3 214.1h.1M478.9 201.9h.1M464.8 208.2h.1M464.9 202.8h.1M463.4 214.9h.1M461.7 207.9h.1M462.4 203.8h.1M467.4 206.3h.1M474.8 199h.1M472.2 206.9h.1M467.3 201.8h.1M463.7 207.3h.1M458.4 218.6h.1M461.2 214.2h.1M473.7 207.1h.1M467.3 204.1h.1M456.9 206.3h.1M463.3 205.3h.1M479.6 204.8h.1M471.6 209h.1M468.9 206.7h.1M478.3 206.6h.1M463.6 201.4h.1M455.6 216.2h.1M458.9 197.2h.1M459.7 202.9h.1M469 201.4h.1M461.2 204.9h.1M462 207.9h.1M469.8 221.5h.1M457.5 207.6h.1M459.5 218.8h.1M449.4 208.8h.1M471.7 211.1h.1M463.5 203.6h.1M463.9 212h.1M468.8 206.5h.1M468.9 209.3h.1M444.9 214.9h.1M458.4 201.2h.1M445.1 209.8h.1M478.7 201.3h.1M456 214.7h.1M474.6 200.1h.1M457.3 208.1h.1M461.1 212.3h.1M453.6 206.5h.1M447.6 214.6h.1M475.8 202.3h.1M451 216.5h.1M457.1 200.1h.1M458.7 207.3h.1M466.2 214.8h.1M471.3 194.6h.1M447.8 212.2h.1M464.1 205.4h.1M456.6 205.7h.1M464.6 202.6h.1M460.7 203.2h.1M461.2 218.6h.1M475.4 203.1h.1M466.1 209.4h.1M460.5 205.1h.1M460 200.2h.1M462.3 212.9h.1M469.8 209.1h.1M463.6 202.2h.1M458.9 202.8h.1M461.9 216.5h.1M447.9 217.1h.1M454.6 210.3h.1M466.6 210h.1M468.7 215.1h.1M459.3 213.9h.1M479.7 207.1h.1M474.6 207.5h.1M458 209.1h.1M470 200.7h.1M457.3 220.3h.1M463.3 194.6h.1M461.7 204.6h.1M449.1 214.9h.1M473.3 199.8h.1M448.2 213.1h.1M467.1 206h.1M463.2 208.8h.1M473.9 206.8h.1M474.9 210.6h.1M470 216h.1M438.3 220.9h.1M454.6 212.4h.1M487 199.7h.1M469.5 202.2h.1M455.2 208.4h.1M474.7 203.5h.1M477.2 206.1h.1M465.3 212.8h.1M467.3 202.8h.1M473.2 206.4h.1M481.8 202.1h.1M461.2 219.5h.1M468.9 211.3h.1M453.6 217.8h.1M469 199.1h.1M458.9 203.6h.1M444 215.5h.1M472.8 207.2h.1M470.1 197h.1M481.9 202.4h.1M467.8 208.3h.1M450.4 215.9h.1M454.4 219.8h.1M473.1 195.8h.1M462.9 202h.1M454.8 214h.1M461.2 205.9h.1M460.5 211.4h.1M476.6 206.4h.1M468.3 195.6h.1M458.3 219.9h.1M470.7 213.9h.1M470.9 196.3h.1M458.5 206.6h.1M464.8 212.1h.1M454.1 209.1h.1M470.7 207.3h.1M449.2 208.4h.1M463.7 214.7h.1M461 201.4h.1M460.8 207.8h.1M469.1 206.6h.1M462.4 200.2h.1M470.2 206.2h.1M474.3 204.5h.1M475.4 206.5h.1M484.1 191h.1M462.2 215.6h.1M473.6 198.8h.1M456.2 206.2h.1M457.7 207h.1M459.7 212.6h.1M468.7 203.9h.1M458.3 208.2h.1M461.1 211.3h.1M461.7 206.9h.1M462.2 204.9h.1M480.6 196.8h.1M463.4 205.7h.1M461.5 209.3h.1M466.9 212.8h.1M457.3 210.4h.1M458.6 215.4h.1M466.3 210.7h.1M472.2 212.2h.1M460.8 210h.1M458.6 207.6h.1M468.5 193.9h.1M449.2 212.2h.1M453.6 214.1h.1M465.4 210.3h.1M478.8 192.7h.1M459.1 205h.1M476.2 197.6h.1M462.1 205.4h.1M446.7 218.6h.1M479.2 204.3h.1M473.8 210.1h.1M455.8 202.4h.1M456.9 201.2h.1M475.7 202.4h.1M463.2 203.6h.1M473.6 203.4h.1M471.3 204.4h.1M463.3 212h.1M463.9 213.4h.1M470.7 201.5h.1M483.9 201.3h.1M467.3 208.9h.1M454.9 218.9h.1M467.4 207.7h.1M449.5 203.9h.1M464.9 209h.1M466.9 204.4h.1M457.7 202.1h.1M461.2 214.2h.1M458.2 206.4h.1M468.1 205.9h.1M468.3 202.5h.1M463.7 207.8h.1M461.6 210.2h.1M450.8 215.4h.1M449.7 224.4h.1M465.1 217.3h.1M469.8 202h.1M450 218.4h.1M468.5 213.1h.1M467.9 210.7h.1M472 207.3h.1M472.6 204.7h.1M463.9 205.9h.1M477 198h.1M464.6 203.4h.1M453.8 214.8h.1M460.9 205.8h.1M466.5 211.8h.1M471.3 199.3h.1M467.7 211.4h.1M464.8 202.4h.1M452.1 206.8h.1M460.3 206.3h.1M472.1 213.7h.1M450.7 219h.1M467.6 198.1h.1M472.5 212.4h.1M458.7 208h.1M464.9 197.3h.1M475.4 213.5h.1M470.7 203.2h.1M471.8 199.6h.1M460 214.8h.1M462.8 214.7h.1M452.3 203.9h.1M449 218h.1M468.5 200.5h.1M464.5 200.2h.1M451.9 211.2h.1M470.3 205.4h.1M467.5 203.2h.1M458.8 203.8h.1M432.7 219.6h.1M464.8 214.3h.1M459.7 207.1h.1M474.3 210.2h.1M462.1 205.1h.1M458.8 210.6h.1M470.3 205.8h.1M469.6 199.9h.1M478.6 210.7h.1M472.8 206.4h.1M451.4 213.8h.1M462.3 208.7h.1M469.2 206.9h.1M452.6 216.8h.1M459 217.2h.1M456 212.4h.1M468.4 207.4h.1M453.9 210h.1M471.7 198.5h.1M470 208h.1M472.3 196.4h.1M465.5 212.4h.1M470.1 205.6h.1M452.9 206.1h.1M458.3 210.7h.1M464.3 199.3h.1M463.5 203.2h.1M466.4 195.3h.1M471.6 213.1h.1M466.4 204.8h.1M442 209.3h.1M479.3 203.9h.1M455.4 206h.1M471.6 200h.1M455.4 211.5h.1M473.3 209.5h.1M474.4 208.7h.1M460.7 209.8h.1M459.1 205.7h.1M452.2 209.6h.1M458.7 206.4h.1M462.9 208.9h.1M456.5 207.8h.1M451.8 206.6h.1M445.3 218.2h.1M457.8 206h.1M461.7 200.4h.1M480.3 207.7h.1M457.4 215.7h.1M448.4 204.7h.1M462.7 206.7h.1M461.6 203.3h.1M479.1 207.6h.1M472.4 202.5h.1M467.2 208.7h.1M464.1 199.8h.1M464.6 209h.1M474.5 217.7h.1M478 210.1h.1M443.3 222.7h.1M463.6 216h.1M471 203.2h.1M454.9 214.3h.1M450.2 214.6h.1M468.7 203.3h.1M454.1 211.4h.1M461.2 217.3h.1M468.6 211.5h.1M475.6 202.1h.1M454.9 216.7h.1M475.4 215.4h.1M462.4 204.6h.1M456.3 209.4h.1M466.3 203.4h.1M463.1 217.9h.1M460.8 205.7h.1M481.9 198.8h.1M464.8 199.6h.1M466 205.2h.1M474.7 205.5h.1M445.9 210.8h.1M475.6 198.4h.1M466 202.4h.1M467.9 213.8h.1M460 217.9h.1M478.3 220h.1M457.2 202.4h.1M458.9 213.9h.1M447.8 205.4h.1M474 201h.1M456.2 207.1h.1M458.9 207.4h.1M464 197.6h.1M472.6 214.1h.1M478.8 204.5h.1M459 209.3h.1M452.9 210.8h.1M459.5 206.3h.1M459.3 218h.1M457.8 211.9h.1M454 208.7h.1M469.9 212.8h.1M474.4 210h.1M471.5 211.6h.1M445 213.7h.1M447.7 215.7h.1M473.1 203.4h.1M454.8 221.7h.1M474.7 212.1h.1M459.4 220.1h.1M461.9 211.4h.1M486.8 200.8h.1M470.8 209.2h.1M457.5 202h.1M483.1 205.6h.1M459.8 208h.1M459 212.1h.1M467.4 203.2h.1M477.1 204.3h.1M473.1 212.9h.1M480.1 204h.1M473 196.3h.1M474.9 201h.1M467.3 207.9h.1M462.4 211.2h.1M457.6 209.2h.1M462.4 205.7h.1M460.3 213.3h.1M461.8 208.3h.1M448.7 213.1h.1M448.7 217h.1M487.4 198.6h.1M477 199.2h.1M462.9 201.8h.1M474.2 208.3h.1M469.4 200.8h.1M465.3 212.3h.1M452 207.7h.1M475 205.7h.1M468.7 205.4h.1M452.3 206.7h.1M466.5 196.4h.1M463.4 210.8h.1M482 196.5h.1M444.5 219.1h.1M470.2 210.4h.1M458.5 217.3h.1M463.7 206.4h.1M449 216.2h.1M463.8 201.5h.1M463.8 211.3h.1M450.7 216.2h.1M468.6 209.5h.1M464 203.5h.1M456.1 215.2h.1M471 197.5h.1M463.5 211.8h.1M465.5 210.2h.1M476.5 209.6h.1M450.6 209h.1M467.7 214.3h.1M467.3 197.1h.1M453.6 217.4h.1M480.3 205.8h.1M470.3 206.3h.1M459.7 218.7h.1M478.5 205.3h.1M457.5 198.8h.1M460.5 213.8h.1M457 215.3h.1M469.8 206.7h.1M463 208.4h.1M465.3 204.3h.1M468.1 210.2h.1M462.3 209.8h.1M462.3 203.8h.1M462.7 210.2h.1M469.7 206.4h.1M464.8 200.1h.1M454.9 209.8h.1M458.4 207h.1M454.4 209.5h.1M466.2 209h.1M471.9 192.5h.1M466.4 214.3h.1M477.8 201.9h.1M450.3 214.6h.1M462.5 199.8h.1M473.2 203h.1M453.9 208h.1M463.7 212.8h.1M463.8 210.6h.1M461.1 206.9h.1M457 205.9h.1M497.9 196.2h.1M449.7 210.8h.1M464.8 202.2h.1M459.4 217.2h.1M466.2 208.3h.1M467 214.3h.1M467.1 208.3h.1M461.2 210.3h.1M464.9 208.1h.1M460.2 208.3h.1M463 205.8h.1M464.1 216.3h.1M462.6 204.7h.1M475.4 202.7h.1M473.8 208.5h.1M448.9 222.9h.1M464.1 217.3h.1M449 210.1h.1M477.6 204.6h.1M460.2 209.8h.1M480.2 195.1h.1M463.8 209.1h.1M453.6 204h.1M470.6 198.7h.1M439.1 214.1h.1M476.9 211h.1M469.4 196.9h.1M465.8 214h.1M445.1 197.8h.1M453.5 212.8h.1M461.6 206.5h.1M445.7 216.2h.1M462.9 207.7h.1M468 201.4h.1M452.1 210.1h.1M452.3 209.4h.1M474.2 199.2h.1M460.4 203.1h.1M463 216h.1M465.8 205.6h.1M453.3 221h.1M462.5 205.8h.1M466.9 205.1h.1M476 199.9h.1M467.6 203h.1M448.5 210.2h.1M473.2 204.1h.1M455.8 210.5h.1M461.7 207.1h.1M468.5 194.8h.1M475.2 214.9h.1M457.7 209.1h.1M450.6 213.2h.1M474.9 207h.1M465.4 208.9h.1M461 193h.1M466.9 202.1h.1M464.3 207h.1M478.4 197.6h.1M466.8 213.4h.1M475.4 206.7h.1M468.2 198.3h.1M458 211.3h.1M469.1 212.7h.1M461.7 207.8h.1M459.6 199.7h.1M470.4 207.6h.1M463 205.2h.1M452.5 202.1h.1M474.7 198.9h.1M461.1 207.1h.1M477.5 201.2h.1M468.4 209.5h.1M472.6 206h.1M461.6 201.3h.1M452.2 211.8h.1M464.8 211.1h.1M462.2 204.4h.1M460.4 205.9h.1M446.6 212.8h.1M465.6 203.6h.1M457.5 202.7h.1M459.3 211h.1M471.2 205.9h.1M472.8 206.8h.1M455.8 209.3h.1M455.2 206.9h.1M469.6 207.3h.1M469.9 206.2h.1M468.4 204h.1M465.2 213.4h.1M480.6 205.6h.1M461.8 199.5h.1M459.5 207.7h.1M453.8 209.3h.1M473.4 211.2h.1M458 203.7h.1M467.1 203.9h.1M471.8 204.3h.1M464.7 218.2h.1M469.2 196.5h.1M471.6 196.9h.1M461.4 201.5h.1M451.4 202.5h.1M447.9 205.3h.1M453 207.3h.1M453.2 206.6h.1M459.4 208h.1M467.7 201.9h.1M463.2 198.4h.1M461.5 210.8h.1M473.5 206.6h.1M460.5 202.3h.1M483.7 206.9h.1M459.9 203.5h.1M468.4 207h.1M453 205h.1M467.8 201.7h.1M469.5 207.1h.1M467.8 206.2h.1M470.9 210.2h.1M477.9 203.6h.1M474.7 199.9h.1M464.3 215.6h.1M454.1 206.8h.1M459.3 204.1h.1M462.9 210.1h.1M474.2 201.8h.1M453.9 208h.1M455.9 210.6h.1M464.9 199.3h.1M460 213.1h.1M460.9 206.3h.1M457 207.7h.1M478.1 204.2h.1M462.4 197.9h.1M458.1 213h.1M469.9 205.6h.1M469.1 207.4h.1M475.2 208.8h.1M461.9 206.4h.1M465.9 207.6h.1M458.7 217.7h.1M469.5 207.5h.1M452.1 209.3h.1M463.8 200.4h.1M473.7 201.9h.1M474.1 208.5h.1M450.8 213.6h.1M466.3 210.2h.1M466.7 210.8h.1M463.6 205.7h.1M465.3 195.2h.1M475.5 195.4h.1M471.7 211.2h.1M474.2 197.8h.1M456.1 214.8h.1M475.7 206h.1M473.9 199.9h.1M452.8 203.8h.1M461.7 215.3h.1M448.6 212.7h.1M465.6 213.4h.1M465.8 205.1h.1M478.2 195.1h.1M457.9 208.7h.1M459.5 209.4h.1M461.8 207.9h.1M475.7 208.9h.1M463.8 209.1h.1M462.9 204.4h.1M453.6 206.5h.1M467.1 200.2h.1M463.2 214.3h.1M457.7 209.4h.1M464.4 213.5h.1M462.7 210.8h.1M466.6 211h.1M473.2 208.3h.1M473.3 198.9h.1M482.8 193.3h.1M464.7 202.6h.1M468 200.5h.1M475.4 201.1h.1M456.4 205.9h.1M464.9 204.7h.1M468.9 215.2h.1M481 197.8h.1M472.8 207.1h.1M452.7 204.9h.1M442.1 209.5h.1M471 217.9h.1M454.7 217.7h.1M456.3 212.2h.1M452.3 209.1h.1M460 203h.1M457.4 206.9h.1M483.4 211.1h.1M461.1 203.9h.1M469 199.5h.1M446.5 211.7h.1M474 202.3h.1M454.7 210.4h.1M462.9 205.6h.1M460.7 204.1h.1M471.5 201.7h.1M465.8 220.8h.1M471.8 208.2h.1M459.7 199.9h.1M469.6 213.5h.1M479.6 208.5h.1M481 204.3h.1M458.7 211.4h.1M469 216.6h.1M465 198.4h.1M460.7 208h.1M480.5 195.9h.1M462.7 215.6h.1M460.9 203.1h.1M469 209.8h.1M468.9 197.2h.1M459.5 216.9h.1M452.5 209.9h.1M463.5 201.7h.1M470.7 198.8h.1M453.6 207.9h.1M460.9 206.9h.1M456.8 210.6h.1M453 204.9h.1M466 215h.1M454.8 213.5h.1M462.9 203.5h.1M473.3 208h.1M466.6 213h.1M472.2 206.2h.1M467.2 197.7h.1M460.6 208.5h.1M457.7 207.7h.1M462.3 199.6h.1M461.6 208.5h.1M457.3 204.5h.1M450.5 208.6h.1M479 203.6h.1M467.5 194.8h.1M487.7 201.1h.1M463.1 201.5h.1M471.8 211.3h.1M468.6 202.4h.1M440.2 209.2h.1M465.6 220.7h.1M481.8 214.8h.1M462.2 195.3h.1M473.5 206.6h.1M461.6 193.8h.1M468.9 207.1h.1M460 206h.1M460.1 208.6h.1M449.5 212.1h.1M447.6 210.7h.1M472 196.8h.1M458.1 210.6h.1M459.9 212.5h.1M467.4 203.5h.1M474.1 210.7h.1M464.8 202.4h.1M471.6 208.5h.1M470.3 211.4h.1M454.1 204h.1M483.9 202.1h.1M472 200.1h.1M454.6 208h.1M464.1 222h.1M454.2 214.8h.1M467.2 206h.1M457.5 202.9h.1M445 216.8h.1M480.3 198.3h.1M469.6 204.2h.1M463.7 206.3h.1M478.8 214.7h.1M464.7 211h.1M471.5 205.7h.1M459.3 212.2h.1M470.8 198.7h.1M454.3 215.1h.1M482.1 200.3h.1M465.7 201.1h.1M472.6 208.7h.1M467.3 192.5h.1M463.6 206.2h.1M462.7 204.3h.1M457.2 203.1h.1M461.3 205.1h.1M465.5 205.6h.1M469.5 209.1h.1M462 213.5h.1M459.4 212.5h.1M474.8 210.6h.1M445.3 202.4h.1M476.7 193.3h.1M460 210.1h.1M464.9 200.4h.1M472.6 203.2h.1M485.4 202h.1M461.6 217.2h.1M452 216.1h.1M461.1 211.5h.1M448.3 215.8h.1M451 208h.1M445.4 212.1h.1M466.7 199h.1M462.5 207.6h.1M463.4 208.7h.1M467.7 199.8h.1M469.2 208.9h.1M450 208.3h.1M473 212.7h.1M458.6 209.5h.1M450.8 208.2h.1M461.6 212.5h.1M455.3 219h.1M456.8 211.4h.1M448.3 213.4h.1M454.8 205.2h.1M459.7 203.3h.1M456.2 202.3h.1M470.6 203h.1M463.4 217.8h.1M459.1 207.7h.1M468.1 196.9h.1M470.3 206.3h.1M465.7 206.5h.1M464.7 212.8h.1M457.8 212.9h.1M447.4 204.3h.1M466.7 207.2h.1M473.3 204.2h.1M472.3 198.8h.1M486.8 205.2h.1M464.4 207.3h.1M464.8 203.7h.1M465.1 205.8h.1M468.9 209.3h.1M455 217.7h.1M458.1 212.4h.1M464.5 207.2h.1M460 211.9h.1M469.3 199.5h.1M452.4 211h.1M477.2 199.1h.1M450.6 210.1h.1M466.8 217.8h.1M448 217.9h.1M466.4 206.3h.1M465.4 195.9h.1M467.1 211.4h.1M455 211.5h.1M471.1 201h.1M459.9 205.7h.1M454.5 212.7h.1M462.8 196.5h.1M466.5 199.7h.1M474.2 206.2h.1M461.9 204.8h.1M456.2 206.6h.1M459.2 203.8h.1M457 218.3h.1M466.3 202.3h.1M459.4 209.9h.1M462.8 211.9h.1M463.7 204.5h.1M467.8 201.2h.1M479.7 213.2h.1M469.6 208.4h.1M455.2 215.7h.1M473.7 200.2h.1M488.4 213h.1M466.4 210.2h.1M460.4 203h.1M449.8 203.9h.1M463.1 214.2h.1M451.5 206h.1M476.4 209.6h.1M444.6 205.1h.1M457.2 206.9h.1M471.6 212.7h.1M452.6 209.5h.1M457.6 213.7h.1M477.9 201.3h.1M447.6 220.2h.1M458.2 210.1h.1M482.2 199.9h.1M473.5 209.5h.1M449.1 211.9h.1M457.5 212.4h.1M454.5 225.7h.1M468.4 205h.1M459.8 215.9h.1M457.8 206.9h.1M450.9 208h.1M471.2 203.5h.1M439.3 223.1h.1M450.6 219.5h.1M468.3 209h.1M450.2 210.8h.1M474.4 206.3h.1M462 207.9h.1M474.9 213.4h.1M465.1 210.9h.1M465.5 208.1h.1M461.8 208.3h.1M466.1 204.2h.1M448.4 214.1h.1M453.7 222.3h.1M466.9 198.6h.1M474.2 206.1h.1M465.6 210.2h.1M451.4 205.5h.1M461.4 213.1h.1M472.9 207.8h.1M465.1 198.4h.1M455.4 216.8h.1M476 200.9h.1M447.4 211.3h.1M455.4 205.9h.1M444.5 215.6h.1M468.4 212.3h.1M480.8 196.9h.1M465.2 214.7h.1M463.9 219.5h.1M462.1 214.8h.1M460.3 204.3h.1M468.8 208.2h.1M468.8 202.8h.1M462.3 199.9h.1M476.1 203.9h.1M444.2 203.8h.1M460.8 208.9h.1M463.1 201.2h.1M458.5 200.5h.1M477.7 199.6h.1M462 204.3h.1M454.9 218h.1M464.9 213.7h.1M476.5 214.4h.1M478.2 202.8h.1M464.4 205.2h.1M471 204.6h.1M468.5 211.8h.1M462.4 207.8h.1M449 220.6h.1M469.8 203.3h.1M453.2 208.8h.1M472.6 211.3h.1M470.2 209.1h.1M465.9 210.1h.1M477.5 201.6h.1M464.9 205.5h.1M475.8 203.8h.1M455.5 205.3h.1M462.1 206.6h.1M484 193.8h.1M471.9 206h.1M449.6 207.4h.1M467.4 196.7h.1M460.9 205.8h.1M469.3 199.8h.1M451.1 209h.1M467.1 198.3h.1M472.1 218.9h.1M464.6 206.6h.1M458.2 219.3h.1M463.7 210.1h.1M476.6 201.8h.1M473.9 196.7h.1M459.4 214.4h.1M464.2 209.7h.1M477.1 203.1h.1M472.6 204.1h.1M456.7 204.7h.1M470.5 198.6h.1M463.2 208.3h.1M464.4 210.1h.1M460.2 218.6h.1M465.6 195.5h.1M468.9 208h.1M471.8 203.7h.1M466.5 201.7h.1M461.9 206.6h.1M457.3 213.8h.1M456.5 208.1h.1M467.7 204.9h.1M459.1 207.5h.1M467 205.4h.1M455.4 226.1h.1M468 218.9h.1M465.8 213.3h.1M456.3 200.7h.1M463.8 218.2h.1M456.3 208.8h.1M449.7 215h.1M478.9 198.5h.1M462.4 210.9h.1M467.4 199.9h.1M482.6 206.1h.1M462.9 211.1h.1M470 202h.1M481.8 199.5h.1M470.3 199.6h.1M461.2 208.5h.1M456 209.6h.1M460.5 205.9h.1M472.3 199h.1M492.6 195.4h.1M456.5 208.5h.1M463.3 207.1h.1M474.3 199.2h.1M462.5 216.3h.1M475.2 200h.1M478.7 208.5h.1M461 209.2h.1M469.3 209.8h.1M467.8 194.1h.1M456 221.2h.1M457.7 199.8h.1M456.9 207.7h.1M453.8 207.4h.1M476.9 207.9h.1M462.4 212.6h.1M461.1 202.8h.1M470.9 208.3h.1M474.1 208.3h.1M462.4 204.7h.1M464.5 205.5h.1M474 202.2h.1M462.2 207.9h.1M470.7 208h.1M463.9 211.4h.1M468.1 202.3h.1M466.3 206.7h.1M475 204.5h.1M465.6 206.8h.1M461.8 199.5h.1M449.5 206.5h.1M447.5 209.8h.1M481.4 197.8h.1M474.4 207h.1M447.5 208.7h.1M483.9 212.5h.1M450.6 205.9h.1M465.9 206.5h.1M474 203.1h.1M479.3 194.7h.1M481.4 205.5h.1M467.8 207.6h.1M462.4 204.9h.1M460.2 206.9h.1M453.5 204.8h.1M458.6 215.1h.1M451.7 212.7h.1M466.8 201.8h.1M465.7 211.4h.1M451.3 201.5h.1M478.4 203.7h.1M444.9 218.1h.1M466.3 206.2h.1M463.5 209.9h.1M461 214h.1M445.8 220.4h.1M467 202.1h.1M470.1 210h.1M454.7 208.5h.1M472.5 200.9h.1M461.2 210.8h.1M468.9 202.4h.1M461 212.5h.1M461.6 211.7h.1M462.6 211.8h.1M466.1 201.4h.1M461.7 209.7h.1M479 206.2h.1M468.6 211.2h.1M463.4 218.3h.1M457.4 216.4h.1M446.5 207.1h.1M476.1 201.9h.1M479.6 201.9h.1M465.8 199.3h.1M465.1 204h.1M452.9 204.8h.1M468.7 202.9h.1M463.6 216h.1M470.5 204.9h.1M456.6 204.4h.1M485.4 190h.1M466.2 203.1h.1M465.5 219.2h.1M470.4 202h.1M459.1 207.5h.1M460.9 224.5h.1M464.7 209.8h.1M459.5 206.4h.1M475.3 202.3h.1M473.1 197.2h.1M478.2 207h.1M469.4 205h.1M479.8 193.5h.1M474 195.9h.1M470.3 200.5h.1M473.4 197.2h.1M470.7 206h.1M471.2 192.5h.1M455.2 218.2h.1M461.3 214h.1M482 187.8h.1M460.1 202.2h.1M459 209.8h.1M463.6 211.1h.1M465.8 212.1h.1M470.2 204.7h.1M468 206.4h.1M449.9 206.8h.1M474.1 206h.1M476.5 197.6h.1M477.5 200h.1M471.8 200.2h.1M475.6 203.6h.1M468.7 214.3h.1M463.7 210.6h.1M462.8 201.9h.1M456.5 216.9h.1M461.5 214.3h.1M458.8 202.3h.1M465.6 203.3h.1M466.2 212h.1M472.9 200.4h.1M470.2 203h.1M458.2 216.3h.1M461.6 213.4h.1M451 220.1h.1M471.4 199.6h.1M475.4 213.1h.1M467.7 192.9h.1M463.1 209.8h.1M456.4 212.1h.1M458.7 205.2h.1M468.1 197.5h.1M470.1 204.4h.1M475.8 206.4h.1M459 204.5h.1M471.5 206.5h.1M482.9 201.6h.1M445.7 212.5h.1M459.5 205.1h.1M466.8 213.8h.1M468.5 200.2h.1M461.3 214h.1M471.8 199.6h.1M450.9 211.5h.1M468.2 205.9h.1M467.6 213.3h.1M454 208.8h.1M468.1 210.4h.1M473.6 200.2h.1M463.9 215.4h.1M453.7 206.6h.1M468.1 212h.1M461.6 214.9h.1M458.2 203.2h.1M479.4 207.9h.1M467.6 201.2h.1M471.8 200.2h.1M442.4 210.2h.1M452.8 207.1h.1M455.3 209.5h.1M460.7 213h.1M460.9 220.2h.1M464.8 208.1h.1M469.8 197.8h.1M478 206.2h.1M459.5 200.5h.1M465 209.9h.1M478.6 197.2h.1M450.7 208.8h.1M468 198h.1M470.2 210h.1M471 205.7h.1M467.9 205.2h.1M461.1 198.2h.1M472.8 199.9h.1M460 204.5h.1M469.3 211.5h.1M451.5 220.6h.1M476.3 207.6h.1M468.3 214.3h.1M450.3 219.7h.1M474.4 200.9h.1M459 210.2h.1M465.6 197.2h.1M468.1 209.3h.1M464.1 211h.1M471.3 197.1h.1M456.1 215.5h.1M465.6 205.3h.1M479.5 190h.1M469.3 204.4h.1M469.5 209.5h.1M450.5 209.6h.1M463.1 207.9h.1M464.5 209.5h.1M462.3 205.3h.1M460.9 205.3h.1M460 199.8h.1M461.4 210h.1M453.3 212.1h.1M461 218.2h.1M464.2 210.1h.1M458.8 208.5h.1M464.4 199.4h.1M470 193.4h.1M462.2 205.1h.1M455.6 208h.1M453.3 214.4h.1M476.4 202.3h.1M460.7 208.6h.1M456.8 216.8h.1M462.6 209.7h.1M465.6 209h.1M467.1 207.2h.1M451.6 214.8h.1M465.5 206h.1M466.7 215.2h.1M460.6 209.4h.1M467 209.6h.1M462.4 215.4h.1M479.9 199.3h.1M469.6 201.6h.1M472.6 207.4h.1M465.3 214.3h.1M478.4 211.5h.1M464.8 207.1h.1M456 220.2h.1M451.4 211.4h.1M460.7 208.2h.1M464.9 210.7h.1M464.3 206.6h.1M468.4 200.4h.1M462.7 205.4h.1M467.3 222h.1M467.5 209.1h.1M454.2 215.1h.1M466.5 200.4h.1M465.5 204.7h.1M465 206h.1M469.1 206.1h.1M445.7 218.5h.1M444.1 207.5h.1M447.6 215.4h.1M477.9 207.9h.1M457.7 216.5h.1M457.6 193.9h.1M481.1 206.6h.1M446.3 211.9h.1M451.7 208.1h.1M465.7 214.7h.1M471.3 213.4h.1M473.3 201.1h.1M454.4 211h.1M467.3 202h.1M452.1 209.3h.1M460.6 206.3h.1M456.2 200h.1M458.8 207.9h.1M475 211.1h.1M466.7 201.6h.1M448.6 210.7h.1M467.3 204.6h.1M472.6 202.2h.1M458.7 208.4h.1M462.1 210.1h.1M473.8 206.3h.1M458 211.1h.1M477 204.6h.1M457.8 213.9h.1M464.2 214.3h.1M457.9 207.9h.1M462.3 201.1h.1M466.6 212.7h.1M449.2 207.4h.1M462.2 203.1h.1M465.6 209.2h.1M456.9 204.7h.1M454.9 207.8h.1M467 209.7h.1M464.8 208.1h.1M450.9 219.5h.1M468.6 208h.1M476.7 194.8h.1M467.1 213.1h.1M468.1 209.9h.1M447 204.4h.1M469 201.7h.1M466 205.3h.1M468.7 215.3h.1M459.2 208.9h.1M471.9 204.6h.1M471.9 209.4h.1M471 205.9h.1M455.6 208.8h.1M475.5 204.3h.1M470.2 206.3h.1M482.5 203.5h.1M453.3 209.6h.1M464.5 208h.1M463.9 211.3h.1M467.3 199.8h.1M465.9 199.1h.1M463.1 216.7h.1M458.3 194.3h.1M449.4 217.5h.1M471.8 197.6h.1M464.8 209.8h.1M462.8 211h.1M460 203.3h.1M461.3 207h.1M466 204.5h.1M459.8 207.8h.1M462.8 209.6h.1M452.2 214.5h.1M467.9 207.7h.1M471.1 204.2h.1M464.3 210h.1M460.3 216.5h.1M462.5 204h.1M479 212.3h.1M462.3 212.8h.1M459.4 209.3h.1M465.4 209.5h.1M472.5 204.6h.1M463.5 194h.1M461.7 203.8h.1M452.9 204.9h.1M473.4 207.9h.1M469.3 209.6h.1M451.3 223.2h.1M481.4 207.7h.1M476 207.8h.1M472.9 209.8h.1M469.8 204.4h.1M459 210.7h.1M475.3 208.8h.1M477.2 211.5h.1M477.5 202.7h.1M460.6 207.1h.1M460.9 212.6h.1M484.5 204.7h.1M465 204h.1M445.8 206h.1M456.2 207.5h.1M466.7 208.9h.1M474.2 206.5h.1M454.8 212.6h.1M465.4 216.7h.1M454.4 201h.1M461.4 203.7h.1M456.9 212.9h.1M474.1 210.9h.1M453.6 201.7h.1M466.5 218.9h.1M468.3 204.6h.1M458.7 205.9h.1M463.3 202.9h.1M462.3 212.9h.1M483.4 214.7h.1M457.1 208.9h.1M470.5 214.5h.1M459.9 206.9h.1M461.4 212.8h.1M453.8 216.6h.1M464.3 207.3h.1M459.6 202.7h.1M465.7 205.4h.1M460.5 199.2h.1M456 208.2h.1M462.5 217.9h.1M452.1 214.4h.1M467 203.1h.1M469.4 200.1h.1M460.3 205.3h.1M454.7 199.4h.1M482.5 199.8h.1M460.1 205.4h.1M472.6 203.6h.1M457.7 211.4h.1M460.1 203.6h.1M458 218.2h.1M463.1 206.3h.1M456.5 199.2h.1M467.2 211.5h.1M466.1 205h.1M452 203.6h.1M482.4 203.4h.1M457.2 209.4h.1M467.6 207.7h.1M469.7 196.3h.1M467.7 202.1h.1M458.6 207.6h.1M456.8 205h.1M460.8 208.9h.1M441.7 218.8h.1M472.2 207h.1M479 206.3h.1M474 203.1h.1M480.7 197.4h.1M456.9 206.5h.1M463 203.4h.1M464.3 205.2h.1M472 210.6h.1M459.9 205.3h.1M449.3 222.5h.1M467.2 203.3h.1M477.7 197.6h.1M451.5 210.3h.1M445.4 208.8h.1M464.6 198.4h.1M451 205.8h.1M467.6 211.3h.1M469.4 211.1h.1M453.6 199.4h.1M455.8 215.4h.1M464.9 206.2h.1M457.8 209.6h.1M469 209.8h.1M468.4 210.5h.1M474.9 208.3h.1M469.3 206.2h.1M467 198.9h.1M447.9 219.2h.1M454.1 201.1h.1M485.3 201.6h.1M466.6 201.6h.1M454.6 201.8h.1M461.9 210.1h.1M480 199.7h.1M467.2 199.7h.1M466.8 207.9h.1M460.3 204.9h.1M463.5 209.5h.1M479 194.5h.1M453.2 213.6h.1M467.9 208.4h.1M444.1 208.6h.1M478.5 208.8h.1M465.6 198.2h.1M470.9 207.1h.1M452.8 207.2h.1M454.2 207.6h.1M466.4 199.9h.1M463.8 206.3h.1M465.9 205h.1M459.3 204.5h.1M461.4 210.4h.1M459.4 211.9h.1M452.3 210.6h.1M459.7 211.4h.1M443.7 207.8h.1M470.6 205.9h.1M464.8 207.5h.1M475.8 217.4h.1M462.1 202.8h.1M445.4 216.9h.1M469.8 201.9h.1M476.4 208h.1M454.7 213.4h.1M453.7 215.6h.1M477.1 204.3h.1M454.5 201.6h.1M462.7 204.4h.1M453.2 210.5h.1M464.7 203.4h.1M458.7 206h.1M481.4 214.4h.1M465.5 202.3h.1M443.6 220.6h.1M452.5 212.2h.1M466.2 205.8h.1M468.8 213.9h.1M451 212.6h.1M460.8 201.7h.1M473.1 204.5h.1M467 202.1h.1M456.5 219.6h.1M469.2 208.3h.1M473.2 203.1h.1M459.7 211.5h.1M453.8 216.9h.1M472.3 199h.1M471.6 204h.1M460.6 206.5h.1M459 210.9h.1M471.7 203.3h.1M469.4 212.7h.1M470.8 199.5h.1M465.6 212.3h.1M453.9 209.1h.1M430.6 208.4h.1M438.6 205.8h.1M442.1 209.8h.1M435.1 210h.1M429.8 220.1h.1M433.4 209.5h.1M449.2 211.6h.1M443.3 210.3h.1M431.5 209h.1M439.4 217.7h.1M437.2 213.6h.1M445.5 213.4h.1M439.9 206.3h.1M433.4 216.8h.1M437.1 210.3h.1M431.7 207.1h.1M449.9 206.5h.1M440.6 209.7h.1M433.7 211.8h.1M430.8 212.3h.1M436.5 215.9h.1M441.9 212.9h.1M442 204.6h.1M439 213.1h.1M451.9 198.9h.1M435.9 211.8h.1M450.5 209h.1M455 205.5h.1M443.1 214.7h.1M429.9 211.2h.1M445 210.4h.1M429.3 207.7h.1M438.2 212.7h.1M433.6 207.9h.1M437.8 205.3h.1M449.3 208h.1M436.3 213.7h.1M456.5 206.6h.1M439.7 217.8h.1M430.2 209.9h.1M441.6 214.2h.1M430.8 213.5h.1M439.9 215.4h.1M456.5 206.8h.1M454.3 212.2h.1M429.6 216.1h.1M430.5 206.9h.1M429 208.3h.1M437.2 203.3h.1M436.1 209h.1M441.3 206.2h.1M427.2 215.7h.1M437.1 203.6h.1M430.6 206.5h.1M428.2 203.8h.1M446 203.6h.1M433.8 213.4h.1M454.1 205.2h.1M428.4 209h.1M442.6 215.1h.1M442 213.2h.1M452.6 210.5h.1M459.9 210h.1M459.4 208.7h.1M449.4 218.5h.1M448 213.3h.1M448.2 211.9h.1M447.5 213.7h.1M431.3 216.2h.1M423.2 213.2h.1M431.1 211.4h.1M429 208.2h.1M444.5 212.2h.1M445.7 207.4h.1M437.4 217.4h.1M433.2 210.1h.1M445.4 210h.1M448.1 209.4h.1M441.7 203.4h.1M446.4 203.8h.1M431.6 214.9h.1M432.6 212.6h.1M450.7 211.7h.1M433.2 204.6h.1M451.5 210.5h.1M460.2 205.9h.1M441.1 213.6h.1M448.3 208.6h.1M442.2 208.4h.1M441.3 208.6h.1M437.7 212.4h.1M448.3 212.5h.1M441.3 203.5h.1M441.2 208h.1M423.2 207.2h.1M436.5 206.4h.1M437.2 212.5h.1M435.2 209h.1M428.6 200.1h.1M436.6 210.8h.1M452.3 211.1h.1M440.2 220.9h.1M426.2 210.8h.1M426.6 211.3h.1M441.6 221.4h.1M444.6 212.9h.1M441.7 208.6h.1M444.7 213.5h.1M436.7 210h.1M445.6 208.3h.1M442.4 205.2h.1M425.3 219.6h.1M451.1 211.7h.1M444.7 208.8h.1M427.8 205.9h.1M440 207.5h.1M439.7 196.9h.1M432.2 218.1h.1M435 206.2h.1M448 210.1h.1M435.3 212.5h.1M439.9 213.4h.1M437.1 210h.1M434.1 208.2h.1M437.8 215.2h.1M444.4 216.6h.1M440.3 206.3h.1M432.7 212.8h.1M447.1 211.8h.1M436.7 208.3h.1M428.2 213.2h.1M443.2 211.7h.1M449.4 206h.1M439.4 210.1h.1M448.8 208.6h.1M447 208.3h.1M438.7 212.5h.1M446.7 212.5h.1M435.7 217.4h.1M441.7 201.6h.1M429.2 207.1h.1M439.3 208.7h.1M441.3 211h.1M448.9 213.4h.1M437.6 202.3h.1M438.4 210.6h.1M459.6 200.1h.1M439 215.8h.1M442.5 210.5h.1M440.5 208h.1M425 207.6h.1M436.9 207.9h.1M446.5 209.3h.1M450.6 208.9h.1M438.8 206.5h.1M447.1 208h.1M429.9 215.7h.1M437.4 214.7h.1M443.7 207.7h.1M435.6 206.4h.1M436.8 207.4h.1M433.2 217.3h.1M451.5 215.1h.1M440.1 206.2h.1M441 209.6h.1M446.6 213.4h.1M432.8 210.5h.1M446.9 209h.1M426.6 204.5h.1M435.5 211.2h.1M447.1 213.6h.1M422.1 210.5h.1M425.3 206.8h.1M437.4 212.3h.1M447.1 212.6h.1M444.9 207h.1M444.4 203.2h.1M432.6 211.5h.1M436.3 205.7h.1M438.9 213.5h.1M445.4 211.6h.1M440.5 208.8h.1M435.5 211.1h.1M431.9 205.8h.1M442.6 208h.1M439.6 203.2h.1M432.8 215.2h.1M440.8 205.4h.1M435.9 206.8h.1M452.8 203.4h.1M430.6 210.7h.1M434.5 215.7h.1M439.1 211.5h.1M427.9 210.5h.1M430.3 211.8h.1M428.3 218.1h.1M432 207.6h.1M435.5 208.9h.1M456.9 207.4h.1M450.9 211.4h.1M427 209.3h.1M431.3 210.3h.1M448.9 210.1h.1M435.2 213.9h.1M442.8 214.6h.1M439.6 207h.1M451.5 206.4h.1M452.9 206.6h.1M448.4 210.8h.1M440.2 209.5h.1M441.5 211.8h.1M441.7 212.9h.1M439.3 204.6h.1M425.3 213.4h.1M433.8 208.8h.1M426.6 212.7h.1M439.5 209.7h.1M443.7 208.2h.1M444.4 211.7h.1M431 215h.1M446.5 207.4h.1M428.1 212.6h.1M442.3 214.5h.1M437.9 208h.1M438.1 213.3h.1M446.2 212.1h.1M447.2 204.1h.1M432.6 206h.1M438.3 207.8h.1M438.8 207.8h.1M444.4 215h.1M424.1 206.9h.1M428 216.3h.1M458.3 204.4h.1M444.9 203.7h.1M439.5 207.8h.1M438.3 206.2h.1M438.6 209.1h.1M430.2 211.6h.1M435.8 205.3h.1M438 208.4h.1M434.7 214.4h.1M433.3 207.6h.1M434.7 218.3h.1M463.6 207.2h.1M445.7 205.5h.1M430 217.9h.1M435 206.2h.1M441.2 212.7h.1M434.4 214.9h.1M444.4 214.6h.1M456.1 207.7h.1M419.2 205.9h.1M448.5 212.5h.1M439.4 210h.1M427.3 205.2h.1M433 211.6h.1M417.7 208.2h.1M428.3 212h.1M452.9 207.9h.1M429.9 214.1h.1M421.3 213h.1M441.7 206.1h.1M450.8 212.8h.1M452.1 212.4h.1M427.4 220.4h.1M432.8 213h.1M437.2 210.9h.1M443.6 211.9h.1M430.8 210.1h.1M444.8 212.2h.1M448.5 208.6h.1M438 215.5h.1M443.1 209h.1M451.4 204.6h.1M436.6 208h.1M449.2 217.2h.1M435.7 215.1h.1M439.2 205.6h.1M438.8 210.1h.1M436.7 209.7h.1M443.5 219h.1M441.7 210.9h.1M439.3 210.6h.1M440.9 211.3h.1M443.6 203.2h.1M429.7 210.4h.1M430.7 209.4h.1M438.4 208.8h.1M444 203.8h.1M431.7 213.2h.1M444.2 212.2h.1M435.1 209.4h.1M437 212.5h.1M444 213.2h.1M439.4 213.1h.1M435.2 210h.1M442.8 201.8h.1M439.5 202.1h.1M432.7 210.5h.1M417.7 207.9h.1M450.4 211h.1M433.3 205.7h.1M439.3 210.2h.1M442 214.5h.1M425.6 211.1h.1M444.4 202.5h.1M446.5 205.7h.1M434.4 213.7h.1M439 209.5h.1M456.3 200.1h.1M429.4 212.5h.1M429.1 207.1h.1M438.1 214.8h.1M437.2 213.4h.1M431 215.9h.1M439.2 210.4h.1M434 209.9h.1M448.3 204.2h.1M448.4 204.4h.1M453.3 210.6h.1M455.3 207.4h.1M437.3 210.1h.1M435.8 212h.1M451.3 200.8h.1M447.8 207.9h.1M447.4 213.1h.1M430.3 215.8h.1M449.1 212.7h.1M446.3 220.2h.1M432.9 209.3h.1M444.2 208.8h.1M435.8 208.9h.1M441.3 209.2h.1M442.2 208.4h.1M434.3 206.8h.1M439.8 206.5h.1M434.5 210.4h.1M443.5 206.6h.1M439.5 209.7h.1M459 209.4h.1M435.2 210h.1M437.2 210.3h.1M426.9 214.6h.1M427.2 204.9h.1M435.2 209.1h.1M442.6 207.7h.1M424.6 218.4h.1M430.2 213.2h.1M450.1 211.9h.1M452.8 209.4h.1M437.7 209.2h.1M446.1 211.2h.1M429.1 203.4h.1M455.4 213.2h.1M439.6 203.5h.1M449 206.5h.1M440.1 213.9h.1M436.6 206.4h.1M425 213h.1M436.1 212h.1M463.8 203.6h.1M445.5 213.6h.1M446.1 202h.1M440.5 210.2h.1M441.3 206.6h.1M449.1 208h.1M433.9 211.5h.1M433.9 208.6h.1M444.8 218.7h.1M444.2 214.7h.1M438.4 217.8h.1M444 213.4h.1M444.6 209.5h.1M438.7 209.4h.1M441.2 213.3h.1M441.7 204h.1M438.3 205.8h.1M438.8 204.7h.1M443 212.7h.1M426.3 207.5h.1M437.4 211.6h.1M440.9 209.6h.1M442.2 207.4h.1M444.6 208.8h.1M434.8 211.5h.1M447.1 212.4h.1M447.3 211.8h.1M438.8 203.3h.1M431 209.7h.1M436.8 216.3h.1M438 218.3h.1M448.5 212h.1M436.6 214.8h.1M443.7 213.3h.1M432.8 205.5h.1M451 205.1h.1M434.6 209.9h.1M436.4 208.4h.1M445.9 210.9h.1M441 207.7h.1M420.8 203.8h.1M438 206h.1M450 204h.1M421.1 221.6h.1M441.9 213.9h.1M424.5 210.8h.1M430.5 208.1h.1M422.1 215.8h.1M446 208.1h.1M445.9 201.2h.1M444.5 204.8h.1M464.2 207.1h.1M435.1 208.8h.1M437.8 207.8h.1M445.9 203.8h.1M426.6 208.9h.1M439.7 212.8h.1M427.4 211.7h.1M446.9 212.6h.1M446.3 204.9h.1M441 208.7h.1M430.9 208.3h.1M422 212.4h.1M432.2 215.6h.1M445.4 207.4h.1M429 211.1h.1M437.8 203.5h.1M434.5 212.5h.1M450.3 208.6h.1M430 212.7h.1M448.6 210h.1M430.2 213.9h.1M435.6 212.8h.1M444.9 205h.1M436.8 210.5h.1M426.7 212.1h.1M434.8 215.3h.1M438.3 205.9h.1M436.9 210.3h.1M444.4 210.1h.1M441.8 209h.1M438.5 206.2h.1M443.2 204.9h.1M430.1 214.7h.1M434.6 208.5h.1M422 206.4h.1M430.2 208.6h.1M433.1 204h.1M424.1 208.3h.1M438.7 208.1h.1M457.6 206.4h.1M452.6 204.6h.1M439.2 209.8h.1M445.5 207.1h.1M431.5 209.5h.1M443.8 207.6h.1M435.3 207.7h.1M442.9 210.9h.1M433.3 212.1h.1M447.1 209.2h.1M447.4 204.4h.1M450.7 211.8h.1M435.2 202.6h.1M433.6 216h.1M448 210.5h.1M442.1 214.3h.1M446.5 214.6h.1M451.6 198.9h.1M431.3 207.9h.1M442.9 213.1h.1M437.9 214.8h.1M437.1 204h.1M442.7 206.7h.1M445.5 213.4h.1M452.2 206.8h.1M449.1 209.6h.1M455.8 208.4h.1M443.1 213.3h.1M423.4 213.8h.1M441.1 212.3h.1M429.5 212h.1M439.7 209.1h.1M442.1 216.2h.1M438.8 207.3h.1M454.7 202.5h.1M432.5 205.1h.1M433.4 215.5h.1M443 204.3h.1M443.9 212.9h.1M446.5 203.2h.1M439.8 210.7h.1M442 209.9h.1M445.9 206.8h.1M442.1 209.9h.1M443.6 216.9h.1M435.1 214.1h.1M421.4 218.4h.1M437.4 213.9h.1M445.2 214.5h.1M430.8 214.5h.1M433.5 208.8h.1M450.7 211.2h.1M446.3 215.5h.1M443.2 210.4h.1M438 211.4h.1M435.1 212.3h.1M441.1 215.7h.1M424.3 206.5h.1M435.4 217.1h.1M454 205.6h.1M445.6 208.5h.1M430.9 213.9h.1M442.9 206.5h.1M446.2 213.7h.1M435.1 211.8h.1M443.4 212.7h.1M427.7 209h.1M434.8 207.1h.1M434.2 211h.1M450.7 206.2h.1M437.4 210.7h.1M435.3 219.5h.1M434 213.5h.1M439 210h.1M453.9 209.5h.1M445 214.4h.1M437.8 205.9h.1M438.1 199.9h.1M449.4 207.4h.1M423.3 211.7h.1M435.8 209.9h.1M431.5 205.8h.1M436.9 210.3h.1M442.6 218.3h.1M424.6 210h.1M447.1 211.6h.1M437.7 205.7h.1M426.9 209.3h.1M440.5 209.2h.1M435.7 213.3h.1M445 210.3h.1M423.6 210.5h.1M427.8 212.6h.1M458 205.9h.1M433.1 217.5h.1M441.8 210.5h.1M449.5 209.3h.1M453.3 206.4h.1M448.8 211.2h.1M433.1 211.3h.1M443 206.9h.1M444.1 208.2h.1M449.4 197.1h.1M447.1 208.4h.1M433 210h.1M429.9 203.6h.1M451.7 206.3h.1M429 216h.1M444 207h.1M445.6 214.4h.1M428 203.3h.1M436.6 211.2h.1M430.7 206.8h.1M451.3 204.6h.1M431.1 212.3h.1M444 211.6h.1M436.5 203.3h.1M449.1 203h.1M444.1 211.9h.1M445.4 207.7h.1M441 213.2h.1M452.2 209.5h.1M434.8 215.1h.1M447.9 213.7h.1M442.4 205.5h.1M441.1 212.5h.1M440 210.3h.1M422.5 211.8h.1M447.5 210.9h.1M444.2 212.2h.1M452.9 199.3h.1M443 211.5h.1M432.9 209.1h.1M447 214.1h.1M430.7 218.8h.1M432.6 210.4h.1M442.1 209h.1M428.5 212.4h.1M450.6 206.8h.1M443.4 214.6h.1M436.3 212.6h.1M429.7 209.9h.1M449.6 204.3h.1M439.9 214.5h.1M458.7 209.6h.1M434.1 215.5h.1M437.2 203h.1M472.3 197.9h.1M467.9 203.8h.1M469.5 210.6h.1M473.6 203.4h.1M479.6 196.6h.1M468 206.1h.1M470.7 206.1h.1M463 210.4h.1M474.6 207.1h.1M466.3 208.2h.1M469.9 199.7h.1M472.6 194.8h.1M472.5 197.3h.1M476.8 205.5h.1M489.2 201.7h.1M465.1 203.9h.1M468.6 214.9h.1M476.3 202.2h.1M471.3 203.6h.1M461.4 210.3h.1M475.1 204.2h.1M480.3 195.3h.1M460.4 210.1h.1M471 203h.1M457.8 196.9h.1M477.7 198h.1M479.1 207.5h.1M473.7 206.3h.1M474.6 198.4h.1M464.2 208.3h.1M472.8 206.1h.1M466.5 203.7h.1M464.6 210.9h.1M480.7 196.8h.1M463.3 200.9h.1M466.2 205.7h.1M460.3 198.6h.1M473.4 200h.1M464.2 200.3h.1M476.6 206.4h.1M464.4 197.2h.1M465.5 207.5h.1M463.4 212.2h.1M463.8 211.1h.1M449.3 208.9h.1M462 199.9h.1M476.1 206.1h.1M473.6 199.9h.1M474.4 198.9h.1M464.9 208.2h.1M459.6 208.4h.1M470.6 202.7h.1M466.6 203.2h.1M472.5 200.8h.1M463.5 194h.1M470.3 200.3h.1M465.2 208.5h.1M470.7 199.2h.1M462.3 206h.1M483.3 201.2h.1M466.4 201.5h.1M470.2 208.1h.1M466.1 211.1h.1M466.3 210.7h.1M473.2 205.8h.1M476.5 195.1h.1M468.1 198.9h.1M471.2 208.8h.1M465.6 207.5h.1M473.5 214h.1M484 202.9h.1M466.5 209.6h.1M471.2 204.6h.1M469 204.2h.1M473.4 203.1h.1M465.7 205.1h.1M459.9 209.7h.1M467.6 208.7h.1M466.4 208.6h.1M467.6 207.1h.1M455.9 204.5h.1M468 197.4h.1M458.3 205.8h.1M474.7 190.7h.1M473.3 195.8h.1M472.7 198.6h.1M468.7 196.6h.1M467.4 202.3h.1M477.5 195.9h.1M467.6 196.5h.1M471.4 202.6h.1M465.3 199.7h.1M465.2 207.1h.1M466.6 198.4h.1M458.3 207.2h.1M459.2 213.9h.1M465.6 201h.1M463.7 210.8h.1M472.2 212.3h.1M466.7 211.5h.1M476.3 193h.1M466 213.2h.1M475.3 210.4h.1M476.1 202.4h.1M460.3 219.1h.1M480.3 207.2h.1M465.2 197.8h.1M475.4 204.3h.1M477.3 202.7h.1M463.6 206.4h.1M465 205.4h.1M479.2 202.3h.1M477.1 214.9h.1M465.1 206h.1M480.7 204.3h.1M465 202.8h.1M479.6 202.4h.1M480.8 202.7h.1M469.9 197.3h.1M476.4 193.8h.1M474 207.8h.1M469 208.6h.1M470 209.1h.1M474.2 211.7h.1M471.2 203.1h.1M473.2 209.6h.1M482.5 198.4h.1M465.5 203.7h.1M467.4 204.2h.1M477.1 204.3h.1M465.7 203.3h.1M475.2 199.5h.1M481.5 207.9h.1M464.2 206.4h.1M467.2 210.1h.1M472 208.8h.1M471.5 202.7h.1M466.6 206h.1M463.4 204.6h.1M456.9 206h.1M470.6 208.5h.1M477.2 206.1h.1M471.2 200.8h.1M471.6 211.7h.1M480.6 199.3h.1M463.2 200.8h.1M472.3 198.5h.1M474.3 206h.1M463.6 196.7h.1M480.2 201.8h.1M473.7 205.3h.1M474.3 208.8h.1M467 197.9h.1M479.1 205.2h.1M478.3 206h.1M472.4 197.9h.1M473.3 205.6h.1M481.1 198.8h.1M471.3 196h.1M467.1 208.9h.1M467.6 205.2h.1M472.6 194.8h.1M470.2 206.2h.1M474.9 201h.1M475.7 204.5h.1M463.9 210.3h.1M475.9 198.2h.1M473.4 196.2h.1M473 209.1h.1M477.9 207.2h.1M467.3 201.2h.1M479.6 203h.1M464.2 209.5h.1M471.2 203.7h.1M469 209h.1M467.7 205.1h.1M486.8 209.1h.1M476.2 197.4h.1M470.9 205.7h.1M463 198.4h.1M476.4 202.7h.1M462.5 203.8h.1M459 195.3h.1M464.2 206.2h.1M473.1 205.6h.1M469 201h.1M463 208.8h.1M465.4 204.6h.1M471.1 204.1h.1M465.6 194.3h.1M476.1 203h.1M467.2 199.3h.1M471.3 203.2h.1M467.5 205.3h.1M468.6 203.5h.1M480.3 202.3h.1M470.7 198.3h.1M473.3 199.8h.1M472.5 215.6h.1M463.2 216h.1" stroke="#000" stroke-width="0.85" stroke-opacity="0.6" stroke-linecap="square" fill="none"/>
<path d="M497.2 193.8h.1M421.8 197h.1M448.3 224h.1M507.8 227.8h.1M472.7 230.7h.1M444.5 233h.1M505.2 226.2h.1M456 230.3h.1M471.2 216.3h.1M431.5 196.4h.1M420.3 223.9h.1M425.9 189.2h.1M493.8 197.6h.1M421.2 218.1h.1M495.5 196.4h.1M475.6 224.7h.1M477 214.2h.1M478.1 207.1h.1M442.7 209.5h.1M443.9 185.1h.1M426.4 208.3h.1M429.1 203.9h.1M453.5 207.9h.1M498.9 203.6h.1M428.3 191.4h.1" stroke="#000" stroke-width="0.85" stroke-opacity="0.25" stroke-linecap="square" fill="none"/>
<rect x="442.5" y="190.2" width="52.5" height="39.1" fill="none" stroke="#444" stroke-width="0.8"/>
<path d="M413.8 162.2V266.5H515.3" stroke="#222" stroke-width=".8" fill="none"/>
<text x="424.8" y="275.2" font-size="5" text-anchor="middle" stroke="#000" stroke-width=".15">0</text>
<text x="409.5" y="257.2" font-size="5" text-anchor="end" stroke="#000" stroke-width=".15">0</text>
<text x="435.8" y="275.2" font-size="5" text-anchor="middle" stroke="#000" stroke-width=".15">10<tspan dy="-1.7" font-size="3.4">2</tspan></text>
<text x="409.5" y="245.7" font-size="5" text-anchor="end" stroke="#000" stroke-width=".15">10<tspan dy="-1.7" font-size="3.4">2</tspan></text>
<text x="460.6" y="275.2" font-size="5" text-anchor="middle" stroke="#000" stroke-width=".15">10<tspan dy="-1.7" font-size="3.4">3</tspan></text>
<text x="409.5" y="220.5" font-size="5" text-anchor="end" stroke="#000" stroke-width=".15">10<tspan dy="-1.7" font-size="3.4">3</tspan></text>
<text x="484.8" y="275.2" font-size="5" text-anchor="middle" stroke="#000" stroke-width=".15">10<tspan dy="-1.7" font-size="3.4">4</tspan></text>
<text x="409.5" y="196.5" font-size="5" text-anchor="end" stroke="#000" stroke-width=".15">10<tspan dy="-1.7" font-size="3.4">4</tspan></text>
<text x="508.5" y="275.2" font-size="5" text-anchor="middle" stroke="#000" stroke-width=".15">10<tspan dy="-1.7" font-size="3.4">5</tspan></text>
<text x="409.5" y="173" font-size="5" text-anchor="end" stroke="#000" stroke-width=".15">10<tspan dy="-1.7" font-size="3.4">5</tspan></text>
<path d="M435.8 266.5v1.6M413.8 244.2h-1.6M443.3 266.5v1M413.8 236.6h-1M447.6 266.5v1M413.8 232.2h-1M450.7 266.5v1M413.8 229h-1M453.1 266.5v1M413.8 226.6h-1M455.1 266.5v1M413.8 224.6h-1M456.8 266.5v1M413.8 222.9h-1M458.2 266.5v1M413.8 221.4h-1M459.5 266.5v1M413.8 220.2h-1M460.6 266.5v1.6M413.8 219h-1.6M467.9 266.5v1M413.8 211.8h-1M472.1 266.5v1M413.8 207.5h-1M475.2 266.5v1M413.8 204.6h-1M477.5 266.5v1M413.8 202.2h-1M479.4 266.5v1M413.8 200.3h-1M481.1 266.5v1M413.8 198.7h-1M482.5 266.5v1M413.8 197.3h-1M483.7 266.5v1M413.8 196.1h-1M484.8 266.5v1.6M413.8 195h-1.6M491.9 266.5v1M413.8 187.9h-1M496.1 266.5v1M413.8 183.8h-1M499.1 266.5v1M413.8 180.9h-1M501.4 266.5v1M413.8 178.6h-1M503.2 266.5v1M413.8 176.7h-1M504.8 266.5v1M413.8 175.1h-1M506.2 266.5v1M413.8 173.8h-1M507.4 266.5v1M413.8 172.6h-1M508.5 266.5v1.6M413.8 171.5h-1.6M416.3 266.5v1M413.8 264h-1M418.3 266.5v1M413.8 262h-1M420.3 266.5v1M413.8 260h-1M422.3 266.5v1M413.8 258h-1M427.3 266.5v1M413.8 253h-1M429.8 266.5v1M413.8 250.5h-1M431.8 266.5v1M413.8 248.5h-1M433.8 266.5v1M413.8 246.5h-1M515.6 266.5v1M413.8 164.4h-1M519.7 266.5v1" stroke="#333" stroke-width=".6" fill="none"/>
<path d="M424.8 266.5v2M413.8 255.7h-2" stroke="#000" stroke-width="1.3" fill="none"/>
<text x="468" y="286.1" font-size="6.4" text-anchor="middle" fill="#111">&lt;FITC-A&gt;:Thiazole Orange</text>
<text x="400.2" y="212.1" font-size="6.15" text-anchor="middle" transform="rotate(-90 400.2 212.1)" fill="#111">&lt;PE-A&gt;: CD41</text>
<text x="485.5" y="188.4" font-size="6.5" text-anchor="middle" fill="#222">92.2%</text>
<path d="M28.8 313.8V466.8H265.5" stroke="#000" stroke-width="1.25" fill="none"/>
<text x="25.6" y="469.4" font-size="7.4" text-anchor="end" fill="#000">0</text>
<text x="25.6" y="454.1" font-size="7.4" text-anchor="end" fill="#000">10</text>
<text x="25.6" y="438.8" font-size="7.4" text-anchor="end" fill="#000">20</text>
<text x="25.6" y="423.5" font-size="7.4" text-anchor="end" fill="#000">30</text>
<text x="25.6" y="408.2" font-size="7.4" text-anchor="end" fill="#000">40</text>
<text x="25.6" y="392.9" font-size="7.4" text-anchor="end" fill="#000">50</text>
<text x="25.6" y="377.6" font-size="7.4" text-anchor="end" fill="#000">60</text>
<text x="25.6" y="362.3" font-size="7.4" text-anchor="end" fill="#000">70</text>
<text x="25.6" y="347" font-size="7.4" text-anchor="end" fill="#000">80</text>
<text x="25.6" y="331.7" font-size="7.4" text-anchor="end" fill="#000">90</text>
<text x="25.6" y="316.4" font-size="7.4" text-anchor="end" fill="#000">100</text>
<path d="M28.8 466.8h-2M28.8 451.5h-2M28.8 436.2h-2M28.8 420.9h-2M28.8 405.6h-2M28.8 390.3h-2M28.8 375h-2M28.8 359.7h-2M28.8 344.4h-2M28.8 329.1h-2M28.8 313.8h-2" stroke="#000" stroke-width=".7"/>
<rect x="33.1" y="325" width="10.6" height="141.8" fill="#000"/>
<rect x="43.9" y="447.5" width="9.3" height="19.3" fill="#c9c9c9" stroke="#000" stroke-width=".8"/>
<rect x="67.8" y="352.5" width="10.6" height="114.3" fill="#000"/>
<rect x="78.6" y="449.2" width="9.3" height="17.6" fill="#c9c9c9" stroke="#000" stroke-width=".8"/>
<rect x="101.7" y="382.6" width="10.6" height="84.2" fill="#000"/>
<rect x="112.5" y="451.2" width="9.3" height="15.6" fill="#c9c9c9" stroke="#000" stroke-width=".8"/>
<rect x="136.2" y="388.8" width="10.6" height="78" fill="#000"/>
<rect x="147" y="450.6" width="9.3" height="16.2" fill="#c9c9c9" stroke="#000" stroke-width=".8"/>
<rect x="171.1" y="393.4" width="10.6" height="73.4" fill="#000"/>
<rect x="181.9" y="450.6" width="9.3" height="16.2" fill="#c9c9c9" stroke="#000" stroke-width=".8"/>
<rect x="210.3" y="449.1" width="9.7" height="17.7" fill="#fff" stroke="#000" stroke-width="1.1"/>
<path d="M210.3 452.4h9.7M210.3 455.7h9.7M210.3 459h9.7M210.3 462.3h9.7" stroke="#000" stroke-width="1.3"/>
<rect x="241.2" y="446.1" width="9.6" height="20.7" fill="#fff" stroke="#000" stroke-width="1.1"/>
<path d="M38.4 325v-1.2M36.2 323.7h4.4M48.5 447.5v-3.1M46.3 444.5h4.4M73.1 352.5v-6.7M70.9 345.8h4.4M83.2 449.2v-4.1M81 445.1h4.4M107 382.6v-8.9M104.8 373.8h4.4M141.5 388.8v-2.1M139.3 386.6h4.4M215.2 449.1v-1.2M213.2 447.9h4M245.6 446.1V439.2M243.3 439.2h4.6" stroke="#000" stroke-width="1.1" fill="none"/>
<path d="M63.5 466.8v1.5M97.5 466.8v1.5M131.5 466.8v1.5M166 466.8v1.5M200.5 466.8v1.5M231 466.8v1.5M265.2 466.8v1.5" stroke="#000" stroke-width=".7"/>
<text x="46.6" y="476.4" font-size="8.1" text-anchor="middle" fill="#000">E11.5</text>
<text x="79.1" y="476.4" font-size="8.1" text-anchor="middle" fill="#000">E12.5</text>
<text x="112.5" y="476.4" font-size="8.1" text-anchor="middle" fill="#000">E13.5</text>
<text x="145.4" y="476.4" font-size="8.1" text-anchor="middle" fill="#000">E14.5</text>
<text x="179.1" y="476.4" font-size="8.1" text-anchor="middle" fill="#000">E15.5</text>
<text x="213.8" y="476.4" font-size="8.1" text-anchor="middle" fill="#000">Neonate</text>
<text x="246.2" y="476.4" font-size="8.1" text-anchor="middle" fill="#000">Non-</text>
<text x="246.4" y="484.9" font-size="8.1" text-anchor="middle" fill="#000">pregnant</text>
<text x="246.6" y="493" font-size="8.1" text-anchor="middle" fill="#000">adult</text>
<text x="11.2" y="385.9" font-size="9.9" text-anchor="middle" transform="rotate(-90 11.2 385.9)" fill="#111">Percent Reticulated Platelets</text>
<rect x="208.7" y="320" width="5.6" height="5.6" fill="#000"/>
<rect x="208.7" y="333.8" width="5.6" height="5.6" fill="#c4c4c4"/>
<text x="217.3" y="326.3" font-size="10.7" text-anchor="start">Fetal</text>
<text x="217.3" y="340.1" font-size="10.7" text-anchor="start">Maternal</text>
<path d="M313.3 322.8V466.8H394.3" stroke="#000" stroke-width="1" fill="none"/>
<text x="310.1" y="468.7" font-size="5.3" text-anchor="end" fill="#000">0</text>
<text x="310.1" y="452.7" font-size="5.3" text-anchor="end" fill="#000">1000</text>
<text x="310.1" y="436.7" font-size="5.3" text-anchor="end" fill="#000">2000</text>
<text x="310.1" y="420.7" font-size="5.3" text-anchor="end" fill="#000">3000</text>
<text x="310.1" y="404.7" font-size="5.3" text-anchor="end" fill="#000">4000</text>
<text x="310.1" y="388.7" font-size="5.3" text-anchor="end" fill="#000">5000</text>
<text x="310.1" y="372.7" font-size="5.3" text-anchor="end" fill="#000">6000</text>
<text x="310.1" y="356.7" font-size="5.3" text-anchor="end" fill="#000">7000</text>
<text x="310.1" y="340.7" font-size="5.3" text-anchor="end" fill="#000">8000</text>
<text x="310.1" y="324.7" font-size="5.3" text-anchor="end" fill="#000">9000</text>
<path d="M313.3 466.8h-1.8M313.3 450.8h-1.8M313.3 434.8h-1.8M313.3 418.8h-1.8M313.3 402.8h-1.8M313.3 386.8h-1.8M313.3 370.8h-1.8M313.3 354.8h-1.8M313.3 338.8h-1.8M313.3 322.8h-1.8M355 466.8v1.8M394.3 466.8v1.8" stroke="#000" stroke-width=".7"/>
<rect x="324.6" y="352.4" width="19.6" height="114.4" fill="#808080" stroke="#000" stroke-width=".9"/>
<rect x="363.8" y="446" width="19.2" height="20.8" fill="#e2e2e2" stroke="#000" stroke-width=".9"/>
<path d="M334.5 338.7V366.3M373.3 441.5V451.5M372.3 441.5h2M372.3 451.5h2" stroke="#000" stroke-width=".8"/>
<text x="333" y="476" font-size="7.2" text-anchor="middle" fill="#111">No</text>
<text x="333.3" y="482.8" font-size="7.2" text-anchor="middle" fill="#111">Treatment</text>
<text x="373.8" y="476" font-size="7.2" text-anchor="middle" fill="#111">10 µg/mL</text>
<text x="373.8" y="482.8" font-size="7.2" text-anchor="middle" fill="#111">RNase</text>
<text x="291.2" y="389" font-size="9.2" text-anchor="middle" transform="rotate(-90 291.2 389)" fill="#111">Mean TO fluorescence</text>
</svg></body></html>
